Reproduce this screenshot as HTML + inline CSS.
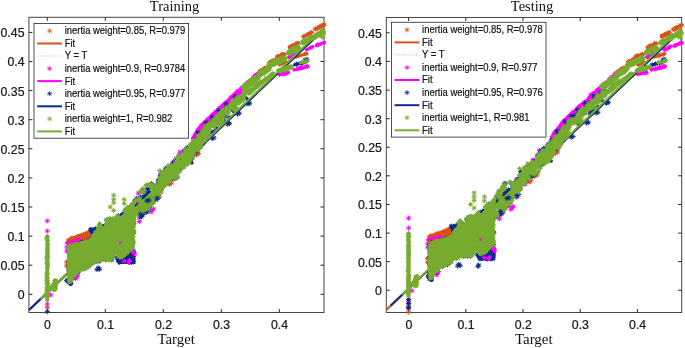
<!DOCTYPE html>
<html><head><meta charset="utf-8"><title>Regression plots</title>
<style>
html,body{margin:0;padding:0;background:#fff}
svg{display:block}
.t{font-family:"Liberation Sans",sans-serif;font-size:12.9px;fill:#1a1a1a;stroke:#1a1a1a;stroke-width:0.25px}
.l{font-family:"Liberation Sans",sans-serif;font-size:10.5px;fill:#111;stroke:#111;stroke-width:0.2px}
.s{font-family:"Liberation Serif",serif;font-size:14.5px;fill:#111}
.s2{font-family:"Liberation Serif",serif;font-size:14.9px;fill:#111}
</style></head><body>
<svg width="685" height="348" viewBox="0 0 685 348">
<rect width="685" height="348" fill="#fff"/>
<clipPath id="cL"><rect x="26.3" y="14.7" width="300.3" height="300.4"/></clipPath>
<rect x="28.9" y="17.3" width="295.1" height="295.2" fill="none" stroke="#444" stroke-width="1"/>
<path d="M47.3 312.5v-3.5M47.3 17.3v3.5M105.3 312.5v-3.5M105.3 17.3v3.5M163.3 312.5v-3.5M163.3 17.3v3.5M221.3 312.5v-3.5M221.3 17.3v3.5M279.3 312.5v-3.5M279.3 17.3v3.5M28.9 294.3h3.5M324 294.3h-3.5M28.9 265.2h3.5M324 265.2h-3.5M28.9 236.1h3.5M324 236.1h-3.5M28.9 207h3.5M324 207h-3.5M28.9 177.9h3.5M324 177.9h-3.5M28.9 148.8h3.5M324 148.8h-3.5M28.9 119.7h3.5M324 119.7h-3.5M28.9 90.6h3.5M324 90.6h-3.5M28.9 61.5h3.5M324 61.5h-3.5M28.9 32.4h3.5M324 32.4h-3.5" stroke="#262626" stroke-width="1" fill="none"/>
<path d="M66.8 238.9L66.8 246.2L66.9 246.2L88.6 239.3L91.7 236.6L91.7 229.9L90.2 230.1L75.3 235.6L75.2 235.6L70.3 237L66.8 238.9Z" fill="#D95319" fill-rule="evenodd" clip-path="url(#cL)"/><path d="M325.3 26.1L325.5 26L325.6 25.9L325.7 25.8L325.9 25.7L326 25.5L326.1 25.4L326.1 25.2L326.2 25.1L326.3 24.9L326.3 24.7L326.3 24.5L326.3 24.4L326.3 24.2L326.2 24L326.2 23.9L326.1 23.7L326 23.5L325.9 23.4L325.8 23.3L325.7 23.1L325.5 23L325.4 22.9L325.2 22.9L325.1 22.8L324.9 22.7L324.7 22.7L324.5 22.7L324.4 22.7L324.2 22.7L324 22.8L323.9 22.8L323.7 22.9L314.7 27.4L314.5 27.5L314.4 27.6L314.3 27.7L314.1 27.8L314 28L313.9 28.1L313.9 28.3L313.8 28.4L313.7 28.6L313.7 28.8L313.7 29L313.7 29.1L313.7 29.3L313.8 29.5L313.8 29.6L313.9 29.8L314 30L314.1 30.1L314.2 30.2L314.3 30.4L314.5 30.5L314.6 30.6L314.8 30.6L314.9 30.7L315.1 30.8L315.3 30.8L315.5 30.8L315.6 30.8L315.8 30.8L316 30.7L316.1 30.7L316.3 30.6L325.3 26.1Z" fill="#D95319" fill-rule="evenodd" clip-path="url(#cL)"/><path d="M312.4 34.1L312.6 34L312.7 33.9L312.8 33.7L313 33.6L313.1 33.5L313.2 33.3L313.3 33.1L313.3 33L313.4 32.8L313.4 32.6L313.4 32.4L313.4 32.2L313.4 32L313.3 31.9L313.3 31.7L313.2 31.5L313.1 31.3L313 31.2L312.8 31.1L312.7 30.9L312.6 30.8L312.4 30.7L312.2 30.6L312.1 30.6L311.9 30.5L311.7 30.5L311.5 30.5L311.3 30.5L311.1 30.5L311 30.6L310.8 30.6L310.6 30.7L303.1 34.7L302.9 34.8L302.8 34.9L302.7 35.1L302.5 35.2L302.4 35.3L302.3 35.5L302.2 35.7L302.2 35.8L302.1 36L302.1 36.2L302.1 36.4L302.1 36.6L302.1 36.8L302.2 36.9L302.2 37.1L302.3 37.3L302.4 37.5L302.5 37.6L302.7 37.7L302.8 37.9L302.9 38L303.1 38.1L303.3 38.2L303.4 38.2L303.6 38.3L303.8 38.3L304 38.3L304.2 38.3L304.4 38.3L304.5 38.2L304.7 38.2L304.9 38.1L312.4 34.1Z" fill="#D95319" fill-rule="evenodd" clip-path="url(#cL)"/><path d="M299.1 44.7L299.3 44.6L299.4 44.5L299.6 44.4L299.7 44.3L299.8 44.1L299.9 44L300 43.8L300.1 43.6L300.1 43.5L300.2 43.3L300.2 43.1L300.2 42.9L300.2 42.7L300.1 42.5L300.1 42.4L300 42.2L299.9 42L299.8 41.9L299.7 41.7L299.6 41.6L299.4 41.5L299.3 41.4L299.1 41.3L298.9 41.2L298.8 41.2L298.6 41.1L298.4 41.1L298.2 41.1L298 41.1L297.8 41.2L297.7 41.2L297.5 41.3L288.7 45.5L288.5 45.6L288.4 45.7L288.2 45.8L288.1 45.9L288 46.1L287.9 46.2L287.8 46.4L287.7 46.6L287.7 46.7L287.6 46.9L287.6 47.1L287.6 47.3L287.6 47.5L287.7 47.7L287.7 47.8L287.8 48L287.9 48.2L288 48.3L288.1 48.5L288.2 48.6L288.4 48.7L288.5 48.8L288.7 48.9L288.9 49L289 49L289.2 49.1L289.4 49.1L289.6 49.1L289.8 49.1L290 49L290.1 49L290.3 48.9L299.1 44.7Z" fill="#D95319" fill-rule="evenodd" clip-path="url(#cL)"/><path d="M285.1 55.9L285.3 55.8L285.4 55.7L285.6 55.6L285.7 55.5L285.8 55.4L286 55.3L286.1 55.1L286.1 54.9L286.2 54.8L286.3 54.6L286.3 54.4L286.3 54.3L286.3 54.1L286.3 53.9L286.2 53.7L286.2 53.6L286.1 53.4L286 53.3L285.9 53.1L285.8 53L285.7 52.9L285.6 52.7L285.4 52.6L285.2 52.6L285.1 52.5L284.9 52.4L284.7 52.4L284.6 52.4L284.4 52.4L284.2 52.4L284 52.5L283.9 52.5L276.4 55.3L276.2 55.4L276.1 55.5L275.9 55.6L275.8 55.7L275.7 55.8L275.5 55.9L275.4 56.1L275.4 56.3L275.3 56.4L275.2 56.6L275.2 56.8L275.2 56.9L275.2 57.1L275.2 57.3L275.3 57.5L275.3 57.6L275.4 57.8L275.5 57.9L275.6 58.1L275.7 58.2L275.8 58.3L275.9 58.5L276.1 58.6L276.3 58.6L276.4 58.7L276.6 58.8L276.8 58.8L276.9 58.8L277.1 58.8L277.3 58.8L277.5 58.7L277.6 58.7L285.1 55.9Z" fill="#D95319" fill-rule="evenodd" clip-path="url(#cL)"/><path d="M307.5 55.1L307.6 55.1L307.8 55L307.9 54.9L308 54.8L308.1 54.7L308.2 54.6L308.3 54.5L308.4 54.3L308.5 54.2L308.5 54L308.6 53.9L308.6 53.7L308.6 53.6L308.6 53.4L308.6 53.3L308.5 53.1L308.5 53L308.4 52.8L308.3 52.7L308.2 52.6L308.1 52.5L308 52.4L307.9 52.3L307.7 52.2L307.6 52.1L307.4 52.1L307.3 52L307.1 52L307 52L306.8 52L306.7 52L306.5 52.1L295.5 55.6L295.4 55.6L295.2 55.7L295.1 55.8L295 55.9L294.9 56L294.8 56.1L294.7 56.2L294.6 56.4L294.5 56.5L294.5 56.7L294.4 56.8L294.4 57L294.4 57.1L294.4 57.3L294.4 57.4L294.5 57.6L294.5 57.7L294.6 57.9L294.7 58L294.8 58.1L294.9 58.2L295 58.3L295.1 58.4L295.3 58.5L295.4 58.6L295.6 58.6L295.7 58.7L295.9 58.7L296 58.7L296.2 58.7L296.3 58.7L296.5 58.6L307.5 55.1Z" fill="#D95319" fill-rule="evenodd" clip-path="url(#cL)"/><path d="M286.5 63.2L286.7 63.2L286.8 63.1L286.9 63L287 62.8L287.1 62.7L287.2 62.6L287.3 62.5L287.3 62.3L287.4 62.2L287.4 62L287.4 61.8L287.4 61.7L287.4 61.5L287.3 61.4L287.3 61.2L287.2 61.1L287.2 60.9L287.1 60.8L287 60.7L286.8 60.6L286.7 60.5L286.6 60.4L286.5 60.3L286.3 60.3L286.2 60.2L286 60.2L285.8 60.2L285.7 60.2L285.5 60.2L285.4 60.3L285.2 60.3L285.1 60.4L278.9 63.5L278.7 63.5L278.6 63.6L278.5 63.7L278.4 63.9L278.3 64L278.2 64.1L278.1 64.2L278.1 64.4L278 64.5L278 64.7L278 64.9L278 65L278 65.2L278.1 65.3L278.1 65.5L278.2 65.6L278.2 65.8L278.3 65.9L278.4 66L278.6 66.1L278.7 66.2L278.8 66.3L278.9 66.4L279.1 66.4L279.2 66.5L279.4 66.5L279.6 66.5L279.7 66.5L279.9 66.5L280 66.4L280.2 66.4L280.3 66.3L286.5 63.2Z" fill="#D95319" fill-rule="evenodd" clip-path="url(#cL)"/><path d="M283.5 59L283.8 58.8L284 58.7L284.1 58.6L284.3 58.4L284.4 58.2L284.6 58L284.7 57.8L284.8 57.6L284.8 57.3L284.9 57.1L284.9 56.9L284.9 56.6L284.9 56.4L284.8 56.2L284.7 56L284.7 55.7L284.5 55.5L284.4 55.3L284.3 55.2L284.1 55L283.9 54.9L283.7 54.7L283.5 54.6L283.3 54.5L283 54.5L282.8 54.4L282.6 54.4L282.3 54.4L282.1 54.4L281.9 54.5L281.7 54.6L281.4 54.7L269.5 60.5L269.2 60.7L269 60.8L268.9 60.9L268.7 61.1L268.6 61.3L268.4 61.5L268.3 61.7L268.2 61.9L268.2 62.2L268.1 62.4L268.1 62.6L268.1 62.9L268.1 63.1L268.2 63.3L268.3 63.5L268.3 63.8L268.5 64L268.6 64.2L268.7 64.3L268.9 64.5L269.1 64.6L269.3 64.8L269.5 64.9L269.7 65L270 65L270.2 65.1L270.4 65.1L270.7 65.1L270.9 65.1L271.1 65L271.3 64.9L271.6 64.8L283.5 59Z" fill="#D95319" fill-rule="evenodd" clip-path="url(#cL)"/><path d="M267.5 69.5L267.7 69.4L267.9 69.3L268 69.1L268.1 69L268.2 68.8L268.3 68.6L268.4 68.4L268.4 68.2L268.5 68.1L268.5 67.9L268.5 67.7L268.5 67.5L268.4 67.3L268.4 67.1L268.3 66.9L268.2 66.7L268.1 66.6L268 66.4L267.8 66.3L267.7 66.2L267.5 66.1L267.3 66L267.1 65.9L266.9 65.9L266.8 65.8L266.6 65.8L266.4 65.8L266.2 65.8L266 65.9L265.8 65.9L265.6 66L265.4 66.1L258.5 70.5L258.3 70.6L258.1 70.7L258 70.9L257.9 71L257.8 71.2L257.7 71.4L257.6 71.6L257.6 71.8L257.5 71.9L257.5 72.1L257.5 72.3L257.5 72.5L257.6 72.7L257.6 72.9L257.7 73.1L257.8 73.3L257.9 73.4L258 73.6L258.2 73.7L258.3 73.8L258.5 73.9L258.7 74L258.9 74.1L259.1 74.1L259.2 74.2L259.4 74.2L259.6 74.2L259.8 74.2L260 74.1L260.2 74.1L260.4 74L260.6 73.9L267.5 69.5Z" fill="#D95319" fill-rule="evenodd" clip-path="url(#cL)"/>
<path d="M87.3 231.8h5M89.8 229.3v5M88 230l3.5 3.5M88 233.5l3.5 -3.5M85.9 232.1h5M88.4 229.6v5M86.6 230.3l3.5 3.5M86.6 233.8l3.5 -3.5M86.6 233.2h5M89.1 230.7v5M87.4 231.4l3.5 3.5M87.4 234.9l3.5 -3.5M81.1 235.1h5M83.6 232.6v5M81.8 233.3l3.5 3.5M81.8 236.8l3.5 -3.5M83 233.8h5M85.5 231.3v5M83.8 232.1l3.5 3.5M83.8 235.6l3.5 -3.5M84 234.5h5M86.5 232v5M84.8 232.7l3.5 3.5M84.8 236.2l3.5 -3.5M85.1 234.1h5M87.6 231.6v5M85.8 232.4l3.5 3.5M85.8 235.9l3.5 -3.5M87 233.6h5M89.5 231.1v5M87.8 231.8l3.5 3.5M87.8 235.3l3.5 -3.5M75.4 236.3h5M77.9 233.8v5M76.1 234.6l3.5 3.5M76.1 238.1l3.5 -3.5M78 236.3h5M80.5 233.8v5M78.8 234.6l3.5 3.5M78.8 238.1l3.5 -3.5M80.7 235.1h5M83.2 232.6v5M81.5 233.3l3.5 3.5M81.5 236.8l3.5 -3.5M81.1 235.2h5M83.6 232.7v5M81.8 233.5l3.5 3.5M81.8 237l3.5 -3.5M82.9 235.7h5M85.4 233.2v5M83.6 233.9l3.5 3.5M83.6 237.4l3.5 -3.5M85.2 235.3h5M87.7 232.8v5M86 233.5l3.5 3.5M86 237l3.5 -3.5M85.9 235.6h5M88.4 233.1v5M86.7 233.8l3.5 3.5M86.7 237.3l3.5 -3.5M73 237.6h5M75.5 235.1v5M73.7 235.9l3.5 3.5M73.7 239.4l3.5 -3.5M74.6 237.7h5M77.1 235.2v5M75.4 235.9l3.5 3.5M75.4 239.4l3.5 -3.5M75.5 237h5M78 234.5v5M76.3 235.2l3.5 3.5M76.3 238.7l3.5 -3.5M76.7 237.4h5M79.2 234.9v5M77.5 235.6l3.5 3.5M77.5 239.1l3.5 -3.5M78.4 236.4h5M80.9 233.9v5M79.1 234.7l3.5 3.5M79.1 238.2l3.5 -3.5M80.3 236.6h5M82.8 234.1v5M81.1 234.8l3.5 3.5M81.1 238.3l3.5 -3.5M82.2 236.4h5M84.7 233.9v5M83 234.7l3.5 3.5M83 238.2l3.5 -3.5M83.4 236.6h5M85.9 234.1v5M84.1 234.8l3.5 3.5M84.1 238.3l3.5 -3.5M85.2 236.9h5M87.7 234.4v5M86 235.2l3.5 3.5M86 238.7l3.5 -3.5M69.5 238h5M72 235.5v5M70.3 236.3l3.5 3.5M70.3 239.8l3.5 -3.5M72 239.5h5M74.5 237v5M72.8 237.7l3.5 3.5M72.8 241.2l3.5 -3.5M73.1 238.6h5M75.6 236.1v5M73.8 236.9l3.5 3.5M73.8 240.4l3.5 -3.5M74.1 238h5M76.6 235.5v5M74.9 236.2l3.5 3.5M74.9 239.7l3.5 -3.5M76.3 238.2h5M78.8 235.7v5M77 236.5l3.5 3.5M77 240l3.5 -3.5M78.8 238.1h5M81.3 235.6v5M79.6 236.3l3.5 3.5M79.6 239.8l3.5 -3.5M79.1 239.4h5M81.6 236.9v5M79.9 237.7l3.5 3.5M79.9 241.2l3.5 -3.5M81.7 238h5M84.2 235.5v5M82.4 236.3l3.5 3.5M82.4 239.8l3.5 -3.5M83.4 237.8h5M85.9 235.3v5M84.2 236.1l3.5 3.5M84.2 239.6l3.5 -3.5M66.6 240.6h5M69.1 238.1v5M67.4 238.8l3.5 3.5M67.4 242.3l3.5 -3.5M69 240.6h5M71.5 238.1v5M69.7 238.9l3.5 3.5M69.7 242.4l3.5 -3.5M70.3 239.7h5M72.8 237.2v5M71.1 237.9l3.5 3.5M71.1 241.4l3.5 -3.5M72.8 241h5M75.3 238.5v5M73.6 239.2l3.5 3.5M73.6 242.7l3.5 -3.5M74.6 240.6h5M77.1 238.1v5M75.3 238.9l3.5 3.5M75.3 242.4l3.5 -3.5M76.2 240.5h5M78.7 238v5M77 238.8l3.5 3.5M77 242.3l3.5 -3.5M76.9 240.2h5M79.4 237.7v5M77.7 238.4l3.5 3.5M77.7 241.9l3.5 -3.5M78.9 239.3h5M81.4 236.8v5M79.6 237.6l3.5 3.5M79.6 241.1l3.5 -3.5M80 239.8h5M82.5 237.3v5M80.7 238l3.5 3.5M80.7 241.5l3.5 -3.5M65.9 241.1h5M68.4 238.6v5M66.6 239.4l3.5 3.5M66.6 242.9l3.5 -3.5M67.5 241.1h5M70 238.6v5M68.3 239.4l3.5 3.5M68.3 242.9l3.5 -3.5M70 242.3h5M72.5 239.8v5M70.7 240.5l3.5 3.5M70.7 244l3.5 -3.5M72 241.6h5M74.5 239.1v5M72.8 239.8l3.5 3.5M72.8 243.3l3.5 -3.5M67.9 243.6h5M70.4 241.1v5M68.6 241.9l3.5 3.5M68.6 245.4l3.5 -3.5M68.3 243.6h5M70.8 241.1v5M69 241.9l3.5 3.5M69 245.4l3.5 -3.5M318.5 26.1h5M321 23.6v5M319.2 24.4l3.5 3.5M319.2 27.9l3.5 -3.5M320.6 24.8h5M323.1 22.3v5M321.4 23l3.5 3.5M321.4 26.5l3.5 -3.5M321.1 25.3h5M323.6 22.8v5M321.9 23.5l3.5 3.5M321.9 27l3.5 -3.5M316.3 27.5h5M318.8 25v5M317 25.8l3.5 3.5M317 29.3l3.5 -3.5M316.9 27.2h5M319.4 24.7v5M317.7 25.5l3.5 3.5M317.7 29l3.5 -3.5M319.5 26.3h5M322 23.8v5M320.2 24.5l3.5 3.5M320.2 28l3.5 -3.5M312.8 29.1h5M315.3 26.6v5M313.5 27.4l3.5 3.5M313.5 30.9l3.5 -3.5M314.8 28.3h5M317.3 25.8v5M315.5 26.6l3.5 3.5M315.5 30.1l3.5 -3.5M306.6 33.9h5M309.1 31.4v5M307.4 32.1l3.5 3.5M307.4 35.6l3.5 -3.5M309 32.8h5M311.5 30.3v5M309.7 31l3.5 3.5M309.7 34.5l3.5 -3.5M306.2 34.5h5M308.7 32v5M307 32.8l3.5 3.5M307 36.3l3.5 -3.5M300.9 36.7h5M303.4 34.2v5M301.7 35l3.5 3.5M301.7 38.5l3.5 -3.5M294.7 43.1h5M297.2 40.6v5M295.4 41.4l3.5 3.5M295.4 44.9l3.5 -3.5M290 46.1h5M292.5 43.6v5M290.8 44.3l3.5 3.5M290.8 47.8l3.5 -3.5M291.1 45.8h5M293.6 43.3v5M291.9 44.1l3.5 3.5M291.9 47.6l3.5 -3.5M288.1 47.1h5M290.6 44.6v5M288.9 45.4l3.5 3.5M288.9 48.9l3.5 -3.5M290.1 46.2h5M292.6 43.7v5M290.9 44.4l3.5 3.5M290.9 47.9l3.5 -3.5M280.3 54.4h5M282.8 51.9v5M281 52.6l3.5 3.5M281 56.1l3.5 -3.5M279 54.7h5M281.5 52.2v5M279.8 52.9l3.5 3.5M279.8 56.4l3.5 -3.5M280.9 54.9h5M283.4 52.4v5M281.6 53.2l3.5 3.5M281.6 56.7l3.5 -3.5M275.3 56.1h5M277.8 53.6v5M276 54.4l3.5 3.5M276 57.9l3.5 -3.5M303.3 53.8h5M305.8 51.3v5M304.1 52l3.5 3.5M304.1 55.5l3.5 -3.5M281.4 62.5h5M283.9 60v5M282.1 60.8l3.5 3.5M282.1 64.3l3.5 -3.5M282.8 62.1h5M285.3 59.6v5M283.5 60.3l3.5 3.5M283.5 63.8l3.5 -3.5M279.2 57.7h5M281.7 55.2v5M280 55.9l3.5 3.5M280 59.4l3.5 -3.5M276.2 58.7h5M278.7 56.2v5M276.9 57l3.5 3.5M276.9 60.5l3.5 -3.5M276.8 58.4h5M279.3 55.9v5M277.5 56.7l3.5 3.5M277.5 60.2l3.5 -3.5M278.3 57.8h5M280.8 55.3v5M279.1 56l3.5 3.5M279.1 59.5l3.5 -3.5M272.5 60.8h5M275 58.3v5M273.3 59.1l3.5 3.5M273.3 62.6l3.5 -3.5M268.9 61.8h5M271.4 59.3v5M269.7 60l3.5 3.5M269.7 63.5l3.5 -3.5M269.8 60.8h5M272.3 58.3v5M270.6 59l3.5 3.5M270.6 62.5l3.5 -3.5M272.6 60.9h5M275.1 58.4v5M273.4 59.1l3.5 3.5M273.4 62.6l3.5 -3.5M273.6 61.3h5M276.1 58.8v5M274.3 59.5l3.5 3.5M274.3 63l3.5 -3.5M267.1 62.4h5M269.6 59.9v5M267.8 60.7l3.5 3.5M267.8 64.2l3.5 -3.5M271 62.5h5M273.5 60v5M271.8 60.8l3.5 3.5M271.8 64.3l3.5 -3.5M262 68.4h5M264.5 65.9v5M262.7 66.6l3.5 3.5M262.7 70.1l3.5 -3.5M260.3 69.9h5M262.8 67.4v5M261 68.2l3.5 3.5M261 71.7l3.5 -3.5M261.5 69.1h5M264 66.6v5M262.2 67.4l3.5 3.5M262.2 70.9l3.5 -3.5M257.9 71h5M260.4 68.5v5M258.6 69.3l3.5 3.5M258.6 72.8l3.5 -3.5M258.1 70.9h5M260.6 68.4v5M258.8 69.1l3.5 3.5M258.8 72.6l3.5 -3.5M44.8 307.3h5M47.3 304.8v5M45.5 305.6l3.5 3.5M45.5 309.1l3.5 -3.5M116 259.5h5M118.5 257v5M116.8 257.8l3.5 3.5M116.8 261.2l3.5 -3.5M172.5 178.5h5M175 176v5M173.2 176.8l3.5 3.5M173.2 180.2l3.5 -3.5M175 177h5M177.5 174.5v5M175.8 175.2l3.5 3.5M175.8 178.8l3.5 -3.5M167 184.3h5M169.5 181.8v5M167.8 182.6l3.5 3.5M167.8 186.1l3.5 -3.5M169 183h5M171.5 180.5v5M169.8 181.2l3.5 3.5M169.8 184.8l3.5 -3.5M194 155h5M196.5 152.5v5M194.8 153.2l3.5 3.5M194.8 156.8l3.5 -3.5M196 153.5h5M198.5 151v5M196.8 151.8l3.5 3.5M196.8 155.2l3.5 -3.5M64.1 262h5M66.6 259.5v5M64.8 260.2l3.5 3.5M64.8 263.8l3.5 -3.5M64 266h5M66.5 263.5v5M64.8 264.2l3.5 3.5M64.8 267.8l3.5 -3.5" stroke="#D95319" stroke-width="1.0" fill="none" clip-path="url(#cL)"/>

<line x1="29" y1="310" x2="324" y2="29.3" stroke="#D95319" stroke-width="2" clip-path="url(#cL)"/>
<line x1="28.9" y1="312.5" x2="324" y2="17.3" stroke="#777" stroke-width="0.6" stroke-dasharray="0.8 1.6"/>
<path d="M191 138.9L194.4 143.1L197.8 136.6L197.8 136.6L197.9 136.5L205.9 126.5L206 126.4L216.5 116.5L223.5 109.5L223.6 109.5L230.5 104.3L233.9 100L233.9 99.9L234 99.9L245.5 90.4L250.4 85.4L250.5 85.4L258.5 77.9L258.5 77.9L258.6 77.8L262.3 75.3L258.8 71.1L255 73.6L247.1 81.1L242.1 86.1L242 86.1L230.6 95.6L227.2 99.9L227.2 99.9L227.1 100L227.1 100L220.1 105.2L213.2 112.2L213.1 112.2L202.6 122L194.7 131.9L191 138.9Z" fill="#FF00FF" fill-rule="evenodd" clip-path="url(#cL)"/><path d="M74.3 242.1L74.4 242.1L80.3 240.5L80.5 240.4L80.6 240.4L80.7 240.3L80.8 240.2L80.9 240.1L81 240.1L81.1 240L81.1 239.9L81.2 239.7L81.2 239.6L81.3 239.5L81.3 239.4L81.3 239.2L81.3 239.1L81.3 239L81.3 238.9L81.2 238.7L81.2 238.6L81.1 238.5L81 238.4L80.9 238.3L80.9 238.2L80.8 238.1L80.7 238.1L80.5 238L80.4 238L80.3 237.9L80.2 237.9L80 237.9L79.9 237.9L79.8 237.9L79.6 237.9L73.7 239.5L73.6 239.6L66 241.7L65.8 241.8L65.7 241.8L65.6 241.9L65.5 242L65.4 242.1L65.3 242.2L65.2 242.3L65.2 242.4L65.1 242.5L65.1 242.6L65 242.7L65 242.9L65 243L65 243.1L65 243.2L65.1 243.4L65.1 243.5L65.1 243.6L65.2 243.7L65.3 243.8L65.4 243.9L65.5 244L65.6 244.1L65.7 244.1L65.8 244.2L65.9 244.2L66 244.3L66.2 244.3L66.3 244.3L66.4 244.3L66.5 244.3L66.7 244.2L74.3 242.1Z" fill="#FF00FF" fill-rule="evenodd" clip-path="url(#cL)"/><path d="M325.2 44L325.4 43.9L325.5 43.8L325.7 43.7L325.8 43.6L325.9 43.5L326 43.4L326.1 43.2L326.2 43.1L326.2 42.9L326.3 42.8L326.3 42.6L326.3 42.4L326.3 42.3L326.3 42.1L326.2 41.9L326.2 41.8L326.1 41.6L326 41.5L325.9 41.3L325.8 41.2L325.7 41.1L325.6 41L325.4 40.9L325.3 40.8L325.1 40.8L325 40.7L324.8 40.7L324.6 40.7L324.5 40.7L324.3 40.7L324.1 40.8L324 40.8L315.9 44L315.7 44.1L315.6 44.2L315.4 44.3L315.3 44.4L315.2 44.5L315.1 44.6L315 44.8L314.9 44.9L314.9 45.1L314.8 45.2L314.8 45.4L314.8 45.6L314.8 45.7L314.8 45.9L314.9 46.1L314.9 46.2L315 46.4L315.1 46.5L315.2 46.7L315.3 46.8L315.4 46.9L315.5 47L315.7 47.1L315.8 47.2L316 47.2L316.1 47.3L316.3 47.3L316.5 47.3L316.6 47.3L316.8 47.3L317 47.2L317.1 47.2L325.2 44Z" fill="#FF00FF" fill-rule="evenodd" clip-path="url(#cL)"/><path d="M313.5 48L313.7 47.9L313.8 47.9L313.9 47.8L314 47.6L314.1 47.5L314.2 47.4L314.3 47.2L314.3 47.1L314.4 46.9L314.4 46.8L314.4 46.6L314.4 46.5L314.4 46.3L314.3 46.2L314.3 46L314.2 45.9L314.1 45.7L314.1 45.6L314 45.5L313.8 45.4L313.7 45.3L313.6 45.2L313.4 45.1L313.3 45.1L313.1 45L313 45L312.8 45L312.7 45L312.5 45L312.4 45.1L312.2 45.1L312.1 45.2L305.8 48.4L305.6 48.5L305.5 48.5L305.4 48.6L305.3 48.8L305.2 48.9L305.1 49L305 49.2L305 49.3L304.9 49.5L304.9 49.6L304.9 49.8L304.9 49.9L304.9 50.1L305 50.2L305 50.4L305.1 50.5L305.2 50.7L305.2 50.8L305.3 50.9L305.5 51L305.6 51.1L305.7 51.2L305.9 51.3L306 51.3L306.2 51.4L306.3 51.4L306.5 51.4L306.6 51.4L306.8 51.4L306.9 51.3L307.1 51.3L307.2 51.2L313.5 48Z" fill="#FF00FF" fill-rule="evenodd" clip-path="url(#cL)"/><path d="M296.8 54.6L297 54.5L297.1 54.4L297.2 54.3L297.3 54.1L297.4 54L297.5 53.9L297.6 53.7L297.6 53.5L297.7 53.4L297.7 53.2L297.7 53.1L297.7 52.9L297.7 52.7L297.6 52.6L297.6 52.4L297.5 52.3L297.4 52.1L297.3 52L297.2 51.9L297 51.8L296.9 51.7L296.8 51.6L296.6 51.5L296.4 51.5L296.3 51.4L296.1 51.4L296 51.4L295.8 51.4L295.6 51.4L295.5 51.5L295.3 51.5L295.1 51.6L288.2 55.6L288 55.7L287.9 55.8L287.8 55.9L287.7 56.1L287.6 56.2L287.5 56.3L287.4 56.5L287.4 56.7L287.3 56.8L287.3 57L287.3 57.1L287.3 57.3L287.3 57.5L287.4 57.6L287.4 57.8L287.5 57.9L287.6 58.1L287.7 58.2L287.8 58.3L288 58.4L288.1 58.5L288.2 58.6L288.4 58.7L288.6 58.7L288.7 58.8L288.9 58.8L289 58.8L289.2 58.8L289.4 58.8L289.5 58.7L289.7 58.7L289.9 58.6L296.8 54.6Z" fill="#FF00FF" fill-rule="evenodd" clip-path="url(#cL)"/><path d="M288.8 74.1L289 74L289.1 74L289.3 73.9L289.4 73.8L289.5 73.7L289.7 73.6L289.8 73.5L289.8 73.4L289.9 73.2L290 73.1L290 72.9L290.1 72.8L290.1 72.6L290.1 72.5L290.1 72.3L290.1 72.2L290 72L290 71.9L289.9 71.7L289.8 71.6L289.7 71.5L289.6 71.3L289.5 71.2L289.4 71.2L289.2 71.1L289.1 71L288.9 71L288.8 70.9L288.6 70.9L288.5 70.9L288.3 70.9L288.1 70.9L278.7 73L278.5 73.1L278.4 73.1L278.2 73.2L278.1 73.3L278 73.4L277.8 73.5L277.7 73.6L277.7 73.7L277.6 73.9L277.5 74L277.5 74.2L277.4 74.3L277.4 74.5L277.4 74.6L277.4 74.8L277.4 74.9L277.5 75.1L277.5 75.2L277.6 75.4L277.7 75.5L277.8 75.6L277.9 75.8L278 75.9L278.1 75.9L278.3 76L278.4 76.1L278.6 76.1L278.7 76.2L278.9 76.2L279 76.2L279.2 76.2L279.4 76.2L288.8 74.1Z" fill="#FF00FF" fill-rule="evenodd" clip-path="url(#cL)"/><path d="M307.9 68L308.1 67.9L308.2 67.8L308.3 67.8L308.5 67.7L308.6 67.6L308.7 67.5L308.8 67.3L308.9 67.2L309 67.1L309 66.9L309.1 66.8L309.1 66.6L309.1 66.5L309.1 66.3L309.1 66.2L309 66L309 65.8L308.9 65.7L308.9 65.6L308.8 65.4L308.7 65.3L308.6 65.2L308.4 65.1L308.3 65L308.2 64.9L308 64.9L307.9 64.8L307.7 64.8L307.6 64.8L307.4 64.8L307.3 64.8L307.1 64.9L293.6 68.3L293.4 68.4L293.3 68.5L293.2 68.5L293 68.6L292.9 68.7L292.8 68.8L292.7 69L292.6 69.1L292.5 69.2L292.5 69.4L292.4 69.5L292.4 69.7L292.4 69.8L292.4 70L292.4 70.1L292.5 70.3L292.5 70.5L292.6 70.6L292.6 70.7L292.7 70.9L292.8 71L292.9 71.1L293.1 71.2L293.2 71.3L293.3 71.4L293.5 71.4L293.6 71.5L293.8 71.5L293.9 71.5L294.1 71.5L294.2 71.5L294.4 71.4L307.9 68Z" fill="#FF00FF" fill-rule="evenodd" clip-path="url(#cL)"/>
<path d="M254.1 74.7h5M256.6 72.2v5M254.8 73l3.5 3.5M254.8 76.5l3.5 -3.5M255.6 73.5h5M258.1 71v5M256.4 71.8l3.5 3.5M256.4 75.3l3.5 -3.5M253.2 75.1h5M255.7 72.6v5M253.9 73.4l3.5 3.5M253.9 76.9l3.5 -3.5M253.7 76.3h5M256.2 73.8v5M254.4 74.6l3.5 3.5M254.4 78.1l3.5 -3.5M256.1 76.2h5M258.6 73.7v5M256.8 74.4l3.5 3.5M256.8 77.9l3.5 -3.5M251.2 77h5M253.7 74.5v5M252 75.3l3.5 3.5M252 78.8l3.5 -3.5M253.7 76.3h5M256.2 73.8v5M254.4 74.6l3.5 3.5M254.4 78.1l3.5 -3.5M255.6 76.4h5M258.1 73.9v5M256.3 74.6l3.5 3.5M256.3 78.1l3.5 -3.5M251.3 78.5h5M253.8 76v5M252 76.7l3.5 3.5M252 80.2l3.5 -3.5M253.9 78.1h5M256.4 75.6v5M254.6 76.4l3.5 3.5M254.6 79.9l3.5 -3.5M249 80.1h5M251.5 77.6v5M249.8 78.4l3.5 3.5M249.8 81.9l3.5 -3.5M249.8 80.3h5M252.3 77.8v5M250.6 78.6l3.5 3.5M250.6 82.1l3.5 -3.5M246.8 81.6h5M249.3 79.1v5M247.5 79.8l3.5 3.5M247.5 83.3l3.5 -3.5M248.3 81.7h5M250.8 79.2v5M249 80l3.5 3.5M249 83.5l3.5 -3.5M248.6 81.4h5M251.1 78.9v5M249.3 79.6l3.5 3.5M249.3 83.1l3.5 -3.5M244.7 82.7h5M247.2 80.2v5M245.5 81l3.5 3.5M245.5 84.5l3.5 -3.5M246.9 82.4h5M249.4 79.9v5M247.6 80.7l3.5 3.5M247.6 84.2l3.5 -3.5M248.2 82.5h5M250.7 80v5M249 80.7l3.5 3.5M249 84.2l3.5 -3.5M243.2 84.5h5M245.7 82v5M243.9 82.8l3.5 3.5M243.9 86.3l3.5 -3.5M244.1 85.3h5M246.6 82.8v5M244.9 83.5l3.5 3.5M244.9 87l3.5 -3.5M245.5 84.8h5M248 82.3v5M246.2 83.1l3.5 3.5M246.2 86.6l3.5 -3.5M244.1 86.5h5M246.6 84v5M244.9 84.7l3.5 3.5M244.9 88.2l3.5 -3.5M244.6 86.6h5M247.1 84.1v5M245.3 84.9l3.5 3.5M245.3 88.4l3.5 -3.5M239.4 87.9h5M241.9 85.4v5M240.2 86.2l3.5 3.5M240.2 89.7l3.5 -3.5M240.1 87.8h5M242.6 85.3v5M240.9 86.1l3.5 3.5M240.9 89.6l3.5 -3.5M243.2 87.5h5M245.7 85v5M244 85.8l3.5 3.5M244 89.3l3.5 -3.5M243.5 87.1h5M246 84.6v5M244.3 85.4l3.5 3.5M244.3 88.9l3.5 -3.5M238.6 89.3h5M241.1 86.8v5M239.3 87.5l3.5 3.5M239.3 91l3.5 -3.5M240 89.7h5M242.5 87.2v5M240.7 87.9l3.5 3.5M240.7 91.4l3.5 -3.5M241.3 89.7h5M243.8 87.2v5M242.1 88l3.5 3.5M242.1 91.5l3.5 -3.5M237.1 90.8h5M239.6 88.3v5M237.8 89.1l3.5 3.5M237.8 92.6l3.5 -3.5M239.7 90.3h5M242.2 87.8v5M240.4 88.6l3.5 3.5M240.4 92.1l3.5 -3.5M240.2 90.9h5M242.7 88.4v5M240.9 89.2l3.5 3.5M240.9 92.7l3.5 -3.5M233.9 92.6h5M236.4 90.1v5M234.7 90.8l3.5 3.5M234.7 94.3l3.5 -3.5M235.5 91.1h5M238 88.6v5M236.3 89.4l3.5 3.5M236.3 92.9l3.5 -3.5M237.1 92.3h5M239.6 89.8v5M237.9 90.5l3.5 3.5M237.9 94l3.5 -3.5M239.3 91.3h5M241.8 88.8v5M240 89.5l3.5 3.5M240 93l3.5 -3.5M234.9 92.6h5M237.4 90.1v5M235.7 90.8l3.5 3.5M235.7 94.3l3.5 -3.5M236.3 93.1h5M238.8 90.6v5M237.1 91.4l3.5 3.5M237.1 94.9l3.5 -3.5M236.9 92.5h5M239.4 90v5M237.6 90.8l3.5 3.5M237.6 94.3l3.5 -3.5M231.9 94.3h5M234.4 91.8v5M232.6 92.6l3.5 3.5M232.6 96.1l3.5 -3.5M232.4 95h5M234.9 92.5v5M233.2 93.3l3.5 3.5M233.2 96.8l3.5 -3.5M235.1 94.9h5M237.6 92.4v5M235.8 93.1l3.5 3.5M235.8 96.6l3.5 -3.5M231.5 96.4h5M234 93.9v5M232.2 94.6l3.5 3.5M232.2 98.1l3.5 -3.5M232 96.3h5M234.5 93.8v5M232.7 94.5l3.5 3.5M232.7 98l3.5 -3.5M234.1 95.7h5M236.6 93.2v5M234.9 94l3.5 3.5M234.9 97.5l3.5 -3.5M228.3 97.6h5M230.8 95.1v5M229.1 95.9l3.5 3.5M229.1 99.4l3.5 -3.5M229.8 97.7h5M232.3 95.2v5M230.5 96l3.5 3.5M230.5 99.5l3.5 -3.5M231.9 97.5h5M234.4 95v5M232.7 95.7l3.5 3.5M232.7 99.2l3.5 -3.5M227 100.1h5M229.5 97.6v5M227.8 98.4l3.5 3.5M227.8 101.9l3.5 -3.5M229.2 98.5h5M231.7 96v5M230 96.8l3.5 3.5M230 100.3l3.5 -3.5M226.5 100.6h5M229 98.1v5M227.2 98.8l3.5 3.5M227.2 102.3l3.5 -3.5M228 100h5M230.5 97.5v5M228.7 98.3l3.5 3.5M228.7 101.8l3.5 -3.5M224.2 102h5M226.7 99.5v5M224.9 100.2l3.5 3.5M224.9 103.7l3.5 -3.5M225.4 102.5h5M227.9 100v5M226.2 100.8l3.5 3.5M226.2 104.3l3.5 -3.5M227.6 101.8h5M230.1 99.3v5M228.4 100.1l3.5 3.5M228.4 103.6l3.5 -3.5M222.7 103.1h5M225.2 100.6v5M223.5 101.4l3.5 3.5M223.5 104.9l3.5 -3.5M225.1 104h5M227.6 101.5v5M225.8 102.3l3.5 3.5M225.8 105.8l3.5 -3.5M226 103.3h5M228.5 100.8v5M226.7 101.5l3.5 3.5M226.7 105l3.5 -3.5M220.3 105.8h5M222.8 103.3v5M221 104l3.5 3.5M221 107.5l3.5 -3.5M221.7 104.4h5M224.2 101.9v5M222.5 102.7l3.5 3.5M222.5 106.2l3.5 -3.5M224 105.4h5M226.5 102.9v5M224.8 103.7l3.5 3.5M224.8 107.2l3.5 -3.5M220.3 106.8h5M222.8 104.3v5M221.1 105l3.5 3.5M221.1 108.5l3.5 -3.5M220.7 107.3h5M223.2 104.8v5M221.4 105.6l3.5 3.5M221.4 109.1l3.5 -3.5M222.6 106h5M225.1 103.5v5M223.4 104.2l3.5 3.5M223.4 107.7l3.5 -3.5M216.6 108.3h5M219.1 105.8v5M217.3 106.5l3.5 3.5M217.3 110l3.5 -3.5M218.4 108.5h5M220.9 106v5M219.2 106.7l3.5 3.5M219.2 110.2l3.5 -3.5M220.3 107.6h5M222.8 105.1v5M221 105.8l3.5 3.5M221 109.3l3.5 -3.5M215.9 110.5h5M218.4 108v5M216.7 108.7l3.5 3.5M216.7 112.2l3.5 -3.5M217.9 109.4h5M220.4 106.9v5M218.7 107.7l3.5 3.5M218.7 111.2l3.5 -3.5M219.2 109.2h5M221.7 106.7v5M220 107.4l3.5 3.5M220 110.9l3.5 -3.5M214.4 111.2h5M216.9 108.7v5M215.2 109.5l3.5 3.5M215.2 113l3.5 -3.5M216.2 110.4h5M218.7 107.9v5M217 108.6l3.5 3.5M217 112.1l3.5 -3.5M217.3 111.5h5M219.8 109v5M218 109.8l3.5 3.5M218 113.3l3.5 -3.5M212.4 112.5h5M214.9 110v5M213.2 110.7l3.5 3.5M213.2 114.2l3.5 -3.5M214.1 112.1h5M216.6 109.6v5M214.8 110.3l3.5 3.5M214.8 113.8l3.5 -3.5M209.8 114.9h5M212.3 112.4v5M210.6 113.1l3.5 3.5M210.6 116.6l3.5 -3.5M212.6 114.5h5M215.1 112v5M213.4 112.7l3.5 3.5M213.4 116.2l3.5 -3.5M213.3 113.5h5M215.8 111v5M214.1 111.8l3.5 3.5M214.1 115.3l3.5 -3.5M215 113.3h5M217.5 110.8v5M215.7 111.6l3.5 3.5M215.7 115.1l3.5 -3.5M209.5 115.6h5M212 113.1v5M210.2 113.9l3.5 3.5M210.2 117.4l3.5 -3.5M211.7 115.1h5M214.2 112.6v5M212.4 113.4l3.5 3.5M212.4 116.9l3.5 -3.5M212.3 116.1h5M214.8 113.6v5M213 114.4l3.5 3.5M213 117.9l3.5 -3.5M209.3 117.5h5M211.8 115v5M210 115.7l3.5 3.5M210 119.2l3.5 -3.5M209.5 117.2h5M212 114.7v5M210.2 115.4l3.5 3.5M210.2 118.9l3.5 -3.5M205.7 119h5M208.2 116.5v5M206.4 117.3l3.5 3.5M206.4 120.8l3.5 -3.5M207.4 118.9h5M209.9 116.4v5M208.1 117.1l3.5 3.5M208.1 120.6l3.5 -3.5M210 118.7h5M212.5 116.2v5M210.7 116.9l3.5 3.5M210.7 120.4l3.5 -3.5M205.2 120.6h5M207.7 118.1v5M205.9 118.9l3.5 3.5M205.9 122.4l3.5 -3.5M207.1 120.1h5M209.6 117.6v5M207.8 118.3l3.5 3.5M207.8 121.8l3.5 -3.5M207.9 119.4h5M210.4 116.9v5M208.6 117.6l3.5 3.5M208.6 121.1l3.5 -3.5M204.4 121.1h5M206.9 118.6v5M205.1 119.4l3.5 3.5M205.1 122.9l3.5 -3.5M206.7 120.8h5M209.2 118.3v5M207.5 119l3.5 3.5M207.5 122.5l3.5 -3.5M201.7 122.5h5M204.2 120v5M202.5 120.8l3.5 3.5M202.5 124.3l3.5 -3.5M203.5 123.6h5M206 121.1v5M204.2 121.9l3.5 3.5M204.2 125.4l3.5 -3.5M199.1 125.2h5M201.6 122.7v5M199.9 123.5l3.5 3.5M199.9 127l3.5 -3.5M200.7 124.7h5M203.2 122.2v5M201.5 123l3.5 3.5M201.5 126.5l3.5 -3.5M202.9 124.2h5M205.4 121.7v5M203.6 122.5l3.5 3.5M203.6 126l3.5 -3.5M198.6 126.4h5M201.1 123.9v5M199.4 124.6l3.5 3.5M199.4 128.1l3.5 -3.5M199.8 125.3h5M202.3 122.8v5M200.5 123.6l3.5 3.5M200.5 127.1l3.5 -3.5M202.2 125.9h5M204.7 123.4v5M203 124.1l3.5 3.5M203 127.6l3.5 -3.5M197.7 127.9h5M200.2 125.4v5M198.5 126.2l3.5 3.5M198.5 129.7l3.5 -3.5M198.9 126.9h5M201.4 124.4v5M199.6 125.2l3.5 3.5M199.6 128.7l3.5 -3.5M200.5 126.7h5M203 124.2v5M201.2 125l3.5 3.5M201.2 128.5l3.5 -3.5M195.8 129.6h5M198.3 127.1v5M196.5 127.8l3.5 3.5M196.5 131.3l3.5 -3.5M197.1 129.2h5M199.6 126.7v5M197.8 127.5l3.5 3.5M197.8 131l3.5 -3.5M197.6 128.4h5M200.1 125.9v5M198.4 126.6l3.5 3.5M198.4 130.1l3.5 -3.5M199.3 129.5h5M201.8 127v5M200 127.7l3.5 3.5M200 131.2l3.5 -3.5M195.8 130.2h5M198.3 127.7v5M196.5 128.4l3.5 3.5M196.5 131.9l3.5 -3.5M197.8 130.7h5M200.3 128.2v5M198.6 129l3.5 3.5M198.6 132.5l3.5 -3.5M194.8 131.5h5M197.3 129v5M195.5 129.7l3.5 3.5M195.5 133.2l3.5 -3.5M197.1 131.2h5M199.6 128.7v5M197.9 129.5l3.5 3.5M197.9 133l3.5 -3.5M194.5 134.1h5M197 131.6v5M195.3 132.4l3.5 3.5M195.3 135.9l3.5 -3.5M195.3 133.2h5M197.8 130.7v5M196 131.5l3.5 3.5M196 135l3.5 -3.5M192.9 134.6h5M195.4 132.1v5M193.7 132.8l3.5 3.5M193.7 136.3l3.5 -3.5M195.4 134.3h5M197.9 131.8v5M196.2 132.6l3.5 3.5M196.2 136.1l3.5 -3.5M192 136.4h5M194.5 133.9v5M192.7 134.7l3.5 3.5M192.7 138.2l3.5 -3.5M190.9 137.3h5M193.4 134.8v5M191.7 135.6l3.5 3.5M191.7 139.1l3.5 -3.5M190.9 138.7h5M193.4 136.2v5M191.6 137l3.5 3.5M191.6 140.5l3.5 -3.5M191.6 139.3h5M194.1 136.8v5M192.4 137.5l3.5 3.5M192.4 141l3.5 -3.5M315.3 44.8h5M317.8 42.3v5M316 43l3.5 3.5M316 46.5l3.5 -3.5M308.5 47.6h5M311 45.1v5M309.3 45.9l3.5 3.5M309.3 49.4l3.5 -3.5M290.3 54.6h5M292.8 52.1v5M291 52.9l3.5 3.5M291 56.4l3.5 -3.5M292.4 53.8h5M294.9 51.3v5M293.2 52.1l3.5 3.5M293.2 55.6l3.5 -3.5M288.4 56.4h5M290.9 53.9v5M289.1 54.6l3.5 3.5M289.1 58.1l3.5 -3.5M289.3 55.4h5M291.8 52.9v5M290 53.6l3.5 3.5M290 57.1l3.5 -3.5M286.6 57.4h5M289.1 54.9v5M287.3 55.7l3.5 3.5M287.3 59.2l3.5 -3.5M284.6 72.8h5M287.1 70.3v5M285.4 71l3.5 3.5M285.4 74.5l3.5 -3.5M277 74.3h5M279.5 71.8v5M277.7 72.6l3.5 3.5M277.7 76.1l3.5 -3.5M280.6 74.1h5M283.1 71.6v5M281.3 72.3l3.5 3.5M281.3 75.8l3.5 -3.5M281.9 73.8h5M284.4 71.3v5M282.7 72l3.5 3.5M282.7 75.5l3.5 -3.5M283.3 73.2h5M285.8 70.7v5M284.1 71.5l3.5 3.5M284.1 75l3.5 -3.5M303.4 66.4h5M305.9 63.9v5M304.1 64.7l3.5 3.5M304.1 68.2l3.5 -3.5M305.1 66.4h5M307.6 63.9v5M305.8 64.6l3.5 3.5M305.8 68.1l3.5 -3.5M299.3 67.8h5M301.8 65.3v5M300 66l3.5 3.5M300 69.5l3.5 -3.5M299.8 67.4h5M302.3 64.9v5M300.6 65.7l3.5 3.5M300.6 69.2l3.5 -3.5M295.6 68.5h5M298.1 66v5M296.4 66.7l3.5 3.5M296.4 70.2l3.5 -3.5M297.2 68.4h5M299.7 65.9v5M297.9 66.7l3.5 3.5M297.9 70.2l3.5 -3.5M44.8 220.9h5M47.3 218.4v5M45.5 219.2l3.5 3.5M45.5 222.7l3.5 -3.5M44.8 231h5M47.3 228.5v5M45.5 229.2l3.5 3.5M45.5 232.8l3.5 -3.5M44.8 304h5M47.3 301.5v5M45.5 302.2l3.5 3.5M45.5 305.8l3.5 -3.5M74.1 277.2h5M76.6 274.7v5M74.8 275.4l3.5 3.5M74.8 278.9l3.5 -3.5M75.1 275.3h5M77.6 272.8v5M75.8 273.6l3.5 3.5M75.8 277.1l3.5 -3.5M73.1 278.6h5M75.6 276.1v5M73.8 276.9l3.5 3.5M73.8 280.4l3.5 -3.5M130.7 251.8h5M133.2 249.3v5M131.4 250.1l3.5 3.5M131.4 253.6l3.5 -3.5M131.8 253.5h5M134.3 251v5M132.6 251.8l3.5 3.5M132.6 255.2l3.5 -3.5M120.5 260h5M123 257.5v5M121.2 258.2l3.5 3.5M121.2 261.8l3.5 -3.5M122.5 261h5M125 258.5v5M123.2 259.2l3.5 3.5M123.2 262.8l3.5 -3.5M126.5 261.7h5M129 259.2v5M127.2 259.9l3.5 3.5M127.2 263.4l3.5 -3.5M136.9 221.6h5M139.4 219.1v5M137.7 219.8l3.5 3.5M137.7 223.3l3.5 -3.5M137 218h5M139.5 215.5v5M137.8 216.2l3.5 3.5M137.8 219.8l3.5 -3.5M64.3 247h5M66.8 244.5v5M65 245.2l3.5 3.5M65 248.8l3.5 -3.5M64.3 251h5M66.8 248.5v5M65 249.2l3.5 3.5M65 252.8l3.5 -3.5M149.5 210.5h5M152 208v5M150.2 208.8l3.5 3.5M150.2 212.2l3.5 -3.5M151 209h5M153.5 206.5v5M151.8 207.2l3.5 3.5M151.8 210.8l3.5 -3.5M148.5 212h5M151 209.5v5M149.2 210.2l3.5 3.5M149.2 213.8l3.5 -3.5M177.5 168.7h5M180 166.2v5M178.2 166.9l3.5 3.5M178.2 170.4l3.5 -3.5M185 153.3h5M187.5 150.8v5M185.8 151.6l3.5 3.5M185.8 155.1l3.5 -3.5M177.5 152h5M180 149.5v5M178.2 150.2l3.5 3.5M178.2 153.8l3.5 -3.5M171 161.5h5M173.5 159v5M171.8 159.8l3.5 3.5M171.8 163.2l3.5 -3.5M48.1 294.8h5M50.6 292.3v5M48.9 293.1l3.5 3.5M48.9 296.6l3.5 -3.5" stroke="#FF00FF" stroke-width="1.0" fill="none" clip-path="url(#cL)"/>
<path d="M306.4 63.4L306.6 63.3L306.7 63.2L306.8 63.2L307 63.1L307.1 63L307.2 62.9L307.3 62.7L307.4 62.6L307.5 62.5L307.5 62.3L307.6 62.2L307.6 62L307.6 61.9L307.6 61.7L307.6 61.5L307.5 61.4L307.5 61.2L307.4 61.1L307.4 61L307.3 60.8L307.2 60.7L307.1 60.6L306.9 60.5L306.8 60.4L306.7 60.3L306.5 60.3L306.4 60.2L306.2 60.2L306.1 60.2L305.9 60.2L305.7 60.2L305.6 60.3L294.1 63.2L293.9 63.3L293.8 63.4L293.7 63.4L293.5 63.5L293.4 63.6L293.3 63.7L293.2 63.9L293.1 64L293 64.1L293 64.3L292.9 64.4L292.9 64.6L292.9 64.7L292.9 64.9L292.9 65.1L293 65.2L293 65.4L293.1 65.5L293.1 65.6L293.2 65.8L293.3 65.9L293.4 66L293.6 66.1L293.7 66.2L293.8 66.3L294 66.3L294.1 66.4L294.3 66.4L294.4 66.4L294.6 66.4L294.8 66.4L294.9 66.3L306.4 63.4Z" fill="#0B2A8C" fill-rule="evenodd" clip-path="url(#cL)"/><path d="M91.8 236.7L91.9 236.9L92 237L92.1 237.2L92.2 237.3L92.4 237.4L92.5 237.5L92.7 237.6L92.8 237.7L93 237.7L93.2 237.8L93.3 237.8L93.5 237.8L93.7 237.8L93.9 237.8L94 237.7L94.2 237.7L94.4 237.6L94.5 237.5L94.7 237.4L94.8 237.3L94.9 237.1L95 237L95.1 236.8L95.2 236.7L95.2 236.5L95.3 236.3L95.3 236.2L95.3 236L95.3 235.8L95.3 235.6L95.2 235.5L95.1 235.3L92.2 228.3L92.1 228.1L92 228L91.9 227.8L91.8 227.7L91.6 227.6L91.5 227.5L91.3 227.4L91.2 227.3L91 227.3L90.8 227.2L90.7 227.2L90.5 227.2L90.3 227.2L90.1 227.2L90 227.3L89.8 227.3L89.6 227.4L89.5 227.5L89.3 227.6L89.2 227.7L89.1 227.9L89 228L88.9 228.2L88.8 228.3L88.8 228.5L88.7 228.7L88.7 228.8L88.7 229L88.7 229.2L88.7 229.4L88.8 229.5L88.9 229.7L91.8 236.7Z" fill="#0B2A8C" fill-rule="evenodd" clip-path="url(#cL)"/><path d="M103.3 228.8L103.4 228.7L103.6 228.7L103.7 228.6L103.8 228.6L103.9 228.5L104.1 228.4L104.2 228.3L104.2 228.1L104.3 228L104.4 227.9L104.4 227.7L104.5 227.6L104.5 227.5L104.5 227.3L104.5 227.2L104.5 227L104.4 226.9L104.4 226.7L104.3 226.6L104.3 226.5L104.2 226.4L104.1 226.2L104 226.1L103.8 226.1L103.7 226L103.6 225.9L103.4 225.9L103.3 225.8L103.2 225.8L103 225.8L102.9 225.8L102.7 225.8L90.7 228.1L90.6 228.2L90.4 228.2L90.3 228.3L90.2 228.3L90.1 228.4L89.9 228.5L89.8 228.6L89.8 228.8L89.7 228.9L89.6 229L89.6 229.2L89.5 229.3L89.5 229.4L89.5 229.6L89.5 229.7L89.5 229.9L89.6 230L89.6 230.2L89.7 230.3L89.7 230.4L89.8 230.5L89.9 230.7L90 230.8L90.2 230.8L90.3 230.9L90.4 231L90.6 231L90.7 231.1L90.8 231.1L91 231.1L91.1 231.1L91.3 231.1L103.3 228.8Z" fill="#0B2A8C" fill-rule="evenodd" clip-path="url(#cL)"/><path d="M115 256.5L116.2 259.7L118.5 263.9L135.2 263.9L134.9 249.1L115 256.5Z" fill="#0B2A8C" fill-rule="evenodd" clip-path="url(#cL)"/><path d="M68.7 285L68.8 285.2L69 285.4L69.2 285.5L69.4 285.6L69.6 285.7L69.9 285.8L70.1 285.9L70.3 285.9L70.6 285.9L70.8 285.9L71 285.8L71.2 285.8L71.5 285.7L71.7 285.6L71.9 285.5L72.1 285.3L72.2 285.2L72.4 285L72.5 284.8L72.6 284.6L72.7 284.4L72.8 284.1L72.9 283.9L72.9 283.7L72.9 283.4L72.9 283.2L72.8 283L72.8 282.8L72.7 282.5L72.6 282.3L72.5 282.1L72.3 281.9L69.3 278.5L69.2 278.3L69 278.1L68.8 278L68.6 277.9L68.4 277.8L68.1 277.7L67.9 277.6L67.7 277.6L67.4 277.6L67.2 277.6L67 277.7L66.8 277.7L66.5 277.8L66.3 277.9L66.1 278L65.9 278.2L65.8 278.3L65.6 278.5L65.5 278.7L65.4 278.9L65.3 279.1L65.2 279.4L65.1 279.6L65.1 279.8L65.1 280.1L65.1 280.3L65.2 280.5L65.2 280.7L65.3 281L65.4 281.2L65.5 281.4L65.7 281.6L68.7 285Z" fill="#0B2A8C" fill-rule="evenodd" clip-path="url(#cL)"/><path d="M150.9 193.8L150.9 193.7L151 193.6L151 193.6L151.1 193.5L151.1 193.4L151.2 193.3L151.2 193.2L151.3 193.1L151.3 193L151.3 192.9L151.4 192.8L151.4 192.7L151.4 192.6L151.4 192.5L151.4 192.4L151.4 192.3L151.4 192.2L151.4 192.1L151.4 192L151.3 191.9L151.3 191.8L151.3 191.7L151.2 191.6L151.2 191.5L151.2 191.4L151.1 191.3L151.1 191.3L151 191.1L150.9 191.1L150.9 191L150.8 190.9L150.7 190.8L150.6 190.8L150.5 190.7L150.5 190.7L150.4 190.6L150.3 190.6L150.2 190.5L150.1 190.5L150 190.4L149.9 190.4L149.8 190.4L149.7 190.3L149.6 190.3L149.5 190.3L149.4 190.3L149.3 190.3L149.2 190.3L149.1 190.3L149 190.3L148.9 190.3L148.8 190.4L148.7 190.4L148.6 190.4L148.5 190.5L148.4 190.5L148.3 190.5L148.2 190.6L148.2 190.6L148 190.7L148 190.8L147.9 190.9L147.9 190.9L142.4 196.1L142.3 196.1L142.2 196.2L142.2 196.3L142.1 196.4L142.1 196.4L142 196.5L142 196.6L141.9 196.7L141.9 196.8L141.8 196.9L141.8 197L141.8 197.1L141.7 197.2L141.7 197.3L141.7 197.4L141.7 197.5L141.7 197.6L141.7 197.7L141.7 197.8L141.7 197.9L141.7 198L141.8 198.1L141.8 198.2L141.8 198.3L141.9 198.4L141.9 198.5L141.9 198.6L142 198.7L142 198.7L142.1 198.9L142.2 198.9L142.2 199L142.3 199.1L142.4 199.2L142.5 199.2L142.6 199.3L142.6 199.3L142.7 199.4L142.8 199.4L142.9 199.5L143 199.5L143.1 199.6L143.2 199.6L143.3 199.6L143.4 199.7L143.5 199.7L143.6 199.7L143.7 199.7L143.8 199.7L143.9 199.7L144 199.7L144.1 199.7L144.2 199.7L144.3 199.6L144.4 199.6L144.5 199.6L144.6 199.5L144.7 199.5L144.8 199.5L144.9 199.4L144.9 199.4L145.1 199.3L145.1 199.2L145.2 199.1L145.2 199.1L150.7 193.9L150.8 193.9L150.9 193.8ZM139.2 203.3L139.2 203.3L139.2 203.2L139.2 203.2L139.3 203.1L139.3 203L139.3 203L139.3 202.9L139.3 202.9L139.3 202.8L139.3 202.7L139.3 202.7L139.3 202.6L139.3 202.5L139.3 202.5L139.2 202.4L139.2 202.4L139.2 202.3L139.2 202.2L139.1 202.2L139.1 202.1L139.1 202.1L139 202L139 202L139 201.9L138.9 201.9L138.9 201.8L138.8 201.8L138.8 201.8L138.7 201.7L138.7 201.7L138.6 201.6L138.5 201.6L138.5 201.6L138.4 201.6L138.4 201.6L138.3 201.5L138.2 201.5L138.2 201.5L138.1 201.5L138.1 201.5L138 201.5L137.9 201.5L137.9 201.5L137.8 201.5L137.7 201.5L137.7 201.5L137.6 201.6L137.6 201.6L137.5 201.6L137.4 201.6L137.4 201.7L137.3 201.7L137.3 201.7L137.2 201.8L137.2 201.8L137.1 201.8L137.1 201.9L137 201.9L137 202L136.9 202L136.9 202.1L134.7 205.3L134.7 205.3L134.7 205.3L134.6 205.4L134.6 205.5L134.6 205.5L134.6 205.6L134.6 205.6L134.5 205.7L134.5 205.8L134.5 205.8L134.5 205.9L134.5 205.9L134.5 206L134.5 206.1L134.5 206.1L134.5 206.2L134.5 206.3L134.5 206.3L134.6 206.4L134.6 206.4L134.6 206.5L134.6 206.6L134.7 206.6L134.7 206.7L134.7 206.7L134.8 206.8L134.8 206.8L134.8 206.9L134.9 206.9L134.9 207L135 207L135 207L135.1 207.1L135.1 207.1L135.2 207.2L135.3 207.2L135.3 207.2L135.4 207.2L135.4 207.2L135.5 207.3L135.6 207.3L135.6 207.3L135.7 207.3L135.7 207.3L135.8 207.3L135.9 207.3L135.9 207.3L136 207.3L136.1 207.3L136.1 207.3L136.2 207.2L136.2 207.2L136.3 207.2L136.4 207.2L136.4 207.1L136.5 207.1L136.5 207.1L136.6 207L136.6 207L136.7 207L136.7 206.9L136.8 206.9L136.8 206.8L136.9 206.8L136.9 206.7L139.1 203.5L139.1 203.5L139.1 203.5L139.2 203.4L139.2 203.3ZM124 213.3L124 213.2L124 213.2L124.1 213.1L124.1 213.1L124.1 213L124.1 213L124.2 212.9L124.2 212.9L124.2 212.8L124.2 212.8L124.2 212.7L124.2 212.6L124.2 212.6L124.2 212.5L124.2 212.4L124.2 212.4L124.2 212.3L124.2 212.3L124.1 212.2L124.1 212.2L124.1 212.1L124.1 212.1L124 212L124 212L124 211.9L124 211.9L123.9 211.8L123.9 211.8L123.8 211.7L123.8 211.7L123.7 211.6L123.7 211.6L123.6 211.6L123.6 211.6L123.5 211.5L123.5 211.5L123.4 211.5L123.4 211.5L123.3 211.4L123.3 211.4L123.2 211.4L123.2 211.4L123.1 211.4L123 211.4L123 211.4L122.9 211.4L122.8 211.4L122.8 211.4L122.7 211.4L122.7 211.4L122.6 211.5L122.6 211.5L122.5 211.5L122.5 211.5L122.4 211.6L122.4 211.6L122.3 211.6L122.3 211.6L122.2 211.7L122.2 211.7L122.1 211.8L120.2 213.7L120.1 213.8L120.1 213.8L120 213.9L120 213.9L120 214L120 214L119.9 214.1L119.9 214.1L119.9 214.2L119.9 214.2L119.8 214.3L119.8 214.3L119.8 214.4L119.8 214.4L119.8 214.5L119.8 214.6L119.8 214.6L119.8 214.7L119.8 214.8L119.8 214.8L119.8 214.9L119.8 214.9L119.9 215L119.9 215L119.9 215.1L119.9 215.1L120 215.2L120 215.2L120 215.3L120 215.3L120.1 215.4L120.1 215.4L120.2 215.5L120.2 215.5L120.3 215.6L120.3 215.6L120.4 215.6L120.4 215.6L120.5 215.7L120.5 215.7L120.6 215.7L120.6 215.7L120.7 215.8L120.7 215.8L120.8 215.8L120.8 215.8L120.9 215.8L121 215.8L121 215.8L121.1 215.8L121.2 215.8L121.2 215.8L121.3 215.8L121.3 215.8L121.4 215.7L121.4 215.7L121.5 215.7L121.5 215.7L121.6 215.6L121.6 215.6L121.7 215.6L121.7 215.6L121.8 215.5L121.8 215.5L121.9 215.4L123.8 213.5L123.9 213.4L123.9 213.4L124 213.3L124 213.3Z" fill="#0B2A8C" fill-rule="evenodd" clip-path="url(#cL)"/><path d="M164.4 177.1L164.5 177L164.6 176.8L164.7 176.7L164.7 176.5L164.8 176.3L164.8 176.1L164.8 176L164.8 175.8L164.8 175.6L164.7 175.4L164.6 175.3L164.6 175.1L164.5 175L164.4 174.8L164.2 174.7L164.1 174.6L164 174.5L163.8 174.4L163.7 174.3L163.5 174.3L163.3 174.2L163.1 174.2L163 174.2L162.8 174.2L162.6 174.2L162.4 174.3L162.3 174.4L162.1 174.4L162 174.5L161.8 174.6L161.7 174.8L161.6 174.9L156.1 181.9L156 182L155.9 182.2L155.8 182.3L155.8 182.5L155.7 182.7L155.7 182.9L155.7 183L155.7 183.2L155.7 183.4L155.8 183.6L155.9 183.7L155.9 183.9L156 184L156.1 184.2L156.3 184.3L156.4 184.4L156.5 184.5L156.7 184.6L156.8 184.7L157 184.7L157.2 184.8L157.4 184.8L157.5 184.8L157.7 184.8L157.9 184.8L158.1 184.7L158.2 184.6L158.4 184.6L158.5 184.5L158.7 184.4L158.8 184.2L158.9 184.1L164.4 177.1Z" fill="#0B2A8C" fill-rule="evenodd" clip-path="url(#cL)"/><path d="M174.4 167.2L174.5 167L174.6 166.9L174.7 166.7L174.7 166.5L174.8 166.4L174.8 166.2L174.8 166L174.8 165.8L174.8 165.7L174.7 165.5L174.7 165.3L174.6 165.2L174.5 165L174.4 164.9L174.3 164.7L174.1 164.6L174 164.5L173.9 164.4L173.7 164.3L173.5 164.3L173.4 164.2L173.2 164.2L173 164.2L172.8 164.2L172.7 164.2L172.5 164.3L172.3 164.3L172.2 164.4L172 164.5L171.9 164.6L171.7 164.7L171.6 164.9L164.6 173.3L164.5 173.5L164.4 173.6L164.3 173.8L164.3 174L164.2 174.1L164.2 174.3L164.2 174.5L164.2 174.7L164.2 174.8L164.3 175L164.3 175.2L164.4 175.3L164.5 175.5L164.6 175.6L164.7 175.8L164.9 175.9L165 176L165.1 176.1L165.3 176.2L165.5 176.2L165.6 176.3L165.8 176.3L166 176.3L166.2 176.3L166.3 176.3L166.5 176.2L166.7 176.2L166.8 176.1L167 176L167.1 175.9L167.3 175.8L167.4 175.6L174.4 167.2Z" fill="#0B2A8C" fill-rule="evenodd" clip-path="url(#cL)"/><path d="M191.3 164.4L191.4 164.5L191.6 164.5L191.7 164.6L191.9 164.6L192 164.6L192.2 164.6L192.4 164.6L192.5 164.5L192.7 164.5L192.8 164.4L192.9 164.3L193 164.2L193.2 164.1L193.3 164L193.4 163.9L193.4 163.7L193.5 163.6L193.5 163.4L193.6 163.3L193.6 163.1L193.6 163L193.6 162.8L193.6 162.6L193.5 162.5L193.5 162.3L193.4 162.2L193.3 162.1L193.2 162L193.1 161.8L193 161.7L192.9 161.6L192.7 161.6L186.7 158.6L186.6 158.5L186.4 158.5L186.3 158.4L186.1 158.4L186 158.4L185.8 158.4L185.6 158.4L185.5 158.5L185.3 158.5L185.2 158.6L185.1 158.7L185 158.8L184.8 158.9L184.7 159L184.6 159.1L184.6 159.3L184.5 159.4L184.5 159.6L184.4 159.7L184.4 159.9L184.4 160L184.4 160.2L184.4 160.4L184.5 160.5L184.5 160.7L184.6 160.8L184.7 160.9L184.8 161L184.9 161.2L185 161.3L185.1 161.4L185.3 161.4L191.3 164.4Z" fill="#0B2A8C" fill-rule="evenodd" clip-path="url(#cL)"/>
<path d="M244.3 89.6h5M246.8 87.1v5M245.1 87.8l3.5 3.5M245.1 91.3l3.5 -3.5M243 91.7h5M245.5 89.2v5M243.8 90l3.5 3.5M243.8 93.5l3.5 -3.5M241.2 93.2h5M243.7 90.7v5M242 91.4l3.5 3.5M242 94.9l3.5 -3.5M244 98.5h5M246.5 96v5M244.7 96.8l3.5 3.5M244.7 100.3l3.5 -3.5M231.2 103.1h5M233.7 100.6v5M232 101.4l3.5 3.5M232 104.9l3.5 -3.5M224 106.8h5M226.5 104.3v5M224.7 105.1l3.5 3.5M224.7 108.6l3.5 -3.5M222.1 109.4h5M224.6 106.9v5M222.8 107.7l3.5 3.5M222.8 111.2l3.5 -3.5M230 109.6h5M232.5 107.1v5M230.7 107.8l3.5 3.5M230.7 111.3l3.5 -3.5M231.2 111.6h5M233.7 109.1v5M232 109.8l3.5 3.5M232 113.3l3.5 -3.5M222.6 116.8h5M225.1 114.3v5M223.3 115l3.5 3.5M223.3 118.5l3.5 -3.5M226.7 117.3h5M229.2 114.8v5M227.5 115.5l3.5 3.5M227.5 119l3.5 -3.5M211 120.3h5M213.5 117.8v5M211.7 118.5l3.5 3.5M211.7 122l3.5 -3.5M219.9 121.8h5M222.4 119.3v5M220.7 120.1l3.5 3.5M220.7 123.6l3.5 -3.5M222 121h5M224.5 118.5v5M222.7 119.3l3.5 3.5M222.7 122.8l3.5 -3.5M206 124.3h5M208.5 121.8v5M206.8 122.5l3.5 3.5M206.8 126l3.5 -3.5M208.1 123.2h5M210.6 120.7v5M208.8 121.4l3.5 3.5M208.8 124.9l3.5 -3.5M221 122.6h5M223.5 120.1v5M221.8 120.9l3.5 3.5M221.8 124.4l3.5 -3.5M204.2 126.1h5M206.7 123.6v5M205 124.3l3.5 3.5M205 127.8l3.5 -3.5M201.8 128.5h5M204.3 126v5M202.6 126.7l3.5 3.5M202.6 130.2l3.5 -3.5M203.9 129.6h5M206.4 127.1v5M204.7 127.9l3.5 3.5M204.7 131.4l3.5 -3.5M214.3 128.1h5M216.8 125.6v5M215 126.4l3.5 3.5M215 129.9l3.5 -3.5M211.6 131.3h5M214.1 128.8v5M212.3 129.6l3.5 3.5M212.3 133.1l3.5 -3.5M198.7 132.2h5M201.2 129.7v5M199.5 130.5l3.5 3.5M199.5 134l3.5 -3.5M209.3 132.1h5M211.8 129.6v5M210.1 130.4l3.5 3.5M210.1 133.9l3.5 -3.5M199.1 134.9h5M201.6 132.4v5M199.9 133.1l3.5 3.5M199.9 136.6l3.5 -3.5M206.4 135.6h5M208.9 133.1v5M207.1 133.8l3.5 3.5M207.1 137.3l3.5 -3.5M193.7 138.9h5M196.2 136.4v5M194.4 137.2l3.5 3.5M194.4 140.7l3.5 -3.5M203.9 138h5M206.4 135.5v5M204.6 136.3l3.5 3.5M204.6 139.8l3.5 -3.5M195.4 140.7h5M197.9 138.2v5M196.2 138.9l3.5 3.5M196.2 142.4l3.5 -3.5M200.5 143.1h5M203 140.6v5M201.3 141.3l3.5 3.5M201.3 144.8l3.5 -3.5M189.3 144.1h5M191.8 141.6v5M190.1 142.3l3.5 3.5M190.1 145.8l3.5 -3.5M199.9 144.1h5M202.4 141.6v5M200.6 142.3l3.5 3.5M200.6 145.8l3.5 -3.5M191.3 145.5h5M193.8 143v5M192.1 143.7l3.5 3.5M192.1 147.2l3.5 -3.5M197.8 147h5M200.3 144.5v5M198.6 145.3l3.5 3.5M198.6 148.8l3.5 -3.5M183.6 148.8h5M186.1 146.3v5M184.4 147l3.5 3.5M184.4 150.5l3.5 -3.5M185.8 147.6h5M188.3 145.1v5M186.5 145.8l3.5 3.5M186.5 149.3l3.5 -3.5M181.6 150.6h5M184.1 148.1v5M182.4 148.8l3.5 3.5M182.4 152.3l3.5 -3.5M184.4 149.7h5M186.9 147.2v5M185.2 147.9l3.5 3.5M185.2 151.4l3.5 -3.5M182.3 151.4h5M184.8 148.9v5M183 149.7l3.5 3.5M183 153.2l3.5 -3.5M194.5 151.1h5M197 148.6v5M195.2 149.3l3.5 3.5M195.2 152.8l3.5 -3.5M191.9 153.9h5M194.4 151.4v5M192.6 152.1l3.5 3.5M192.6 155.6l3.5 -3.5M177 155.2h5M179.5 152.7v5M177.8 153.4l3.5 3.5M177.8 156.9l3.5 -3.5M189.8 158.1h5M192.3 155.6v5M190.6 156.3l3.5 3.5M190.6 159.8l3.5 -3.5M178 160.5h5M180.5 158v5M178.8 158.8l3.5 3.5M178.8 162.3l3.5 -3.5M188.4 160.2h5M190.9 157.7v5M189.1 158.4l3.5 3.5M189.1 161.9l3.5 -3.5M181.4 161h5M183.9 158.5v5M182.1 159.3l3.5 3.5M182.1 162.8l3.5 -3.5M186.6 162.3h5M189.1 159.8v5M187.4 160.6l3.5 3.5M187.4 164.1l3.5 -3.5M168.4 166.5h5M170.9 164v5M169.1 164.8l3.5 3.5M169.1 168.3l3.5 -3.5M166.6 167.7h5M169.1 165.2v5M167.4 165.9l3.5 3.5M167.4 169.4l3.5 -3.5M171.7 171.6h5M174.2 169.1v5M172.5 169.8l3.5 3.5M172.5 173.3l3.5 -3.5M175.4 171.6h5M177.9 169.1v5M176.2 169.9l3.5 3.5M176.2 173.4l3.5 -3.5M163.3 176h5M165.8 173.5v5M164.1 174.2l3.5 3.5M164.1 177.7l3.5 -3.5M172.3 177.9h5M174.8 175.4v5M173 176.1l3.5 3.5M173 179.6l3.5 -3.5M156.6 179.5h5M159.1 177v5M157.4 177.8l3.5 3.5M157.4 181.3l3.5 -3.5M170 178.8h5M172.5 176.3v5M170.7 177l3.5 3.5M170.7 180.5l3.5 -3.5M156.4 181.1h5M158.9 178.6v5M157.1 179.4l3.5 3.5M157.1 182.9l3.5 -3.5M159.1 182.3h5M161.6 179.8v5M159.8 180.5l3.5 3.5M159.8 184l3.5 -3.5M155.9 184.4h5M158.4 181.9v5M156.6 182.6l3.5 3.5M156.6 186.1l3.5 -3.5M157.4 184.9h5M159.9 182.4v5M158.1 183.2l3.5 3.5M158.1 186.7l3.5 -3.5M163.3 183.8h5M165.8 181.3v5M164 182l3.5 3.5M164 185.5l3.5 -3.5M149.7 186.3h5M152.2 183.8v5M150.5 184.6l3.5 3.5M150.5 188.1l3.5 -3.5M152.2 186.2h5M154.7 183.7v5M152.9 184.4l3.5 3.5M152.9 187.9l3.5 -3.5M145.4 188.4h5M147.9 185.9v5M146.1 186.7l3.5 3.5M146.1 190.2l3.5 -3.5M146.7 187.5h5M149.2 185v5M147.4 185.7l3.5 3.5M147.4 189.2l3.5 -3.5M158.8 188.2h5M161.3 185.7v5M159.6 186.4l3.5 3.5M159.6 189.9l3.5 -3.5M140 189.9h5M142.5 187.4v5M140.7 188.1l3.5 3.5M140.7 191.6l3.5 -3.5M144.3 197h5M146.8 194.5v5M145.1 195.3l3.5 3.5M145.1 198.8l3.5 -3.5M146.3 196.9h5M148.8 194.4v5M147 195.1l3.5 3.5M147 198.6l3.5 -3.5M153.6 196.9h5M156.1 194.4v5M154.4 195.1l3.5 3.5M154.4 198.6l3.5 -3.5M154.7 196.5h5M157.2 194v5M155.4 194.8l3.5 3.5M155.4 198.3l3.5 -3.5M152.4 198.2h5M154.9 195.7v5M153.2 196.4l3.5 3.5M153.2 199.9l3.5 -3.5M132.3 200.7h5M134.8 198.2v5M133.1 198.9l3.5 3.5M133.1 202.4l3.5 -3.5M150.5 200.5h5M153 198v5M151.3 198.8l3.5 3.5M151.3 202.3l3.5 -3.5M150.2 202.1h5M152.7 199.6v5M150.9 200.3l3.5 3.5M150.9 203.8l3.5 -3.5M141.3 203h5M143.8 200.5v5M142.1 201.2l3.5 3.5M142.1 204.7l3.5 -3.5M149.4 203.2h5M151.9 200.7v5M150.2 201.5l3.5 3.5M150.2 205l3.5 -3.5M129.7 204.7h5M132.2 202.2v5M130.4 202.9l3.5 3.5M130.4 206.4l3.5 -3.5M145.6 204.6h5M148.1 202.1v5M146.4 202.9l3.5 3.5M146.4 206.4l3.5 -3.5M128.4 207.2h5M130.9 204.7v5M129.2 205.5l3.5 3.5M129.2 209l3.5 -3.5M146.2 208.2h5M148.7 205.7v5M146.9 206.5l3.5 3.5M146.9 210l3.5 -3.5M146.1 209.6h5M148.6 207.1v5M146.8 207.8l3.5 3.5M146.8 211.3l3.5 -3.5M131.5 210.5h5M134 208v5M132.3 208.7l3.5 3.5M132.3 212.2l3.5 -3.5M144.3 211.6h5M146.8 209.1v5M145 209.8l3.5 3.5M145 213.3l3.5 -3.5M140.4 212.8h5M142.9 210.3v5M141.1 211.1l3.5 3.5M141.1 214.6l3.5 -3.5M116 215.6h5M118.5 213.1v5M116.8 213.8l3.5 3.5M116.8 217.3l3.5 -3.5M139.6 214.7h5M142.1 212.2v5M140.3 213l3.5 3.5M140.3 216.5l3.5 -3.5M116.4 219.2h5M118.9 216.7v5M117.1 217.4l3.5 3.5M117.1 220.9l3.5 -3.5M104.1 220h5M106.6 217.5v5M104.8 218.3l3.5 3.5M104.8 221.8l3.5 -3.5M119.5 220h5M122 217.5v5M120.2 218.3l3.5 3.5M120.2 221.8l3.5 -3.5M107.7 223.2h5M110.2 220.7v5M108.4 221.4l3.5 3.5M108.4 224.9l3.5 -3.5M111.3 222.9h5M113.8 220.4v5M112 221.1l3.5 3.5M112 224.6l3.5 -3.5M131.3 223.6h5M133.8 221.1v5M132 221.8l3.5 3.5M132 225.3l3.5 -3.5M112.1 223.8h5M114.6 221.3v5M112.8 222.1l3.5 3.5M112.8 225.6l3.5 -3.5M130.6 225.2h5M133.1 222.7v5M131.4 223.5l3.5 3.5M131.4 227l3.5 -3.5M100.2 226.4h5M102.7 223.9v5M101 224.6l3.5 3.5M101 228.1l3.5 -3.5M102.4 225.6h5M104.9 223.1v5M103.1 223.9l3.5 3.5M103.1 227.4l3.5 -3.5M123 227h5M125.5 224.5v5M123.7 225.3l3.5 3.5M123.7 228.8l3.5 -3.5M130.3 227.1h5M132.8 224.6v5M131.1 225.4l3.5 3.5M131.1 228.9l3.5 -3.5M96.3 227.6h5M98.8 225.1v5M97.1 225.8l3.5 3.5M97.1 229.3l3.5 -3.5M129.1 230.4h5M131.6 227.9v5M129.8 228.6l3.5 3.5M129.8 232.1l3.5 -3.5M92.8 232.1h5M95.3 229.6v5M93.6 230.3l3.5 3.5M93.6 233.8l3.5 -3.5M131.4 232h5M133.9 229.5v5M132.2 230.3l3.5 3.5M132.2 233.8l3.5 -3.5M90.2 237.3h5M92.7 234.8v5M90.9 235.6l3.5 3.5M90.9 239.1l3.5 -3.5M98.4 239.1h5M100.9 236.6v5M99.2 237.3l3.5 3.5M99.2 240.8l3.5 -3.5M86.6 240.4h5M89.1 237.9v5M87.4 238.7l3.5 3.5M87.4 242.2l3.5 -3.5M95.2 239.7h5M97.7 237.2v5M95.9 237.9l3.5 3.5M95.9 241.4l3.5 -3.5M80.6 241.9h5M83.1 239.4v5M81.3 240.2l3.5 3.5M81.3 243.7l3.5 -3.5M85.8 241.1h5M88.3 238.6v5M86.6 239.3l3.5 3.5M86.6 242.8l3.5 -3.5M97.3 242.3h5M99.8 239.8v5M98 240.6l3.5 3.5M98 244.1l3.5 -3.5M99.3 241.3h5M101.8 238.8v5M100 239.6l3.5 3.5M100 243.1l3.5 -3.5M100.2 242.1h5M102.7 239.6v5M101 240.3l3.5 3.5M101 243.8l3.5 -3.5M130.6 242.6h5M133.1 240.1v5M131.3 240.8l3.5 3.5M131.3 244.3l3.5 -3.5M71.7 245h5M74.2 242.5v5M72.5 243.2l3.5 3.5M72.5 246.7l3.5 -3.5M77.8 243h5M80.3 240.5v5M78.5 241.3l3.5 3.5M78.5 244.8l3.5 -3.5M78.8 243h5M81.3 240.5v5M79.5 241.3l3.5 3.5M79.5 244.8l3.5 -3.5M92.9 243.5h5M95.4 241v5M93.6 241.8l3.5 3.5M93.6 245.3l3.5 -3.5M69.6 246.2h5M72.1 243.7v5M70.3 244.4l3.5 3.5M70.3 247.9l3.5 -3.5M87.9 245.7h5M90.4 243.2v5M88.6 243.9l3.5 3.5M88.6 247.4l3.5 -3.5M74.1 247.8h5M76.6 245.3v5M74.9 246.1l3.5 3.5M74.9 249.6l3.5 -3.5M104.3 247.5h5M106.8 245v5M105.1 245.7l3.5 3.5M105.1 249.2l3.5 -3.5M100.4 250.3h5M102.9 247.8v5M101.2 248.5l3.5 3.5M101.2 252l3.5 -3.5M78.6 252.4h5M81.1 249.9v5M79.4 250.7l3.5 3.5M79.4 254.2l3.5 -3.5M126 252.3h5M128.5 249.8v5M126.7 250.6l3.5 3.5M126.7 254.1l3.5 -3.5M129.5 250.6h5M132 248.1v5M130.3 248.8l3.5 3.5M130.3 252.3l3.5 -3.5M66.4 252.4h5M68.9 249.9v5M67.2 250.6l3.5 3.5M67.2 254.1l3.5 -3.5M94.5 254.1h5M97 251.6v5M95.2 252.3l3.5 3.5M95.2 255.8l3.5 -3.5M99.6 252.6h5M102.1 250.1v5M100.3 250.9l3.5 3.5M100.3 254.4l3.5 -3.5M119.9 253.1h5M122.4 250.6v5M120.6 251.4l3.5 3.5M120.6 254.9l3.5 -3.5M82.5 255.4h5M85 252.9v5M83.3 253.7l3.5 3.5M83.3 257.2l3.5 -3.5M110.1 255.2h5M112.6 252.7v5M110.8 253.4l3.5 3.5M110.8 256.9l3.5 -3.5M72.9 257.8h5M75.4 255.3v5M73.7 256.1l3.5 3.5M73.7 259.6l3.5 -3.5M109.9 256.9h5M112.4 254.4v5M110.7 255.2l3.5 3.5M110.7 258.7l3.5 -3.5M72.6 259.7h5M75.1 257.2v5M73.3 257.9l3.5 3.5M73.3 261.4l3.5 -3.5M76.1 259.4h5M78.6 256.9v5M76.9 257.7l3.5 3.5M76.9 261.2l3.5 -3.5M95.5 260.1h5M98 257.6v5M96.2 258.4l3.5 3.5M96.2 261.9l3.5 -3.5M102.9 259.9h5M105.4 257.4v5M103.6 258.1l3.5 3.5M103.6 261.6l3.5 -3.5M109.3 259.9h5M111.8 257.4v5M110 258.1l3.5 3.5M110 261.6l3.5 -3.5M80.2 260.2h5M82.7 257.7v5M80.9 258.4l3.5 3.5M80.9 261.9l3.5 -3.5M91.6 262.1h5M94.1 259.6v5M92.3 260.3l3.5 3.5M92.3 263.8l3.5 -3.5M94.3 261.6h5M96.8 259.1v5M95.1 259.8l3.5 3.5M95.1 263.3l3.5 -3.5M97.1 261.1h5M99.6 258.6v5M97.8 259.4l3.5 3.5M97.8 262.9l3.5 -3.5M66.8 262.8h5M69.3 260.3v5M67.6 261.1l3.5 3.5M67.6 264.6l3.5 -3.5M65.9 265.7h5M68.4 263.2v5M66.6 264l3.5 3.5M66.6 267.5l3.5 -3.5M66.7 265.7h5M69.2 263.2v5M67.5 263.9l3.5 3.5M67.5 267.4l3.5 -3.5M88.7 264.1h5M91.2 261.6v5M89.5 262.3l3.5 3.5M89.5 265.8l3.5 -3.5M85.9 266.8h5M88.4 264.3v5M86.7 265l3.5 3.5M86.7 268.5l3.5 -3.5M67.3 268.7h5M69.8 266.2v5M68.1 267l3.5 3.5M68.1 270.5l3.5 -3.5M82.3 268.7h5M84.8 266.2v5M83.1 266.9l3.5 3.5M83.1 270.4l3.5 -3.5M66.2 269.9h5M68.7 267.4v5M66.9 268.1l3.5 3.5M66.9 271.6l3.5 -3.5M75.6 272.5h5M78.1 270v5M76.4 270.7l3.5 3.5M76.4 274.2l3.5 -3.5M69.3 278.4h5M71.8 275.9v5M70 276.6l3.5 3.5M70 280.1l3.5 -3.5M70.8 277.4h5M73.3 274.9v5M71.6 275.7l3.5 3.5M71.6 279.2l3.5 -3.5M66.8 281h5M69.3 278.5v5M67.6 279.2l3.5 3.5M67.6 282.7l3.5 -3.5M66.4 281.6h5M68.9 279.1v5M67.2 279.9l3.5 3.5M67.2 283.4l3.5 -3.5" stroke="#0B2A8C" stroke-width="1.0" fill="none" clip-path="url(#cL)"/>
<path d="M299.1 63.2h5M301.6 60.7v5M299.9 61.5l3.5 3.5M299.9 65l3.5 -3.5M294.1 64.2h5M296.6 61.7v5M294.9 62.5l3.5 3.5M294.9 66l3.5 -3.5M88.3 230h5M90.8 227.5v5M89.1 228.3l3.5 3.5M89.1 231.8l3.5 -3.5M90.6 236.2h5M93.1 233.7v5M91.4 234.5l3.5 3.5M91.4 238l3.5 -3.5M92.8 228.8h5M95.3 226.3v5M93.5 227.1l3.5 3.5M93.5 230.6l3.5 -3.5M96.4 227.9h5M98.9 225.4v5M97.2 226.1l3.5 3.5M97.2 229.6l3.5 -3.5M99.1 227.6h5M101.6 225.1v5M99.9 225.9l3.5 3.5M99.9 229.4l3.5 -3.5M131 251.1h5M133.5 248.6v5M131.8 249.4l3.5 3.5M131.8 252.9l3.5 -3.5M128.3 252.6h5M130.8 250.1v5M129 250.8l3.5 3.5M129 254.3l3.5 -3.5M130.9 252.6h5M133.4 250.1v5M131.6 250.8l3.5 3.5M131.6 254.3l3.5 -3.5M122.3 254.2h5M124.8 251.7v5M123.1 252.5l3.5 3.5M123.1 256l3.5 -3.5M125 253.9h5M127.5 251.4v5M125.8 252.2l3.5 3.5M125.8 255.7l3.5 -3.5M125.9 254.3h5M128.4 251.8v5M126.7 252.6l3.5 3.5M126.7 256.1l3.5 -3.5M127.9 254h5M130.4 251.5v5M128.6 252.3l3.5 3.5M128.6 255.8l3.5 -3.5M129 253.9h5M131.5 251.4v5M129.7 252.2l3.5 3.5M129.7 255.7l3.5 -3.5M119.1 256h5M121.6 253.5v5M119.8 254.3l3.5 3.5M119.8 257.8l3.5 -3.5M120.8 255.9h5M123.3 253.4v5M121.5 254.1l3.5 3.5M121.5 257.6l3.5 -3.5M121.2 255.7h5M123.7 253.2v5M121.9 253.9l3.5 3.5M121.9 257.4l3.5 -3.5M123.8 255.3h5M126.3 252.8v5M124.5 253.6l3.5 3.5M124.5 257.1l3.5 -3.5M125 255.1h5M127.5 252.6v5M125.8 253.3l3.5 3.5M125.8 256.8l3.5 -3.5M126.6 255.1h5M129.1 252.6v5M127.4 253.4l3.5 3.5M127.4 256.9l3.5 -3.5M128 255.8h5M130.5 253.3v5M128.8 254.1l3.5 3.5M128.8 257.6l3.5 -3.5M130.4 256.1h5M132.9 253.6v5M131.1 254.3l3.5 3.5M131.1 257.8l3.5 -3.5M117.5 257h5M120 254.5v5M118.3 255.2l3.5 3.5M118.3 258.7l3.5 -3.5M119.9 256.6h5M122.4 254.1v5M120.6 254.9l3.5 3.5M120.6 258.4l3.5 -3.5M121.3 256.3h5M123.8 253.8v5M122.1 254.6l3.5 3.5M122.1 258.1l3.5 -3.5M122.3 256.6h5M124.8 254.1v5M123.1 254.9l3.5 3.5M123.1 258.4l3.5 -3.5M124.4 256.4h5M126.9 253.9v5M125.2 254.6l3.5 3.5M125.2 258.1l3.5 -3.5M125.4 256h5M127.9 253.5v5M126.2 254.2l3.5 3.5M126.2 257.7l3.5 -3.5M127.1 257.4h5M129.6 254.9v5M127.9 255.6l3.5 3.5M127.9 259.1l3.5 -3.5M130 256.4h5M132.5 253.9v5M130.7 254.7l3.5 3.5M130.7 258.2l3.5 -3.5M131 256.6h5M133.5 254.1v5M131.7 254.9l3.5 3.5M131.7 258.4l3.5 -3.5M115 257.8h5M117.5 255.3v5M115.8 256.1l3.5 3.5M115.8 259.6l3.5 -3.5M115.8 258.3h5M118.3 255.8v5M116.6 256.6l3.5 3.5M116.6 260.1l3.5 -3.5M119.1 258.8h5M121.6 256.3v5M119.9 257.1l3.5 3.5M119.9 260.6l3.5 -3.5M120.2 257.6h5M122.7 255.1v5M121 255.8l3.5 3.5M121 259.3l3.5 -3.5M121.6 258.2h5M124.1 255.7v5M122.3 256.5l3.5 3.5M122.3 260l3.5 -3.5M124.3 258.4h5M126.8 255.9v5M125 256.7l3.5 3.5M125 260.2l3.5 -3.5M125.5 258.2h5M128 255.7v5M126.2 256.4l3.5 3.5M126.2 259.9l3.5 -3.5M127.2 257.7h5M129.7 255.2v5M128 255.9l3.5 3.5M128 259.4l3.5 -3.5M129.3 259h5M131.8 256.5v5M130.1 257.3l3.5 3.5M130.1 260.8l3.5 -3.5M130.5 258.1h5M133 255.6v5M131.3 256.3l3.5 3.5M131.3 259.8l3.5 -3.5M115.3 259.9h5M117.8 257.4v5M116.1 258.2l3.5 3.5M116.1 261.7l3.5 -3.5M118 259.3h5M120.5 256.8v5M118.8 257.6l3.5 3.5M118.8 261.1l3.5 -3.5M119.5 260.4h5M122 257.9v5M120.3 258.7l3.5 3.5M120.3 262.2l3.5 -3.5M121.4 259.7h5M123.9 257.2v5M122.1 258l3.5 3.5M122.1 261.5l3.5 -3.5M123.1 260.4h5M125.6 257.9v5M123.8 258.6l3.5 3.5M123.8 262.1l3.5 -3.5M124.2 259.3h5M126.7 256.8v5M125 257.5l3.5 3.5M125 261l3.5 -3.5M125.7 259.5h5M128.2 257v5M126.5 257.8l3.5 3.5M126.5 261.3l3.5 -3.5M128.5 258.9h5M131 256.4v5M129.2 257.1l3.5 3.5M129.2 260.6l3.5 -3.5M129.6 259.2h5M132.1 256.7v5M130.3 257.4l3.5 3.5M130.3 260.9l3.5 -3.5M130.5 259.5h5M133 257v5M131.3 257.8l3.5 3.5M131.3 261.3l3.5 -3.5M116.2 261.5h5M118.7 259v5M117 259.8l3.5 3.5M117 263.3l3.5 -3.5M117.6 260.9h5M120.1 258.4v5M118.3 259.2l3.5 3.5M118.3 262.7l3.5 -3.5M119.7 260.6h5M122.2 258.1v5M120.5 258.8l3.5 3.5M120.5 262.3l3.5 -3.5M121.8 260.9h5M124.3 258.4v5M122.5 259.2l3.5 3.5M122.5 262.7l3.5 -3.5M123.1 260.8h5M125.6 258.3v5M123.8 259.1l3.5 3.5M123.8 262.6l3.5 -3.5M125.6 261h5M128.1 258.5v5M126.3 259.2l3.5 3.5M126.3 262.7l3.5 -3.5M127.1 261.5h5M129.6 259v5M127.9 259.8l3.5 3.5M127.9 263.3l3.5 -3.5M129.1 261.8h5M131.6 259.3v5M129.8 260l3.5 3.5M129.8 263.5l3.5 -3.5M130.5 261.2h5M133 258.7v5M131.3 259.5l3.5 3.5M131.3 263l3.5 -3.5M116.8 262.5h5M119.3 260v5M117.6 260.8l3.5 3.5M117.6 264.3l3.5 -3.5M126.6 262.1h5M129.1 259.6v5M127.4 260.4l3.5 3.5M127.4 263.9l3.5 -3.5M127.7 262h5M130.2 259.5v5M128.5 260.2l3.5 3.5M128.5 263.7l3.5 -3.5M128.7 262.4h5M131.2 259.9v5M129.5 260.7l3.5 3.5M129.5 264.2l3.5 -3.5M131.1 261.9h5M133.6 259.4v5M131.8 260.1l3.5 3.5M131.8 263.6l3.5 -3.5M64.1 280.7h5M66.6 278.2v5M64.8 278.9l3.5 3.5M64.8 282.4l3.5 -3.5M66.8 281.7h5M69.3 279.2v5M67.6 279.9l3.5 3.5M67.6 283.4l3.5 -3.5M68.5 283.2h5M71 280.7v5M69.2 281.5l3.5 3.5M69.2 285l3.5 -3.5M146.5 193.3h5M149 190.8v5M147.3 191.5l3.5 3.5M147.3 195l3.5 -3.5M143.9 194.4h5M146.4 191.9v5M144.7 192.7l3.5 3.5M144.7 196.2l3.5 -3.5M141.6 196.2h5M144.1 193.7v5M142.4 194.5l3.5 3.5M142.4 198l3.5 -3.5M142.9 196.6h5M145.4 194.1v5M143.6 194.9l3.5 3.5M143.6 198.4l3.5 -3.5M144.2 195.1h5M146.7 192.6v5M144.9 193.4l3.5 3.5M144.9 196.9l3.5 -3.5M141.9 197.3h5M144.4 194.8v5M142.7 195.5l3.5 3.5M142.7 199l3.5 -3.5M158.1 178.3h5M160.6 175.8v5M158.9 176.6l3.5 3.5M158.9 180.1l3.5 -3.5M157.2 179.9h5M159.7 177.4v5M157.9 178.2l3.5 3.5M157.9 181.7l3.5 -3.5M158 179.1h5M160.5 176.6v5M158.7 177.4l3.5 3.5M158.7 180.9l3.5 -3.5M155.7 181.2h5M158.2 178.7v5M156.4 179.4l3.5 3.5M156.4 182.9l3.5 -3.5M157.2 181h5M159.7 178.5v5M157.9 179.2l3.5 3.5M157.9 182.7l3.5 -3.5M169.9 166.1h5M172.4 163.6v5M170.6 164.4l3.5 3.5M170.6 167.9l3.5 -3.5M169.7 167.6h5M172.2 165.1v5M170.5 165.8l3.5 3.5M170.5 169.3l3.5 -3.5M167.4 169.1h5M169.9 166.6v5M168.1 167.3l3.5 3.5M168.1 170.8l3.5 -3.5M167.4 170.5h5M169.9 168v5M168.2 168.7l3.5 3.5M168.2 172.2l3.5 -3.5M195 132.5h5M197.5 130v5M195.8 130.8l3.5 3.5M195.8 134.2l3.5 -3.5M203.5 122.5h5M206 120v5M204.2 120.8l3.5 3.5M204.2 124.2l3.5 -3.5M209.5 117h5M212 114.5v5M210.2 115.2l3.5 3.5M210.2 118.8l3.5 -3.5M216 110.5h5M218.5 108v5M216.8 108.8l3.5 3.5M216.8 112.2l3.5 -3.5M223.5 104h5M226 101.5v5M224.2 102.2l3.5 3.5M224.2 105.8l3.5 -3.5M232.5 96.5h5M235 94v5M233.2 94.8l3.5 3.5M233.2 98.2l3.5 -3.5M44.8 311.7h5M47.3 309.2v5M45.5 309.9l3.5 3.5M45.5 313.4l3.5 -3.5M94.5 269.6h5M97 267.1v5M95.2 267.9l3.5 3.5M95.2 271.4l3.5 -3.5M97.1 269.2h5M99.6 266.7v5M97.8 267.4l3.5 3.5M97.8 270.9l3.5 -3.5M95.7 267.8h5M98.2 265.3v5M96.5 266.1l3.5 3.5M96.5 269.6l3.5 -3.5M209.7 138.6h5M212.2 136.1v5M210.4 136.8l3.5 3.5M210.4 140.3l3.5 -3.5M211.5 137.8h5M214 135.3v5M212.2 136.1l3.5 3.5M212.2 139.6l3.5 -3.5M225.3 124.2h5M227.8 121.7v5M226.1 122.5l3.5 3.5M226.1 126l3.5 -3.5M227.1 123.4h5M229.6 120.9v5M227.8 121.7l3.5 3.5M227.8 125.2l3.5 -3.5M235 114h5M237.5 111.5v5M235.8 112.2l3.5 3.5M235.8 115.8l3.5 -3.5M236.8 113.2h5M239.3 110.7v5M237.6 111.5l3.5 3.5M237.6 115l3.5 -3.5M245.5 104h5M248 101.5v5M246.2 102.2l3.5 3.5M246.2 105.8l3.5 -3.5M247.3 103.2h5M249.8 100.7v5M248.1 101.5l3.5 3.5M248.1 105l3.5 -3.5M304.5 59.3h5M307 56.8v5M305.2 57.5l3.5 3.5M305.2 61l3.5 -3.5M302.5 60h5M305 57.5v5M303.2 58.2l3.5 3.5M303.2 61.8l3.5 -3.5M138.4 215.7h5M140.9 213.2v5M139.2 213.9l3.5 3.5M139.2 217.4l3.5 -3.5M139 213h5M141.5 210.5v5M139.8 211.2l3.5 3.5M139.8 214.8l3.5 -3.5M137.5 216.5h5M140 214v5M138.2 214.8l3.5 3.5M138.2 218.2l3.5 -3.5M140.5 214.5h5M143 212v5M141.2 212.8l3.5 3.5M141.2 216.2l3.5 -3.5M144 202h5M146.5 199.5v5M144.8 200.2l3.5 3.5M144.8 203.8l3.5 -3.5M146.5 201h5M149 198.5v5M147.2 199.2l3.5 3.5M147.2 202.8l3.5 -3.5M154.5 199.5h5M157 197v5M155.2 197.8l3.5 3.5M155.2 201.2l3.5 -3.5M156.5 197h5M159 194.5v5M157.2 195.2l3.5 3.5M157.2 198.8l3.5 -3.5" stroke="#0B2A8C" stroke-width="1.0" fill="none" clip-path="url(#cL)"/>

<line x1="29" y1="310" x2="324" y2="29.3" stroke="#0B2A8C" stroke-width="2" clip-path="url(#cL)"/>
<path d="M142.6 195.4h5M145.1 192.9v5M143.3 193.7l3.5 3.5M143.3 197.2l3.5 -3.5M139.7 201.4h5M142.2 198.9v5M140.5 199.6l3.5 3.5M140.5 203.1l3.5 -3.5M201.2 136.5h5M203.7 134v5M201.9 134.7l3.5 3.5M201.9 138.2l3.5 -3.5M181.8 162.8h5M184.3 160.3v5M182.5 161.1l3.5 3.5M182.5 164.6l3.5 -3.5M143.7 212.4h5M146.2 209.9v5M144.4 210.6l3.5 3.5M144.4 214.1l3.5 -3.5M187.2 152.3h5M189.7 149.8v5M188 150.5l3.5 3.5M188 154l3.5 -3.5M197.3 133.9h5M199.8 131.4v5M198.1 132.1l3.5 3.5M198.1 135.6l3.5 -3.5M137.6 197.9h5M140.1 195.4v5M138.3 196.1l3.5 3.5M138.3 199.6l3.5 -3.5M188.7 148.3h5M191.2 145.8v5M189.4 146.5l3.5 3.5M189.4 150l3.5 -3.5M197.3 145.4h5M199.8 142.9v5M198 143.6l3.5 3.5M198 147.1l3.5 -3.5M185.3 147.5h5M187.8 145v5M186.1 145.7l3.5 3.5M186.1 149.2l3.5 -3.5M144.3 201.3h5M146.8 198.8v5M145.1 199.6l3.5 3.5M145.1 203.1l3.5 -3.5M153.3 188.8h5M155.8 186.3v5M154 187.1l3.5 3.5M154 190.6l3.5 -3.5M157.7 175.7h5M160.2 173.2v5M158.4 173.9l3.5 3.5M158.4 177.4l3.5 -3.5M167.8 174.9h5M170.3 172.4v5M168.5 173.2l3.5 3.5M168.5 176.7l3.5 -3.5M143.2 193h5M145.7 190.5v5M143.9 191.2l3.5 3.5M143.9 194.7l3.5 -3.5M145.6 188.6h5M148.1 186.1v5M146.3 186.8l3.5 3.5M146.3 190.3l3.5 -3.5M161.3 172.3h5M163.8 169.8v5M162.1 170.5l3.5 3.5M162.1 174l3.5 -3.5M164.4 174.9h5M166.9 172.4v5M165.2 173.1l3.5 3.5M165.2 176.6l3.5 -3.5M160.2 181.2h5M162.7 178.7v5M160.9 179.4l3.5 3.5M160.9 182.9l3.5 -3.5M145.4 189.7h5M147.9 187.2v5M146.2 188l3.5 3.5M146.2 191.5l3.5 -3.5M174.3 177.5h5M176.8 175v5M175.1 175.7l3.5 3.5M175.1 179.2l3.5 -3.5M179.7 156.3h5M182.2 153.8v5M180.4 154.6l3.5 3.5M180.4 158.1l3.5 -3.5M137.9 196.9h5M140.4 194.4v5M138.7 195.2l3.5 3.5M138.7 198.7l3.5 -3.5M154.8 186.1h5M157.3 183.6v5M155.6 184.3l3.5 3.5M155.6 187.8l3.5 -3.5M167.3 172.8h5M169.8 170.3v5M168.1 171.1l3.5 3.5M168.1 174.6l3.5 -3.5M158.3 173.6h5M160.8 171.1v5M159.1 171.8l3.5 3.5M159.1 175.3l3.5 -3.5M191.8 150.8h5M194.3 148.3v5M192.5 149l3.5 3.5M192.5 152.5l3.5 -3.5M150.6 194.4h5M153.1 191.9v5M151.4 192.6l3.5 3.5M151.4 196.1l3.5 -3.5M142.1 197.9h5M144.6 195.4v5M142.8 196.2l3.5 3.5M142.8 199.7l3.5 -3.5M145.3 199.1h5M147.8 196.6v5M146 197.4l3.5 3.5M146 200.9l3.5 -3.5M139.8 206.6h5M142.3 204.1v5M140.6 204.9l3.5 3.5M140.6 208.4l3.5 -3.5M191.1 146.3h5M193.6 143.8v5M191.9 144.6l3.5 3.5M191.9 148.1l3.5 -3.5M163.1 168.3h5M165.6 165.8v5M163.9 166.6l3.5 3.5M163.9 170.1l3.5 -3.5M150.9 201.7h5M153.4 199.2v5M151.7 200l3.5 3.5M151.7 203.5l3.5 -3.5M176.7 170.8h5M179.2 168.3v5M177.5 169l3.5 3.5M177.5 172.5l3.5 -3.5M145 202.1h5M147.5 199.6v5M145.8 200.4l3.5 3.5M145.8 203.9l3.5 -3.5M134.1 198.3h5M136.6 195.8v5M134.8 196.5l3.5 3.5M134.8 200l3.5 -3.5M159.1 188.8h5M161.6 186.3v5M159.9 187l3.5 3.5M159.9 190.5l3.5 -3.5M169.7 178.5h5M172.2 176v5M170.5 176.8l3.5 3.5M170.5 180.3l3.5 -3.5M134.3 205.9h5M136.8 203.4v5M135 204.1l3.5 3.5M135 207.6l3.5 -3.5M173.6 159h5M176.1 156.5v5M174.3 157.3l3.5 3.5M174.3 160.8l3.5 -3.5M149.1 183.7h5M151.6 181.2v5M149.9 181.9l3.5 3.5M149.9 185.4l3.5 -3.5M199.6 140.4h5M202.1 137.9v5M200.4 138.7l3.5 3.5M200.4 142.2l3.5 -3.5M178.1 167.7h5M180.6 165.2v5M178.8 166l3.5 3.5M178.8 169.5l3.5 -3.5M167.2 175.2h5M169.7 172.7v5M168 173.5l3.5 3.5M168 177l3.5 -3.5M191.6 147h5M194.1 144.5v5M192.3 145.2l3.5 3.5M192.3 148.7l3.5 -3.5M137.4 215h5M139.9 212.5v5M138.1 213.3l3.5 3.5M138.1 216.8l3.5 -3.5M144.1 211.5h5M146.6 209v5M144.8 209.7l3.5 3.5M144.8 213.2l3.5 -3.5M147.1 207.6h5M149.6 205.1v5M147.8 205.8l3.5 3.5M147.8 209.3l3.5 -3.5M172.3 173.3h5M174.8 170.8v5M173 171.5l3.5 3.5M173 175l3.5 -3.5M147.4 203.8h5M149.9 201.3v5M148.1 202l3.5 3.5M148.1 205.5l3.5 -3.5M150.4 201.2h5M152.9 198.7v5M151.1 199.4l3.5 3.5M151.1 202.9l3.5 -3.5M164.7 177.6h5M167.2 175.1v5M165.4 175.8l3.5 3.5M165.4 179.3l3.5 -3.5M173.4 167.7h5M175.9 165.2v5M174.2 165.9l3.5 3.5M174.2 169.4l3.5 -3.5M136.1 213.1h5M138.6 210.6v5M136.9 211.3l3.5 3.5M136.9 214.8l3.5 -3.5M189.3 153.4h5M191.8 150.9v5M190.1 151.7l3.5 3.5M190.1 155.2l3.5 -3.5M169.4 165.6h5M171.9 163.1v5M170.2 163.8l3.5 3.5M170.2 167.3l3.5 -3.5M180.8 163.7h5M183.3 161.2v5M181.6 162l3.5 3.5M181.6 165.5l3.5 -3.5M153.9 195.6h5M156.4 193.1v5M154.6 193.9l3.5 3.5M154.6 197.4l3.5 -3.5M170 163.2h5M172.5 160.7v5M170.7 161.4l3.5 3.5M170.7 164.9l3.5 -3.5" stroke="#0B2A8C" stroke-width="1.0" fill="none" clip-path="url(#cL)"/>
<path d="M140.3 204.6h5M142.8 202.1v5M141.1 202.8l3.5 3.5M141.1 206.3l3.5 -3.5M141.4 208.3h5M143.9 205.8v5M142.1 206.5l3.5 3.5M142.1 210l3.5 -3.5M158 188.1h5M160.5 185.6v5M158.8 186.4l3.5 3.5M158.8 189.9l3.5 -3.5M151.7 192.7h5M154.2 190.2v5M152.5 190.9l3.5 3.5M152.5 194.4l3.5 -3.5M178 153.5h5M180.5 151v5M178.8 151.7l3.5 3.5M178.8 155.2l3.5 -3.5M133.5 201.5h5M136 199v5M134.3 199.8l3.5 3.5M134.3 203.3l3.5 -3.5M135.6 209.2h5M138.1 206.7v5M136.3 207.5l3.5 3.5M136.3 211l3.5 -3.5M156.1 184.5h5M158.6 182v5M156.9 182.8l3.5 3.5M156.9 186.3l3.5 -3.5M146.2 207.4h5M148.7 204.9v5M146.9 205.7l3.5 3.5M146.9 209.2l3.5 -3.5M177.3 154.3h5M179.8 151.8v5M178.1 152.6l3.5 3.5M178.1 156.1l3.5 -3.5M180.8 166.9h5M183.3 164.4v5M181.6 165.1l3.5 3.5M181.6 168.6l3.5 -3.5M171 168.3h5M173.5 165.8v5M171.8 166.5l3.5 3.5M171.8 170l3.5 -3.5M135.8 193.2h5M138.3 190.7v5M136.5 191.4l3.5 3.5M136.5 194.9l3.5 -3.5" stroke="#FF00FF" stroke-width="1.0" fill="none" clip-path="url(#cL)"/>
<path d="M160.9 184.4h5M163.4 181.9v5M161.6 182.7l3.5 3.5M161.6 186.2l3.5 -3.5M187.7 147.9h5M190.2 145.4v5M188.4 146.2l3.5 3.5M188.4 149.7l3.5 -3.5M155.1 194.9h5M157.6 192.4v5M155.8 193.1l3.5 3.5M155.8 196.6l3.5 -3.5M142.4 203.5h5M144.9 201v5M143.2 201.8l3.5 3.5M143.2 205.3l3.5 -3.5M182.3 155.6h5M184.8 153.1v5M183 153.8l3.5 3.5M183 157.3l3.5 -3.5M147.9 197.9h5M150.4 195.4v5M148.7 196.2l3.5 3.5M148.7 199.7l3.5 -3.5M158.5 192.2h5M161 189.7v5M159.2 190.5l3.5 3.5M159.2 194l3.5 -3.5M176.1 155.6h5M178.6 153.1v5M176.9 153.8l3.5 3.5M176.9 157.3l3.5 -3.5M188.2 145.1h5M190.7 142.6v5M188.9 143.4l3.5 3.5M188.9 146.9l3.5 -3.5" stroke="#D95319" stroke-width="1.0" fill="none" clip-path="url(#cL)"/>
<path d="M119.6 213.9L116.9 214.3L114 216.9L114 216.9L113.9 217L113.9 217L113.8 217L113.7 217.1L113.6 217.1L113.6 217.1L113.5 217.1L113.4 217.1L109.2 216.6L105.7 219L104.1 225.7L104.1 225.8L104 225.8L104 225.9L103.9 226L103.9 226L103.8 226.1L103.8 226.1L103.7 226.2L103.6 226.2L103.6 226.3L103.5 226.3L103.4 226.3L103.3 226.3L103.2 226.3L103.2 226.3L103.1 226.3L103 226.2L102.9 226.2L102.9 226.2L102.8 226.1L102.7 226.1L102.7 226L102.6 226L102.6 225.9L102.6 225.8L101.3 222.9L99.5 220.9L97.7 222.9L96.3 229.7L96.3 229.7L96.2 229.8L96.2 229.9L96.2 230L96.1 230L96 230.1L92.7 233.3L90.7 238.3L90.7 238.4L90.7 238.4L90.6 238.5L90.6 238.6L90.5 238.6L90.4 238.7L90.4 238.7L90.3 238.7L90.2 238.8L75.2 243.1L75.2 243.1L67.3 245.3L67.3 281.8L68.5 284.1L71.4 283.8L73.2 278.7L73.3 278.6L73.3 278.6L73.4 278.5L73.4 278.4L73.5 278.4L76.4 275.9L79.4 272L79.4 272L79.5 271.9L79.5 271.9L79.6 271.8L79.6 271.8L79.7 271.8L87.6 268.8L93.5 264.4L93.6 264.3L93.6 264.3L93.7 264.3L102.7 260.8L102.8 260.7L102.9 260.7L103 260.7L103 260.7L112.1 261.2L114.5 255.2L114.5 255.1L114.5 255.1L114.6 255L114.6 254.9L114.7 254.9L114.7 254.8L114.8 254.8L114.9 254.8L114.9 254.7L115 254.7L115.1 254.7L115.2 254.7L115.2 254.7L115.3 254.7L115.4 254.7L115.5 254.7L115.5 254.8L115.6 254.8L115.7 254.9L115.7 254.9L115.8 255L115.8 255L119.3 259.5L125.2 257.3L129 253L129 252.9L129.1 252.9L129.2 252.8L129.2 252.8L129.3 252.8L134.5 250.5L134.7 224L134.7 223.9L134.7 223.8L134.7 223.8L134.8 223.7L134.8 223.6L134.8 223.6L136.2 221.5L136.2 207.7L136.1 207.7L136.1 207.7L136 207.7L135.9 207.7L135.8 207.7L135.7 207.7L135.7 207.7L135.6 207.7L135.5 207.7L135.4 207.7L135.3 207.6L135.2 207.6L135.2 207.6L135.1 207.5L135 207.5L134.9 207.5L134.9 207.4L134.8 207.4L134.7 207.3L134.7 207.3L134.6 207.2L134.6 207.2L134.5 207.1L134.4 207L134.4 207L134.4 206.9L134.3 206.8L134.3 206.7L134.2 206.7L134.2 206.6L134.2 206.5L134.2 206.4L134.1 206.3L134.1 206.3L134.1 206.2L134.1 206.1L134.1 206L134.1 205.9L134.1 205.9L134.1 205.8L134.1 205.7L134.1 205.6L134.2 205.5L134.2 205.4L134.2 205.4L134.3 205.3L134.3 205.2L134.3 205.1L134.4 205.1L134.4 205L136.2 202.4L136.2 196.4L135.4 197.9L135.4 197.9L135.3 198L130.6 204L130.6 204L130.5 204.1L130.5 204.1L130.4 204.2L130.4 204.2L126.4 206.2L123.2 209L122.1 211.3L122.1 211.2L122.2 211.2L122.3 211.2L122.4 211.1L122.4 211.1L122.5 211.1L122.6 211.1L122.6 211L122.7 211L122.8 211L122.9 211L123 211L123 211L123.1 211L123.2 211L123.3 211L123.4 211L123.4 211.1L123.5 211.1L123.6 211.1L123.6 211.1L123.7 211.2L123.8 211.2L123.9 211.2L123.9 211.3L124 211.3L124 211.4L124.1 211.4L124.2 211.5L124.2 211.6L124.3 211.6L124.3 211.7L124.4 211.7L124.4 211.8L124.4 211.9L124.5 212L124.5 212L124.5 212.1L124.5 212.2L124.6 212.2L124.6 212.3L124.6 212.4L124.6 212.5L124.6 212.6L124.6 212.6L124.6 212.7L124.6 212.8L124.6 212.9L124.6 213L124.5 213L124.5 213.1L124.5 213.2L124.5 213.2L124.4 213.3L124.4 213.4L124.4 213.5L124.3 213.5L124.3 213.6L124.2 213.6L124.2 213.7L124.1 213.7L122.1 215.7L122.1 215.8L122 215.8L122 215.9L121.9 215.9L121.9 216L121.8 216L121.7 216L121.6 216.1L121.6 216.1L121.5 216.1L121.4 216.1L121.4 216.2L121.3 216.2L121.2 216.2L121.1 216.2L121 216.2L121 216.2L120.9 216.2L120.8 216.2L120.7 216.2L120.6 216.2L120.6 216.1L120.5 216.1L120.4 216.1L120.4 216.1L120.3 216L120.2 216L120.1 216L120.1 215.9L120 215.9L120 215.8L119.9 215.8L119.8 215.7L119.8 215.6L119.7 215.6L119.7 215.5L119.6 215.5L119.6 215.4L119.6 215.3L119.5 215.2L119.5 215.2L119.5 215.1L119.5 215L119.4 215L119.4 214.9L119.4 214.8L119.4 214.7L119.4 214.6L119.4 214.6L119.4 214.5L119.4 214.4L119.4 214.3L119.4 214.2L119.5 214.2L119.5 214.1L119.5 214L119.5 214L119.6 213.9Z" fill="#77AC30" fill-rule="evenodd" clip-path="url(#cL)"/><path d="M45.4 300L45.4 300.2L45.4 300.4L45.5 300.6L45.5 300.7L45.6 300.9L45.7 301.1L45.8 301.2L46 301.3L46.1 301.5L46.2 301.6L46.4 301.7L46.6 301.8L46.7 301.8L46.9 301.9L47.1 301.9L47.3 301.9L47.5 301.9L47.7 301.9L47.9 301.8L48 301.8L48.2 301.7L48.4 301.6L48.5 301.5L48.6 301.3L48.8 301.2L48.9 301.1L49 300.9L49.1 300.7L49.1 300.6L49.2 300.4L49.2 300.2L49.2 300L49.2 236.4L49.2 236.2L49.2 236L49.1 235.8L49.1 235.7L49 235.5L48.9 235.3L48.8 235.2L48.6 235.1L48.5 234.9L48.4 234.8L48.2 234.7L48 234.6L47.9 234.6L47.7 234.5L47.5 234.5L47.3 234.5L47.1 234.5L46.9 234.5L46.7 234.6L46.6 234.6L46.4 234.7L46.2 234.8L46.1 234.9L46 235.1L45.8 235.2L45.7 235.3L45.6 235.5L45.5 235.7L45.5 235.8L45.4 236L45.4 236.2L45.4 236.4L45.4 300Z" fill="#77AC30" fill-rule="evenodd" clip-path="url(#cL)"/><path d="M51.8 290L51.9 290L52 290L52 290L52.1 290L52.2 290L52.3 290L52.4 290L52.4 290.1L52.5 290.1L52.6 290.1L52.6 290.2L52.7 290.2L52.7 290.3L52.8 290.4L52.8 290.4L52.9 290.6L53 290.8L53.1 290.9L53.3 291.1L53.5 291.2L53.6 291.4L53.8 291.5L54 291.6L54.2 291.6L54.4 291.7L54.6 291.7L54.9 291.7L55.1 291.7L55.3 291.6L55.5 291.6L55.7 291.5L55.9 291.4L56.1 291.3L56.2 291.2L56.4 291L56.5 290.8L56.7 290.7L56.8 290.5L56.9 290.3L56.9 290.1L57 289.9L57 289.6L57.6 281L57.6 280.7L57.6 280.5L57.5 280.3L57.5 280.1L57.4 279.9L57.3 279.7L57.2 279.5L57.1 279.4L56.9 279.2L56.8 279.1L56.6 278.9L56.4 278.8L56.2 278.8L56 278.7L55.8 278.6L55.6 278.6L55.4 278.6L55.1 278.6L54.9 278.7L54.7 278.7L54.5 278.8L54.3 278.9L54.2 279L54 279.1L53.8 279.3L53.7 279.4L53.6 279.6L53.5 279.8L53.4 280L53.3 280.2L53.2 280.4L52.6 283.5L52.6 283.6L52.6 283.7L52.6 283.8L52.5 283.8L52.5 283.9L52.4 283.9L52.4 284L49.6 286.3L49.4 286.5L49.3 286.6L49.2 286.8L49.1 287L49 287.2L48.9 287.4L48.8 287.6L48.8 287.8L48.8 288L48.8 288.2L48.8 288.4L48.9 288.7L49 288.9L49.1 289.1L49.2 289.2L49.3 289.4L49.5 289.6L49.6 289.7L49.8 289.8L50 289.9L50.2 290L50.4 290.1L50.6 290.2L50.8 290.2L51 290.2L51.2 290.2L51.4 290.2L51.7 290.1L51.8 290Z" fill="#77AC30" fill-rule="evenodd" clip-path="url(#cL)"/><path d="M255.2 84.5L255.5 84.4L255.7 84.2L255.9 84L256.1 83.8L256.3 83.6L256.4 83.4L256.6 83.1L256.7 82.9L256.7 82.6L256.8 82.4L256.8 82.1L256.8 81.8L256.8 81.5L256.7 81.3L256.6 81L256.5 80.7L256.4 80.5L256.2 80.3L256 80.1L255.8 79.9L255.6 79.7L255.4 79.6L255.1 79.4L254.9 79.3L254.6 79.3L254.4 79.2L254.1 79.2L253.8 79.2L253.5 79.2L253.3 79.3L253 79.4L252.7 79.5L242.8 84.5L242.5 84.6L242.3 84.8L242.1 85L241.9 85.2L241.7 85.4L241.6 85.6L241.4 85.9L241.3 86.1L241.3 86.4L241.2 86.6L241.2 86.9L241.2 87.2L241.2 87.5L241.3 87.7L241.4 88L241.5 88.3L241.6 88.5L241.8 88.7L242 88.9L242.2 89.1L242.4 89.3L242.6 89.4L242.9 89.6L243.1 89.7L243.4 89.7L243.6 89.8L243.9 89.8L244.2 89.8L244.5 89.8L244.7 89.7L245 89.6L245.3 89.5L255.2 84.5Z" fill="#77AC30" fill-rule="evenodd" clip-path="url(#cL)"/><path d="M259.4 79.4L259.6 79.3L259.8 79.1L260 78.9L260.2 78.7L260.4 78.5L260.5 78.2L260.6 78L260.7 77.7L260.8 77.5L260.8 77.2L260.8 76.9L260.8 76.6L260.7 76.4L260.7 76.1L260.6 75.9L260.4 75.6L260.3 75.4L260.1 75.2L259.9 75L259.7 74.8L259.5 74.6L259.2 74.5L259 74.4L258.7 74.3L258.5 74.2L258.2 74.2L257.9 74.2L257.6 74.2L257.4 74.3L257.1 74.3L256.9 74.4L256.6 74.6L249.6 78.6L249.4 78.7L249.2 78.9L249 79.1L248.8 79.3L248.6 79.5L248.5 79.8L248.4 80L248.3 80.3L248.2 80.5L248.2 80.8L248.2 81.1L248.2 81.4L248.3 81.6L248.3 81.9L248.4 82.1L248.6 82.4L248.7 82.6L248.9 82.8L249.1 83L249.3 83.2L249.5 83.4L249.8 83.5L250 83.6L250.3 83.7L250.5 83.8L250.8 83.8L251.1 83.8L251.4 83.8L251.6 83.7L251.9 83.7L252.1 83.6L252.4 83.4L259.4 79.4Z" fill="#77AC30" fill-rule="evenodd" clip-path="url(#cL)"/><path d="M269.6 71.6L269.8 71.4L270.1 71.2L270.3 71L270.4 70.7L270.6 70.5L270.7 70.2L270.8 70L270.9 69.7L271 69.4L271 69.1L271 68.8L271 68.5L270.9 68.2L270.8 67.9L270.7 67.7L270.5 67.4L270.4 67.2L270.2 66.9L270 66.7L269.7 66.6L269.5 66.4L269.2 66.3L269 66.2L268.7 66.1L268.4 66L268.1 66L267.8 66L267.5 66L267.2 66.1L266.9 66.2L266.7 66.3L266.4 66.5L258.4 71.4L258.2 71.6L257.9 71.8L257.7 72L257.6 72.3L257.4 72.5L257.3 72.8L257.2 73L257.1 73.3L257 73.6L257 73.9L257 74.2L257 74.5L257.1 74.8L257.2 75.1L257.3 75.3L257.5 75.6L257.6 75.8L257.8 76.1L258 76.3L258.3 76.4L258.5 76.6L258.8 76.7L259 76.8L259.3 76.9L259.6 77L259.9 77L260.2 77L260.5 77L260.8 76.9L261.1 76.8L261.3 76.7L261.6 76.5L269.6 71.6Z" fill="#77AC30" fill-rule="evenodd" clip-path="url(#cL)"/><path d="M285.2 61.2L285.5 61.1L285.8 60.9L286 60.7L286.2 60.5L286.4 60.3L286.6 60.1L286.7 59.8L286.8 59.5L286.9 59.2L287 59L287 58.7L287 58.4L287 58.1L286.9 57.8L286.8 57.5L286.7 57.2L286.6 57L286.4 56.7L286.2 56.5L286 56.3L285.8 56.1L285.6 55.9L285.3 55.8L285 55.7L284.7 55.6L284.5 55.5L284.2 55.5L283.9 55.5L283.6 55.5L283.3 55.6L283 55.7L282.7 55.8L268.8 62.3L268.5 62.4L268.2 62.6L268 62.8L267.8 63L267.6 63.2L267.4 63.4L267.3 63.7L267.2 64L267.1 64.3L267 64.5L267 64.8L267 65.1L267 65.4L267.1 65.7L267.2 66L267.3 66.3L267.4 66.5L267.6 66.8L267.8 67L268 67.2L268.2 67.4L268.4 67.6L268.7 67.7L269 67.8L269.3 67.9L269.5 68L269.8 68L270.1 68L270.4 68L270.7 67.9L271 67.8L271.3 67.7L285.2 61.2Z" fill="#77AC30" fill-rule="evenodd" clip-path="url(#cL)"/><path d="M299.2 50.5L299.5 50.4L299.7 50.2L299.9 50L300.1 49.8L300.3 49.6L300.4 49.4L300.6 49.1L300.7 48.9L300.7 48.6L300.8 48.4L300.8 48.1L300.8 47.8L300.8 47.5L300.7 47.3L300.6 47L300.5 46.7L300.4 46.5L300.2 46.3L300 46.1L299.8 45.9L299.6 45.7L299.4 45.6L299.1 45.4L298.9 45.3L298.6 45.3L298.4 45.2L298.1 45.2L297.8 45.2L297.5 45.2L297.3 45.3L297 45.4L296.7 45.5L287.8 50L287.5 50.1L287.3 50.3L287.1 50.5L286.9 50.7L286.7 50.9L286.6 51.1L286.4 51.4L286.3 51.6L286.3 51.9L286.2 52.1L286.2 52.4L286.2 52.7L286.2 53L286.3 53.2L286.4 53.5L286.5 53.8L286.6 54L286.8 54.2L287 54.4L287.2 54.6L287.4 54.8L287.6 54.9L287.9 55.1L288.1 55.2L288.4 55.2L288.6 55.3L288.9 55.3L289.2 55.3L289.5 55.3L289.7 55.2L290 55.1L290.3 55L299.2 50.5Z" fill="#77AC30" fill-rule="evenodd" clip-path="url(#cL)"/><path d="M324.1 34.1L324.3 34L324.5 33.9L324.7 33.7L324.8 33.5L325 33.3L325.1 33.1L325.2 32.9L325.3 32.7L325.3 32.5L325.4 32.3L325.4 32L325.4 31.8L325.4 31.5L325.3 31.3L325.2 31.1L325.1 30.9L325 30.7L324.9 30.5L324.7 30.3L324.5 30.2L324.3 30L324.1 29.9L323.9 29.8L323.7 29.7L323.5 29.7L323.3 29.6L323 29.6L322.8 29.6L322.5 29.6L322.3 29.7L322.1 29.8L321.9 29.9L301.9 40.4L301.7 40.5L301.5 40.6L301.3 40.8L301.2 41L301 41.2L300.9 41.4L300.8 41.6L300.7 41.8L300.7 42L300.6 42.2L300.6 42.5L300.6 42.7L300.6 43L300.7 43.2L300.8 43.4L300.9 43.6L301 43.8L301.1 44L301.3 44.2L301.5 44.3L301.7 44.5L301.9 44.6L302.1 44.7L302.3 44.8L302.5 44.8L302.7 44.9L303 44.9L303.2 44.9L303.5 44.9L303.7 44.8L303.9 44.7L304.1 44.6L324.1 34.1Z" fill="#77AC30" fill-rule="evenodd" clip-path="url(#cL)"/><path d="M291.8 69.1L292 69L292.2 68.9L292.4 68.8L292.6 68.7L292.8 68.6L292.9 68.4L293 68.2L293.1 68L293.2 67.8L293.3 67.6L293.4 67.4L293.4 67.2L293.4 67L293.4 66.8L293.4 66.6L293.3 66.4L293.2 66.2L293.1 66L293 65.8L292.9 65.6L292.8 65.4L292.6 65.3L292.4 65.2L292.2 65.1L292 65L291.8 64.9L291.6 64.8L291.4 64.8L291.2 64.8L291 64.8L290.8 64.8L290.5 64.9L278.8 68.5L278.6 68.6L278.4 68.7L278.2 68.8L278 68.9L277.8 69L277.7 69.2L277.6 69.4L277.5 69.6L277.4 69.8L277.3 70L277.2 70.2L277.2 70.4L277.2 70.6L277.2 70.8L277.2 71L277.3 71.2L277.4 71.4L277.5 71.6L277.6 71.8L277.7 72L277.8 72.2L278 72.3L278.2 72.4L278.4 72.5L278.6 72.6L278.8 72.7L279 72.8L279.2 72.8L279.4 72.8L279.6 72.8L279.8 72.8L280.1 72.7L291.8 69.1Z" fill="#77AC30" fill-rule="evenodd" clip-path="url(#cL)"/><path d="M274.6 75.3L274.8 75.2L274.9 75.1L275 74.9L275.1 74.8L275.2 74.6L275.3 74.4L275.3 74.3L275.4 74.1L275.4 73.9L275.4 73.7L275.4 73.5L275.3 73.3L275.3 73.2L275.2 73L275.1 72.8L275 72.7L274.9 72.5L274.8 72.4L274.6 72.3L274.5 72.2L274.3 72.1L274.1 72L274 72L273.8 71.9L273.6 71.9L273.4 71.9L273.2 71.9L273 72L272.9 72L272.7 72.1L272.5 72.2L272.4 72.3L260.4 81.1L260.2 81.2L260.1 81.3L260 81.5L259.9 81.6L259.8 81.8L259.7 82L259.7 82.1L259.6 82.3L259.6 82.5L259.6 82.7L259.6 82.9L259.7 83.1L259.7 83.2L259.8 83.4L259.9 83.6L260 83.7L260.1 83.9L260.2 84L260.4 84.1L260.5 84.2L260.7 84.3L260.9 84.4L261 84.4L261.2 84.5L261.4 84.5L261.6 84.5L261.8 84.5L262 84.4L262.1 84.4L262.3 84.3L262.5 84.2L262.6 84.1L274.6 75.3Z" fill="#77AC30" fill-rule="evenodd" clip-path="url(#cL)"/><path d="M262.6 83.8L262.8 83.6L262.9 83.4L263.1 83.2L263.2 83L263.3 82.8L263.3 82.6L263.4 82.3L263.4 82.1L263.4 81.9L263.4 81.6L263.3 81.4L263.3 81.2L263.2 81L263.1 80.8L262.9 80.6L262.8 80.4L262.6 80.2L262.4 80.1L262.2 79.9L262 79.8L261.8 79.7L261.6 79.7L261.3 79.6L261.1 79.6L260.9 79.6L260.6 79.6L260.4 79.7L260.2 79.7L260 79.8L259.8 79.9L259.6 80.1L259.4 80.2L247.4 91.2L247.2 91.4L247.1 91.6L246.9 91.8L246.8 92L246.7 92.2L246.7 92.4L246.6 92.7L246.6 92.9L246.6 93.1L246.6 93.4L246.7 93.6L246.7 93.8L246.8 94L246.9 94.2L247.1 94.4L247.2 94.6L247.4 94.8L247.6 94.9L247.8 95.1L248 95.2L248.2 95.3L248.4 95.3L248.7 95.4L248.9 95.4L249.1 95.4L249.4 95.4L249.6 95.3L249.8 95.3L250 95.2L250.2 95.1L250.4 94.9L250.6 94.8L262.6 83.8Z" fill="#77AC30" fill-rule="evenodd" clip-path="url(#cL)"/><path d="M308.3 62.4L308.5 62.3L308.6 62.3L308.8 62.2L308.9 62.1L309 62L309.1 61.9L309.2 61.8L309.3 61.7L309.4 61.5L309.4 61.4L309.5 61.3L309.5 61.1L309.5 61L309.5 60.8L309.5 60.7L309.5 60.5L309.4 60.4L309.4 60.3L309.3 60.1L309.2 60L309.1 59.9L309 59.8L308.9 59.7L308.8 59.6L308.6 59.5L308.5 59.5L308.4 59.4L308.2 59.4L308.1 59.4L307.9 59.4L307.8 59.4L307.6 59.5L300.2 61.3L300 61.4L299.9 61.4L299.7 61.5L299.6 61.6L299.5 61.7L299.4 61.8L299.3 61.9L299.2 62L299.1 62.2L299.1 62.3L299 62.4L299 62.6L299 62.7L299 62.9L299 63L299 63.2L299.1 63.3L299.1 63.4L299.2 63.6L299.3 63.7L299.4 63.8L299.5 63.9L299.6 64L299.7 64.1L299.9 64.2L300 64.2L300.1 64.3L300.3 64.3L300.4 64.3L300.6 64.3L300.7 64.3L300.9 64.2L308.3 62.4Z" fill="#77AC30" fill-rule="evenodd" clip-path="url(#cL)"/>
<path d="M209.3 135.5L209.2 135.4L209.1 135.3L209 135.1L208.9 135L208.8 134.8L208.7 134.7L208.6 134.5L208.6 134.3L208.5 134.1L208.4 134L208.4 133.8L208.4 133.6L208.3 133.4L208.3 133.3L208.3 133.1L208.3 132.9L208.3 132.7L208.3 132.6L208.4 132.3L208.4 132.2L208.4 132L208.5 131.9L208.6 131.6L208.6 131.5L208.7 131.3L208.8 131.2L208.9 131L209 130.9L209.1 130.7L209.2 130.6L209.3 130.4L209.4 130.3L209.5 130.2L214.5 125.7L214.6 125.7L214.7 125.6L214.9 125.5L215 125.4L215.2 125.3L215.3 125.2L215.5 125.1L215.7 125.1L215.9 125L216 124.9L216.2 124.9L216.4 124.9L216.6 124.8L216.7 124.8L216.9 124.8L217.1 124.8L217.3 124.8L217.4 124.8L217.7 124.9L217.8 124.9L218 124.9L218.1 125L218.4 125.1L218.5 125.1L218.7 125.2L218.8 125.3L219 125.4L219.1 125.5L219.3 125.6L219.3 125.6L223 122.1L222.9 122L222.7 121.8L222.7 121.7L222.5 121.5L222.5 121.4L222.4 121.1L222.3 121L222.2 120.8L222.2 120.6L222.1 120.4L222.1 120.3L222 120L222 119.9L222 119.6L222 119.5L222 119.2L222 119.1L222.1 118.8L222.1 118.7L222.1 118.5L222.2 118.3L222.3 118.1L222.3 117.9L222.4 117.7L222.5 117.6L222.6 117.4L222.7 117.3L222.8 117.1L222.9 116.9L223.1 116.8L223.2 116.7L223.3 116.6L230.3 110.1L230.4 110L230.5 109.9L230.7 109.7L230.8 109.7L231 109.5L231.1 109.5L231.4 109.4L231.5 109.3L231.7 109.2L231.9 109.2L232.1 109.1L232.2 109.1L232.5 109L232.6 109L232.9 109L233 109L233.3 109L233.4 109L233.7 109.1L233.8 109.1L234 109.1L234.2 109.2L234.4 109.3L234.6 109.3L234.8 109.4L234.9 109.5L235.1 109.6L235.2 109.7L235.4 109.8L235.6 109.9L235.6 110L236.5 109.2L236.4 109.1L236.4 109L236.3 108.7L236.3 108.6L236.2 108.4L236.2 108.2L236.1 108L236.1 107.9L236.1 107.6L236.1 107.5L236.1 107.2L236.1 107.1L236.2 106.9L236.2 106.7L236.2 106.5L236.3 106.3L236.4 106.1L236.4 106L236.5 105.8L236.6 105.6L236.7 105.4L236.8 105.3L236.9 105.1L237 105L237.2 104.8L237.3 104.7L237.3 104.6L244.3 98.1L244.4 98.1L244.5 98L244.7 97.8L244.9 97.7L245.1 97.6L245.2 97.5L245.4 97.4L245.5 97.4L245.8 97.3L245.9 97.3L246.1 97.2L246.3 97.2L246.5 97.1L246.6 97.1L246.6 90.6L245.4 91.4L233.7 100.7L230.3 104.6L230.2 104.7L230 104.9L223.1 110.3L216.2 117.2L216.2 117.2L205.8 127.1L197.4 137.4L197.4 150.8L198.1 150L203 142.2L203.1 142L203.3 141.8L209.3 135.5Z" fill="#77AC30" fill-rule="evenodd" clip-path="url(#cL)"/>
<path d="M129.8 204.2h5M132.3 201.7v5M130.5 202.5l3.5 3.5M130.5 206l3.5 -3.5M130.1 204.4h5M132.6 201.9v5M130.8 202.7l3.5 3.5M130.8 206.2l3.5 -3.5M124.9 207.2h5M127.4 204.7v5M125.6 205.4l3.5 3.5M125.6 208.9l3.5 -3.5M127.3 206.9h5M129.8 204.4v5M128.1 205.2l3.5 3.5M128.1 208.7l3.5 -3.5M128.6 206.8h5M131.1 204.3v5M129.3 205l3.5 3.5M129.3 208.5l3.5 -3.5M130.2 207.4h5M132.7 204.9v5M131 205.6l3.5 3.5M131 209.1l3.5 -3.5M122.9 209.5h5M125.4 207v5M123.7 207.8l3.5 3.5M123.7 211.3l3.5 -3.5M124.6 209.1h5M127.1 206.6v5M125.3 207.4l3.5 3.5M125.3 210.9l3.5 -3.5M126.5 208h5M129 205.5v5M127.2 206.2l3.5 3.5M127.2 209.7l3.5 -3.5M129 207.7h5M131.5 205.2v5M129.7 206l3.5 3.5M129.7 209.5l3.5 -3.5M123.1 210.3h5M125.6 207.8v5M123.9 208.6l3.5 3.5M123.9 212.1l3.5 -3.5M124.2 212.5h5M126.7 210v5M124.9 210.7l3.5 3.5M124.9 214.2l3.5 -3.5M131.5 212.6h5M134 210.1v5M132.3 210.8l3.5 3.5M132.3 214.3l3.5 -3.5M123.5 212.7h5M126 210.2v5M124.3 210.9l3.5 3.5M124.3 214.4l3.5 -3.5M124.8 212.7h5M127.3 210.2v5M125.5 211l3.5 3.5M125.5 214.5l3.5 -3.5M123 215h5M125.5 212.5v5M123.7 213.3l3.5 3.5M123.7 216.8l3.5 -3.5M123.9 215.1h5M126.4 212.6v5M124.6 213.3l3.5 3.5M124.6 216.8l3.5 -3.5M130.3 215h5M132.8 212.5v5M131.1 213.3l3.5 3.5M131.1 216.8l3.5 -3.5M131.7 214.3h5M134.2 211.8v5M132.5 212.5l3.5 3.5M132.5 216l3.5 -3.5M114.3 216.3h5M116.8 213.8v5M115.1 214.6l3.5 3.5M115.1 218.1l3.5 -3.5M114.7 217.2h5M117.2 214.7v5M115.5 215.5l3.5 3.5M115.5 219l3.5 -3.5M121.1 216.9h5M123.6 214.4v5M121.9 215.1l3.5 3.5M121.9 218.6l3.5 -3.5M122.6 217h5M125.1 214.5v5M123.4 215.3l3.5 3.5M123.4 218.8l3.5 -3.5M129.1 217.8h5M131.6 215.3v5M129.8 216l3.5 3.5M129.8 219.5l3.5 -3.5M107.1 218.7h5M109.6 216.2v5M107.8 217l3.5 3.5M107.8 220.5l3.5 -3.5M110.2 218.6h5M112.7 216.1v5M111 216.9l3.5 3.5M111 220.4l3.5 -3.5M111.9 219h5M114.4 216.5v5M112.7 217.2l3.5 3.5M112.7 220.7l3.5 -3.5M114.8 218.3h5M117.3 215.8v5M115.6 216.6l3.5 3.5M115.6 220.1l3.5 -3.5M115.9 218.2h5M118.4 215.7v5M116.7 216.5l3.5 3.5M116.7 220l3.5 -3.5M118.3 218.4h5M120.8 215.9v5M119 216.7l3.5 3.5M119 220.2l3.5 -3.5M119.3 217.9h5M121.8 215.4v5M120.1 216.2l3.5 3.5M120.1 219.7l3.5 -3.5M130.9 217.7h5M133.4 215.2v5M131.7 215.9l3.5 3.5M131.7 219.4l3.5 -3.5M104.7 219.7h5M107.2 217.2v5M105.4 217.9l3.5 3.5M105.4 221.4l3.5 -3.5M106.2 220.7h5M108.7 218.2v5M106.9 219l3.5 3.5M106.9 222.5l3.5 -3.5M111.9 219.7h5M114.4 217.2v5M112.6 218l3.5 3.5M112.6 221.5l3.5 -3.5M112.7 220.1h5M115.2 217.6v5M113.4 218.4l3.5 3.5M113.4 221.9l3.5 -3.5M129.1 220h5M131.6 217.5v5M129.8 218.3l3.5 3.5M129.8 221.8l3.5 -3.5M105 222.2h5M107.5 219.7v5M105.8 220.4l3.5 3.5M105.8 223.9l3.5 -3.5M115.1 221.2h5M117.6 218.7v5M115.8 219.4l3.5 3.5M115.8 222.9l3.5 -3.5M119.7 221.9h5M122.2 219.4v5M120.4 220.2l3.5 3.5M120.4 223.7l3.5 -3.5M131.3 221.9h5M133.8 219.4v5M132 220.2l3.5 3.5M132 223.7l3.5 -3.5M104.5 223.7h5M107 221.2v5M105.2 221.9l3.5 3.5M105.2 225.4l3.5 -3.5M106.6 223.9h5M109.1 221.4v5M107.4 222.1l3.5 3.5M107.4 225.6l3.5 -3.5M110.2 224.3h5M112.7 221.8v5M110.9 222.6l3.5 3.5M110.9 226.1l3.5 -3.5M129.2 223.8h5M131.7 221.3v5M129.9 222.1l3.5 3.5M129.9 225.6l3.5 -3.5M130.8 224.2h5M133.3 221.7v5M131.6 222.5l3.5 3.5M131.6 226l3.5 -3.5M97.2 224.7h5M99.7 222.2v5M97.9 223l3.5 3.5M97.9 226.5l3.5 -3.5M104.2 225.4h5M106.7 222.9v5M104.9 223.6l3.5 3.5M104.9 227.1l3.5 -3.5M120.5 225.3h5M123 222.8v5M121.3 223.6l3.5 3.5M121.3 227.1l3.5 -3.5M128.2 225.7h5M130.7 223.2v5M129 223.9l3.5 3.5M129 227.4l3.5 -3.5M130 225.8h5M132.5 223.3v5M130.7 224.1l3.5 3.5M130.7 227.6l3.5 -3.5M96.6 226.1h5M99.1 223.6v5M97.4 224.4l3.5 3.5M97.4 227.9l3.5 -3.5M97.4 227.3h5M99.9 224.8v5M98.1 225.6l3.5 3.5M98.1 229.1l3.5 -3.5M104 226h5M106.5 223.5v5M104.7 224.3l3.5 3.5M104.7 227.8l3.5 -3.5M122.7 225.9h5M125.2 223.4v5M123.4 224.1l3.5 3.5M123.4 227.6l3.5 -3.5M130.7 227.4h5M133.2 224.9v5M131.5 225.7l3.5 3.5M131.5 229.2l3.5 -3.5M95.8 229.1h5M98.3 226.6v5M96.5 227.4l3.5 3.5M96.5 230.9l3.5 -3.5M99.1 227.9h5M101.6 225.4v5M99.8 226.2l3.5 3.5M99.8 229.7l3.5 -3.5M100.3 228.8h5M102.8 226.3v5M101.1 227l3.5 3.5M101.1 230.5l3.5 -3.5M102.4 229.1h5M104.9 226.6v5M103.1 227.3l3.5 3.5M103.1 230.8l3.5 -3.5M118.1 228.5h5M120.6 226v5M118.9 226.7l3.5 3.5M118.9 230.2l3.5 -3.5M125.9 228.1h5M128.4 225.6v5M126.6 226.3l3.5 3.5M126.6 229.8l3.5 -3.5M130.3 227.8h5M132.8 225.3v5M131.1 226l3.5 3.5M131.1 229.5l3.5 -3.5M95.4 230.5h5M97.9 228v5M96.2 228.8l3.5 3.5M96.2 232.3l3.5 -3.5M96.2 230.4h5M98.7 227.9v5M96.9 228.6l3.5 3.5M96.9 232.1l3.5 -3.5M113.1 230.9h5M115.6 228.4v5M113.8 229.2l3.5 3.5M113.8 232.7l3.5 -3.5M129 229.2h5M131.5 226.7v5M129.7 227.5l3.5 3.5M129.7 231l3.5 -3.5M130.6 230.5h5M133.1 228v5M131.4 228.8l3.5 3.5M131.4 232.3l3.5 -3.5M94 231.7h5M96.5 229.2v5M94.7 229.9l3.5 3.5M94.7 233.4l3.5 -3.5M96 231.7h5M98.5 229.2v5M96.8 230l3.5 3.5M96.8 233.5l3.5 -3.5M98.1 230.9h5M100.6 228.4v5M98.9 229.1l3.5 3.5M98.9 232.6l3.5 -3.5M115.7 232.4h5M118.2 229.9v5M116.5 230.7l3.5 3.5M116.5 234.2l3.5 -3.5M128 232h5M130.5 229.5v5M128.8 230.2l3.5 3.5M128.8 233.7l3.5 -3.5M129.9 232.1h5M132.4 229.6v5M130.6 230.4l3.5 3.5M130.6 233.9l3.5 -3.5M94.4 233.2h5M96.9 230.7v5M95.2 231.5l3.5 3.5M95.2 235l3.5 -3.5M98.3 234.1h5M100.8 231.6v5M99.1 232.4l3.5 3.5M99.1 235.9l3.5 -3.5M109.8 233.2h5M112.3 230.7v5M110.5 231.5l3.5 3.5M110.5 235l3.5 -3.5M119.1 233.3h5M121.6 230.8v5M119.9 231.6l3.5 3.5M119.9 235.1l3.5 -3.5M120.2 233.5h5M122.7 231v5M121 231.7l3.5 3.5M121 235.2l3.5 -3.5M91 235.7h5M93.5 233.2v5M91.8 234l3.5 3.5M91.8 237.5l3.5 -3.5M92.7 234.8h5M95.2 232.3v5M93.5 233.1l3.5 3.5M93.5 236.6l3.5 -3.5M129.8 235.4h5M132.3 232.9v5M130.5 233.6l3.5 3.5M130.5 237.1l3.5 -3.5M90.6 236h5M93.1 233.5v5M91.4 234.3l3.5 3.5M91.4 237.8l3.5 -3.5M91.9 237.2h5M94.4 234.7v5M92.7 235.5l3.5 3.5M92.7 239l3.5 -3.5M114.3 236.5h5M116.8 234v5M115.1 234.7l3.5 3.5M115.1 238.2l3.5 -3.5M127.3 235.8h5M129.8 233.3v5M128 234l3.5 3.5M128 237.5l3.5 -3.5M129.6 236.7h5M132.1 234.2v5M130.3 234.9l3.5 3.5M130.3 238.4l3.5 -3.5M130.6 235.9h5M133.1 233.4v5M131.3 234.1l3.5 3.5M131.3 237.6l3.5 -3.5M92.1 238.1h5M94.6 235.6v5M92.8 236.3l3.5 3.5M92.8 239.8l3.5 -3.5M93.2 238.7h5M95.7 236.2v5M93.9 237l3.5 3.5M93.9 240.5l3.5 -3.5M111.1 238.5h5M113.6 236v5M111.8 236.7l3.5 3.5M111.8 240.2l3.5 -3.5M112 237.6h5M114.5 235.1v5M112.8 235.8l3.5 3.5M112.8 239.3l3.5 -3.5M128.9 237.5h5M131.4 235v5M129.6 235.7l3.5 3.5M129.6 239.2l3.5 -3.5M88.3 240h5M90.8 237.5v5M89 238.3l3.5 3.5M89 241.8l3.5 -3.5M121.4 240.2h5M123.9 237.7v5M122.1 238.5l3.5 3.5M122.1 242l3.5 -3.5M124.8 239.8h5M127.3 237.3v5M125.6 238l3.5 3.5M125.6 241.5l3.5 -3.5M129.3 240.3h5M131.8 237.8v5M130.1 238.5l3.5 3.5M130.1 242l3.5 -3.5M130.4 240.3h5M132.9 237.8v5M131.1 238.5l3.5 3.5M131.1 242l3.5 -3.5M83 241.6h5M85.5 239.1v5M83.8 239.9l3.5 3.5M83.8 243.4l3.5 -3.5M85.6 242.6h5M88.1 240.1v5M86.3 240.9l3.5 3.5M86.3 244.4l3.5 -3.5M87.8 240.9h5M90.3 238.4v5M88.6 239.2l3.5 3.5M88.6 242.7l3.5 -3.5M108.5 241.2h5M111 238.7v5M109.3 239.5l3.5 3.5M109.3 243l3.5 -3.5M126.4 241.9h5M128.9 239.4v5M127.2 240.1l3.5 3.5M127.2 243.6l3.5 -3.5M127 240.9h5M129.5 238.4v5M127.7 239.1l3.5 3.5M127.7 242.6l3.5 -3.5M129 241.5h5M131.5 239v5M129.8 239.7l3.5 3.5M129.8 243.2l3.5 -3.5M77.2 244.2h5M79.7 241.7v5M77.9 242.5l3.5 3.5M77.9 246l3.5 -3.5M78.7 243.7h5M81.2 241.2v5M79.4 242l3.5 3.5M79.4 245.5l3.5 -3.5M81.5 244h5M84 241.5v5M82.3 242.2l3.5 3.5M82.3 245.7l3.5 -3.5M83.3 242.6h5M85.8 240.1v5M84.1 240.9l3.5 3.5M84.1 244.4l3.5 -3.5M85.5 243.4h5M88 240.9v5M86.3 241.6l3.5 3.5M86.3 245.1l3.5 -3.5M87.8 242.5h5M90.3 240v5M88.5 240.8l3.5 3.5M88.5 244.3l3.5 -3.5M128.4 242.4h5M130.9 239.9v5M129.1 240.6l3.5 3.5M129.1 244.1l3.5 -3.5M71.4 245.1h5M73.9 242.6v5M72.2 243.3l3.5 3.5M72.2 246.8l3.5 -3.5M73 244.9h5M75.5 242.4v5M73.7 243.1l3.5 3.5M73.7 246.6l3.5 -3.5M74.1 244.6h5M76.6 242.1v5M74.8 242.8l3.5 3.5M74.8 246.3l3.5 -3.5M84.5 245.6h5M87 243.1v5M85.2 243.8l3.5 3.5M85.2 247.3l3.5 -3.5M114.5 245.2h5M117 242.7v5M115.3 243.5l3.5 3.5M115.3 247l3.5 -3.5M116.8 245.9h5M119.3 243.4v5M117.5 244.2l3.5 3.5M117.5 247.7l3.5 -3.5M130.4 245.2h5M132.9 242.7v5M131.1 243.5l3.5 3.5M131.1 247l3.5 -3.5M66.4 246.7h5M68.9 244.2v5M67.1 245l3.5 3.5M67.1 248.5l3.5 -3.5M68.2 245.9h5M70.7 243.4v5M69 244.2l3.5 3.5M69 247.7l3.5 -3.5M69.8 246.3h5M72.3 243.8v5M70.6 244.5l3.5 3.5M70.6 248l3.5 -3.5M71.7 246h5M74.2 243.5v5M72.5 244.3l3.5 3.5M72.5 247.8l3.5 -3.5M75.7 246h5M78.2 243.5v5M76.4 244.3l3.5 3.5M76.4 247.8l3.5 -3.5M87.4 246.6h5M89.9 244.1v5M88.2 244.8l3.5 3.5M88.2 248.3l3.5 -3.5M103.7 247h5M106.2 244.5v5M104.5 245.3l3.5 3.5M104.5 248.8l3.5 -3.5M109.5 246.6h5M112 244.1v5M110.2 244.8l3.5 3.5M110.2 248.3l3.5 -3.5M120.2 245.9h5M122.7 243.4v5M121 244.2l3.5 3.5M121 247.7l3.5 -3.5M129.8 246.7h5M132.3 244.2v5M130.5 245l3.5 3.5M130.5 248.5l3.5 -3.5M66.6 248.3h5M69.1 245.8v5M67.4 246.6l3.5 3.5M67.4 250.1l3.5 -3.5M84.2 249.1h5M86.7 246.6v5M85 247.4l3.5 3.5M85 250.9l3.5 -3.5M98.3 248.3h5M100.8 245.8v5M99 246.6l3.5 3.5M99 250.1l3.5 -3.5M103.2 248.8h5M105.7 246.3v5M103.9 247.1l3.5 3.5M103.9 250.6l3.5 -3.5M107.6 249.2h5M110.1 246.7v5M108.4 247.4l3.5 3.5M108.4 250.9l3.5 -3.5M124.5 248.9h5M127 246.4v5M125.3 247.1l3.5 3.5M125.3 250.6l3.5 -3.5M129.9 248h5M132.4 245.5v5M130.6 246.2l3.5 3.5M130.6 249.7l3.5 -3.5M66.3 249.2h5M68.8 246.7v5M67.1 247.5l3.5 3.5M67.1 251l3.5 -3.5M67.8 250.4h5M70.3 247.9v5M68.5 248.7l3.5 3.5M68.5 252.2l3.5 -3.5M70.2 250.3h5M72.7 247.8v5M71 248.6l3.5 3.5M71 252.1l3.5 -3.5M86.9 249.4h5M89.4 246.9v5M87.7 247.7l3.5 3.5M87.7 251.2l3.5 -3.5M100.4 249.9h5M102.9 247.4v5M101.2 248.2l3.5 3.5M101.2 251.7l3.5 -3.5M109.1 249.9h5M111.6 247.4v5M109.8 248.1l3.5 3.5M109.8 251.6l3.5 -3.5M111 250.5h5M113.5 248v5M111.8 248.8l3.5 3.5M111.8 252.3l3.5 -3.5M126.4 249.2h5M128.9 246.7v5M127.2 247.5l3.5 3.5M127.2 251l3.5 -3.5M127.8 249.9h5M130.3 247.4v5M128.6 248.2l3.5 3.5M128.6 251.7l3.5 -3.5M67.2 252.1h5M69.7 249.6v5M68 250.4l3.5 3.5M68 253.9l3.5 -3.5M67.9 252.1h5M70.4 249.6v5M68.7 250.4l3.5 3.5M68.7 253.9l3.5 -3.5M70.9 251.1h5M73.4 248.6v5M71.7 249.3l3.5 3.5M71.7 252.8l3.5 -3.5M73.7 251.9h5M76.2 249.4v5M74.4 250.1l3.5 3.5M74.4 253.6l3.5 -3.5M77.3 252.1h5M79.8 249.6v5M78.1 250.4l3.5 3.5M78.1 253.9l3.5 -3.5M93.4 251.4h5M95.9 248.9v5M94.1 249.6l3.5 3.5M94.1 253.1l3.5 -3.5M111.7 251.5h5M114.2 249v5M112.5 249.7l3.5 3.5M112.5 253.2l3.5 -3.5M114.6 250.8h5M117.1 248.3v5M115.4 249.1l3.5 3.5M115.4 252.6l3.5 -3.5M124.1 251.7h5M126.6 249.2v5M124.9 249.9l3.5 3.5M124.9 253.4l3.5 -3.5M124.9 250.8h5M127.4 248.3v5M125.7 249.1l3.5 3.5M125.7 252.6l3.5 -3.5M68 253.4h5M70.5 250.9v5M68.8 251.7l3.5 3.5M68.8 255.2l3.5 -3.5M88.2 252.6h5M90.7 250.1v5M89 250.9l3.5 3.5M89 254.4l3.5 -3.5M96.5 253.9h5M99 251.4v5M97.2 252.1l3.5 3.5M97.2 255.6l3.5 -3.5M99.5 253h5M102 250.5v5M100.2 251.3l3.5 3.5M100.2 254.8l3.5 -3.5M104.2 253.9h5M106.7 251.4v5M105 252.2l3.5 3.5M105 255.7l3.5 -3.5M109.4 253.8h5M111.9 251.3v5M110.2 252.1l3.5 3.5M110.2 255.6l3.5 -3.5M114.6 253.4h5M117.1 250.9v5M115.3 251.7l3.5 3.5M115.3 255.2l3.5 -3.5M120.4 252.5h5M122.9 250v5M121.1 250.7l3.5 3.5M121.1 254.2l3.5 -3.5M122.4 253.3h5M124.9 250.8v5M123.2 251.6l3.5 3.5M123.2 255.1l3.5 -3.5M124.4 253h5M126.9 250.5v5M125.2 251.2l3.5 3.5M125.2 254.7l3.5 -3.5M67.1 255.5h5M69.6 253v5M67.8 253.7l3.5 3.5M67.8 257.2l3.5 -3.5M68.2 254.7h5M70.7 252.2v5M69 252.9l3.5 3.5M69 256.4l3.5 -3.5M74.2 255.6h5M76.7 253.1v5M75 253.9l3.5 3.5M75 257.4l3.5 -3.5M82 254.4h5M84.5 251.9v5M82.7 252.6l3.5 3.5M82.7 256.1l3.5 -3.5M115.9 254.9h5M118.4 252.4v5M116.6 253.2l3.5 3.5M116.6 256.7l3.5 -3.5M119.9 255.3h5M122.4 252.8v5M120.7 253.6l3.5 3.5M120.7 257.1l3.5 -3.5M121.7 254.9h5M124.2 252.4v5M122.4 253.2l3.5 3.5M122.4 256.7l3.5 -3.5M66.6 256.1h5M69.1 253.6v5M67.3 254.3l3.5 3.5M67.3 257.8l3.5 -3.5M67.5 256.1h5M70 253.6v5M68.3 254.4l3.5 3.5M68.3 257.9l3.5 -3.5M74.9 256.4h5M77.4 253.9v5M75.6 254.7l3.5 3.5M75.6 258.2l3.5 -3.5M79 256.6h5M81.5 254.1v5M79.7 254.9l3.5 3.5M79.7 258.4l3.5 -3.5M89.6 256.2h5M92.1 253.7v5M90.3 254.4l3.5 3.5M90.3 257.9l3.5 -3.5M115.8 255.7h5M118.3 253.2v5M116.6 254l3.5 3.5M116.6 257.5l3.5 -3.5M116.7 256.6h5M119.2 254.1v5M117.4 254.9l3.5 3.5M117.4 258.4l3.5 -3.5M120.1 256h5M122.6 253.5v5M120.9 254.2l3.5 3.5M120.9 257.7l3.5 -3.5M67.4 258.8h5M69.9 256.3v5M68.2 257.1l3.5 3.5M68.2 260.6l3.5 -3.5M75.9 258.4h5M78.4 255.9v5M76.6 256.7l3.5 3.5M76.6 260.2l3.5 -3.5M83.6 259h5M86.1 256.5v5M84.3 257.3l3.5 3.5M84.3 260.8l3.5 -3.5M99.4 259.2h5M101.9 256.7v5M100.2 257.4l3.5 3.5M100.2 260.9l3.5 -3.5M101.6 258.7h5M104.1 256.2v5M102.4 257l3.5 3.5M102.4 260.5l3.5 -3.5M103.6 259.1h5M106.1 256.6v5M104.3 257.4l3.5 3.5M104.3 260.9l3.5 -3.5M105.6 259.1h5M108.1 256.6v5M106.3 257.4l3.5 3.5M106.3 260.9l3.5 -3.5M106.1 258.4h5M108.6 255.9v5M106.9 256.6l3.5 3.5M106.9 260.1l3.5 -3.5M118.6 257.3h5M121.1 254.8v5M119.4 255.5l3.5 3.5M119.4 259l3.5 -3.5M66.4 259h5M68.9 256.5v5M67.1 257.2l3.5 3.5M67.1 260.7l3.5 -3.5M67.3 259.4h5M69.8 256.9v5M68 257.7l3.5 3.5M68 261.2l3.5 -3.5M81 259.1h5M83.5 256.6v5M81.8 257.4l3.5 3.5M81.8 260.9l3.5 -3.5M86.9 260h5M89.4 257.5v5M87.6 258.2l3.5 3.5M87.6 261.7l3.5 -3.5M93 260h5M95.5 257.5v5M93.8 258.3l3.5 3.5M93.8 261.8l3.5 -3.5M96.5 260.1h5M99 257.6v5M97.3 258.3l3.5 3.5M97.3 261.8l3.5 -3.5M100.2 259.3h5M102.7 256.8v5M100.9 257.6l3.5 3.5M100.9 261.1l3.5 -3.5M105.9 259.8h5M108.4 257.3v5M106.7 258l3.5 3.5M106.7 261.5l3.5 -3.5M107.8 259.7h5M110.3 257.2v5M108.6 257.9l3.5 3.5M108.6 261.4l3.5 -3.5M67.5 261.1h5M70 258.6v5M68.3 259.3l3.5 3.5M68.3 262.8l3.5 -3.5M68.1 261.5h5M70.6 259v5M68.8 259.8l3.5 3.5M68.8 263.3l3.5 -3.5M77.4 261h5M79.9 258.5v5M78.2 259.2l3.5 3.5M78.2 262.7l3.5 -3.5M91.2 262.5h5M93.7 260v5M91.9 260.7l3.5 3.5M91.9 264.2l3.5 -3.5M92.9 261.1h5M95.4 258.6v5M93.6 259.4l3.5 3.5M93.6 262.9l3.5 -3.5M66.8 263.9h5M69.3 261.4v5M67.6 262.2l3.5 3.5M67.6 265.7l3.5 -3.5M87.6 263.1h5M90.1 260.6v5M88.4 261.3l3.5 3.5M88.4 264.8l3.5 -3.5M88.2 263.8h5M90.7 261.3v5M89 262.1l3.5 3.5M89 265.6l3.5 -3.5M66.5 264.1h5M69 261.6v5M67.2 262.3l3.5 3.5M67.2 265.8l3.5 -3.5M85.8 265.4h5M88.3 262.9v5M86.5 263.6l3.5 3.5M86.5 267.1l3.5 -3.5M66.6 266.9h5M69.1 264.4v5M67.4 265.2l3.5 3.5M67.4 268.7l3.5 -3.5M68.1 267h5M70.6 264.5v5M68.8 265.3l3.5 3.5M68.8 268.8l3.5 -3.5M80.5 266.3h5M83 263.8v5M81.3 264.5l3.5 3.5M81.3 268l3.5 -3.5M84.6 266.4h5M87.1 263.9v5M85.3 264.7l3.5 3.5M85.3 268.2l3.5 -3.5M86.2 265.6h5M88.7 263.1v5M86.9 263.8l3.5 3.5M86.9 267.3l3.5 -3.5M66.2 267.2h5M68.7 264.7v5M66.9 265.5l3.5 3.5M66.9 269l3.5 -3.5M78.2 268h5M80.7 265.5v5M78.9 266.3l3.5 3.5M78.9 269.8l3.5 -3.5M81.2 268.5h5M83.7 266v5M81.9 266.7l3.5 3.5M81.9 270.2l3.5 -3.5M84.8 267.3h5M87.3 264.8v5M85.5 265.6l3.5 3.5M85.5 269.1l3.5 -3.5M67.7 269h5M70.2 266.5v5M68.5 267.3l3.5 3.5M68.5 270.8l3.5 -3.5M75.2 269.1h5M77.7 266.6v5M76 267.4l3.5 3.5M76 270.9l3.5 -3.5M76.8 270h5M79.3 267.5v5M77.6 268.3l3.5 3.5M77.6 271.8l3.5 -3.5M78.9 269.5h5M81.4 267v5M79.7 267.8l3.5 3.5M79.7 271.3l3.5 -3.5M80.4 269.2h5M82.9 266.7v5M81.1 267.5l3.5 3.5M81.1 271l3.5 -3.5M66.5 271.3h5M69 268.8v5M67.2 269.5l3.5 3.5M67.2 273l3.5 -3.5M71.9 271.8h5M74.4 269.3v5M72.6 270.1l3.5 3.5M72.6 273.6l3.5 -3.5M74.4 270.7h5M76.9 268.2v5M75.1 268.9l3.5 3.5M75.1 272.4l3.5 -3.5M66.9 272.9h5M69.4 270.4v5M67.7 271.1l3.5 3.5M67.7 274.6l3.5 -3.5M68 273h5M70.5 270.5v5M68.8 271.2l3.5 3.5M68.8 274.7l3.5 -3.5M74.4 272.7h5M76.9 270.2v5M75.1 271l3.5 3.5M75.1 274.5l3.5 -3.5M66.9 274.9h5M69.4 272.4v5M67.7 273.1l3.5 3.5M67.7 276.6l3.5 -3.5M71.1 275.7h5M73.6 273.2v5M71.8 273.9l3.5 3.5M71.8 277.4l3.5 -3.5M66.7 276.6h5M69.2 274.1v5M67.4 274.9l3.5 3.5M67.4 278.4l3.5 -3.5M68.1 277.1h5M70.6 274.6v5M68.8 275.3l3.5 3.5M68.8 278.8l3.5 -3.5M70.2 275.8h5M72.7 273.3v5M70.9 274.1l3.5 3.5M70.9 277.6l3.5 -3.5M66.3 278.7h5M68.8 276.2v5M67.1 277l3.5 3.5M67.1 280.5l3.5 -3.5M69 277.2h5M71.5 274.7v5M69.8 275.4l3.5 3.5M69.8 278.9l3.5 -3.5M70 277.2h5M72.5 274.7v5M70.8 275.4l3.5 3.5M70.8 278.9l3.5 -3.5M67.6 278.8h5M70.1 276.3v5M68.3 277l3.5 3.5M68.3 280.5l3.5 -3.5M68.9 278.9h5M71.4 276.4v5M69.7 277.1l3.5 3.5M69.7 280.6l3.5 -3.5M67 281.6h5M69.5 279.1v5M67.8 279.8l3.5 3.5M67.8 283.3l3.5 -3.5M111.2 195.2h5M113.7 192.7v5M112 193.4l3.5 3.5M112 196.9l3.5 -3.5M111.2 199.3h5M113.7 196.8v5M112 197.6l3.5 3.5M112 201.1l3.5 -3.5M111.2 202.8h5M113.7 200.3v5M112 201.1l3.5 3.5M112 204.6l3.5 -3.5M107.7 206.9h5M110.2 204.4v5M108.5 205.2l3.5 3.5M108.5 208.7l3.5 -3.5M111.2 210.6h5M113.7 208.1v5M112 208.8l3.5 3.5M112 212.3l3.5 -3.5M121.7 199.3h5M124.2 196.8v5M122.5 197.6l3.5 3.5M122.5 201.1l3.5 -3.5M121.7 203.4h5M124.2 200.9v5M122.5 201.7l3.5 3.5M122.5 205.2l3.5 -3.5M157.5 170.5h5M160 168v5M158.2 168.8l3.5 3.5M158.2 172.2l3.5 -3.5M165.7 165.4h5M168.2 162.9v5M166.4 163.7l3.5 3.5M166.4 167.2l3.5 -3.5M318.5 36h5M321 33.5v5M319.2 34.2l3.5 3.5M319.2 37.8l3.5 -3.5M321.5 33.5h5M324 31v5M322.2 31.8l3.5 3.5M322.2 35.2l3.5 -3.5M320.5 37.5h5M323 35v5M321.2 35.8l3.5 3.5M321.2 39.2l3.5 -3.5M44.7 236.6h5M47.2 234.1v5M45.4 234.9l3.5 3.5M45.4 238.4l3.5 -3.5M44.2 238.7h5M46.7 236.2v5M45 237l3.5 3.5M45 240.5l3.5 -3.5M45.2 240.5h5M47.7 238v5M45.9 238.7l3.5 3.5M45.9 242.2l3.5 -3.5M45.4 245h5M47.9 242.5v5M46.1 243.3l3.5 3.5M46.1 246.8l3.5 -3.5M45.1 248.9h5M47.6 246.4v5M45.8 247.2l3.5 3.5M45.8 250.7l3.5 -3.5M45.1 251.1h5M47.6 248.6v5M45.9 249.4l3.5 3.5M45.9 252.9l3.5 -3.5M44.8 253.9h5M47.3 251.4v5M45.6 252.1l3.5 3.5M45.6 255.6l3.5 -3.5M45.5 256.7h5M48 254.2v5M46.2 255l3.5 3.5M46.2 258.5l3.5 -3.5M44.1 257.5h5M46.6 255v5M44.9 255.8l3.5 3.5M44.9 259.3l3.5 -3.5M44.7 258.9h5M47.2 256.4v5M45.4 257.2l3.5 3.5M45.4 260.7l3.5 -3.5M45.1 262.6h5M47.6 260.1v5M45.9 260.9l3.5 3.5M45.9 264.4l3.5 -3.5M44.3 263.2h5M46.8 260.7v5M45.1 261.4l3.5 3.5M45.1 264.9l3.5 -3.5M45.1 264.6h5M47.6 262.1v5M45.9 262.9l3.5 3.5M45.9 266.4l3.5 -3.5M45.3 267h5M47.8 264.5v5M46 265.3l3.5 3.5M46 268.8l3.5 -3.5M44.5 273h5M47 270.5v5M45.3 271.2l3.5 3.5M45.3 274.7l3.5 -3.5M44.4 274.4h5M46.9 271.9v5M45.1 272.7l3.5 3.5M45.1 276.2l3.5 -3.5M44.2 278.1h5M46.7 275.6v5M44.9 276.3l3.5 3.5M44.9 279.8l3.5 -3.5M44.7 280.5h5M47.2 278v5M45.4 278.7l3.5 3.5M45.4 282.2l3.5 -3.5M44.6 280.9h5M47.1 278.4v5M45.3 279.2l3.5 3.5M45.3 282.7l3.5 -3.5M44.5 283.4h5M47 280.9v5M45.3 281.7l3.5 3.5M45.3 285.2l3.5 -3.5M45.4 283.8h5M47.9 281.3v5M46.2 282.1l3.5 3.5M46.2 285.6l3.5 -3.5M44.8 287.5h5M47.3 285v5M45.6 285.7l3.5 3.5M45.6 289.2l3.5 -3.5M44.5 289.3h5M47 286.8v5M45.2 287.6l3.5 3.5M45.2 291.1l3.5 -3.5M44.4 290.7h5M46.9 288.2v5M45.2 289l3.5 3.5M45.2 292.5l3.5 -3.5M44.2 293.1h5M46.7 290.6v5M44.9 291.4l3.5 3.5M44.9 294.9l3.5 -3.5M44.9 296h5M47.4 293.5v5M45.7 294.3l3.5 3.5M45.7 297.8l3.5 -3.5M44.4 297.6h5M46.9 295.1v5M45.2 295.9l3.5 3.5M45.2 299.4l3.5 -3.5M52.2 280.6h5M54.7 278.1v5M52.9 278.8l3.5 3.5M52.9 282.3l3.5 -3.5M53.6 281.1h5M56.1 278.6v5M54.3 279.3l3.5 3.5M54.3 282.8l3.5 -3.5M53 281.8h5M55.5 279.3v5M53.8 280.1l3.5 3.5M53.8 283.6l3.5 -3.5M51.6 283.4h5M54.1 280.9v5M52.3 281.7l3.5 3.5M52.3 285.2l3.5 -3.5M53.4 283.7h5M55.9 281.2v5M54.1 282l3.5 3.5M54.1 285.5l3.5 -3.5M50.7 285.2h5M53.2 282.7v5M51.5 283.5l3.5 3.5M51.5 287l3.5 -3.5M52.6 285.1h5M55.1 282.6v5M53.4 283.4l3.5 3.5M53.4 286.9l3.5 -3.5M49.1 286.5h5M51.6 284v5M49.9 284.7l3.5 3.5M49.9 288.2l3.5 -3.5M52 287.1h5M54.5 284.6v5M52.8 285.4l3.5 3.5M52.8 288.9l3.5 -3.5M52.8 286.6h5M55.3 284.1v5M53.5 284.9l3.5 3.5M53.5 288.4l3.5 -3.5M50.5 288.9h5M53 286.4v5M51.2 287.1l3.5 3.5M51.2 290.6l3.5 -3.5M52.9 288h5M55.4 285.5v5M53.6 286.3l3.5 3.5M53.6 289.8l3.5 -3.5M50.5 289h5M53 286.5v5M51.2 287.2l3.5 3.5M51.2 290.7l3.5 -3.5M51.1 289.4h5M53.6 286.9v5M51.9 287.7l3.5 3.5M51.9 291.2l3.5 -3.5M52.4 289.2h5M54.9 286.7v5M53.1 287.5l3.5 3.5M53.1 291l3.5 -3.5M250.2 81h5M252.7 78.5v5M250.9 79.2l3.5 3.5M250.9 82.7l3.5 -3.5M251.6 82.2h5M254.1 79.7v5M252.3 80.5l3.5 3.5M252.3 84l3.5 -3.5M244.5 83.8h5M247 81.3v5M245.2 82.1l3.5 3.5M245.2 85.6l3.5 -3.5M246 83.3h5M248.5 80.8v5M246.8 81.5l3.5 3.5M246.8 85l3.5 -3.5M247.2 82.4h5M249.7 79.9v5M247.9 80.6l3.5 3.5M247.9 84.1l3.5 -3.5M249.9 82.7h5M252.4 80.2v5M250.6 81l3.5 3.5M250.6 84.5l3.5 -3.5M250.5 82.9h5M253 80.4v5M251.3 81.2l3.5 3.5M251.3 84.7l3.5 -3.5M242.6 84.7h5M245.1 82.2v5M243.4 83l3.5 3.5M243.4 86.5l3.5 -3.5M243.7 84.6h5M246.2 82.1v5M244.5 82.9l3.5 3.5M244.5 86.4l3.5 -3.5M245.6 84h5M248.1 81.5v5M246.4 82.3l3.5 3.5M246.4 85.8l3.5 -3.5M246.4 84.4h5M248.9 81.9v5M247.1 82.6l3.5 3.5M247.1 86.1l3.5 -3.5M249.4 83.9h5M251.9 81.4v5M250.2 82.1l3.5 3.5M250.2 85.6l3.5 -3.5M250.8 83.9h5M253.3 81.4v5M251.5 82.2l3.5 3.5M251.5 85.7l3.5 -3.5M242 85.5h5M244.5 83v5M242.8 83.7l3.5 3.5M242.8 87.2l3.5 -3.5M242.4 86.4h5M244.9 83.9v5M243.1 84.6l3.5 3.5M243.1 88.1l3.5 -3.5M244 85.5h5M246.5 83v5M244.7 83.8l3.5 3.5M244.7 87.3l3.5 -3.5M246.4 85.9h5M248.9 83.4v5M247.2 84.1l3.5 3.5M247.2 87.6l3.5 -3.5M247.2 85.5h5M249.7 83v5M247.9 83.7l3.5 3.5M247.9 87.2l3.5 -3.5M240.8 88.1h5M243.3 85.6v5M241.5 86.4l3.5 3.5M241.5 89.9l3.5 -3.5M243.1 87.6h5M245.6 85.1v5M243.8 85.9l3.5 3.5M243.8 89.4l3.5 -3.5M245.3 86.8h5M247.8 84.3v5M246.1 85l3.5 3.5M246.1 88.5l3.5 -3.5M255.4 75.9h5M257.9 73.4v5M256.2 74.2l3.5 3.5M256.2 77.7l3.5 -3.5M256 76.1h5M258.5 73.6v5M256.7 74.3l3.5 3.5M256.7 77.8l3.5 -3.5M254.4 76.2h5M256.9 73.7v5M255.2 74.4l3.5 3.5M255.2 77.9l3.5 -3.5M255.4 76.4h5M257.9 73.9v5M256.2 74.7l3.5 3.5M256.2 78.2l3.5 -3.5M250.8 77.9h5M253.3 75.4v5M251.6 76.1l3.5 3.5M251.6 79.6l3.5 -3.5M251 78.4h5M253.5 75.9v5M251.8 76.7l3.5 3.5M251.8 80.2l3.5 -3.5M253.1 77.5h5M255.6 75v5M253.8 75.7l3.5 3.5M253.8 79.2l3.5 -3.5M255.2 78h5M257.7 75.5v5M256 76.2l3.5 3.5M256 79.7l3.5 -3.5M249.3 79.7h5M251.8 77.2v5M250.1 78l3.5 3.5M250.1 81.5l3.5 -3.5M251.4 79.4h5M253.9 76.9v5M252.1 77.7l3.5 3.5M252.1 81.2l3.5 -3.5M253.1 79.3h5M255.6 76.8v5M253.9 77.6l3.5 3.5M253.9 81.1l3.5 -3.5M247.4 80.8h5M249.9 78.3v5M248.1 79l3.5 3.5M248.1 82.5l3.5 -3.5M248.1 81.5h5M250.6 79v5M248.9 79.8l3.5 3.5M248.9 83.3l3.5 -3.5M249.8 80.4h5M252.3 77.9v5M250.5 78.6l3.5 3.5M250.5 82.1l3.5 -3.5M252.2 80.3h5M254.7 77.8v5M252.9 78.5l3.5 3.5M252.9 82l3.5 -3.5M248.4 82.4h5M250.9 79.9v5M249.1 80.7l3.5 3.5M249.1 84.2l3.5 -3.5M249.5 82h5M252 79.5v5M250.2 80.3l3.5 3.5M250.2 83.8l3.5 -3.5M266.4 67.9h5M268.9 65.4v5M267.1 66.1l3.5 3.5M267.1 69.6l3.5 -3.5M264.6 68.8h5M267.1 66.3v5M265.4 67l3.5 3.5M265.4 70.5l3.5 -3.5M266.5 68.8h5M269 66.3v5M267.3 67.1l3.5 3.5M267.3 70.6l3.5 -3.5M262.1 70.3h5M264.6 67.8v5M262.9 68.5l3.5 3.5M262.9 72l3.5 -3.5M263.9 70.3h5M266.4 67.8v5M264.7 68.6l3.5 3.5M264.7 72.1l3.5 -3.5M265.4 69.2h5M267.9 66.7v5M266.1 67.5l3.5 3.5M266.1 71l3.5 -3.5M258.7 71.2h5M261.2 68.7v5M259.4 69.4l3.5 3.5M259.4 72.9l3.5 -3.5M259.7 71h5M262.2 68.5v5M260.5 69.3l3.5 3.5M260.5 72.8l3.5 -3.5M260.9 70.8h5M263.4 68.3v5M261.7 69l3.5 3.5M261.7 72.5l3.5 -3.5M263 71.9h5M265.5 69.4v5M263.7 70.1l3.5 3.5M263.7 73.6l3.5 -3.5M264.1 70.6h5M266.6 68.1v5M264.9 68.9l3.5 3.5M264.9 72.4l3.5 -3.5M257.6 72.6h5M260.1 70.1v5M258.3 70.9l3.5 3.5M258.3 74.4l3.5 -3.5M258.6 72.3h5M261.1 69.8v5M259.3 70.5l3.5 3.5M259.3 74l3.5 -3.5M259.9 72h5M262.4 69.5v5M260.6 70.3l3.5 3.5M260.6 73.8l3.5 -3.5M261.8 73.4h5M264.3 70.9v5M262.5 71.6l3.5 3.5M262.5 75.1l3.5 -3.5M256.6 74h5M259.1 71.5v5M257.3 72.2l3.5 3.5M257.3 75.7l3.5 -3.5M258.9 74.2h5M261.4 71.7v5M259.7 72.4l3.5 3.5M259.7 75.9l3.5 -3.5M259 74.6h5M261.5 72.1v5M259.8 72.8l3.5 3.5M259.8 76.3l3.5 -3.5M277.2 58.8h5M279.7 56.3v5M277.9 57.1l3.5 3.5M277.9 60.6l3.5 -3.5M279.7 57.4h5M282.2 54.9v5M280.4 55.7l3.5 3.5M280.4 59.2l3.5 -3.5M281.3 58.2h5M283.8 55.7v5M282.1 56.5l3.5 3.5M282.1 60l3.5 -3.5M275.9 59.3h5M278.4 56.8v5M276.6 57.5l3.5 3.5M276.6 61l3.5 -3.5M276.3 59.6h5M278.8 57.1v5M277 57.8l3.5 3.5M277 61.3l3.5 -3.5M278.1 59.8h5M280.6 57.3v5M278.9 58l3.5 3.5M278.9 61.5l3.5 -3.5M279.7 58.7h5M282.2 56.2v5M280.4 57l3.5 3.5M280.4 60.5l3.5 -3.5M282.4 58.8h5M284.9 56.3v5M283.1 57l3.5 3.5M283.1 60.5l3.5 -3.5M270.5 61.7h5M273 59.2v5M271.2 59.9l3.5 3.5M271.2 63.4l3.5 -3.5M273.7 61.5h5M276.2 59v5M274.5 59.7l3.5 3.5M274.5 63.2l3.5 -3.5M273.8 60.3h5M276.3 57.8v5M274.6 58.6l3.5 3.5M274.6 62.1l3.5 -3.5M276 60.5h5M278.5 58v5M276.8 58.8l3.5 3.5M276.8 62.3l3.5 -3.5M277.5 61.1h5M280 58.6v5M278.2 59.3l3.5 3.5M278.2 62.8l3.5 -3.5M281.4 60.4h5M283.9 57.9v5M282.2 58.7l3.5 3.5M282.2 62.2l3.5 -3.5M269.3 62.3h5M271.8 59.8v5M270 60.6l3.5 3.5M270 64.1l3.5 -3.5M270.1 62.8h5M272.6 60.3v5M270.9 61.1l3.5 3.5M270.9 64.6l3.5 -3.5M272.7 62.7h5M275.2 60.2v5M273.4 60.9l3.5 3.5M273.4 64.4l3.5 -3.5M274.2 62.5h5M276.7 60v5M275 60.8l3.5 3.5M275 64.3l3.5 -3.5M276.1 62.8h5M278.6 60.3v5M276.9 61.1l3.5 3.5M276.9 64.6l3.5 -3.5M276.6 62.3h5M279.1 59.8v5M277.3 60.5l3.5 3.5M277.3 64l3.5 -3.5M278.6 61.6h5M281.1 59.1v5M279.4 59.8l3.5 3.5M279.4 63.3l3.5 -3.5M266.7 64.4h5M269.2 61.9v5M267.4 62.6l3.5 3.5M267.4 66.1l3.5 -3.5M268.2 63.9h5M270.7 61.4v5M268.9 62.2l3.5 3.5M268.9 65.7l3.5 -3.5M270.1 63.6h5M272.6 61.1v5M270.9 61.9l3.5 3.5M270.9 65.4l3.5 -3.5M271.8 64.3h5M274.3 61.8v5M272.5 62.5l3.5 3.5M272.5 66l3.5 -3.5M273.2 63.3h5M275.7 60.8v5M274 61.5l3.5 3.5M274 65l3.5 -3.5M274.3 63.1h5M276.8 60.6v5M275.1 61.4l3.5 3.5M275.1 64.9l3.5 -3.5M265.9 65.4h5M268.4 62.9v5M266.6 63.7l3.5 3.5M266.6 67.2l3.5 -3.5M268 65.2h5M270.5 62.7v5M268.8 63.4l3.5 3.5M268.8 66.9l3.5 -3.5M268.8 65.2h5M271.3 62.7v5M269.5 63.5l3.5 3.5M269.5 67l3.5 -3.5M267.3 66.5h5M269.8 64v5M268.1 64.8l3.5 3.5M268.1 68.3l3.5 -3.5M295.5 46.5h5M298 44v5M296.3 44.8l3.5 3.5M296.3 48.3l3.5 -3.5M293.2 48h5M295.7 45.5v5M293.9 46.2l3.5 3.5M293.9 49.7l3.5 -3.5M294.6 47.9h5M297.1 45.4v5M295.3 46.1l3.5 3.5M295.3 49.6l3.5 -3.5M296.1 48.5h5M298.6 46v5M296.9 46.8l3.5 3.5M296.9 50.3l3.5 -3.5M290.3 48.8h5M292.8 46.3v5M291.1 47.1l3.5 3.5M291.1 50.6l3.5 -3.5M291.1 49h5M293.6 46.5v5M291.9 47.2l3.5 3.5M291.9 50.7l3.5 -3.5M293.3 49.2h5M295.8 46.7v5M294 47.4l3.5 3.5M294 50.9l3.5 -3.5M293.8 49.5h5M296.3 47v5M294.5 47.7l3.5 3.5M294.5 51.2l3.5 -3.5M296 48.7h5M298.5 46.2v5M296.7 47l3.5 3.5M296.7 50.5l3.5 -3.5M287.6 51.4h5M290.1 48.9v5M288.4 49.6l3.5 3.5M288.4 53.1l3.5 -3.5M289.6 49.8h5M292.1 47.3v5M290.4 48.1l3.5 3.5M290.4 51.6l3.5 -3.5M289.8 49.8h5M292.3 47.3v5M290.6 48.1l3.5 3.5M290.6 51.6l3.5 -3.5M292.3 50.2h5M294.8 47.7v5M293 48.4l3.5 3.5M293 51.9l3.5 -3.5M286.7 52.4h5M289.2 49.9v5M287.5 50.7l3.5 3.5M287.5 54.2l3.5 -3.5M288.8 52.5h5M291.3 50v5M289.5 50.7l3.5 3.5M289.5 54.2l3.5 -3.5M291.6 51.2h5M294.1 48.7v5M292.3 49.5l3.5 3.5M292.3 53l3.5 -3.5M285.8 53.5h5M288.3 51v5M286.5 51.8l3.5 3.5M286.5 55.3l3.5 -3.5M287.3 53.3h5M289.8 50.8v5M288.1 51.6l3.5 3.5M288.1 55.1l3.5 -3.5M288.2 52.6h5M290.7 50.1v5M288.9 50.9l3.5 3.5M288.9 54.4l3.5 -3.5M319.9 31.1h5M322.4 28.6v5M320.7 29.3l3.5 3.5M320.7 32.8l3.5 -3.5M319 33h5M321.5 30.5v5M319.8 31.2l3.5 3.5M319.8 34.7l3.5 -3.5M321.1 31.5h5M323.6 29v5M321.9 29.7l3.5 3.5M321.9 33.2l3.5 -3.5M314.8 33.8h5M317.3 31.3v5M315.5 32.1l3.5 3.5M315.5 35.6l3.5 -3.5M317.3 33.5h5M319.8 31v5M318.1 31.8l3.5 3.5M318.1 35.3l3.5 -3.5M318.4 33.2h5M320.9 30.7v5M319.2 31.5l3.5 3.5M319.2 35l3.5 -3.5M312.7 35.6h5M315.2 33.1v5M313.5 33.9l3.5 3.5M313.5 37.4l3.5 -3.5M313.8 35h5M316.3 32.5v5M314.6 33.2l3.5 3.5M314.6 36.7l3.5 -3.5M316.8 35.1h5M319.3 32.6v5M317.5 33.3l3.5 3.5M317.5 36.8l3.5 -3.5M312 36.7h5M314.5 34.2v5M312.7 35l3.5 3.5M312.7 38.5l3.5 -3.5M313.1 37h5M315.6 34.5v5M313.9 35.2l3.5 3.5M313.9 38.7l3.5 -3.5M307.1 37.7h5M309.6 35.2v5M307.9 36l3.5 3.5M307.9 39.5l3.5 -3.5M308.4 37.2h5M310.9 34.7v5M309.1 35.4l3.5 3.5M309.1 38.9l3.5 -3.5M309.8 38.3h5M312.3 35.8v5M310.5 36.6l3.5 3.5M310.5 40.1l3.5 -3.5M310.9 38.2h5M313.4 35.7v5M311.7 36.5l3.5 3.5M311.7 40l3.5 -3.5M313.2 37.1h5M315.7 34.6v5M314 35.4l3.5 3.5M314 38.9l3.5 -3.5M304.6 39.8h5M307.1 37.3v5M305.4 38l3.5 3.5M305.4 41.5l3.5 -3.5M306.4 39.4h5M308.9 36.9v5M307.2 37.7l3.5 3.5M307.2 41.2l3.5 -3.5M307.8 39.2h5M310.3 36.7v5M308.5 37.5l3.5 3.5M308.5 41l3.5 -3.5M300.5 41.2h5M303 38.7v5M301.3 39.5l3.5 3.5M301.3 43l3.5 -3.5M301.6 40.8h5M304.1 38.3v5M302.4 39.1l3.5 3.5M302.4 42.6l3.5 -3.5M302.7 40.3h5M305.2 37.8v5M303.5 38.5l3.5 3.5M303.5 42l3.5 -3.5M305.3 40.7h5M307.8 38.2v5M306 38.9l3.5 3.5M306 42.4l3.5 -3.5M301.3 42.3h5M303.8 39.8v5M302 40.6l3.5 3.5M302 44.1l3.5 -3.5M302.4 42.3h5M304.9 39.8v5M303.1 40.5l3.5 3.5M303.1 44l3.5 -3.5M299.6 43.3h5M302.1 40.8v5M300.4 41.5l3.5 3.5M300.4 45l3.5 -3.5M287.6 66.7h5M290.1 64.2v5M288.3 64.9l3.5 3.5M288.3 68.4l3.5 -3.5M283.8 68h5M286.3 65.5v5M284.6 66.3l3.5 3.5M284.6 69.8l3.5 -3.5M286.6 67.3h5M289.1 64.8v5M287.3 65.6l3.5 3.5M287.3 69.1l3.5 -3.5M288.4 67.3h5M290.9 64.8v5M289.2 65.6l3.5 3.5M289.2 69.1l3.5 -3.5M288.8 67.1h5M291.3 64.6v5M289.6 65.4l3.5 3.5M289.6 68.9l3.5 -3.5M279.3 69.5h5M281.8 67v5M280.1 67.8l3.5 3.5M280.1 71.3l3.5 -3.5M280.4 68.6h5M282.9 66.1v5M281.2 66.8l3.5 3.5M281.2 70.3l3.5 -3.5M282.8 69.3h5M285.3 66.8v5M283.6 67.6l3.5 3.5M283.6 71.1l3.5 -3.5M284.5 68.2h5M287 65.7v5M285.2 66.4l3.5 3.5M285.2 69.9l3.5 -3.5M286 68.3h5M288.5 65.8v5M286.8 66.6l3.5 3.5M286.8 70.1l3.5 -3.5M276 70.3h5M278.5 67.8v5M276.8 68.6l3.5 3.5M276.8 72.1l3.5 -3.5M277.9 70.8h5M280.4 68.3v5M278.6 69.1l3.5 3.5M278.6 72.6l3.5 -3.5M280.6 69.9h5M283.1 67.4v5M281.3 68.1l3.5 3.5M281.3 71.6l3.5 -3.5M282.2 70h5M284.7 67.5v5M283 68.2l3.5 3.5M283 71.7l3.5 -3.5M276.1 70.8h5M278.6 68.3v5M276.9 69.1l3.5 3.5M276.9 72.6l3.5 -3.5M270.4 73.4h5M272.9 70.9v5M271.1 71.7l3.5 3.5M271.1 75.2l3.5 -3.5M268.7 74.7h5M271.2 72.2v5M269.5 73l3.5 3.5M269.5 76.5l3.5 -3.5M270.3 74.7h5M272.8 72.2v5M271 73l3.5 3.5M271 76.5l3.5 -3.5M268.4 76.1h5M270.9 73.6v5M269.2 74.4l3.5 3.5M269.2 77.9l3.5 -3.5M263.6 78.5h5M266.1 76v5M264.3 76.7l3.5 3.5M264.3 80.2l3.5 -3.5M265 77.9h5M267.5 75.4v5M265.8 76.2l3.5 3.5M265.8 79.7l3.5 -3.5M266.3 78h5M268.8 75.5v5M267 76.2l3.5 3.5M267 79.7l3.5 -3.5M262.5 79.7h5M265 77.2v5M263.3 78l3.5 3.5M263.3 81.5l3.5 -3.5M260.1 82.1h5M262.6 79.6v5M260.8 80.4l3.5 3.5M260.8 83.9l3.5 -3.5M257.4 82.2h5M259.9 79.7v5M258.2 80.4l3.5 3.5M258.2 83.9l3.5 -3.5M258.4 82.3h5M260.9 79.8v5M259.2 80.5l3.5 3.5M259.2 84l3.5 -3.5M255.4 83.7h5M257.9 81.2v5M256.1 82l3.5 3.5M256.1 85.5l3.5 -3.5M257.2 83.5h5M259.7 81v5M258 81.7l3.5 3.5M258 85.2l3.5 -3.5M258.3 83.5h5M260.8 81v5M259 81.7l3.5 3.5M259 85.2l3.5 -3.5M256.2 85.3h5M258.7 82.8v5M257 83.6l3.5 3.5M257 87.1l3.5 -3.5M256.5 84.3h5M259 81.8v5M257.3 82.6l3.5 3.5M257.3 86.1l3.5 -3.5M253.8 87h5M256.3 84.5v5M254.5 85.2l3.5 3.5M254.5 88.7l3.5 -3.5M254.6 86.5h5M257.1 84v5M255.4 84.7l3.5 3.5M255.4 88.2l3.5 -3.5M252 87.3h5M254.5 84.8v5M252.8 85.6l3.5 3.5M252.8 89.1l3.5 -3.5M249.4 89.6h5M251.9 87.1v5M250.1 87.8l3.5 3.5M250.1 91.3l3.5 -3.5M251.1 89.7h5M253.6 87.2v5M251.9 88l3.5 3.5M251.9 91.5l3.5 -3.5M247.4 90.8h5M249.9 88.3v5M248.1 89.1l3.5 3.5M248.1 92.6l3.5 -3.5M248.6 90.5h5M251.1 88v5M249.3 88.7l3.5 3.5M249.3 92.2l3.5 -3.5M247.1 92.7h5M249.6 90.2v5M247.9 91l3.5 3.5M247.9 94.5l3.5 -3.5M248 92.7h5M250.5 90.2v5M248.7 90.9l3.5 3.5M248.7 94.4l3.5 -3.5M245.9 92.8h5M248.4 90.3v5M246.7 91l3.5 3.5M246.7 94.5l3.5 -3.5M304.1 61.1h5M306.6 58.6v5M304.9 59.4l3.5 3.5M304.9 62.9l3.5 -3.5M301.4 61.8h5M303.9 59.3v5M302.2 60l3.5 3.5M302.2 63.5l3.5 -3.5M188.4 149.2h5M190.9 146.7v5M189.1 147.5l3.5 3.5M189.1 151l3.5 -3.5M180.3 166.9h5M182.8 164.4v5M181 165.2l3.5 3.5M181 168.7l3.5 -3.5M192.1 149.9h5M194.6 147.4v5M192.8 148.2l3.5 3.5M192.8 151.7l3.5 -3.5M186 159.3h5M188.5 156.8v5M186.8 157.6l3.5 3.5M186.8 161.1l3.5 -3.5M155.2 194.3h5M157.7 191.8v5M155.9 192.5l3.5 3.5M155.9 196l3.5 -3.5M183.3 163.6h5M185.8 161.1v5M184 161.9l3.5 3.5M184 165.4l3.5 -3.5M175.8 157.1h5M178.3 154.6v5M176.5 155.4l3.5 3.5M176.5 158.9l3.5 -3.5M184.5 150.7h5M187 148.2v5M185.2 149l3.5 3.5M185.2 152.5l3.5 -3.5M149.8 201.5h5M152.3 199v5M150.6 199.8l3.5 3.5M150.6 203.3l3.5 -3.5M170 174.1h5M172.5 171.6v5M170.8 172.4l3.5 3.5M170.8 175.9l3.5 -3.5M167 168.7h5M169.5 166.2v5M167.7 167l3.5 3.5M167.7 170.5l3.5 -3.5M182.6 161.2h5M185.1 158.7v5M183.3 159.4l3.5 3.5M183.3 162.9l3.5 -3.5M140.3 205h5M142.8 202.5v5M141 203.3l3.5 3.5M141 206.8l3.5 -3.5M190.9 143.3h5M193.4 140.8v5M191.7 141.6l3.5 3.5M191.7 145.1l3.5 -3.5M181.4 159.5h5M183.9 157v5M182.2 157.8l3.5 3.5M182.2 161.3l3.5 -3.5M160.7 179.6h5M163.2 177.1v5M161.4 177.8l3.5 3.5M161.4 181.3l3.5 -3.5M187.3 150.5h5M189.8 148v5M188 148.8l3.5 3.5M188 152.3l3.5 -3.5M187.6 152.5h5M190.1 150v5M188.4 150.7l3.5 3.5M188.4 154.2l3.5 -3.5M191 153.2h5M193.5 150.7v5M191.8 151.5l3.5 3.5M191.8 155l3.5 -3.5M184.4 160.5h5M186.9 158v5M185.2 158.7l3.5 3.5M185.2 162.2l3.5 -3.5M155.5 196.3h5M158 193.8v5M156.2 194.5l3.5 3.5M156.2 198l3.5 -3.5M155.3 188.8h5M157.8 186.3v5M156 187.1l3.5 3.5M156 190.6l3.5 -3.5M179.3 157.1h5M181.8 154.6v5M180 155.3l3.5 3.5M180 158.8l3.5 -3.5M178.8 157h5M181.3 154.5v5M179.6 155.2l3.5 3.5M179.6 158.7l3.5 -3.5M173.1 174.2h5M175.6 171.7v5M173.8 172.5l3.5 3.5M173.8 176l3.5 -3.5M147.3 185.1h5M149.8 182.6v5M148.1 183.4l3.5 3.5M148.1 186.9l3.5 -3.5M170 169.7h5M172.5 167.2v5M170.7 168l3.5 3.5M170.7 171.5l3.5 -3.5M140.4 188.7h5M142.9 186.2v5M141.2 186.9l3.5 3.5M141.2 190.4l3.5 -3.5M185.9 152.9h5M188.4 150.4v5M186.6 151.1l3.5 3.5M186.6 154.6l3.5 -3.5M161.3 178.8h5M163.8 176.3v5M162.1 177.1l3.5 3.5M162.1 180.6l3.5 -3.5M150.7 188.4h5M153.2 185.9v5M151.5 186.7l3.5 3.5M151.5 190.2l3.5 -3.5M187.4 145.8h5M189.9 143.3v5M188.2 144l3.5 3.5M188.2 147.5l3.5 -3.5M149.7 202.3h5M152.2 199.8v5M150.5 200.6l3.5 3.5M150.5 204.1l3.5 -3.5M152.9 187.3h5M155.4 184.8v5M153.7 185.5l3.5 3.5M153.7 189l3.5 -3.5M144.4 207.3h5M146.9 204.8v5M145.1 205.5l3.5 3.5M145.1 209l3.5 -3.5M179.5 156.2h5M182 153.7v5M180.3 154.5l3.5 3.5M180.3 158l3.5 -3.5M147.2 204.2h5M149.7 201.7v5M147.9 202.4l3.5 3.5M147.9 205.9l3.5 -3.5M191.6 147.8h5M194.1 145.3v5M192.4 146l3.5 3.5M192.4 149.5l3.5 -3.5M166.1 168.7h5M168.6 166.2v5M166.9 166.9l3.5 3.5M166.9 170.4l3.5 -3.5M166.4 179.5h5M168.9 177v5M167.1 177.7l3.5 3.5M167.1 181.2l3.5 -3.5M192.6 141.6h5M195.1 139.1v5M193.4 139.9l3.5 3.5M193.4 143.4l3.5 -3.5M141.6 208.5h5M144.1 206v5M142.3 206.8l3.5 3.5M142.3 210.3l3.5 -3.5M180 165.2h5M182.5 162.7v5M180.7 163.5l3.5 3.5M180.7 167l3.5 -3.5M184 155.5h5M186.5 153v5M184.7 153.7l3.5 3.5M184.7 157.2l3.5 -3.5M161.2 171.8h5M163.7 169.3v5M162 170l3.5 3.5M162 173.5l3.5 -3.5M186.7 147.3h5M189.2 144.8v5M187.5 145.6l3.5 3.5M187.5 149.1l3.5 -3.5M173.9 174.3h5M176.4 171.8v5M174.7 172.6l3.5 3.5M174.7 176.1l3.5 -3.5M150.8 201.4h5M153.3 198.9v5M151.6 199.6l3.5 3.5M151.6 203.1l3.5 -3.5M152.3 189.6h5M154.8 187.1v5M153 187.9l3.5 3.5M153 191.4l3.5 -3.5M190.5 147.9h5M193 145.4v5M191.2 146.2l3.5 3.5M191.2 149.7l3.5 -3.5M155.7 195.9h5M158.2 193.4v5M156.5 194.2l3.5 3.5M156.5 197.7l3.5 -3.5M191.6 141.1h5M194.1 138.6v5M192.4 139.3l3.5 3.5M192.4 142.8l3.5 -3.5M164.4 172.2h5M166.9 169.7v5M165.2 170.5l3.5 3.5M165.2 174l3.5 -3.5M172.2 176.2h5M174.7 173.7v5M173 174.5l3.5 3.5M173 178l3.5 -3.5M172.6 165.3h5M175.1 162.8v5M173.3 163.6l3.5 3.5M173.3 167.1l3.5 -3.5M164.5 183.8h5M167 181.3v5M165.3 182l3.5 3.5M165.3 185.5l3.5 -3.5M164.1 170.6h5M166.6 168.1v5M164.9 168.9l3.5 3.5M164.9 172.4l3.5 -3.5M183.5 152.4h5M186 149.9v5M184.2 150.6l3.5 3.5M184.2 154.1l3.5 -3.5M144.9 185.1h5M147.4 182.6v5M145.6 183.3l3.5 3.5M145.6 186.8l3.5 -3.5M144.8 184.8h5M147.3 182.3v5M145.6 183.1l3.5 3.5M145.6 186.6l3.5 -3.5M137.8 204.5h5M140.3 202v5M138.5 202.8l3.5 3.5M138.5 206.3l3.5 -3.5M164.2 177h5M166.7 174.5v5M165 175.3l3.5 3.5M165 178.8l3.5 -3.5M182.9 162.5h5M185.4 160v5M183.6 160.8l3.5 3.5M183.6 164.3l3.5 -3.5M164.5 179.9h5M167 177.4v5M165.3 178.2l3.5 3.5M165.3 181.7l3.5 -3.5M167.8 175.2h5M170.3 172.7v5M168.5 173.4l3.5 3.5M168.5 176.9l3.5 -3.5M160.7 174.1h5M163.2 171.6v5M161.4 172.3l3.5 3.5M161.4 175.8l3.5 -3.5M174.6 171.1h5M177.1 168.6v5M175.3 169.4l3.5 3.5M175.3 172.9l3.5 -3.5M160.7 175.7h5M163.2 173.2v5M161.4 174l3.5 3.5M161.4 177.5l3.5 -3.5M151.6 187.5h5M154.1 185v5M152.4 185.8l3.5 3.5M152.4 189.3l3.5 -3.5M172.7 176.4h5M175.2 173.9v5M173.4 174.7l3.5 3.5M173.4 178.2l3.5 -3.5M190.6 147.1h5M193.1 144.6v5M191.3 145.4l3.5 3.5M191.3 148.9l3.5 -3.5M166.6 175.1h5M169.1 172.6v5M167.4 173.3l3.5 3.5M167.4 176.8l3.5 -3.5M161.8 186.1h5M164.3 183.6v5M162.6 184.4l3.5 3.5M162.6 187.9l3.5 -3.5M142.9 202h5M145.4 199.5v5M143.6 200.3l3.5 3.5M143.6 203.8l3.5 -3.5M144.9 202h5M147.4 199.5v5M145.6 200.2l3.5 3.5M145.6 203.7l3.5 -3.5M166.2 170.3h5M168.7 167.8v5M166.9 168.5l3.5 3.5M166.9 172l3.5 -3.5M180.9 157.1h5M183.4 154.6v5M181.7 155.3l3.5 3.5M181.7 158.8l3.5 -3.5M164.7 180.9h5M167.2 178.4v5M165.5 179.2l3.5 3.5M165.5 182.7l3.5 -3.5M191.5 144.3h5M194 141.8v5M192.3 142.6l3.5 3.5M192.3 146.1l3.5 -3.5M140.4 207.3h5M142.9 204.8v5M141.2 205.6l3.5 3.5M141.2 209.1l3.5 -3.5M152.2 193h5M154.7 190.5v5M152.9 191.2l3.5 3.5M152.9 194.7l3.5 -3.5M171.4 167.5h5M173.9 165v5M172.1 165.7l3.5 3.5M172.1 169.2l3.5 -3.5M192.7 143.7h5M195.2 141.2v5M193.4 142l3.5 3.5M193.4 145.5l3.5 -3.5M186.5 162.2h5M189 159.7v5M187.2 160.4l3.5 3.5M187.2 163.9l3.5 -3.5M176.1 162.3h5M178.6 159.8v5M176.9 160.5l3.5 3.5M176.9 164l3.5 -3.5M177.1 171.3h5M179.6 168.8v5M177.8 169.5l3.5 3.5M177.8 173l3.5 -3.5M147.2 204.5h5M149.7 202v5M147.9 202.8l3.5 3.5M147.9 206.3l3.5 -3.5M140.9 206.4h5M143.4 203.9v5M141.6 204.6l3.5 3.5M141.6 208.1l3.5 -3.5M189.4 155.3h5M191.9 152.8v5M190.2 153.5l3.5 3.5M190.2 157l3.5 -3.5M168.8 178.4h5M171.3 175.9v5M169.5 176.7l3.5 3.5M169.5 180.2l3.5 -3.5M191.1 150.8h5M193.6 148.3v5M191.8 149l3.5 3.5M191.8 152.5l3.5 -3.5M152.2 191.2h5M154.7 188.7v5M153 189.4l3.5 3.5M153 192.9l3.5 -3.5M164.2 173.1h5M166.7 170.6v5M164.9 171.3l3.5 3.5M164.9 174.8l3.5 -3.5M183.2 151.2h5M185.7 148.7v5M184 149.4l3.5 3.5M184 152.9l3.5 -3.5M152.1 187.9h5M154.6 185.4v5M152.9 186.1l3.5 3.5M152.9 189.6l3.5 -3.5M148.1 185.3h5M150.6 182.8v5M148.8 183.5l3.5 3.5M148.8 187l3.5 -3.5M152.9 188.4h5M155.4 185.9v5M153.7 186.7l3.5 3.5M153.7 190.2l3.5 -3.5M143.9 201.4h5M146.4 198.9v5M144.7 199.6l3.5 3.5M144.7 203.1l3.5 -3.5M175.5 168.8h5M178 166.3v5M176.2 167.1l3.5 3.5M176.2 170.6l3.5 -3.5M178.3 164.8h5M180.8 162.3v5M179 163l3.5 3.5M179 166.5l3.5 -3.5M159.8 187.1h5M162.3 184.6v5M160.6 185.3l3.5 3.5M160.6 188.8l3.5 -3.5M156.7 178.5h5M159.2 176v5M157.5 176.7l3.5 3.5M157.5 180.2l3.5 -3.5M142.1 206.5h5M144.6 204v5M142.8 204.8l3.5 3.5M142.8 208.3l3.5 -3.5M183.7 150.2h5M186.2 147.7v5M184.4 148.4l3.5 3.5M184.4 151.9l3.5 -3.5M177.9 165.8h5M180.4 163.3v5M178.7 164.1l3.5 3.5M178.7 167.6l3.5 -3.5M180 161.9h5M182.5 159.4v5M180.7 160.1l3.5 3.5M180.7 163.6l3.5 -3.5M190.8 153.9h5M193.3 151.4v5M191.6 152.2l3.5 3.5M191.6 155.7l3.5 -3.5M190.3 147.4h5M192.8 144.9v5M191.1 145.6l3.5 3.5M191.1 149.1l3.5 -3.5M136.2 209.3h5M138.7 206.8v5M136.9 207.6l3.5 3.5M136.9 211.1l3.5 -3.5M146.7 203.8h5M149.2 201.3v5M147.5 202.1l3.5 3.5M147.5 205.6l3.5 -3.5M150.9 197.7h5M153.4 195.2v5M151.7 196l3.5 3.5M151.7 199.5l3.5 -3.5M139.4 209h5M141.9 206.5v5M140.2 207.3l3.5 3.5M140.2 210.8l3.5 -3.5M148.1 202h5M150.6 199.5v5M148.9 200.3l3.5 3.5M148.9 203.8l3.5 -3.5M174.2 172.1h5M176.7 169.6v5M174.9 170.3l3.5 3.5M174.9 173.8l3.5 -3.5M175.1 166.6h5M177.6 164.1v5M175.9 164.8l3.5 3.5M175.9 168.3l3.5 -3.5M169 171.6h5M171.5 169.1v5M169.8 169.9l3.5 3.5M169.8 173.4l3.5 -3.5M139.9 212h5M142.4 209.5v5M140.7 210.2l3.5 3.5M140.7 213.7l3.5 -3.5M166.8 174h5M169.3 171.5v5M167.5 172.2l3.5 3.5M167.5 175.7l3.5 -3.5M137 211.8h5M139.5 209.3v5M137.8 210l3.5 3.5M137.8 213.5l3.5 -3.5M134.4 199.8h5M136.9 197.3v5M135.2 198l3.5 3.5M135.2 201.5l3.5 -3.5M181.4 166.9h5M183.9 164.4v5M182.2 165.1l3.5 3.5M182.2 168.6l3.5 -3.5M150 194.3h5M152.5 191.8v5M150.7 192.5l3.5 3.5M150.7 196l3.5 -3.5M136.4 214h5M138.9 211.5v5M137.1 212.2l3.5 3.5M137.1 215.7l3.5 -3.5M188.5 150.4h5M191 147.9v5M189.3 148.6l3.5 3.5M189.3 152.1l3.5 -3.5M179.9 154.7h5M182.4 152.2v5M180.7 153l3.5 3.5M180.7 156.5l3.5 -3.5M143 202.8h5M145.5 200.3v5M143.7 201l3.5 3.5M143.7 204.5l3.5 -3.5M158.8 173.7h5M161.3 171.2v5M159.5 172l3.5 3.5M159.5 175.5l3.5 -3.5M148 185.5h5M150.5 183v5M148.7 183.8l3.5 3.5M148.7 187.3l3.5 -3.5M177.2 161.2h5M179.7 158.7v5M178 159.4l3.5 3.5M178 162.9l3.5 -3.5M182.2 157.2h5M184.7 154.7v5M183 155.5l3.5 3.5M183 159l3.5 -3.5M149.5 189.1h5M152 186.6v5M150.2 187.4l3.5 3.5M150.2 190.9l3.5 -3.5M150.2 187.6h5M152.7 185.1v5M151 185.9l3.5 3.5M151 189.4l3.5 -3.5M168 171.4h5M170.5 168.9v5M168.7 169.7l3.5 3.5M168.7 173.2l3.5 -3.5M181.9 154.1h5M184.4 151.6v5M182.7 152.4l3.5 3.5M182.7 155.9l3.5 -3.5M157.9 180.9h5M160.4 178.4v5M158.6 179.2l3.5 3.5M158.6 182.7l3.5 -3.5M175 160.3h5M177.5 157.8v5M175.7 158.5l3.5 3.5M175.7 162l3.5 -3.5M144.9 206.3h5M147.4 203.8v5M145.7 204.5l3.5 3.5M145.7 208l3.5 -3.5M138.5 191.4h5M141 188.9v5M139.3 189.7l3.5 3.5M139.3 193.2l3.5 -3.5M178.9 155.3h5M181.4 152.8v5M179.6 153.5l3.5 3.5M179.6 157l3.5 -3.5M175.3 158.5h5M177.8 156v5M176.1 156.8l3.5 3.5M176.1 160.3l3.5 -3.5M178.6 167.4h5M181.1 164.9v5M179.3 165.6l3.5 3.5M179.3 169.1l3.5 -3.5M185.8 151.7h5M188.3 149.2v5M186.5 149.9l3.5 3.5M186.5 153.4l3.5 -3.5M154 185.1h5M156.5 182.6v5M154.7 183.3l3.5 3.5M154.7 186.8l3.5 -3.5M163.7 172.5h5M166.2 170v5M164.4 170.7l3.5 3.5M164.4 174.2l3.5 -3.5M183.6 159h5M186.1 156.5v5M184.4 157.3l3.5 3.5M184.4 160.8l3.5 -3.5M166.9 172.3h5M169.4 169.8v5M167.7 170.5l3.5 3.5M167.7 174l3.5 -3.5M184.9 152.7h5M187.4 150.2v5M185.6 151l3.5 3.5M185.6 154.5l3.5 -3.5M162.5 174.6h5M165 172.1v5M163.2 172.9l3.5 3.5M163.2 176.4l3.5 -3.5M155.8 189.8h5M158.3 187.3v5M156.6 188.1l3.5 3.5M156.6 191.6l3.5 -3.5M184.6 151.7h5M187.1 149.2v5M185.3 150l3.5 3.5M185.3 153.5l3.5 -3.5M166.5 172.9h5M169 170.4v5M167.3 171.1l3.5 3.5M167.3 174.6l3.5 -3.5M138.5 207.5h5M141 205v5M139.2 205.8l3.5 3.5M139.2 209.3l3.5 -3.5M146.5 209h5M149 206.5v5M147.3 207.3l3.5 3.5M147.3 210.8l3.5 -3.5M139.5 206.8h5M142 204.3v5M140.2 205.1l3.5 3.5M140.2 208.6l3.5 -3.5M184.5 151.1h5M187 148.6v5M185.2 149.3l3.5 3.5M185.2 152.8l3.5 -3.5M187.6 152.5h5M190.1 150v5M188.3 150.8l3.5 3.5M188.3 154.3l3.5 -3.5M165.6 181.1h5M168.1 178.6v5M166.4 179.3l3.5 3.5M166.4 182.8l3.5 -3.5M143.5 207.6h5M146 205.1v5M144.2 205.8l3.5 3.5M144.2 209.3l3.5 -3.5M138.3 192.2h5M140.8 189.7v5M139.1 190.5l3.5 3.5M139.1 194l3.5 -3.5M176.3 156.8h5M178.8 154.3v5M177.1 155l3.5 3.5M177.1 158.5l3.5 -3.5M134.3 208.4h5M136.8 205.9v5M135.1 206.6l3.5 3.5M135.1 210.1l3.5 -3.5M180.8 161h5M183.3 158.5v5M181.5 159.3l3.5 3.5M181.5 162.8l3.5 -3.5M153.5 190.6h5M156 188.1v5M154.3 188.9l3.5 3.5M154.3 192.4l3.5 -3.5M163 174.1h5M165.5 171.6v5M163.7 172.4l3.5 3.5M163.7 175.9l3.5 -3.5M144.6 204.5h5M147.1 202v5M145.3 202.8l3.5 3.5M145.3 206.3l3.5 -3.5M186.2 150.1h5M188.7 147.6v5M187 148.3l3.5 3.5M187 151.8l3.5 -3.5M167.3 177.2h5M169.8 174.7v5M168 175.5l3.5 3.5M168 179l3.5 -3.5M150.1 197.4h5M152.6 194.9v5M150.8 195.6l3.5 3.5M150.8 199.1l3.5 -3.5M186.2 161.4h5M188.7 158.9v5M187 159.7l3.5 3.5M187 163.2l3.5 -3.5M163 172.8h5M165.5 170.3v5M163.7 171l3.5 3.5M163.7 174.5l3.5 -3.5M177.7 162.3h5M180.2 159.8v5M178.4 160.6l3.5 3.5M178.4 164.1l3.5 -3.5M148.1 197.4h5M150.6 194.9v5M148.8 195.6l3.5 3.5M148.8 199.1l3.5 -3.5M186.8 159.3h5M189.3 156.8v5M187.6 157.5l3.5 3.5M187.6 161l3.5 -3.5M138.4 201.4h5M140.9 198.9v5M139.2 199.6l3.5 3.5M139.2 203.1l3.5 -3.5M153.9 195.5h5M156.4 193v5M154.7 193.7l3.5 3.5M154.7 197.2l3.5 -3.5M156 181.8h5M158.5 179.3v5M156.7 180.1l3.5 3.5M156.7 183.6l3.5 -3.5M166.6 178.2h5M169.1 175.7v5M167.4 176.4l3.5 3.5M167.4 179.9l3.5 -3.5M182.3 160.5h5M184.8 158v5M183 158.8l3.5 3.5M183 162.3l3.5 -3.5M184.2 152.8h5M186.7 150.3v5M185 151.1l3.5 3.5M185 154.6l3.5 -3.5M186 158.6h5M188.5 156.1v5M186.8 156.9l3.5 3.5M186.8 160.4l3.5 -3.5M191.3 141.3h5M193.8 138.8v5M192 139.5l3.5 3.5M192 143l3.5 -3.5M174.6 165.4h5M177.1 162.9v5M175.3 163.6l3.5 3.5M175.3 167.1l3.5 -3.5M146.8 184.6h5M149.3 182.1v5M147.5 182.9l3.5 3.5M147.5 186.4l3.5 -3.5M183.6 154.4h5M186.1 151.9v5M184.4 152.6l3.5 3.5M184.4 156.1l3.5 -3.5M183.2 150.6h5M185.7 148.1v5M183.9 148.8l3.5 3.5M183.9 152.3l3.5 -3.5M148.6 187.4h5M151.1 184.9v5M149.3 185.7l3.5 3.5M149.3 189.2l3.5 -3.5M169.6 177.3h5M172.1 174.8v5M170.4 175.6l3.5 3.5M170.4 179.1l3.5 -3.5M148.5 184.2h5M151 181.7v5M149.3 182.5l3.5 3.5M149.3 186l3.5 -3.5M188.8 148.8h5M191.3 146.3v5M189.6 147l3.5 3.5M189.6 150.5l3.5 -3.5M159.2 180.7h5M161.7 178.2v5M159.9 178.9l3.5 3.5M159.9 182.4l3.5 -3.5M183.7 154.5h5M186.2 152v5M184.5 152.8l3.5 3.5M184.5 156.3l3.5 -3.5M166.5 169.1h5M169 166.6v5M167.2 167.4l3.5 3.5M167.2 170.9l3.5 -3.5M173.8 177.3h5M176.3 174.8v5M174.5 175.5l3.5 3.5M174.5 179l3.5 -3.5M178.9 163.4h5M181.4 160.9v5M179.7 161.7l3.5 3.5M179.7 165.2l3.5 -3.5M185.1 157.5h5M187.6 155v5M185.9 155.8l3.5 3.5M185.9 159.3l3.5 -3.5M173.2 172h5M175.7 169.5v5M174 170.3l3.5 3.5M174 173.8l3.5 -3.5M137.7 208.5h5M140.2 206v5M138.4 206.8l3.5 3.5M138.4 210.3l3.5 -3.5M160.3 182.9h5M162.8 180.4v5M161.1 181.2l3.5 3.5M161.1 184.7l3.5 -3.5M175.9 166.4h5M178.4 163.9v5M176.7 164.7l3.5 3.5M176.7 168.2l3.5 -3.5M151.5 192.6h5M154 190.1v5M152.2 190.8l3.5 3.5M152.2 194.3l3.5 -3.5M164.3 178.8h5M166.8 176.3v5M165 177.1l3.5 3.5M165 180.6l3.5 -3.5M149.7 186h5M152.2 183.5v5M150.4 184.3l3.5 3.5M150.4 187.8l3.5 -3.5M157 190.4h5M159.5 187.9v5M157.7 188.7l3.5 3.5M157.7 192.2l3.5 -3.5M172.2 172.8h5M174.7 170.3v5M173 171l3.5 3.5M173 174.5l3.5 -3.5M190.5 151.7h5M193 149.2v5M191.2 150l3.5 3.5M191.2 153.5l3.5 -3.5M174.2 162.3h5M176.7 159.8v5M174.9 160.5l3.5 3.5M174.9 164l3.5 -3.5M149 185.4h5M151.5 182.9v5M149.7 183.6l3.5 3.5M149.7 187.1l3.5 -3.5M164.8 178.2h5M167.3 175.7v5M165.6 176.5l3.5 3.5M165.6 180l3.5 -3.5M167.4 173.3h5M169.9 170.8v5M168.2 171.6l3.5 3.5M168.2 175.1l3.5 -3.5M136.2 211.4h5M138.7 208.9v5M136.9 209.6l3.5 3.5M136.9 213.1l3.5 -3.5M181.8 165.4h5M184.3 162.9v5M182.5 163.6l3.5 3.5M182.5 167.1l3.5 -3.5M182.9 154.8h5M185.4 152.3v5M183.6 153l3.5 3.5M183.6 156.5l3.5 -3.5M142.1 202.3h5M144.6 199.8v5M142.9 200.6l3.5 3.5M142.9 204.1l3.5 -3.5M172.6 163.1h5M175.1 160.6v5M173.4 161.4l3.5 3.5M173.4 164.9l3.5 -3.5M187.6 145.7h5M190.1 143.2v5M188.4 143.9l3.5 3.5M188.4 147.4l3.5 -3.5M141.3 192.4h5M143.8 189.9v5M142 190.6l3.5 3.5M142 194.1l3.5 -3.5M192.4 142.6h5M194.9 140.1v5M193.2 140.9l3.5 3.5M193.2 144.4l3.5 -3.5M181.2 166.8h5M183.7 164.3v5M182 165.1l3.5 3.5M182 168.6l3.5 -3.5M165.8 171h5M168.3 168.5v5M166.6 169.3l3.5 3.5M166.6 172.8l3.5 -3.5M165.7 174.6h5M168.2 172.1v5M166.5 172.9l3.5 3.5M166.5 176.4l3.5 -3.5M184.6 158.7h5M187.1 156.2v5M185.4 157l3.5 3.5M185.4 160.5l3.5 -3.5M155.8 189.4h5M158.3 186.9v5M156.6 187.7l3.5 3.5M156.6 191.2l3.5 -3.5M160.1 177.4h5M162.6 174.9v5M160.9 175.7l3.5 3.5M160.9 179.2l3.5 -3.5M184.6 164.5h5M187.1 162v5M185.4 162.7l3.5 3.5M185.4 166.2l3.5 -3.5M164 177.9h5M166.5 175.4v5M164.7 176.2l3.5 3.5M164.7 179.7l3.5 -3.5M171.6 175.1h5M174.1 172.6v5M172.3 173.3l3.5 3.5M172.3 176.8l3.5 -3.5M182.9 149.6h5M185.4 147.1v5M183.7 147.9l3.5 3.5M183.7 151.4l3.5 -3.5M140.1 208.1h5M142.6 205.6v5M140.8 206.4l3.5 3.5M140.8 209.9l3.5 -3.5M139 204.6h5M141.5 202.1v5M139.8 202.8l3.5 3.5M139.8 206.3l3.5 -3.5M166.9 177.9h5M169.4 175.4v5M167.6 176.2l3.5 3.5M167.6 179.7l3.5 -3.5M169.1 165.6h5M171.6 163.1v5M169.8 163.9l3.5 3.5M169.8 167.4l3.5 -3.5M135.7 213.3h5M138.2 210.8v5M136.5 211.6l3.5 3.5M136.5 215.1l3.5 -3.5M191.7 146.1h5M194.2 143.6v5M192.4 144.4l3.5 3.5M192.4 147.9l3.5 -3.5M178.7 164.9h5M181.2 162.4v5M179.5 163.2l3.5 3.5M179.5 166.7l3.5 -3.5M186.5 155.6h5M189 153.1v5M187.3 153.9l3.5 3.5M187.3 157.4l3.5 -3.5M147.5 196.6h5M150 194.1v5M148.2 194.8l3.5 3.5M148.2 198.3l3.5 -3.5M184.5 162.4h5M187 159.9v5M185.2 160.6l3.5 3.5M185.2 164.1l3.5 -3.5M189.6 142.4h5M192.1 139.9v5M190.4 140.6l3.5 3.5M190.4 144.1l3.5 -3.5M158 191.3h5M160.5 188.8v5M158.7 189.6l3.5 3.5M158.7 193.1l3.5 -3.5M167.9 167.2h5M170.4 164.7v5M168.6 165.4l3.5 3.5M168.6 168.9l3.5 -3.5M160.9 181.1h5M163.4 178.6v5M161.6 179.3l3.5 3.5M161.6 182.8l3.5 -3.5M185.3 157.2h5M187.8 154.7v5M186 155.5l3.5 3.5M186 159l3.5 -3.5M183.8 161.6h5M186.3 159.1v5M184.5 159.8l3.5 3.5M184.5 163.3l3.5 -3.5M142.6 209.5h5M145.1 207v5M143.4 207.7l3.5 3.5M143.4 211.2l3.5 -3.5M174.3 165.5h5M176.8 163v5M175 163.7l3.5 3.5M175 167.2l3.5 -3.5M138 201.1h5M140.5 198.6v5M138.8 199.3l3.5 3.5M138.8 202.8l3.5 -3.5M147.3 206.6h5M149.8 204.1v5M148.1 204.8l3.5 3.5M148.1 208.3l3.5 -3.5M175.2 167.2h5M177.7 164.7v5M175.9 165.5l3.5 3.5M175.9 169l3.5 -3.5M138.9 203.1h5M141.4 200.6v5M139.7 201.4l3.5 3.5M139.7 204.9l3.5 -3.5M177 157.7h5M179.5 155.2v5M177.7 155.9l3.5 3.5M177.7 159.4l3.5 -3.5M164.3 179.8h5M166.8 177.3v5M165.1 178l3.5 3.5M165.1 181.5l3.5 -3.5M160.2 176.7h5M162.7 174.2v5M160.9 175l3.5 3.5M160.9 178.5l3.5 -3.5M162.7 182.6h5M165.2 180.1v5M163.5 180.9l3.5 3.5M163.5 184.4l3.5 -3.5M173.1 176.6h5M175.6 174.1v5M173.9 174.8l3.5 3.5M173.9 178.3l3.5 -3.5M136.7 207.9h5M139.2 205.4v5M137.4 206.2l3.5 3.5M137.4 209.7l3.5 -3.5M188.4 159.4h5M190.9 156.9v5M189.2 157.7l3.5 3.5M189.2 161.2l3.5 -3.5M167.8 166.5h5M170.3 164v5M168.5 164.8l3.5 3.5M168.5 168.3l3.5 -3.5M188.6 157.5h5M191.1 155v5M189.4 155.8l3.5 3.5M189.4 159.3l3.5 -3.5M165 171h5M167.5 168.5v5M165.8 169.2l3.5 3.5M165.8 172.7l3.5 -3.5M171.4 174.6h5M173.9 172.1v5M172.2 172.8l3.5 3.5M172.2 176.3l3.5 -3.5M185.5 152.7h5M188 150.2v5M186.3 151l3.5 3.5M186.3 154.5l3.5 -3.5M189.9 146.2h5M192.4 143.7v5M190.7 144.5l3.5 3.5M190.7 148l3.5 -3.5M171.7 165.5h5M174.2 163v5M172.4 163.8l3.5 3.5M172.4 167.3l3.5 -3.5M172.7 178.7h5M175.2 176.2v5M173.5 177l3.5 3.5M173.5 180.5l3.5 -3.5M173.9 171.9h5M176.4 169.4v5M174.6 170.2l3.5 3.5M174.6 173.7l3.5 -3.5M173.1 178h5M175.6 175.5v5M173.9 176.3l3.5 3.5M173.9 179.8l3.5 -3.5M158 179.7h5M160.5 177.2v5M158.7 177.9l3.5 3.5M158.7 181.4l3.5 -3.5M143.2 185.8h5M145.7 183.3v5M144 184l3.5 3.5M144 187.5l3.5 -3.5M159.4 188.4h5M161.9 185.9v5M160.1 186.7l3.5 3.5M160.1 190.2l3.5 -3.5M135.7 215.6h5M138.2 213.1v5M136.4 213.8l3.5 3.5M136.4 217.3l3.5 -3.5M148.8 197.7h5M151.3 195.2v5M149.6 195.9l3.5 3.5M149.6 199.4l3.5 -3.5M138.5 191.7h5M141 189.2v5M139.3 189.9l3.5 3.5M139.3 193.4l3.5 -3.5M184 153.5h5M186.5 151v5M184.8 151.8l3.5 3.5M184.8 155.3l3.5 -3.5M139.6 204.6h5M142.1 202.1v5M140.4 202.8l3.5 3.5M140.4 206.3l3.5 -3.5M157.6 177.8h5M160.1 175.3v5M158.4 176l3.5 3.5M158.4 179.5l3.5 -3.5M175.8 157.2h5M178.3 154.7v5M176.5 155.4l3.5 3.5M176.5 158.9l3.5 -3.5M179.9 166.8h5M182.4 164.3v5M180.6 165l3.5 3.5M180.6 168.5l3.5 -3.5M185.4 163.1h5M187.9 160.6v5M186.2 161.3l3.5 3.5M186.2 164.8l3.5 -3.5M185.8 162.8h5M188.3 160.3v5M186.6 161l3.5 3.5M186.6 164.5l3.5 -3.5M157.6 186.4h5M160.1 183.9v5M158.3 184.7l3.5 3.5M158.3 188.2l3.5 -3.5M167.6 175.4h5M170.1 172.9v5M168.3 173.7l3.5 3.5M168.3 177.2l3.5 -3.5M189.9 147h5M192.4 144.5v5M190.6 145.2l3.5 3.5M190.6 148.7l3.5 -3.5M171.4 165.6h5M173.9 163.1v5M172.1 163.8l3.5 3.5M172.1 167.3l3.5 -3.5M173.3 171.6h5M175.8 169.1v5M174.1 169.9l3.5 3.5M174.1 173.4l3.5 -3.5M161 184.3h5M163.5 181.8v5M161.8 182.5l3.5 3.5M161.8 186l3.5 -3.5M187.3 156.9h5M189.8 154.4v5M188 155.1l3.5 3.5M188 158.6l3.5 -3.5M138.1 211.9h5M140.6 209.4v5M138.8 210.2l3.5 3.5M138.8 213.7l3.5 -3.5M142.8 202.8h5M145.3 200.3v5M143.5 201l3.5 3.5M143.5 204.5l3.5 -3.5M152.4 193h5M154.9 190.5v5M153.2 191.3l3.5 3.5M153.2 194.8l3.5 -3.5M170.4 169.3h5M172.9 166.8v5M171.1 167.5l3.5 3.5M171.1 171l3.5 -3.5M152.4 197.5h5M154.9 195v5M153.2 195.8l3.5 3.5M153.2 199.3l3.5 -3.5M157.9 181.3h5M160.4 178.8v5M158.7 179.6l3.5 3.5M158.7 183.1l3.5 -3.5M143 209.8h5M145.5 207.3v5M143.7 208l3.5 3.5M143.7 211.5l3.5 -3.5M163.7 169.4h5M166.2 166.9v5M164.5 167.6l3.5 3.5M164.5 171.1l3.5 -3.5M146.3 198.7h5M148.8 196.2v5M147 196.9l3.5 3.5M147 200.4l3.5 -3.5M171.5 174.1h5M174 171.6v5M172.3 172.4l3.5 3.5M172.3 175.9l3.5 -3.5M187.2 160.9h5M189.7 158.4v5M187.9 159.2l3.5 3.5M187.9 162.7l3.5 -3.5M167.8 178.6h5M170.3 176.1v5M168.5 176.8l3.5 3.5M168.5 180.3l3.5 -3.5M174.1 176.4h5M176.6 173.9v5M174.8 174.7l3.5 3.5M174.8 178.2l3.5 -3.5M186 153.4h5M188.5 150.9v5M186.8 151.7l3.5 3.5M186.8 155.2l3.5 -3.5M186.3 149h5M188.8 146.5v5M187.1 147.3l3.5 3.5M187.1 150.8l3.5 -3.5M167.3 172h5M169.8 169.5v5M168.1 170.3l3.5 3.5M168.1 173.8l3.5 -3.5M181.4 162.7h5M183.9 160.2v5M182.1 161l3.5 3.5M182.1 164.5l3.5 -3.5M149.6 195.3h5M152.1 192.8v5M150.3 193.5l3.5 3.5M150.3 197l3.5 -3.5M155.2 191.3h5M157.7 188.8v5M155.9 189.5l3.5 3.5M155.9 193l3.5 -3.5M175 171.5h5M177.5 169v5M175.8 169.7l3.5 3.5M175.8 173.2l3.5 -3.5M147.2 202.2h5M149.7 199.7v5M148 200.5l3.5 3.5M148 204l3.5 -3.5M136 200.2h5M138.5 197.7v5M136.7 198.4l3.5 3.5M136.7 201.9l3.5 -3.5M163 172h5M165.5 169.5v5M163.7 170.3l3.5 3.5M163.7 173.8l3.5 -3.5M170.5 171.8h5M173 169.3v5M171.2 170.1l3.5 3.5M171.2 173.6l3.5 -3.5M153.3 187.3h5M155.8 184.8v5M154 185.6l3.5 3.5M154 189.1l3.5 -3.5M137.1 197.8h5M139.6 195.3v5M137.8 196.1l3.5 3.5M137.8 199.6l3.5 -3.5M163 171.9h5M165.5 169.4v5M163.8 170.2l3.5 3.5M163.8 173.7l3.5 -3.5M191.2 148h5M193.7 145.5v5M192 146.3l3.5 3.5M192 149.8l3.5 -3.5M170 167.3h5M172.5 164.8v5M170.7 165.5l3.5 3.5M170.7 169l3.5 -3.5M168.2 176.8h5M170.7 174.3v5M169 175.1l3.5 3.5M169 178.6l3.5 -3.5M191.2 145.4h5M193.7 142.9v5M191.9 143.7l3.5 3.5M191.9 147.2l3.5 -3.5M187.9 149.9h5M190.4 147.4v5M188.6 148.1l3.5 3.5M188.6 151.6l3.5 -3.5M160.5 177.6h5M163 175.1v5M161.3 175.8l3.5 3.5M161.3 179.3l3.5 -3.5M192.5 140.3h5M195 137.8v5M193.3 138.6l3.5 3.5M193.3 142.1l3.5 -3.5M156.7 195h5M159.2 192.5v5M157.4 193.2l3.5 3.5M157.4 196.7l3.5 -3.5M166 171.9h5M168.5 169.4v5M166.8 170.1l3.5 3.5M166.8 173.6l3.5 -3.5M148.9 204.7h5M151.4 202.2v5M149.6 203l3.5 3.5M149.6 206.5l3.5 -3.5M235.1 99.5h5M237.6 97v5M235.8 97.7l3.5 3.5M235.8 101.2l3.5 -3.5M234.2 102.8h5M236.7 100.3v5M234.9 101.1l3.5 3.5M234.9 104.6l3.5 -3.5M240.8 98h5M243.3 95.5v5M241.5 96.2l3.5 3.5M241.5 99.7l3.5 -3.5M199 142.8h5M201.5 140.3v5M199.7 141l3.5 3.5M199.7 144.5l3.5 -3.5M199.6 131.6h5M202.1 129.1v5M200.3 129.8l3.5 3.5M200.3 133.3l3.5 -3.5M221.5 110.2h5M224 107.7v5M222.2 108.5l3.5 3.5M222.2 112l3.5 -3.5M227.3 106.2h5M229.8 103.7v5M228 104.5l3.5 3.5M228 108l3.5 -3.5M220.5 110.2h5M223 107.7v5M221.2 108.4l3.5 3.5M221.2 111.9l3.5 -3.5M217.3 113.2h5M219.8 110.7v5M218.1 111.5l3.5 3.5M218.1 115l3.5 -3.5M224.1 107.2h5M226.6 104.7v5M224.9 105.4l3.5 3.5M224.9 108.9l3.5 -3.5M226.8 108.8h5M229.3 106.3v5M227.5 107l3.5 3.5M227.5 110.5l3.5 -3.5M223 109.6h5M225.5 107.1v5M223.7 107.8l3.5 3.5M223.7 111.3l3.5 -3.5M196.6 139.3h5M199.1 136.8v5M197.4 137.5l3.5 3.5M197.4 141l3.5 -3.5M236.5 96.7h5M239 94.2v5M237.3 94.9l3.5 3.5M237.3 98.4l3.5 -3.5M196 135.2h5M198.5 132.7v5M196.7 133.4l3.5 3.5M196.7 136.9l3.5 -3.5M234.1 97.8h5M236.6 95.3v5M234.8 96.1l3.5 3.5M234.8 99.6l3.5 -3.5M201.8 128.8h5M204.3 126.3v5M202.6 127.1l3.5 3.5M202.6 130.6l3.5 -3.5M203.6 129.5h5M206.1 127v5M204.4 127.8l3.5 3.5M204.4 131.3l3.5 -3.5M239.3 100.6h5M241.8 98.1v5M240 98.8l3.5 3.5M240 102.3l3.5 -3.5M225.5 110.3h5M228 107.8v5M226.3 108.5l3.5 3.5M226.3 112l3.5 -3.5M205.6 125.8h5M208.1 123.3v5M206.3 124.1l3.5 3.5M206.3 127.6l3.5 -3.5M211.8 123.5h5M214.3 121v5M212.6 121.7l3.5 3.5M212.6 125.2l3.5 -3.5M202.3 128.1h5M204.8 125.6v5M203 126.3l3.5 3.5M203 129.8l3.5 -3.5M241.9 91.8h5M244.4 89.3v5M242.6 90l3.5 3.5M242.6 93.5l3.5 -3.5M216.7 121.5h5M219.2 119v5M217.5 119.7l3.5 3.5M217.5 123.2l3.5 -3.5M204.1 127.1h5M206.6 124.6v5M204.9 125.3l3.5 3.5M204.9 128.8l3.5 -3.5M195.8 146.8h5M198.3 144.3v5M196.6 145.1l3.5 3.5M196.6 148.6l3.5 -3.5M197.9 137.6h5M200.4 135.1v5M198.7 135.9l3.5 3.5M198.7 139.4l3.5 -3.5M238.8 100.9h5M241.3 98.4v5M239.6 99.1l3.5 3.5M239.6 102.6l3.5 -3.5M240.9 92.6h5M243.4 90.1v5M241.6 90.8l3.5 3.5M241.6 94.3l3.5 -3.5M231.7 107.8h5M234.2 105.3v5M232.4 106l3.5 3.5M232.4 109.5l3.5 -3.5M218.1 114.1h5M220.6 111.6v5M218.8 112.3l3.5 3.5M218.8 115.8l3.5 -3.5M204.7 133.1h5M207.2 130.6v5M205.4 131.3l3.5 3.5M205.4 134.8l3.5 -3.5M235.3 101.6h5M237.8 99.1v5M236 99.9l3.5 3.5M236 103.4l3.5 -3.5M208 123.2h5M210.5 120.7v5M208.8 121.5l3.5 3.5M208.8 125l3.5 -3.5M219.5 111.3h5M222 108.8v5M220.3 109.6l3.5 3.5M220.3 113.1l3.5 -3.5M220.7 116.8h5M223.2 114.3v5M221.4 115.1l3.5 3.5M221.4 118.6l3.5 -3.5M231.6 109.5h5M234.1 107v5M232.4 107.8l3.5 3.5M232.4 111.3l3.5 -3.5M198.8 139.1h5M201.3 136.6v5M199.6 137.3l3.5 3.5M199.6 140.8l3.5 -3.5M203.9 130.4h5M206.4 127.9v5M204.6 128.7l3.5 3.5M204.6 132.2l3.5 -3.5M230.9 108.5h5M233.4 106v5M231.7 106.7l3.5 3.5M231.7 110.2l3.5 -3.5M232.4 106.9h5M234.9 104.4v5M233.1 105.1l3.5 3.5M233.1 108.6l3.5 -3.5M219 116.6h5M221.5 114.1v5M219.8 114.9l3.5 3.5M219.8 118.4l3.5 -3.5M215.1 117.2h5M217.6 114.7v5M215.9 115.5l3.5 3.5M215.9 119l3.5 -3.5M197.1 138.7h5M199.6 136.2v5M197.9 137l3.5 3.5M197.9 140.5l3.5 -3.5M197.1 141.1h5M199.6 138.6v5M197.9 139.3l3.5 3.5M197.9 142.8l3.5 -3.5M194.7 144.2h5M197.2 141.7v5M195.5 142.4l3.5 3.5M195.5 145.9l3.5 -3.5M206 124.1h5M208.5 121.6v5M206.8 122.4l3.5 3.5M206.8 125.9l3.5 -3.5M240.4 100.2h5M242.9 97.7v5M241.1 98.4l3.5 3.5M241.1 101.9l3.5 -3.5M194.8 148.1h5M197.3 145.6v5M195.5 146.3l3.5 3.5M195.5 149.8l3.5 -3.5M233.9 100.5h5M236.4 98v5M234.7 98.8l3.5 3.5M234.7 102.3l3.5 -3.5M214.1 122.6h5M216.6 120.1v5M214.9 120.9l3.5 3.5M214.9 124.4l3.5 -3.5M203.2 127.3h5M205.7 124.8v5M204 125.5l3.5 3.5M204 129l3.5 -3.5M225 110.6h5M227.5 108.1v5M225.8 108.8l3.5 3.5M225.8 112.3l3.5 -3.5M195.4 149.6h5M197.9 147.1v5M196.2 147.9l3.5 3.5M196.2 151.4l3.5 -3.5M212.9 119.1h5M215.4 116.6v5M213.6 117.3l3.5 3.5M213.6 120.8l3.5 -3.5M219.3 122.1h5M221.8 119.6v5M220.1 120.4l3.5 3.5M220.1 123.9l3.5 -3.5M211.1 126.5h5M213.6 124v5M211.9 124.8l3.5 3.5M211.9 128.3l3.5 -3.5M235.9 99.6h5M238.4 97.1v5M236.7 97.9l3.5 3.5M236.7 101.4l3.5 -3.5M218.8 112.9h5M221.3 110.4v5M219.6 111.1l3.5 3.5M219.6 114.6l3.5 -3.5M195.5 138.5h5M198 136v5M196.2 136.8l3.5 3.5M196.2 140.3l3.5 -3.5M232.7 104.2h5M235.2 101.7v5M233.5 102.4l3.5 3.5M233.5 105.9l3.5 -3.5M217.7 118.2h5M220.2 115.7v5M218.5 116.4l3.5 3.5M218.5 119.9l3.5 -3.5M194.8 147.3h5M197.3 144.8v5M195.6 145.5l3.5 3.5M195.6 149l3.5 -3.5M215.7 117.7h5M218.2 115.2v5M216.4 116l3.5 3.5M216.4 119.5l3.5 -3.5M217.4 119h5M219.9 116.5v5M218.2 117.3l3.5 3.5M218.2 120.8l3.5 -3.5M205.4 129.8h5M207.9 127.3v5M206.2 128l3.5 3.5M206.2 131.5l3.5 -3.5M219.8 117.5h5M222.3 115v5M220.6 115.7l3.5 3.5M220.6 119.2l3.5 -3.5M241.5 98.2h5M244 95.7v5M242.2 96.5l3.5 3.5M242.2 100l3.5 -3.5M206.5 129.9h5M209 127.4v5M207.2 128.1l3.5 3.5M207.2 131.6l3.5 -3.5M205.4 128.4h5M207.9 125.9v5M206.1 126.6l3.5 3.5M206.1 130.1l3.5 -3.5M211.9 122.9h5M214.4 120.4v5M212.6 121.2l3.5 3.5M212.6 124.7l3.5 -3.5M220.6 122.5h5M223.1 120v5M221.3 120.7l3.5 3.5M221.3 124.2l3.5 -3.5M223.9 111h5M226.4 108.5v5M224.7 109.2l3.5 3.5M224.7 112.7l3.5 -3.5M235.8 98.9h5M238.3 96.4v5M236.5 97.1l3.5 3.5M236.5 100.6l3.5 -3.5M210.8 123.8h5M213.3 121.3v5M211.5 122l3.5 3.5M211.5 125.5l3.5 -3.5M226.2 108.1h5M228.7 105.6v5M226.9 106.3l3.5 3.5M226.9 109.8l3.5 -3.5M203.7 126h5M206.2 123.5v5M204.4 124.3l3.5 3.5M204.4 127.8l3.5 -3.5M225.8 112.7h5M228.3 110.2v5M226.6 111l3.5 3.5M226.6 114.5l3.5 -3.5M205.5 136.4h5M208 133.9v5M206.3 134.6l3.5 3.5M206.3 138.1l3.5 -3.5M217.5 121.5h5M220 119v5M218.2 119.7l3.5 3.5M218.2 123.2l3.5 -3.5M218.9 116.6h5M221.4 114.1v5M219.6 114.8l3.5 3.5M219.6 118.3l3.5 -3.5M228.5 106.3h5M231 103.8v5M229.2 104.5l3.5 3.5M229.2 108l3.5 -3.5M212.9 118.6h5M215.4 116.1v5M213.6 116.8l3.5 3.5M213.6 120.3l3.5 -3.5M215.1 115.6h5M217.6 113.1v5M215.8 113.8l3.5 3.5M215.8 117.3l3.5 -3.5M216.3 124.6h5M218.8 122.1v5M217 122.9l3.5 3.5M217 126.4l3.5 -3.5M236.9 99.2h5M239.4 96.7v5M237.6 97.5l3.5 3.5M237.6 101l3.5 -3.5M232.9 101.1h5M235.4 98.6v5M233.7 99.3l3.5 3.5M233.7 102.8l3.5 -3.5M215.4 121.9h5M217.9 119.4v5M216.1 120.2l3.5 3.5M216.1 123.7l3.5 -3.5M205.9 129.9h5M208.4 127.4v5M206.7 128.1l3.5 3.5M206.7 131.6l3.5 -3.5M219.7 114.7h5M222.2 112.2v5M220.4 113l3.5 3.5M220.4 116.5l3.5 -3.5M223.8 108.7h5M226.3 106.2v5M224.6 106.9l3.5 3.5M224.6 110.4l3.5 -3.5M196.5 143.8h5M199 141.3v5M197.2 142l3.5 3.5M197.2 145.5l3.5 -3.5M195.9 149.1h5M198.4 146.6v5M196.6 147.4l3.5 3.5M196.6 150.9l3.5 -3.5M216.5 123.3h5M219 120.8v5M217.3 121.6l3.5 3.5M217.3 125.1l3.5 -3.5M194.9 148.6h5M197.4 146.1v5M195.6 146.9l3.5 3.5M195.6 150.4l3.5 -3.5M234.2 107.9h5M236.7 105.4v5M235 106.1l3.5 3.5M235 109.6l3.5 -3.5M200 140.1h5M202.5 137.6v5M200.7 138.4l3.5 3.5M200.7 141.9l3.5 -3.5M217.3 121.8h5M219.8 119.3v5M218.1 120.1l3.5 3.5M218.1 123.6l3.5 -3.5M202.8 131.7h5M205.3 129.2v5M203.6 130l3.5 3.5M203.6 133.5l3.5 -3.5M195.8 138.1h5M198.3 135.6v5M196.5 136.4l3.5 3.5M196.5 139.9l3.5 -3.5M231.6 109.6h5M234.1 107.1v5M232.3 107.8l3.5 3.5M232.3 111.3l3.5 -3.5M200.7 130.9h5M203.2 128.4v5M201.5 129.2l3.5 3.5M201.5 132.7l3.5 -3.5M198 147.2h5M200.5 144.7v5M198.7 145.4l3.5 3.5M198.7 148.9l3.5 -3.5M230.5 103.4h5M233 100.9v5M231.2 101.7l3.5 3.5M231.2 105.2l3.5 -3.5M205.8 124.8h5M208.3 122.3v5M206.6 123l3.5 3.5M206.6 126.5l3.5 -3.5M216.4 116.8h5M218.9 114.3v5M217.2 115l3.5 3.5M217.2 118.5l3.5 -3.5M205.7 136.7h5M208.2 134.2v5M206.4 134.9l3.5 3.5M206.4 138.4l3.5 -3.5M217.4 118.7h5M219.9 116.2v5M218.2 116.9l3.5 3.5M218.2 120.4l3.5 -3.5M202.2 131.6h5M204.7 129.1v5M202.9 129.9l3.5 3.5M202.9 133.4l3.5 -3.5M208.9 124.1h5M211.4 121.6v5M209.6 122.4l3.5 3.5M209.6 125.9l3.5 -3.5M196 143.3h5M198.5 140.8v5M196.7 141.5l3.5 3.5M196.7 145l3.5 -3.5M212.9 119.2h5M215.4 116.7v5M213.6 117.5l3.5 3.5M213.6 121l3.5 -3.5M229.7 102.1h5M232.2 99.6v5M230.4 100.3l3.5 3.5M230.4 103.8l3.5 -3.5M194.7 150h5M197.2 147.5v5M195.5 148.2l3.5 3.5M195.5 151.7l3.5 -3.5M228.6 104.6h5M231.1 102.1v5M229.3 102.8l3.5 3.5M229.3 106.3l3.5 -3.5M230.8 101.4h5M233.3 98.9v5M231.6 99.7l3.5 3.5M231.6 103.2l3.5 -3.5M201.5 135.4h5M204 132.9v5M202.2 133.7l3.5 3.5M202.2 137.2l3.5 -3.5M202.1 129h5M204.6 126.5v5M202.9 127.3l3.5 3.5M202.9 130.8l3.5 -3.5M232.7 102.8h5M235.2 100.3v5M233.5 101l3.5 3.5M233.5 104.5l3.5 -3.5M214 124h5M216.5 121.5v5M214.7 122.2l3.5 3.5M214.7 125.7l3.5 -3.5M205 130.7h5M207.5 128.2v5M205.8 129l3.5 3.5M205.8 132.5l3.5 -3.5M205 129.2h5M207.5 126.7v5M205.7 127.4l3.5 3.5M205.7 130.9l3.5 -3.5M211.1 125.8h5M213.6 123.3v5M211.8 124.1l3.5 3.5M211.8 127.6l3.5 -3.5M218.2 115.9h5M220.7 113.4v5M219 114.2l3.5 3.5M219 117.7l3.5 -3.5M236.5 99.6h5M239 97.1v5M237.3 97.9l3.5 3.5M237.3 101.4l3.5 -3.5M214.9 119.2h5M217.4 116.7v5M215.6 117.4l3.5 3.5M215.6 120.9l3.5 -3.5M219.5 117.4h5M222 114.9v5M220.3 115.6l3.5 3.5M220.3 119.1l3.5 -3.5M224.8 113h5M227.3 110.5v5M225.6 111.2l3.5 3.5M225.6 114.7l3.5 -3.5M213.7 117.5h5M216.2 115v5M214.5 115.8l3.5 3.5M214.5 119.3l3.5 -3.5M196.5 135.8h5M199 133.3v5M197.2 134l3.5 3.5M197.2 137.5l3.5 -3.5M199.3 133h5M201.8 130.5v5M200 131.2l3.5 3.5M200 134.7l3.5 -3.5M229.9 101.6h5M232.4 99.1v5M230.7 99.8l3.5 3.5M230.7 103.3l3.5 -3.5M222.1 110.2h5M224.6 107.7v5M222.9 108.5l3.5 3.5M222.9 112l3.5 -3.5M219.4 122.2h5M221.9 119.7v5M220.2 120.5l3.5 3.5M220.2 124l3.5 -3.5M230.5 100.7h5M233 98.2v5M231.3 99l3.5 3.5M231.3 102.5l3.5 -3.5M208.9 123.1h5M211.4 120.6v5M209.6 121.4l3.5 3.5M209.6 124.9l3.5 -3.5M196.9 145.9h5M199.4 143.4v5M197.7 144.1l3.5 3.5M197.7 147.6l3.5 -3.5M237 102.3h5M239.5 99.8v5M237.8 100.6l3.5 3.5M237.8 104.1l3.5 -3.5M229.7 106.4h5M232.2 103.9v5M230.5 104.6l3.5 3.5M230.5 108.1l3.5 -3.5M210.4 121.4h5M212.9 118.9v5M211.1 119.6l3.5 3.5M211.1 123.1l3.5 -3.5M222.4 113h5M224.9 110.5v5M223.2 111.2l3.5 3.5M223.2 114.7l3.5 -3.5M236.1 103.4h5M238.6 100.9v5M236.9 101.7l3.5 3.5M236.9 105.2l3.5 -3.5M219.6 120.2h5M222.1 117.7v5M220.3 118.5l3.5 3.5M220.3 122l3.5 -3.5M197.9 145h5M200.4 142.5v5M198.6 143.3l3.5 3.5M198.6 146.8l3.5 -3.5M210.5 120.2h5M213 117.7v5M211.3 118.5l3.5 3.5M211.3 122l3.5 -3.5M235.9 102.3h5M238.4 99.8v5M236.7 100.6l3.5 3.5M236.7 104.1l3.5 -3.5M224.8 113.2h5M227.3 110.7v5M225.5 111.5l3.5 3.5M225.5 115l3.5 -3.5M244.5 89.9h5M247 87.4v5M245.2 88.2l3.5 3.5M245.2 91.7l3.5 -3.5M200.1 135h5M202.6 132.5v5M200.9 133.2l3.5 3.5M200.9 136.7l3.5 -3.5M197.5 135.9h5M200 133.4v5M198.3 134.2l3.5 3.5M198.3 137.7l3.5 -3.5M196.1 140.2h5M198.6 137.7v5M196.9 138.4l3.5 3.5M196.9 141.9l3.5 -3.5M232.2 103.5h5M234.7 101v5M233 101.8l3.5 3.5M233 105.3l3.5 -3.5M196.4 142.3h5M198.9 139.8v5M197.2 140.6l3.5 3.5M197.2 144.1l3.5 -3.5M206.4 136.2h5M208.9 133.7v5M207.1 134.5l3.5 3.5M207.1 138l3.5 -3.5" stroke="#77AC30" stroke-width="1.0" fill="none" clip-path="url(#cL)"/>
<line x1="40.5" y1="299" x2="324" y2="27.5" stroke="#77AC30" stroke-width="2" clip-path="url(#cL)"/>
<path d="M144.5 200.8h5M147 198.3v5M145.2 199.1l3.5 3.5M145.2 202.6l3.5 -3.5M146.5 200.2h5M149 197.7v5M147.2 198.4l3.5 3.5M147.2 201.9l3.5 -3.5M138.1 214.2h5M140.6 211.7v5M138.8 212.4l3.5 3.5M138.8 215.9l3.5 -3.5M139.1 216.6h5M141.6 214.1v5M139.8 214.8l3.5 3.5M139.8 218.3l3.5 -3.5M154.7 198h5M157.2 195.5v5M155.4 196.2l3.5 3.5M155.4 199.8l3.5 -3.5" stroke="#0B2A8C" stroke-width="1.0" fill="none" clip-path="url(#cL)"/>
<path d="M130.7 252h5M133.2 249.5v5M131.4 250.2l3.5 3.5M131.4 253.8l3.5 -3.5M131.9 254h5M134.4 251.5v5M132.7 252.2l3.5 3.5M132.7 255.8l3.5 -3.5M121.5 261h5M124 258.5v5M122.2 259.2l3.5 3.5M122.2 262.8l3.5 -3.5M126 262h5M128.5 259.5v5M126.8 260.2l3.5 3.5M126.8 263.8l3.5 -3.5M127 260.5h5M129.5 258v5M127.8 258.8l3.5 3.5M127.8 262.2l3.5 -3.5" stroke="#FF00FF" stroke-width="1.0" fill="none" clip-path="url(#cL)"/>
<path d="M119 242.7h2.8M120.4 241.3v2.8M119.4 241.7l2 2M119.4 243.7l2 -2" stroke="#FF00FF" stroke-width="0.9" fill="none"/>
<text class="t" transform="translate(47.5 329) scale(0.955 1)" text-anchor="middle">0</text>
<text class="t" transform="translate(105.5 329) scale(0.955 1)" text-anchor="middle">0.1</text>
<text class="t" transform="translate(163.5 329) scale(0.955 1)" text-anchor="middle">0.2</text>
<text class="t" transform="translate(221.5 329) scale(0.955 1)" text-anchor="middle">0.3</text>
<text class="t" transform="translate(279.5 329) scale(0.955 1)" text-anchor="middle">0.4</text>
<text class="t" transform="translate(24.5 299.2) scale(0.955 1)" text-anchor="end">0</text>
<text class="t" transform="translate(24.5 270.1) scale(0.955 1)" text-anchor="end">0.05</text>
<text class="t" transform="translate(24.5 241) scale(0.955 1)" text-anchor="end">0.1</text>
<text class="t" transform="translate(24.5 211.8) scale(0.955 1)" text-anchor="end">0.15</text>
<text class="t" transform="translate(24.5 182.8) scale(0.955 1)" text-anchor="end">0.2</text>
<text class="t" transform="translate(24.5 153.7) scale(0.955 1)" text-anchor="end">0.25</text>
<text class="t" transform="translate(24.5 124.6) scale(0.955 1)" text-anchor="end">0.3</text>
<text class="t" transform="translate(24.5 95.5) scale(0.955 1)" text-anchor="end">0.35</text>
<text class="t" transform="translate(24.5 66.3) scale(0.955 1)" text-anchor="end">0.4</text>
<text class="t" transform="translate(24.5 37.2) scale(0.955 1)" text-anchor="end">0.45</text>
<text class="s" x="174.5" y="11" text-anchor="middle">Training</text>
<text class="s2" x="176.2" y="344.1" text-anchor="middle">Target</text>
<rect x="34" y="23.4" width="154.6" height="114.8" fill="#fff" stroke="#262626" stroke-width="0.8"/>
<path d="M47.1 30.9h5M49.6 28.4v5M47.9 29.1l3.5 3.5M47.9 32.6l3.5 -3.5" stroke="#D95319" stroke-width="0.8" fill="none"/>
<text class="l" transform="translate(64.7 34.3) scale(0.900 1)">inertia weight=0.85, R=0.979</text>
<line x1="37.2" y1="43.5" x2="62" y2="43.5" stroke="#D95319" stroke-width="2"/>
<text class="l" transform="translate(64.7 46.9) scale(0.900 1)">Fit</text>
<line x1="37.2" y1="56" x2="62" y2="56" stroke="#777" stroke-width="0.6" stroke-dasharray="0.8 1.6"/>
<text class="l" transform="translate(64.7 59.4) scale(0.900 1)">Y = T</text>
<path d="M47.1 68.6h5M49.6 66.1v5M47.9 66.8l3.5 3.5M47.9 70.3l3.5 -3.5" stroke="#FF00FF" stroke-width="0.8" fill="none"/>
<text class="l" transform="translate(64.7 72) scale(0.900 1)">inertia weight=0.9, R=0.9784</text>
<line x1="37.2" y1="81.1" x2="62" y2="81.1" stroke="#FF00FF" stroke-width="2"/>
<text class="l" transform="translate(64.7 84.5) scale(0.900 1)">Fit</text>
<path d="M47.1 93.7h5M49.6 91.2v5M47.9 92l3.5 3.5M47.9 95.5l3.5 -3.5" stroke="#0B2A8C" stroke-width="0.8" fill="none"/>
<text class="l" transform="translate(64.7 97.1) scale(0.900 1)">inertia weight=0.95, R=0.977</text>
<line x1="37.2" y1="106.3" x2="62" y2="106.3" stroke="#0B2A8C" stroke-width="2"/>
<text class="l" transform="translate(64.7 109.7) scale(0.900 1)">Fit</text>
<path d="M47.1 118.8h5M49.6 116.3v5M47.9 117.1l3.5 3.5M47.9 120.6l3.5 -3.5" stroke="#77AC30" stroke-width="0.8" fill="none"/>
<text class="l" transform="translate(64.7 122.2) scale(0.900 1)">inertia weight=1, R=0.982</text>
<line x1="37.2" y1="131.4" x2="62" y2="131.4" stroke="#77AC30" stroke-width="2"/>
<text class="l" transform="translate(64.7 134.8) scale(0.900 1)">Fit</text>
<clipPath id="cR"><rect x="383.7" y="14.9" width="300.6" height="300.2"/></clipPath>
<rect x="386.3" y="17.5" width="295.4" height="295" fill="none" stroke="#444" stroke-width="1"/>
<path d="M408.6 312.5v-3.5M408.6 17.5v3.5M465.8 312.5v-3.5M465.8 17.5v3.5M523 312.5v-3.5M523 17.5v3.5M580.2 312.5v-3.5M580.2 17.5v3.5M637.4 312.5v-3.5M637.4 17.5v3.5M386.3 290.2h3.5M681.7 290.2h-3.5M386.3 261.6h3.5M681.7 261.6h-3.5M386.3 233.1h3.5M681.7 233.1h-3.5M386.3 204.4h3.5M681.7 204.4h-3.5M386.3 175.8h3.5M681.7 175.8h-3.5M386.3 147.2h3.5M681.7 147.2h-3.5M386.3 118.7h3.5M681.7 118.7h-3.5M386.3 90.1h3.5M681.7 90.1h-3.5M386.3 61.4h3.5M681.7 61.4h-3.5M386.3 32.8h3.5M681.7 32.8h-3.5" stroke="#262626" stroke-width="1" fill="none"/>
<path d="M427.8 235.8L427.8 243L427.9 243L449.3 236.2L452.4 233.6L452.4 227L450.9 227.1L436.2 232.5L436.1 232.5L431.3 234L427.8 235.8Z" fill="#D95319" fill-rule="evenodd" clip-path="url(#cR)"/><path d="M682.8 26.7L682.9 26.6L683.1 26.5L683.2 26.4L683.3 26.2L683.4 26.1L683.5 26L683.6 25.8L683.7 25.6L683.7 25.5L683.7 25.3L683.8 25.1L683.7 25L683.7 24.8L683.7 24.6L683.6 24.5L683.6 24.3L683.5 24.1L683.4 24L683.3 23.9L683.1 23.8L683 23.6L682.9 23.5L682.7 23.5L682.5 23.4L682.4 23.4L682.2 23.3L682 23.3L681.9 23.3L681.7 23.3L681.5 23.4L681.3 23.4L681.2 23.5L672.3 27.9L672.2 28L672 28.1L671.9 28.2L671.8 28.3L671.7 28.5L671.6 28.6L671.5 28.8L671.4 28.9L671.4 29.1L671.3 29.3L671.3 29.5L671.3 29.6L671.4 29.8L671.4 30L671.4 30.1L671.5 30.3L671.6 30.5L671.7 30.6L671.8 30.7L671.9 30.8L672.1 31L672.2 31L672.4 31.1L672.5 31.2L672.7 31.2L672.9 31.3L673.1 31.3L673.2 31.3L673.4 31.3L673.6 31.2L673.7 31.2L673.9 31.1L682.8 26.7Z" fill="#D95319" fill-rule="evenodd" clip-path="url(#cR)"/><path d="M670 34.5L670.2 34.4L670.3 34.3L670.5 34.2L670.6 34L670.7 33.9L670.8 33.7L670.9 33.6L670.9 33.4L671 33.2L671 33L671 32.9L671 32.7L671 32.5L670.9 32.3L670.9 32.1L670.8 32L670.7 31.8L670.6 31.7L670.5 31.5L670.3 31.4L670.2 31.3L670 31.2L669.9 31.1L669.7 31.1L669.5 31L669.3 31L669.2 31L669 31L668.8 31L668.6 31.1L668.4 31.1L668.3 31.2L660.9 35.1L660.7 35.2L660.6 35.3L660.4 35.5L660.3 35.6L660.2 35.7L660.1 35.9L660 36.1L660 36.2L659.9 36.4L659.9 36.6L659.9 36.8L659.9 37L659.9 37.1L660 37.3L660 37.5L660.1 37.7L660.2 37.8L660.3 38L660.4 38.1L660.6 38.2L660.7 38.3L660.9 38.4L661 38.5L661.2 38.6L661.4 38.6L661.6 38.6L661.8 38.6L661.9 38.6L662.1 38.6L662.3 38.6L662.5 38.5L662.7 38.4L670 34.5Z" fill="#D95319" fill-rule="evenodd" clip-path="url(#cR)"/><path d="M656.9 45L657.1 44.9L657.3 44.8L657.4 44.6L657.5 44.5L657.6 44.4L657.7 44.2L657.8 44.1L657.9 43.9L658 43.7L658 43.5L658 43.4L658 43.2L658 43L658 42.8L657.9 42.6L657.8 42.5L657.7 42.3L657.6 42.2L657.5 42L657.4 41.9L657.2 41.8L657.1 41.7L656.9 41.6L656.8 41.5L656.6 41.5L656.4 41.4L656.2 41.4L656 41.4L655.9 41.4L655.7 41.5L655.5 41.5L655.3 41.6L646.7 45.7L646.5 45.8L646.3 45.9L646.2 46L646.1 46.1L646 46.3L645.8 46.4L645.8 46.6L645.7 46.8L645.6 46.9L645.6 47.1L645.6 47.3L645.6 47.5L645.6 47.7L645.6 47.9L645.7 48L645.8 48.2L645.9 48.4L646 48.5L646.1 48.7L646.2 48.8L646.3 48.9L646.5 49L646.7 49.1L646.8 49.2L647 49.2L647.2 49.2L647.4 49.3L647.6 49.3L647.7 49.2L647.9 49.2L648.1 49.2L648.3 49.1L656.9 45Z" fill="#D95319" fill-rule="evenodd" clip-path="url(#cR)"/><path d="M643.1 55.9L643.3 55.9L643.5 55.8L643.6 55.7L643.7 55.6L643.9 55.4L644 55.3L644.1 55.2L644.1 55L644.2 54.8L644.3 54.7L644.3 54.5L644.3 54.3L644.3 54.2L644.3 54L644.2 53.8L644.2 53.7L644.1 53.5L644 53.3L643.9 53.2L643.8 53.1L643.7 52.9L643.6 52.8L643.4 52.7L643.3 52.7L643.1 52.6L642.9 52.6L642.8 52.5L642.6 52.5L642.4 52.5L642.2 52.5L642.1 52.6L641.9 52.6L634.5 55.4L634.4 55.4L634.2 55.5L634.1 55.6L633.9 55.7L633.8 55.9L633.7 56L633.6 56.1L633.5 56.3L633.5 56.5L633.4 56.6L633.4 56.8L633.4 57L633.4 57.1L633.4 57.3L633.4 57.5L633.5 57.6L633.5 57.8L633.6 58L633.7 58.1L633.8 58.2L634 58.4L634.1 58.5L634.2 58.6L634.4 58.6L634.6 58.7L634.7 58.7L634.9 58.8L635.1 58.8L635.2 58.8L635.4 58.8L635.6 58.7L635.8 58.7L643.1 55.9Z" fill="#D95319" fill-rule="evenodd" clip-path="url(#cR)"/><path d="M665.2 55.2L665.3 55.1L665.5 55.1L665.6 55L665.7 54.9L665.8 54.8L666 54.7L666 54.5L666.1 54.4L666.2 54.3L666.2 54.1L666.3 54L666.3 53.8L666.3 53.7L666.3 53.5L666.3 53.4L666.2 53.2L666.2 53.1L666.1 52.9L666 52.8L665.9 52.7L665.8 52.6L665.7 52.5L665.6 52.4L665.4 52.3L665.3 52.2L665.2 52.2L665 52.1L664.9 52.1L664.7 52.1L664.5 52.1L664.4 52.1L664.2 52.2L653.4 55.6L653.2 55.7L653.1 55.7L653 55.8L652.9 55.9L652.7 56L652.6 56.1L652.5 56.3L652.5 56.4L652.4 56.5L652.4 56.7L652.3 56.8L652.3 57L652.3 57.1L652.3 57.3L652.3 57.5L652.4 57.6L652.4 57.7L652.5 57.9L652.6 58L652.7 58.1L652.8 58.3L652.9 58.4L653 58.4L653.1 58.5L653.3 58.6L653.4 58.6L653.6 58.7L653.7 58.7L653.9 58.7L654 58.7L654.2 58.7L654.4 58.6L665.2 55.2Z" fill="#D95319" fill-rule="evenodd" clip-path="url(#cR)"/><path d="M644.5 63.2L644.7 63.1L644.8 63L644.9 62.9L645 62.8L645.1 62.7L645.2 62.5L645.3 62.4L645.3 62.2L645.3 62.1L645.4 61.9L645.4 61.8L645.4 61.6L645.4 61.5L645.3 61.3L645.3 61.2L645.2 61L645.1 60.9L645.1 60.8L645 60.7L644.8 60.6L644.7 60.5L644.6 60.4L644.5 60.3L644.3 60.3L644.2 60.2L644 60.2L643.9 60.2L643.7 60.2L643.5 60.2L643.4 60.2L643.2 60.3L643.1 60.3L637 63.4L636.9 63.5L636.7 63.6L636.6 63.7L636.5 63.8L636.4 63.9L636.3 64L636.3 64.2L636.2 64.3L636.2 64.4L636.1 64.6L636.1 64.7L636.1 64.9L636.1 65.1L636.2 65.2L636.2 65.4L636.3 65.5L636.4 65.6L636.5 65.8L636.6 65.9L636.7 66L636.8 66.1L636.9 66.2L637.1 66.2L637.2 66.3L637.3 66.3L637.5 66.4L637.7 66.4L637.8 66.4L638 66.3L638.1 66.3L638.3 66.3L638.4 66.2L644.5 63.2Z" fill="#D95319" fill-rule="evenodd" clip-path="url(#cR)"/><path d="M641.6 59L641.8 58.8L642 58.7L642.2 58.6L642.3 58.4L642.5 58.2L642.6 58L642.7 57.8L642.8 57.6L642.9 57.4L642.9 57.1L642.9 56.9L642.9 56.7L642.9 56.4L642.8 56.2L642.8 56L642.7 55.8L642.6 55.6L642.4 55.4L642.3 55.2L642.1 55.1L641.9 54.9L641.7 54.8L641.5 54.7L641.3 54.6L641.1 54.5L640.9 54.5L640.6 54.5L640.4 54.5L640.2 54.5L639.9 54.6L639.7 54.6L639.5 54.7L627.7 60.5L627.5 60.6L627.3 60.8L627.1 60.9L626.9 61.1L626.8 61.3L626.7 61.4L626.6 61.7L626.5 61.9L626.4 62.1L626.4 62.3L626.4 62.5L626.4 62.8L626.4 63L626.4 63.2L626.5 63.5L626.6 63.7L626.7 63.9L626.8 64.1L627 64.2L627.2 64.4L627.3 64.5L627.5 64.7L627.7 64.8L628 64.9L628.2 64.9L628.4 65L628.6 65L628.9 65L629.1 65L629.3 64.9L629.6 64.8L629.8 64.7L641.6 59Z" fill="#D95319" fill-rule="evenodd" clip-path="url(#cR)"/><path d="M625.8 69.3L626 69.2L626.1 69.1L626.3 68.9L626.4 68.8L626.5 68.6L626.6 68.4L626.6 68.3L626.7 68.1L626.7 67.9L626.7 67.7L626.7 67.5L626.7 67.3L626.7 67.1L626.6 66.9L626.5 66.8L626.4 66.6L626.3 66.4L626.2 66.3L626.1 66.2L625.9 66L625.8 65.9L625.6 65.8L625.4 65.8L625.2 65.7L625 65.7L624.8 65.7L624.6 65.7L624.4 65.7L624.3 65.7L624.1 65.8L623.9 65.9L623.7 66L616.8 70.3L616.7 70.4L616.5 70.5L616.4 70.7L616.3 70.8L616.2 71L616.1 71.2L616 71.3L616 71.5L615.9 71.7L615.9 71.9L615.9 72.1L615.9 72.3L616 72.5L616 72.7L616.1 72.8L616.2 73L616.3 73.2L616.4 73.3L616.6 73.4L616.7 73.6L616.9 73.7L617.1 73.8L617.2 73.8L617.4 73.9L617.6 73.9L617.8 73.9L618 73.9L618.2 73.9L618.4 73.9L618.6 73.8L618.8 73.7L618.9 73.6L625.8 69.3Z" fill="#D95319" fill-rule="evenodd" clip-path="url(#cR)"/>
<path d="M447.6 228.9h5M450.1 226.4v5M448.4 227.1l3.5 3.5M448.4 230.6l3.5 -3.5M443.9 230.5h5M446.4 228v5M444.6 228.7l3.5 3.5M444.6 232.2l3.5 -3.5M445.9 229.4h5M448.4 226.9v5M446.7 227.6l3.5 3.5M446.7 231.1l3.5 -3.5M447.2 229.4h5M449.7 226.9v5M447.9 227.7l3.5 3.5M447.9 231.2l3.5 -3.5M442.2 231.2h5M444.7 228.7v5M442.9 229.4l3.5 3.5M442.9 232.9l3.5 -3.5M443 231.9h5M445.5 229.4v5M443.8 230.1l3.5 3.5M443.8 233.6l3.5 -3.5M445.4 231.9h5M447.9 229.4v5M446.1 230.1l3.5 3.5M446.1 233.6l3.5 -3.5M447.5 230.8h5M450 228.3v5M448.2 229l3.5 3.5M448.2 232.5l3.5 -3.5M447.6 231.3h5M450.1 228.8v5M448.4 229.6l3.5 3.5M448.4 233.1l3.5 -3.5M439.3 232.5h5M441.8 230v5M440 230.8l3.5 3.5M440 234.3l3.5 -3.5M440.5 232.6h5M443 230.1v5M441.2 230.8l3.5 3.5M441.2 234.3l3.5 -3.5M442.3 232.4h5M444.8 229.9v5M443.1 230.7l3.5 3.5M443.1 234.2l3.5 -3.5M443.7 231.9h5M446.2 229.4v5M444.4 230.2l3.5 3.5M444.4 233.7l3.5 -3.5M445.6 231.9h5M448.1 229.4v5M446.3 230.2l3.5 3.5M446.3 233.7l3.5 -3.5M447.4 232.9h5M449.9 230.4v5M448.1 231.1l3.5 3.5M448.1 234.6l3.5 -3.5M433.7 234h5M436.2 231.5v5M434.5 232.2l3.5 3.5M434.5 235.7l3.5 -3.5M435.6 233.3h5M438.1 230.8v5M436.3 231.6l3.5 3.5M436.3 235.1l3.5 -3.5M437.3 233.8h5M439.8 231.3v5M438 232.1l3.5 3.5M438 235.6l3.5 -3.5M437.5 234.2h5M440 231.7v5M438.3 232.4l3.5 3.5M438.3 235.9l3.5 -3.5M439.7 233.7h5M442.2 231.2v5M440.4 231.9l3.5 3.5M440.4 235.4l3.5 -3.5M441.9 233.3h5M444.4 230.8v5M442.7 231.5l3.5 3.5M442.7 235l3.5 -3.5M443.4 234.3h5M445.9 231.8v5M444.2 232.5l3.5 3.5M444.2 236l3.5 -3.5M445.5 233.3h5M448 230.8v5M446.2 231.6l3.5 3.5M446.2 235.1l3.5 -3.5M446.2 233.4h5M448.7 230.9v5M447 231.6l3.5 3.5M447 235.1l3.5 -3.5M447.7 233.9h5M450.2 231.4v5M448.4 232.1l3.5 3.5M448.4 235.6l3.5 -3.5M428.3 235.6h5M430.8 233.1v5M429.1 233.9l3.5 3.5M429.1 237.4l3.5 -3.5M431.4 236h5M433.9 233.5v5M432.2 234.2l3.5 3.5M432.2 237.7l3.5 -3.5M433.2 236h5M435.7 233.5v5M433.9 234.2l3.5 3.5M433.9 237.7l3.5 -3.5M433.5 235.8h5M436 233.3v5M434.2 234l3.5 3.5M434.2 237.5l3.5 -3.5M436.1 235.3h5M438.6 232.8v5M436.9 233.6l3.5 3.5M436.9 237.1l3.5 -3.5M438.2 235.5h5M440.7 233v5M438.9 233.7l3.5 3.5M438.9 237.2l3.5 -3.5M439.4 235.2h5M441.9 232.7v5M440.2 233.5l3.5 3.5M440.2 237l3.5 -3.5M440.5 236.1h5M443 233.6v5M441.3 234.4l3.5 3.5M441.3 237.9l3.5 -3.5M443.5 235.2h5M446 232.7v5M444.3 233.4l3.5 3.5M444.3 236.9l3.5 -3.5M427 236.8h5M429.5 234.3v5M427.8 235.1l3.5 3.5M427.8 238.6l3.5 -3.5M429 237.3h5M431.5 234.8v5M429.7 235.6l3.5 3.5M429.7 239.1l3.5 -3.5M429.2 237.5h5M431.7 235v5M429.9 235.7l3.5 3.5M429.9 239.2l3.5 -3.5M432.3 236.9h5M434.8 234.4v5M433.1 235.2l3.5 3.5M433.1 238.7l3.5 -3.5M432.4 237.6h5M434.9 235.1v5M433.1 235.8l3.5 3.5M433.1 239.3l3.5 -3.5M435.5 236.9h5M438 234.4v5M436.2 235.2l3.5 3.5M436.2 238.7l3.5 -3.5M436.3 237.7h5M438.8 235.2v5M437.1 235.9l3.5 3.5M437.1 239.4l3.5 -3.5M438.2 237.6h5M440.7 235.1v5M438.9 235.9l3.5 3.5M438.9 239.4l3.5 -3.5M439.5 237.2h5M442 234.7v5M440.3 235.4l3.5 3.5M440.3 238.9l3.5 -3.5M442.2 236.3h5M444.7 233.8v5M443 234.6l3.5 3.5M443 238.1l3.5 -3.5M427.3 238.5h5M429.8 236v5M428 236.7l3.5 3.5M428 240.2l3.5 -3.5M428.9 239.2h5M431.4 236.7v5M429.7 237.5l3.5 3.5M429.7 241l3.5 -3.5M431.4 238.6h5M433.9 236.1v5M432.2 236.9l3.5 3.5M432.2 240.4l3.5 -3.5M432.9 238.8h5M435.4 236.3v5M433.7 237l3.5 3.5M433.7 240.5l3.5 -3.5M435.1 238.6h5M437.6 236.1v5M435.9 236.9l3.5 3.5M435.9 240.4l3.5 -3.5M426.8 240.3h5M429.3 237.8v5M427.6 238.5l3.5 3.5M427.6 242l3.5 -3.5M428.5 240.3h5M431 237.8v5M429.2 238.6l3.5 3.5M429.2 242.1l3.5 -3.5M427.2 240.8h5M429.7 238.3v5M427.9 239l3.5 3.5M427.9 242.5l3.5 -3.5M677.6 25.4h5M680.1 22.9v5M678.4 23.6l3.5 3.5M678.4 27.1l3.5 -3.5M673.9 27.6h5M676.4 25.1v5M674.6 25.9l3.5 3.5M674.6 29.4l3.5 -3.5M675.5 27.6h5M678 25.1v5M676.3 25.9l3.5 3.5M676.3 29.4l3.5 -3.5M671.5 29.7h5M674 27.2v5M672.3 27.9l3.5 3.5M672.3 31.4l3.5 -3.5M671.9 29.1h5M674.4 26.6v5M672.7 27.4l3.5 3.5M672.7 30.9l3.5 -3.5M673.6 28.2h5M676.1 25.7v5M674.3 26.4l3.5 3.5M674.3 29.9l3.5 -3.5M666.8 32.4h5M669.3 29.9v5M667.5 30.6l3.5 3.5M667.5 34.1l3.5 -3.5M663.6 33.8h5M666.1 31.3v5M664.3 32l3.5 3.5M664.3 35.5l3.5 -3.5M664.1 34h5M666.6 31.5v5M664.8 32.3l3.5 3.5M664.8 35.8l3.5 -3.5M666.6 32.8h5M669.1 30.3v5M667.3 31.1l3.5 3.5M667.3 34.6l3.5 -3.5M660.5 35.5h5M663 33v5M661.2 33.7l3.5 3.5M661.2 37.2l3.5 -3.5M662.3 34.6h5M664.8 32.1v5M663 32.9l3.5 3.5M663 36.4l3.5 -3.5M659.5 36h5M662 33.5v5M660.2 34.2l3.5 3.5M660.2 37.7l3.5 -3.5M652.1 43.6h5M654.6 41.1v5M652.9 41.9l3.5 3.5M652.9 45.4l3.5 -3.5M647.6 46.1h5M650.1 43.6v5M648.3 44.4l3.5 3.5M648.3 47.9l3.5 -3.5M650 45.5h5M652.5 43v5M650.7 43.7l3.5 3.5M650.7 47.2l3.5 -3.5M647.3 46.2h5M649.8 43.7v5M648 44.5l3.5 3.5M648 48l3.5 -3.5M640.1 54.3h5M642.6 51.8v5M640.8 52.6l3.5 3.5M640.8 56.1l3.5 -3.5M639.1 55h5M641.6 52.5v5M639.9 53.2l3.5 3.5M639.9 56.7l3.5 -3.5M633.8 56.1h5M636.3 53.6v5M634.5 54.4l3.5 3.5M634.5 57.9l3.5 -3.5M634.9 55.8h5M637.4 53.3v5M635.6 54l3.5 3.5M635.6 57.5l3.5 -3.5M657.1 55.3h5M659.6 52.8v5M657.9 53.6l3.5 3.5M657.9 57.1l3.5 -3.5M660.8 54.4h5M663.3 51.9v5M661.5 52.6l3.5 3.5M661.5 56.1l3.5 -3.5M655.6 55.7h5M658.1 53.2v5M656.3 53.9l3.5 3.5M656.3 57.4l3.5 -3.5M639.2 62.6h5M641.7 60.1v5M640 60.8l3.5 3.5M640 64.3l3.5 -3.5M636.6 64.4h5M639.1 61.9v5M637.3 62.6l3.5 3.5M637.3 66.1l3.5 -3.5M638.5 55.8h5M641 53.3v5M639.3 54.1l3.5 3.5M639.3 57.6l3.5 -3.5M636.7 56.3h5M639.2 53.8v5M637.5 54.6l3.5 3.5M637.5 58.1l3.5 -3.5M637.5 57.5h5M640 55v5M638.3 55.7l3.5 3.5M638.3 59.2l3.5 -3.5M632.2 58.8h5M634.7 56.3v5M632.9 57.1l3.5 3.5M632.9 60.6l3.5 -3.5M632.9 59.2h5M635.4 56.7v5M633.6 57.5l3.5 3.5M633.6 61l3.5 -3.5M635.3 58.4h5M637.8 55.9v5M636.1 56.6l3.5 3.5M636.1 60.1l3.5 -3.5M636.4 58.3h5M638.9 55.8v5M637.1 56.5l3.5 3.5M637.1 60l3.5 -3.5M630.2 59.7h5M632.7 57.2v5M630.9 57.9l3.5 3.5M630.9 61.4l3.5 -3.5M631.9 59.9h5M634.4 57.4v5M632.6 58.1l3.5 3.5M632.6 61.6l3.5 -3.5M625.9 61.6h5M628.4 59.1v5M626.7 59.9l3.5 3.5M626.7 63.4l3.5 -3.5M627.6 61.6h5M630.1 59.1v5M628.3 59.8l3.5 3.5M628.3 63.3l3.5 -3.5M630 61.3h5M632.5 58.8v5M630.8 59.6l3.5 3.5M630.8 63.1l3.5 -3.5M631.6 60.9h5M634.1 58.4v5M632.3 59.2l3.5 3.5M632.3 62.7l3.5 -3.5M626.6 62.1h5M629.1 59.6v5M627.4 60.3l3.5 3.5M627.4 63.8l3.5 -3.5M626.8 62.7h5M629.3 60.2v5M627.5 61l3.5 3.5M627.5 64.5l3.5 -3.5M621.2 68.2h5M623.7 65.7v5M622 66.5l3.5 3.5M622 70l3.5 -3.5M621.9 68.4h5M624.4 65.9v5M622.7 66.7l3.5 3.5M622.7 70.2l3.5 -3.5M618.4 69.3h5M620.9 66.8v5M619.1 67.5l3.5 3.5M619.1 71l3.5 -3.5M619.3 69h5M621.8 66.5v5M620.1 67.3l3.5 3.5M620.1 70.8l3.5 -3.5M615.6 71.7h5M618.1 69.2v5M616.4 70l3.5 3.5M616.4 73.5l3.5 -3.5M616.5 71.1h5M619 68.6v5M617.2 69.4l3.5 3.5M617.2 72.9l3.5 -3.5M618 71.1h5M620.5 68.6v5M618.7 69.3l3.5 3.5M618.7 72.8l3.5 -3.5M406.1 303h5M408.6 300.5v5M406.9 301.3l3.5 3.5M406.9 304.8l3.5 -3.5M476.3 256h5M478.8 253.5v5M477.1 254.3l3.5 3.5M477.1 257.8l3.5 -3.5M532 176.4h5M534.5 173.9v5M532.8 174.7l3.5 3.5M532.8 178.2l3.5 -3.5M534.5 175h5M537 172.5v5M535.3 173.2l3.5 3.5M535.3 176.7l3.5 -3.5M526.6 182.1h5M529.1 179.6v5M527.4 180.4l3.5 3.5M527.4 183.9l3.5 -3.5M528.6 180.9h5M531.1 178.4v5M529.3 179.1l3.5 3.5M529.3 182.6l3.5 -3.5M553.2 153.3h5M555.7 150.8v5M554 151.6l3.5 3.5M554 155.1l3.5 -3.5M555.2 151.9h5M557.7 149.4v5M556 150.1l3.5 3.5M556 153.6l3.5 -3.5M425.1 258.5h5M427.6 256v5M425.9 256.8l3.5 3.5M425.9 260.3l3.5 -3.5M425 262.4h5M427.5 259.9v5M425.8 260.7l3.5 3.5M425.8 264.2l3.5 -3.5" stroke="#D95319" stroke-width="1.0" fill="none" clip-path="url(#cR)"/>
<path d="M406.1 312h5M408.6 309.5v5M406.9 310.2l3.5 3.5M406.9 313.8l3.5 -3.5M406.1 301.5h5M408.6 299v5M406.9 299.8l3.5 3.5M406.9 303.2l3.5 -3.5M406.1 306h5M408.6 303.5v5M406.9 304.2l3.5 3.5M406.9 307.8l3.5 -3.5" stroke="#D95319" stroke-width="1.0" fill="none" clip-path="url(#cR)"/>
<line x1="386.3" y1="309.7" x2="681.5" y2="29.8" stroke="#D95319" stroke-width="2" clip-path="url(#cR)"/>
<line x1="386.3" y1="312.5" x2="681.7" y2="17.5" stroke="#777" stroke-width="0.6" stroke-dasharray="0.8 1.6"/>
<path d="M550.3 137.5L553.6 141.6L557 135.3L557.1 135.2L557.1 135.2L565 125.3L565.1 125.2L575.5 115.5L582.4 108.7L582.5 108.6L589.3 103.5L592.6 99.3L592.7 99.2L592.7 99.2L604 89.9L608.9 85L609 85L616.8 77.6L616.9 77.5L616.9 77.5L620.7 75L617.2 70.9L613.4 73.4L605.6 80.7L600.7 85.6L600.6 85.6L589.4 94.9L586.1 99.2L586 99.2L586 99.3L585.9 99.3L579 104.4L572.2 111.2L572.2 111.3L561.7 121L553.9 130.7L550.3 137.5Z" fill="#FF00FF" fill-rule="evenodd" clip-path="url(#cR)"/><path d="M435.3 238.9L435.3 238.9L441.2 237.3L441.3 237.3L441.4 237.2L441.5 237.2L441.6 237.1L441.7 237L441.8 236.9L441.9 236.8L442 236.7L442 236.6L442.1 236.5L442.1 236.4L442.1 236.3L442.1 236.1L442.1 236L442.1 235.9L442.1 235.8L442 235.6L442 235.5L441.9 235.4L441.9 235.3L441.8 235.2L441.7 235.1L441.6 235.1L441.5 235L441.4 234.9L441.3 234.9L441.1 234.9L441 234.8L440.9 234.8L440.8 234.8L440.6 234.8L440.5 234.9L434.6 236.4L434.6 236.4L427 238.6L426.9 238.6L426.8 238.7L426.6 238.8L426.5 238.8L426.4 238.9L426.4 239L426.3 239.1L426.2 239.2L426.2 239.3L426.1 239.4L426.1 239.6L426.1 239.7L426.1 239.8L426.1 239.9L426.1 240.1L426.1 240.2L426.1 240.3L426.2 240.4L426.3 240.5L426.3 240.6L426.4 240.7L426.5 240.8L426.6 240.9L426.7 240.9L426.8 241L426.9 241L427.1 241.1L427.2 241.1L427.3 241.1L427.4 241.1L427.6 241.1L427.7 241.1L435.3 238.9Z" fill="#FF00FF" fill-rule="evenodd" clip-path="url(#cR)"/><path d="M682.7 44.2L682.8 44.2L683 44.1L683.1 44L683.2 43.9L683.4 43.8L683.5 43.6L683.5 43.5L683.6 43.3L683.7 43.2L683.7 43L683.7 42.9L683.8 42.7L683.7 42.5L683.7 42.4L683.7 42.2L683.6 42.1L683.6 41.9L683.5 41.8L683.4 41.6L683.3 41.5L683.2 41.4L683 41.3L682.9 41.2L682.7 41.1L682.6 41.1L682.4 41L682.3 41L682.1 41L681.9 41L681.8 41L681.6 41.1L681.4 41.1L673.5 44.3L673.3 44.3L673.2 44.4L673 44.5L672.9 44.6L672.8 44.7L672.7 44.9L672.6 45L672.5 45.2L672.5 45.3L672.4 45.5L672.4 45.6L672.4 45.8L672.4 46L672.4 46.1L672.5 46.3L672.5 46.4L672.6 46.6L672.7 46.7L672.8 46.9L672.9 47L673 47.1L673.1 47.2L673.3 47.3L673.4 47.4L673.6 47.4L673.7 47.5L673.9 47.5L674.1 47.5L674.2 47.5L674.4 47.5L674.5 47.4L674.7 47.4L682.7 44.2Z" fill="#FF00FF" fill-rule="evenodd" clip-path="url(#cR)"/><path d="M671.1 48.2L671.3 48.1L671.4 48L671.5 47.9L671.6 47.8L671.7 47.7L671.8 47.6L671.9 47.4L671.9 47.3L672 47.1L672 47L672 46.8L672 46.7L672 46.5L672 46.4L671.9 46.2L671.8 46.1L671.8 46L671.7 45.8L671.6 45.7L671.5 45.6L671.3 45.5L671.2 45.4L671.1 45.4L670.9 45.3L670.8 45.3L670.6 45.2L670.5 45.2L670.3 45.2L670.2 45.3L670 45.3L669.9 45.3L669.7 45.4L663.5 48.5L663.4 48.6L663.3 48.7L663.1 48.8L663 48.9L662.9 49.1L662.8 49.2L662.8 49.3L662.7 49.5L662.7 49.6L662.7 49.8L662.6 49.9L662.7 50.1L662.7 50.2L662.7 50.4L662.8 50.5L662.8 50.7L662.9 50.8L663 50.9L663.1 51L663.2 51.1L663.3 51.2L663.5 51.3L663.6 51.4L663.7 51.4L663.9 51.5L664 51.5L664.2 51.5L664.3 51.5L664.5 51.5L664.7 51.5L664.8 51.4L665 51.3L671.1 48.2Z" fill="#FF00FF" fill-rule="evenodd" clip-path="url(#cR)"/><path d="M654.7 54.7L654.8 54.6L655 54.5L655.1 54.3L655.2 54.2L655.3 54.1L655.4 53.9L655.4 53.8L655.5 53.6L655.5 53.5L655.5 53.3L655.5 53.1L655.5 53L655.5 52.8L655.5 52.7L655.4 52.5L655.3 52.4L655.2 52.2L655.1 52.1L655 52L654.9 51.9L654.8 51.8L654.6 51.7L654.5 51.6L654.3 51.6L654.1 51.5L654 51.5L653.8 51.5L653.7 51.5L653.5 51.6L653.3 51.6L653.2 51.7L653 51.8L646.2 55.7L646 55.8L645.9 55.9L645.7 56L645.6 56.1L645.5 56.2L645.5 56.4L645.4 56.5L645.3 56.7L645.3 56.8L645.3 57L645.3 57.2L645.3 57.3L645.3 57.5L645.4 57.7L645.4 57.8L645.5 58L645.6 58.1L645.7 58.2L645.8 58.3L645.9 58.4L646.1 58.5L646.2 58.6L646.4 58.7L646.5 58.7L646.7 58.8L646.8 58.8L647 58.8L647.2 58.8L647.3 58.8L647.5 58.7L647.7 58.6L647.8 58.6L654.7 54.7Z" fill="#FF00FF" fill-rule="evenodd" clip-path="url(#cR)"/><path d="M646.8 73.8L647 73.8L647.1 73.7L647.2 73.6L647.4 73.5L647.5 73.5L647.6 73.3L647.7 73.2L647.8 73.1L647.9 73L647.9 72.8L648 72.7L648 72.5L648 72.4L648 72.2L648 72.1L648 71.9L648 71.8L647.9 71.6L647.8 71.5L647.8 71.4L647.7 71.2L647.6 71.1L647.4 71L647.3 70.9L647.2 70.9L647 70.8L646.9 70.7L646.7 70.7L646.6 70.7L646.4 70.7L646.3 70.7L646.1 70.7L636.8 72.8L636.6 72.8L636.5 72.9L636.3 73L636.2 73L636.1 73.1L636 73.2L635.9 73.4L635.8 73.5L635.7 73.6L635.6 73.8L635.6 73.9L635.6 74.1L635.5 74.2L635.5 74.4L635.5 74.5L635.6 74.7L635.6 74.8L635.7 75L635.7 75.1L635.8 75.2L635.9 75.3L636 75.5L636.1 75.6L636.3 75.6L636.4 75.7L636.5 75.8L636.7 75.8L636.8 75.9L637 75.9L637.1 75.9L637.3 75.9L637.5 75.9L646.8 73.8Z" fill="#FF00FF" fill-rule="evenodd" clip-path="url(#cR)"/><path d="M665.6 67.8L665.8 67.7L665.9 67.7L666 67.6L666.2 67.5L666.3 67.4L666.4 67.3L666.5 67.2L666.6 67.1L666.6 66.9L666.7 66.8L666.7 66.6L666.8 66.5L666.8 66.3L666.8 66.2L666.8 66L666.7 65.9L666.7 65.7L666.6 65.6L666.6 65.4L666.5 65.3L666.4 65.2L666.3 65.1L666.1 65L666 64.9L665.9 64.8L665.7 64.8L665.6 64.7L665.4 64.7L665.3 64.7L665.1 64.7L665 64.7L664.8 64.7L651.5 68.2L651.4 68.2L651.2 68.3L651.1 68.4L650.9 68.5L650.8 68.5L650.7 68.7L650.6 68.8L650.5 68.9L650.5 69L650.4 69.2L650.4 69.3L650.3 69.5L650.3 69.6L650.3 69.8L650.3 69.9L650.4 70.1L650.4 70.2L650.5 70.4L650.6 70.5L650.6 70.7L650.7 70.8L650.8 70.9L651 71L651.1 71.1L651.2 71.1L651.4 71.2L651.5 71.2L651.7 71.3L651.8 71.3L652 71.3L652.1 71.3L652.3 71.2L665.6 67.8Z" fill="#FF00FF" fill-rule="evenodd" clip-path="url(#cR)"/>
<path d="M612.5 74.1h5M615 71.6v5M613.2 72.4l3.5 3.5M613.2 75.9l3.5 -3.5M613.4 73.2h5M615.9 70.7v5M614.1 71.4l3.5 3.5M614.1 74.9l3.5 -3.5M614.8 74.3h5M617.3 71.8v5M615.5 72.6l3.5 3.5M615.5 76.1l3.5 -3.5M612 75.4h5M614.5 72.9v5M612.8 73.6l3.5 3.5M612.8 77.1l3.5 -3.5M613 75.7h5M615.5 73.2v5M613.7 74l3.5 3.5M613.7 77.5l3.5 -3.5M614.4 75.5h5M616.9 73v5M615.1 73.8l3.5 3.5M615.1 77.3l3.5 -3.5M608.7 77.3h5M611.2 74.8v5M609.5 75.6l3.5 3.5M609.5 79.1l3.5 -3.5M611 77.4h5M613.5 74.9v5M611.8 75.7l3.5 3.5M611.8 79.2l3.5 -3.5M612.1 76.3h5M614.6 73.8v5M612.8 74.6l3.5 3.5M612.8 78.1l3.5 -3.5M607.6 78.7h5M610.1 76.2v5M608.4 77l3.5 3.5M608.4 80.5l3.5 -3.5M610.1 77.5h5M612.6 75v5M610.8 75.7l3.5 3.5M610.8 79.2l3.5 -3.5M606.9 80.5h5M609.4 78v5M607.6 78.7l3.5 3.5M607.6 82.2l3.5 -3.5M608.8 80.1h5M611.3 77.6v5M609.6 78.3l3.5 3.5M609.6 81.8l3.5 -3.5M610.7 79.2h5M613.2 76.7v5M611.4 77.5l3.5 3.5M611.4 81l3.5 -3.5M606.8 81.9h5M609.3 79.4v5M607.6 80.2l3.5 3.5M607.6 83.7l3.5 -3.5M604.4 83.2h5M606.9 80.7v5M605.2 81.4l3.5 3.5M605.2 84.9l3.5 -3.5M604.8 82.6h5M607.3 80.1v5M605.5 80.9l3.5 3.5M605.5 84.4l3.5 -3.5M601 84.9h5M603.5 82.4v5M601.8 83.1l3.5 3.5M601.8 86.6l3.5 -3.5M603 83.5h5M605.5 81v5M603.8 81.7l3.5 3.5M603.8 85.2l3.5 -3.5M604.3 83.3h5M606.8 80.8v5M605.1 81.6l3.5 3.5M605.1 85.1l3.5 -3.5M600.9 85.8h5M603.4 83.3v5M601.6 84.1l3.5 3.5M601.6 87.6l3.5 -3.5M602 86.2h5M604.5 83.7v5M602.7 84.5l3.5 3.5M602.7 88l3.5 -3.5M604.1 84.9h5M606.6 82.4v5M604.8 83.1l3.5 3.5M604.8 86.6l3.5 -3.5M599.3 86.5h5M601.8 84v5M600.1 84.8l3.5 3.5M600.1 88.3l3.5 -3.5M600.7 87.2h5M603.2 84.7v5M601.5 85.5l3.5 3.5M601.5 89l3.5 -3.5M602.5 86.2h5M605 83.7v5M603.3 84.4l3.5 3.5M603.3 87.9l3.5 -3.5M596.8 88.5h5M599.3 86v5M597.6 86.7l3.5 3.5M597.6 90.2l3.5 -3.5M599.2 88.1h5M601.7 85.6v5M600 86.4l3.5 3.5M600 89.9l3.5 -3.5M600.8 88.2h5M603.3 85.7v5M601.6 86.4l3.5 3.5M601.6 89.9l3.5 -3.5M594.9 90.1h5M597.4 87.6v5M595.7 88.3l3.5 3.5M595.7 91.8l3.5 -3.5M595.7 89.7h5M598.2 87.2v5M596.4 88l3.5 3.5M596.4 91.5l3.5 -3.5M597.2 90.1h5M599.7 87.6v5M598 88.3l3.5 3.5M598 91.8l3.5 -3.5M598.7 90.7h5M601.2 88.2v5M599.4 88.9l3.5 3.5M599.4 92.4l3.5 -3.5M594.3 91.4h5M596.8 88.9v5M595.1 89.6l3.5 3.5M595.1 93.1l3.5 -3.5M596 91.5h5M598.5 89v5M596.7 89.8l3.5 3.5M596.7 93.3l3.5 -3.5M596.2 91.7h5M598.7 89.2v5M597 90l3.5 3.5M597 93.5l3.5 -3.5M590.8 93.6h5M593.3 91.1v5M591.6 91.8l3.5 3.5M591.6 95.3l3.5 -3.5M592.4 93.2h5M594.9 90.7v5M593.1 91.5l3.5 3.5M593.1 95l3.5 -3.5M593.7 93.5h5M596.2 91v5M594.5 91.8l3.5 3.5M594.5 95.3l3.5 -3.5M595.5 93.2h5M598 90.7v5M596.3 91.5l3.5 3.5M596.3 95l3.5 -3.5M588.7 95h5M591.2 92.5v5M589.4 93.2l3.5 3.5M589.4 96.7l3.5 -3.5M590 94.3h5M592.5 91.8v5M590.8 92.5l3.5 3.5M590.8 96l3.5 -3.5M592.3 93.8h5M594.8 91.3v5M593 92l3.5 3.5M593 95.5l3.5 -3.5M593.3 94.2h5M595.8 91.7v5M594.1 92.5l3.5 3.5M594.1 96l3.5 -3.5M588.2 96.1h5M590.7 93.6v5M588.9 94.3l3.5 3.5M588.9 97.8l3.5 -3.5M589 95.1h5M591.5 92.6v5M589.7 93.3l3.5 3.5M589.7 96.8l3.5 -3.5M590.4 95.9h5M592.9 93.4v5M591.2 94.2l3.5 3.5M591.2 97.7l3.5 -3.5M586.9 97.7h5M589.4 95.2v5M587.7 95.9l3.5 3.5M587.7 99.4l3.5 -3.5M588.8 96.4h5M591.3 93.9v5M589.6 94.6l3.5 3.5M589.6 98.1l3.5 -3.5M590.1 96.5h5M592.6 94v5M590.8 94.7l3.5 3.5M590.8 98.2l3.5 -3.5M587.6 98h5M590.1 95.5v5M588.3 96.2l3.5 3.5M588.3 99.7l3.5 -3.5M586.6 99.4h5M589.1 96.9v5M587.4 97.6l3.5 3.5M587.4 101.1l3.5 -3.5M583.5 102h5M586 99.5v5M584.3 100.3l3.5 3.5M584.3 103.8l3.5 -3.5M585.2 102.2h5M587.7 99.7v5M586 100.4l3.5 3.5M586 103.9l3.5 -3.5M586 100.8h5M588.5 98.3v5M586.7 99l3.5 3.5M586.7 102.5l3.5 -3.5M581.7 102.3h5M584.2 99.8v5M582.5 100.5l3.5 3.5M582.5 104l3.5 -3.5M583.1 102.8h5M585.6 100.3v5M583.8 101.1l3.5 3.5M583.8 104.6l3.5 -3.5M580.4 104.3h5M582.9 101.8v5M581.2 102.5l3.5 3.5M581.2 106l3.5 -3.5M582.2 104.5h5M584.7 102v5M582.9 102.7l3.5 3.5M582.9 106.2l3.5 -3.5M577.7 105.8h5M580.2 103.3v5M578.5 104.1l3.5 3.5M578.5 107.6l3.5 -3.5M579.6 105.1h5M582.1 102.6v5M580.3 103.3l3.5 3.5M580.3 106.8l3.5 -3.5M581.4 105.7h5M583.9 103.2v5M582.1 104l3.5 3.5M582.1 107.5l3.5 -3.5M577.4 107.2h5M579.9 104.7v5M578.2 105.4l3.5 3.5M578.2 108.9l3.5 -3.5M579.7 106.9h5M582.2 104.4v5M580.5 105.2l3.5 3.5M580.5 108.7l3.5 -3.5M575.1 108h5M577.6 105.5v5M575.9 106.3l3.5 3.5M575.9 109.8l3.5 -3.5M577.6 108.4h5M580.1 105.9v5M578.4 106.7l3.5 3.5M578.4 110.2l3.5 -3.5M574.6 110.7h5M577.1 108.2v5M575.4 109l3.5 3.5M575.4 112.5l3.5 -3.5M576.5 109.6h5M579 107.1v5M577.3 107.9l3.5 3.5M577.3 111.4l3.5 -3.5M570.9 112.3h5M573.4 109.8v5M571.7 110.6l3.5 3.5M571.7 114.1l3.5 -3.5M572.1 112.2h5M574.6 109.7v5M572.9 110.4l3.5 3.5M572.9 113.9l3.5 -3.5M572.9 111.4h5M575.4 108.9v5M573.7 109.7l3.5 3.5M573.7 113.2l3.5 -3.5M574.4 112.3h5M576.9 109.8v5M575.1 110.5l3.5 3.5M575.1 114l3.5 -3.5M569.6 113.5h5M572.1 111v5M570.4 111.8l3.5 3.5M570.4 115.3l3.5 -3.5M570.5 112.9h5M573 110.4v5M571.3 111.1l3.5 3.5M571.3 114.6l3.5 -3.5M573.5 113h5M576 110.5v5M574.2 111.2l3.5 3.5M574.2 114.7l3.5 -3.5M574.1 112.4h5M576.6 109.9v5M574.8 110.6l3.5 3.5M574.8 114.1l3.5 -3.5M568.8 114.3h5M571.3 111.8v5M569.5 112.6l3.5 3.5M569.5 116.1l3.5 -3.5M570.6 114.2h5M573.1 111.7v5M571.4 112.5l3.5 3.5M571.4 116l3.5 -3.5M571.3 114.3h5M573.8 111.8v5M572.1 112.5l3.5 3.5M572.1 116l3.5 -3.5M565.8 116.6h5M568.3 114.1v5M566.6 114.9l3.5 3.5M566.6 118.4l3.5 -3.5M567.2 116.2h5M569.7 113.7v5M567.9 114.4l3.5 3.5M567.9 117.9l3.5 -3.5M569.1 116.6h5M571.6 114.1v5M569.9 114.9l3.5 3.5M569.9 118.4l3.5 -3.5M566 117.9h5M568.5 115.4v5M566.8 116.2l3.5 3.5M566.8 119.7l3.5 -3.5M568 117.5h5M570.5 115v5M568.7 115.8l3.5 3.5M568.7 119.3l3.5 -3.5M564.1 119.1h5M566.6 116.6v5M564.9 117.4l3.5 3.5M564.9 120.9l3.5 -3.5M566.5 119.7h5M569 117.2v5M567.2 117.9l3.5 3.5M567.2 121.4l3.5 -3.5M566.9 118.5h5M569.4 116v5M567.7 116.7l3.5 3.5M567.7 120.2l3.5 -3.5M561.7 120.5h5M564.2 118v5M562.5 118.8l3.5 3.5M562.5 122.3l3.5 -3.5M564.2 120.4h5M566.7 117.9v5M565 118.6l3.5 3.5M565 122.1l3.5 -3.5M565.8 119.6h5M568.3 117.1v5M566.5 117.8l3.5 3.5M566.5 121.3l3.5 -3.5M560.8 121.6h5M563.3 119.1v5M561.6 119.8l3.5 3.5M561.6 123.3l3.5 -3.5M563.3 121.3h5M565.8 118.8v5M564 119.6l3.5 3.5M564 123.1l3.5 -3.5M559.4 123.9h5M561.9 121.4v5M560.2 122.2l3.5 3.5M560.2 125.7l3.5 -3.5M561.3 123.3h5M563.8 120.8v5M562 121.6l3.5 3.5M562 125.1l3.5 -3.5M563.1 122.9h5M565.6 120.4v5M563.8 121.1l3.5 3.5M563.8 124.6l3.5 -3.5M559.7 125.3h5M562.2 122.8v5M560.4 123.5l3.5 3.5M560.4 127l3.5 -3.5M560.5 125.5h5M563 123v5M561.2 123.8l3.5 3.5M561.2 127.3l3.5 -3.5M559.2 126.1h5M561.7 123.6v5M560 124.4l3.5 3.5M560 127.9l3.5 -3.5M558.3 128h5M560.8 125.5v5M559 126.3l3.5 3.5M559 129.8l3.5 -3.5M559.2 127.4h5M561.7 124.9v5M560 125.6l3.5 3.5M560 129.1l3.5 -3.5M555.4 129.8h5M557.9 127.3v5M556.2 128.1l3.5 3.5M556.2 131.6l3.5 -3.5M556.1 129.5h5M558.6 127v5M556.8 127.7l3.5 3.5M556.8 131.2l3.5 -3.5M557.9 128.5h5M560.4 126v5M558.7 126.7l3.5 3.5M558.7 130.2l3.5 -3.5M554.7 130.9h5M557.2 128.4v5M555.5 129.2l3.5 3.5M555.5 132.7l3.5 -3.5M555.9 129.8h5M558.4 127.3v5M556.6 128.1l3.5 3.5M556.6 131.6l3.5 -3.5M557.1 129.9h5M559.6 127.4v5M557.8 128.2l3.5 3.5M557.8 131.7l3.5 -3.5M552.5 132.3h5M555 129.8v5M553.3 130.6l3.5 3.5M553.3 134.1l3.5 -3.5M554.2 132.1h5M556.7 129.6v5M555 130.3l3.5 3.5M555 133.8l3.5 -3.5M555.4 132.3h5M557.9 129.8v5M556.1 130.5l3.5 3.5M556.1 134l3.5 -3.5M551.7 133.8h5M554.2 131.3v5M552.4 132l3.5 3.5M552.4 135.5l3.5 -3.5M552.8 133.3h5M555.3 130.8v5M553.5 131.6l3.5 3.5M553.5 135.1l3.5 -3.5M554.3 133h5M556.8 130.5v5M555 131.2l3.5 3.5M555 134.7l3.5 -3.5M550.8 135.5h5M553.3 133v5M551.5 133.7l3.5 3.5M551.5 137.2l3.5 -3.5M552.1 135.2h5M554.6 132.7v5M552.8 133.5l3.5 3.5M552.8 137l3.5 -3.5M549.8 136.5h5M552.3 134v5M550.6 134.8l3.5 3.5M550.6 138.3l3.5 -3.5M550.6 136.5h5M553.1 134v5M551.3 134.8l3.5 3.5M551.3 138.3l3.5 -3.5M551.9 135.6h5M554.4 133.1v5M552.6 133.8l3.5 3.5M552.6 137.3l3.5 -3.5M549.7 138h5M552.2 135.5v5M550.5 136.3l3.5 3.5M550.5 139.8l3.5 -3.5M678.3 42.8h5M680.8 40.3v5M679 41.1l3.5 3.5M679 44.6l3.5 -3.5M672.8 45.5h5M675.3 43v5M673.5 43.8l3.5 3.5M673.5 47.3l3.5 -3.5M666.7 47.2h5M669.2 44.7v5M667.4 45.4l3.5 3.5M667.4 48.9l3.5 -3.5M667.7 46.6h5M670.2 44.1v5M668.4 44.8l3.5 3.5M668.4 48.3l3.5 -3.5M662.2 49.4h5M664.7 46.9v5M663 47.6l3.5 3.5M663 51.1l3.5 -3.5M664.1 48.9h5M666.6 46.4v5M664.8 47.2l3.5 3.5M664.8 50.7l3.5 -3.5M648.6 54.9h5M651.1 52.4v5M649.3 53.1l3.5 3.5M649.3 56.6l3.5 -3.5M645.9 56h5M648.4 53.5v5M646.7 54.2l3.5 3.5M646.7 57.7l3.5 -3.5M647.3 55.5h5M649.8 53v5M648.1 53.8l3.5 3.5M648.1 57.3l3.5 -3.5M645.1 57.2h5M647.6 54.7v5M645.9 55.4l3.5 3.5M645.9 58.9l3.5 -3.5M641.6 72.5h5M644.1 70v5M642.4 70.8l3.5 3.5M642.4 74.3l3.5 -3.5M643.1 72.4h5M645.6 69.9v5M643.9 70.7l3.5 3.5M643.9 74.2l3.5 -3.5M637.5 73.4h5M640 70.9v5M638.2 71.6l3.5 3.5M638.2 75.1l3.5 -3.5M643.9 72.6h5M646.4 70.1v5M644.6 70.9l3.5 3.5M644.6 74.4l3.5 -3.5M660.6 66.4h5M663.1 63.9v5M661.3 64.7l3.5 3.5M661.3 68.2l3.5 -3.5M661.6 66.6h5M664.1 64.1v5M662.4 64.8l3.5 3.5M662.4 68.3l3.5 -3.5M657.2 67.7h5M659.7 65.2v5M658 66l3.5 3.5M658 69.5l3.5 -3.5M657.7 67.6h5M660.2 65.1v5M658.5 65.8l3.5 3.5M658.5 69.3l3.5 -3.5M661.5 66.5h5M664 64v5M662.3 64.8l3.5 3.5M662.3 68.3l3.5 -3.5M649.2 69.6h5M651.7 67.1v5M650 67.8l3.5 3.5M650 71.3l3.5 -3.5M652.8 68.9h5M655.3 66.4v5M653.6 67.2l3.5 3.5M653.6 70.7l3.5 -3.5M654.6 68.6h5M657.1 66.1v5M655.4 66.8l3.5 3.5M655.4 70.3l3.5 -3.5M406.1 218.1h5M408.6 215.6v5M406.9 216.4l3.5 3.5M406.9 219.9l3.5 -3.5M406.1 228h5M408.6 225.5v5M406.9 226.3l3.5 3.5M406.9 229.8l3.5 -3.5M406.1 299.8h5M408.6 297.3v5M406.9 298l3.5 3.5M406.9 301.5l3.5 -3.5M435 273.4h5M437.5 270.9v5M435.7 271.7l3.5 3.5M435.7 275.2l3.5 -3.5M436 271.6h5M438.5 269.1v5M436.7 269.8l3.5 3.5M436.7 273.3l3.5 -3.5M434 274.8h5M436.5 272.3v5M434.8 273.1l3.5 3.5M434.8 276.6l3.5 -3.5M490.8 248.5h5M493.3 246v5M491.6 246.7l3.5 3.5M491.6 250.2l3.5 -3.5M491.9 250.2h5M494.4 247.7v5M492.7 248.4l3.5 3.5M492.7 251.9l3.5 -3.5M480.8 256.5h5M483.3 254v5M481.5 254.8l3.5 3.5M481.5 258.3l3.5 -3.5M482.7 257.5h5M485.2 255v5M483.5 255.8l3.5 3.5M483.5 259.3l3.5 -3.5M486.7 258.2h5M489.2 255.7v5M487.4 256.5l3.5 3.5M487.4 260l3.5 -3.5M496.9 218.8h5M499.4 216.3v5M497.7 217l3.5 3.5M497.7 220.5l3.5 -3.5M497 215.3h5M499.5 212.8v5M497.8 213.5l3.5 3.5M497.8 217l3.5 -3.5M425.3 243.8h5M427.8 241.3v5M426.1 242l3.5 3.5M426.1 245.5l3.5 -3.5M425.3 247.7h5M427.8 245.2v5M426.1 245.9l3.5 3.5M426.1 249.4l3.5 -3.5M509.4 207.9h5M511.9 205.4v5M510.1 206.1l3.5 3.5M510.1 209.6l3.5 -3.5M510.8 206.4h5M513.3 203.9v5M511.6 204.7l3.5 3.5M511.6 208.2l3.5 -3.5M508.4 209.4h5M510.9 206.9v5M509.1 207.6l3.5 3.5M509.1 211.1l3.5 -3.5M537 166.8h5M539.5 164.3v5M537.7 165.1l3.5 3.5M537.7 168.6l3.5 -3.5M544.4 151.7h5M546.9 149.2v5M545.1 149.9l3.5 3.5M545.1 153.4l3.5 -3.5M537 150.4h5M539.5 147.9v5M537.7 148.6l3.5 3.5M537.7 152.1l3.5 -3.5M530.6 159.7h5M533.1 157.2v5M531.3 158l3.5 3.5M531.3 161.5l3.5 -3.5M409.4 290.7h5M411.9 288.2v5M410.1 289l3.5 3.5M410.1 292.5l3.5 -3.5" stroke="#FF00FF" stroke-width="1.0" fill="none" clip-path="url(#cR)"/>
<path d="M664.1 63.3L664.3 63.2L664.4 63.2L664.6 63.1L664.7 63L664.8 62.9L664.9 62.8L665 62.7L665.1 62.5L665.2 62.4L665.2 62.3L665.3 62.1L665.3 62L665.3 61.8L665.3 61.7L665.3 61.5L665.3 61.3L665.2 61.2L665.2 61.1L665.1 60.9L665 60.8L664.9 60.7L664.8 60.6L664.7 60.5L664.5 60.4L664.4 60.3L664.2 60.3L664.1 60.2L663.9 60.2L663.8 60.2L663.6 60.2L663.5 60.2L663.3 60.2L652 63.2L651.8 63.2L651.7 63.3L651.6 63.4L651.4 63.4L651.3 63.5L651.2 63.6L651.1 63.8L651 63.9L651 64L650.9 64.2L650.9 64.3L650.8 64.5L650.8 64.6L650.8 64.8L650.8 64.9L650.9 65.1L650.9 65.2L651 65.4L651 65.5L651.1 65.6L651.2 65.8L651.3 65.9L651.5 66L651.6 66L651.7 66.1L651.9 66.2L652 66.2L652.2 66.3L652.3 66.3L652.5 66.3L652.6 66.2L652.8 66.2L664.1 63.3Z" fill="#0B2A8C" fill-rule="evenodd" clip-path="url(#cR)"/><path d="M452.5 233.6L452.6 233.8L452.7 234L452.8 234.1L452.9 234.2L453.1 234.3L453.2 234.4L453.3 234.5L453.5 234.6L453.7 234.6L453.8 234.7L454 234.7L454.2 234.7L454.4 234.7L454.5 234.7L454.7 234.6L454.9 234.6L455 234.5L455.2 234.4L455.3 234.3L455.4 234.2L455.5 234.1L455.6 233.9L455.7 233.8L455.8 233.6L455.9 233.4L455.9 233.3L455.9 233.1L455.9 232.9L455.9 232.8L455.9 232.6L455.9 232.4L455.8 232.2L452.8 225.4L452.8 225.2L452.7 225.1L452.6 224.9L452.4 224.8L452.3 224.7L452.2 224.6L452 224.5L451.9 224.4L451.7 224.4L451.5 224.3L451.4 224.3L451.2 224.3L451 224.3L450.8 224.3L450.7 224.4L450.5 224.4L450.3 224.5L450.2 224.6L450.1 224.7L449.9 224.8L449.8 225L449.7 225.1L449.6 225.3L449.6 225.4L449.5 225.6L449.5 225.7L449.4 225.9L449.4 226.1L449.4 226.3L449.5 226.4L449.5 226.6L449.6 226.8L452.5 233.6Z" fill="#0B2A8C" fill-rule="evenodd" clip-path="url(#cR)"/><path d="M463.8 225.9L464 225.8L464.1 225.8L464.2 225.7L464.3 225.6L464.5 225.5L464.6 225.5L464.7 225.3L464.8 225.2L464.8 225.1L464.9 225L464.9 224.8L465 224.7L465 224.6L465 224.4L465 224.3L465 224.1L464.9 224L464.9 223.8L464.8 223.7L464.8 223.6L464.7 223.5L464.6 223.4L464.5 223.3L464.4 223.2L464.2 223.1L464.1 223L464 223L463.8 223L463.7 222.9L463.5 222.9L463.4 222.9L463.2 223L451.4 225.2L451.3 225.2L451.1 225.3L451 225.4L450.9 225.4L450.8 225.5L450.7 225.6L450.6 225.7L450.5 225.8L450.4 226L450.3 226.1L450.3 226.2L450.2 226.4L450.2 226.5L450.2 226.7L450.2 226.8L450.2 226.9L450.3 227.1L450.3 227.2L450.4 227.3L450.5 227.5L450.5 227.6L450.6 227.7L450.8 227.8L450.9 227.9L451 228L451.1 228L451.3 228.1L451.4 228.1L451.5 228.1L451.7 228.1L451.8 228.1L452 228.1L463.8 225.9Z" fill="#0B2A8C" fill-rule="evenodd" clip-path="url(#cR)"/><path d="M475.4 253.1L476.6 256.2L478.8 260.4L495.3 260.4L495 245.9L475.4 253.1Z" fill="#0B2A8C" fill-rule="evenodd" clip-path="url(#cR)"/><path d="M429.7 281.2L429.8 281.3L430 281.5L430.2 281.6L430.4 281.7L430.6 281.8L430.8 281.9L431.1 282L431.3 282L431.5 282L431.8 282L432 281.9L432.2 281.9L432.4 281.8L432.6 281.7L432.8 281.6L433 281.4L433.2 281.3L433.3 281.1L433.5 280.9L433.6 280.7L433.7 280.5L433.8 280.3L433.8 280L433.8 279.8L433.8 279.6L433.8 279.4L433.8 279.1L433.7 278.9L433.6 278.7L433.5 278.5L433.4 278.3L433.3 278.1L430.3 274.7L430.2 274.5L430 274.3L429.8 274.2L429.6 274.1L429.4 274L429.2 273.9L428.9 273.9L428.7 273.8L428.5 273.8L428.2 273.9L428 273.9L427.8 274L427.6 274L427.4 274.1L427.2 274.3L427 274.4L426.8 274.6L426.7 274.7L426.5 274.9L426.4 275.1L426.3 275.3L426.2 275.6L426.2 275.8L426.2 276L426.2 276.2L426.2 276.5L426.2 276.7L426.3 276.9L426.4 277.1L426.5 277.4L426.6 277.5L426.7 277.7L429.7 281.2Z" fill="#0B2A8C" fill-rule="evenodd" clip-path="url(#cR)"/><path d="M510.7 191.5L510.8 191.4L510.9 191.3L510.9 191.3L511 191.2L511 191.1L511.1 191L511.1 190.9L511.1 190.8L511.2 190.7L511.2 190.6L511.2 190.5L511.2 190.4L511.3 190.3L511.3 190.2L511.3 190.1L511.3 190L511.3 189.9L511.2 189.8L511.2 189.7L511.2 189.6L511.2 189.5L511.1 189.4L511.1 189.3L511.1 189.2L511 189.1L511 189L510.9 189L510.9 188.9L510.8 188.8L510.7 188.7L510.7 188.7L510.6 188.6L510.5 188.5L510.4 188.4L510.4 188.4L510.3 188.3L510.2 188.3L510.1 188.2L510 188.2L509.9 188.2L509.8 188.1L509.7 188.1L509.6 188.1L509.5 188.1L509.4 188L509.3 188L509.2 188L509.1 188L509 188L508.9 188.1L508.8 188.1L508.7 188.1L508.6 188.1L508.5 188.2L508.4 188.2L508.3 188.2L508.2 188.3L508.1 188.3L508.1 188.4L508 188.4L507.9 188.5L507.8 188.6L507.8 188.6L502.4 193.7L502.3 193.7L502.2 193.8L502.2 193.9L502.1 194L502.1 194L502 194.2L502 194.2L501.9 194.3L501.9 194.4L501.8 194.5L501.8 194.6L501.8 194.7L501.7 194.8L501.7 194.9L501.7 195L501.7 195.1L501.7 195.2L501.7 195.3L501.7 195.4L501.7 195.5L501.7 195.6L501.8 195.7L501.8 195.8L501.8 195.9L501.8 196L501.9 196.1L501.9 196.2L502 196.3L502 196.3L502.1 196.4L502.2 196.5L502.2 196.6L502.3 196.7L502.4 196.7L502.4 196.8L502.5 196.9L502.6 196.9L502.7 197L502.8 197L502.9 197.1L503 197.1L503.1 197.2L503.1 197.2L503.3 197.2L503.3 197.2L503.5 197.3L503.5 197.3L503.7 197.3L503.7 197.3L503.9 197.3L504 197.3L504.1 197.3L504.2 197.2L504.3 197.2L504.4 197.2L504.5 197.2L504.5 197.1L504.7 197.1L504.7 197L504.8 197L504.9 196.9L505 196.9L505.1 196.8L505.2 196.7L505.2 196.7L510.6 191.6L510.6 191.6L510.7 191.5ZM499.2 200.9L499.2 200.8L499.3 200.7L499.3 200.7L499.3 200.6L499.3 200.5L499.3 200.5L499.3 200.4L499.3 200.4L499.3 200.3L499.3 200.3L499.3 200.2L499.3 200.1L499.3 200.1L499.3 200L499.3 199.9L499.3 199.9L499.2 199.8L499.2 199.8L499.2 199.7L499.1 199.7L499.1 199.6L499.1 199.6L499 199.5L499 199.5L498.9 199.4L498.9 199.4L498.8 199.3L498.8 199.3L498.7 199.2L498.7 199.2L498.6 199.2L498.6 199.2L498.5 199.1L498.5 199.1L498.4 199.1L498.4 199.1L498.3 199.1L498.2 199.1L498.2 199L498.1 199L498 199L498 199L497.9 199.1L497.9 199.1L497.8 199.1L497.7 199.1L497.7 199.1L497.6 199.1L497.5 199.2L497.5 199.2L497.4 199.2L497.4 199.2L497.3 199.3L497.3 199.3L497.2 199.3L497.2 199.4L497.1 199.4L497.1 199.5L497 199.5L497 199.6L497 199.6L494.8 202.7L494.8 202.8L494.8 202.8L494.7 202.9L494.7 202.9L494.7 203L494.7 203L494.6 203.1L494.6 203.2L494.6 203.2L494.6 203.3L494.6 203.4L494.6 203.4L494.6 203.5L494.6 203.5L494.6 203.6L494.6 203.7L494.6 203.7L494.6 203.8L494.7 203.9L494.7 203.9L494.7 204L494.7 204L494.8 204.1L494.8 204.1L494.8 204.2L494.9 204.2L494.9 204.3L494.9 204.3L495 204.4L495 204.4L495.1 204.5L495.1 204.5L495.2 204.5L495.2 204.6L495.3 204.6L495.3 204.6L495.4 204.7L495.5 204.7L495.5 204.7L495.6 204.7L495.7 204.7L495.7 204.7L495.8 204.7L495.8 204.7L495.9 204.7L495.9 204.7L496 204.7L496.1 204.7L496.2 204.7L496.2 204.7L496.3 204.7L496.3 204.7L496.4 204.6L496.4 204.6L496.5 204.6L496.5 204.6L496.6 204.5L496.6 204.5L496.7 204.4L496.7 204.4L496.8 204.4L496.8 204.3L496.9 204.3L496.9 204.2L496.9 204.2L499.1 201.1L499.1 201L499.2 201L499.2 200.9L499.2 200.9ZM484.2 210.6L484.3 210.6L484.3 210.5L484.3 210.5L484.3 210.4L484.4 210.4L484.4 210.3L484.4 210.3L484.4 210.2L484.4 210.1L484.4 210.1L484.4 210L484.4 210L484.4 209.9L484.4 209.9L484.4 209.8L484.4 209.8L484.4 209.7L484.4 209.6L484.4 209.6L484.4 209.5L484.3 209.5L484.3 209.4L484.3 209.4L484.3 209.3L484.2 209.3L484.2 209.2L484.1 209.2L484.1 209.1L484.1 209.1L484 209.1L484 209L483.9 209L483.9 209L483.8 208.9L483.8 208.9L483.7 208.9L483.7 208.9L483.6 208.8L483.6 208.8L483.5 208.8L483.4 208.8L483.4 208.8L483.3 208.8L483.3 208.8L483.2 208.8L483.2 208.8L483.1 208.8L483.1 208.8L483 208.8L482.9 208.8L482.9 208.8L482.8 208.9L482.8 208.9L482.7 208.9L482.7 208.9L482.6 209L482.6 209L482.5 209L482.5 209.1L482.4 209.1L482.4 209.1L480.5 211.1L480.4 211.1L480.4 211.1L480.3 211.2L480.3 211.2L480.3 211.3L480.3 211.3L480.2 211.4L480.2 211.4L480.2 211.5L480.2 211.5L480.1 211.6L480.1 211.7L480.1 211.7L480.1 211.8L480.1 211.8L480.1 211.9L480.1 212L480.1 212L480.1 212.1L480.1 212.1L480.1 212.2L480.1 212.2L480.2 212.3L480.2 212.3L480.2 212.4L480.2 212.4L480.3 212.5L480.3 212.5L480.3 212.6L480.3 212.6L480.4 212.7L480.4 212.7L480.5 212.8L480.5 212.8L480.6 212.9L480.6 212.9L480.7 212.9L480.7 212.9L480.8 213L480.8 213L480.9 213L480.9 213L481 213.1L481 213.1L481.1 213.1L481.1 213.1L481.2 213.1L481.2 213.1L481.3 213.1L481.4 213.1L481.4 213.1L481.5 213.1L481.6 213.1L481.6 213.1L481.7 213L481.7 213L481.8 213L481.8 213L481.9 212.9L481.9 212.9L482 212.9L482 212.9L482.1 212.8L482.1 212.8L482.1 212.7L484.1 210.8L484.1 210.8L484.1 210.7L484.2 210.7L484.2 210.6Z" fill="#0B2A8C" fill-rule="evenodd" clip-path="url(#cR)"/><path d="M524.1 175.1L524.2 174.9L524.3 174.8L524.4 174.6L524.4 174.5L524.5 174.3L524.5 174.1L524.5 173.9L524.5 173.8L524.4 173.6L524.4 173.4L524.3 173.3L524.3 173.1L524.2 173L524.1 172.8L523.9 172.7L523.8 172.6L523.7 172.5L523.5 172.4L523.3 172.3L523.2 172.3L523 172.2L522.8 172.2L522.7 172.2L522.5 172.2L522.3 172.3L522.2 172.3L522 172.4L521.8 172.4L521.7 172.5L521.5 172.6L521.4 172.8L521.3 172.9L515.9 179.8L515.8 179.9L515.7 180.1L515.6 180.2L515.6 180.4L515.5 180.6L515.5 180.7L515.5 180.9L515.5 181.1L515.5 181.2L515.6 181.4L515.7 181.6L515.7 181.7L515.8 181.9L515.9 182L516.1 182.1L516.2 182.3L516.3 182.4L516.5 182.4L516.6 182.5L516.8 182.6L517 182.6L517.1 182.6L517.3 182.6L517.5 182.6L517.7 182.6L517.8 182.5L518 182.5L518.1 182.4L518.3 182.3L518.4 182.2L518.6 182.1L518.7 181.9L524.1 175.1Z" fill="#0B2A8C" fill-rule="evenodd" clip-path="url(#cR)"/><path d="M533.9 165.3L534 165.1L534.1 165L534.2 164.8L534.3 164.7L534.3 164.5L534.3 164.3L534.3 164.2L534.3 164L534.3 163.8L534.3 163.6L534.2 163.5L534.1 163.3L534 163.2L533.9 163L533.8 162.9L533.7 162.8L533.6 162.7L533.4 162.6L533.2 162.5L533.1 162.5L532.9 162.4L532.7 162.4L532.6 162.4L532.4 162.4L532.2 162.4L532.1 162.5L531.9 162.5L531.7 162.6L531.6 162.7L531.4 162.8L531.3 162.9L531.2 163L524.3 171.4L524.2 171.5L524.1 171.7L524 171.8L524 172L523.9 172.2L523.9 172.3L523.9 172.5L523.9 172.7L523.9 172.9L524 173L524 173.2L524.1 173.3L524.2 173.5L524.3 173.6L524.4 173.8L524.5 173.9L524.7 174L524.8 174.1L525 174.1L525.1 174.2L525.3 174.2L525.5 174.3L525.7 174.3L525.8 174.3L526 174.2L526.2 174.2L526.3 174.1L526.5 174.1L526.6 174L526.8 173.9L526.9 173.8L527 173.6L533.9 165.3Z" fill="#0B2A8C" fill-rule="evenodd" clip-path="url(#cR)"/><path d="M550.6 162.6L550.7 162.7L550.9 162.7L551 162.8L551.2 162.8L551.3 162.8L551.5 162.8L551.7 162.7L551.8 162.7L551.9 162.6L552.1 162.6L552.2 162.5L552.3 162.4L552.4 162.3L552.5 162.2L552.6 162L552.7 161.9L552.8 161.8L552.8 161.6L552.9 161.5L552.9 161.3L552.9 161.2L552.9 161L552.8 160.9L552.8 160.7L552.7 160.6L552.7 160.4L552.6 160.3L552.5 160.2L552.4 160.1L552.3 160L552.1 159.9L552 159.8L546.1 156.9L546 156.8L545.8 156.7L545.7 156.7L545.5 156.7L545.3 156.7L545.2 156.7L545 156.7L544.9 156.8L544.7 156.8L544.6 156.9L544.5 157L544.4 157.1L544.2 157.2L544.1 157.3L544.1 157.4L544 157.6L543.9 157.7L543.9 157.8L543.8 158L543.8 158.1L543.8 158.3L543.8 158.5L543.8 158.6L543.9 158.8L543.9 158.9L544 159L544.1 159.2L544.2 159.3L544.3 159.4L544.4 159.5L544.5 159.6L544.7 159.7L550.6 162.6Z" fill="#0B2A8C" fill-rule="evenodd" clip-path="url(#cR)"/>
<path d="M602.4 90.6h5M604.9 88.1v5M603.2 88.8l3.5 3.5M603.2 92.3l3.5 -3.5M598.2 92.4h5M600.7 89.9v5M599 90.6l3.5 3.5M599 94.1l3.5 -3.5M602.5 92.2h5M605 89.7v5M603.2 90.5l3.5 3.5M603.2 94l3.5 -3.5M602.1 93.9h5M604.6 91.4v5M602.9 92.1l3.5 3.5M602.9 95.6l3.5 -3.5M602.3 95h5M604.8 92.5v5M603 93.2l3.5 3.5M603 96.7l3.5 -3.5M594.1 95.7h5M596.6 93.2v5M594.8 94l3.5 3.5M594.8 97.5l3.5 -3.5M591.5 99h5M594 96.5v5M592.3 97.3l3.5 3.5M592.3 100.8l3.5 -3.5M587.9 102.2h5M590.4 99.7v5M588.7 100.4l3.5 3.5M588.7 103.9l3.5 -3.5M599.9 101h5M602.4 98.5v5M600.6 99.2l3.5 3.5M600.6 102.7l3.5 -3.5M584.4 105h5M586.9 102.5v5M585.1 103.3l3.5 3.5M585.1 106.8l3.5 -3.5M583.5 106.4h5M586 103.9v5M584.2 104.7l3.5 3.5M584.2 108.2l3.5 -3.5M595.5 106.7h5M598 104.2v5M596.3 104.9l3.5 3.5M596.3 108.4l3.5 -3.5M580.9 108.5h5M583.4 106v5M581.6 106.8l3.5 3.5M581.6 110.3l3.5 -3.5M592.6 109.1h5M595.1 106.6v5M593.4 107.3l3.5 3.5M593.4 110.8l3.5 -3.5M579.1 110.3h5M581.6 107.8v5M579.8 108.5l3.5 3.5M579.8 112l3.5 -3.5M588.6 111.6h5M591.1 109.1v5M589.3 109.9l3.5 3.5M589.3 113.4l3.5 -3.5M591.3 110.5h5M593.8 108v5M592 108.7l3.5 3.5M592 112.2l3.5 -3.5M576.2 112.6h5M578.7 110.1v5M577 110.9l3.5 3.5M577 114.4l3.5 -3.5M587.7 113.7h5M590.2 111.2v5M588.5 112l3.5 3.5M588.5 115.5l3.5 -3.5M574.3 114.5h5M576.8 112v5M575.1 112.8l3.5 3.5M575.1 116.3l3.5 -3.5M579 115.6h5M581.5 113.1v5M579.8 113.9l3.5 3.5M579.8 117.4l3.5 -3.5M587.8 114h5M590.3 111.5v5M588.6 112.3l3.5 3.5M588.6 115.8l3.5 -3.5M572.3 115.8h5M574.8 113.3v5M573.1 114.1l3.5 3.5M573.1 117.6l3.5 -3.5M570.5 118.4h5M573 115.9v5M571.3 116.6l3.5 3.5M571.3 120.1l3.5 -3.5M569.7 119.3h5M572.2 116.8v5M570.5 117.6l3.5 3.5M570.5 121.1l3.5 -3.5M568.7 121.6h5M571.2 119.1v5M569.5 119.9l3.5 3.5M569.5 123.4l3.5 -3.5M565 124.8h5M567.5 122.3v5M565.8 123l3.5 3.5M565.8 126.5l3.5 -3.5M576 124.2h5M578.5 121.7v5M576.8 122.4l3.5 3.5M576.8 125.9l3.5 -3.5M577.5 123.6h5M580 121.1v5M578.3 121.9l3.5 3.5M578.3 125.4l3.5 -3.5M560.8 128.5h5M563.3 126v5M561.5 126.7l3.5 3.5M561.5 130.2l3.5 -3.5M561 129h5M563.5 126.5v5M561.8 127.3l3.5 3.5M561.8 130.8l3.5 -3.5M557.5 131.4h5M560 128.9v5M558.2 129.7l3.5 3.5M558.2 133.2l3.5 -3.5M559 130.9h5M561.5 128.4v5M559.7 129.2l3.5 3.5M559.7 132.7l3.5 -3.5M562.2 136.1h5M564.7 133.6v5M562.9 134.4l3.5 3.5M562.9 137.9l3.5 -3.5M550.5 140.2h5M553 137.7v5M551.3 138.5l3.5 3.5M551.3 142l3.5 -3.5M552.6 138.4h5M555.1 135.9v5M553.3 136.7l3.5 3.5M553.3 140.2l3.5 -3.5M548.1 142.1h5M550.6 139.6v5M548.9 140.3l3.5 3.5M548.9 143.8l3.5 -3.5M545.4 144.3h5M547.9 141.8v5M546.2 142.6l3.5 3.5M546.2 146.1l3.5 -3.5M551.9 147.5h5M554.4 145v5M552.6 145.8l3.5 3.5M552.6 149.3l3.5 -3.5M556.4 146.7h5M558.9 144.2v5M557.1 145l3.5 3.5M557.1 148.5l3.5 -3.5M554.5 149.1h5M557 146.6v5M555.3 147.3l3.5 3.5M555.3 150.8l3.5 -3.5M540.8 151.2h5M543.3 148.7v5M541.6 149.4l3.5 3.5M541.6 152.9l3.5 -3.5M547 151.4h5M549.5 148.9v5M547.7 149.6l3.5 3.5M547.7 153.1l3.5 -3.5M550.1 150.8h5M552.6 148.3v5M550.8 149.1l3.5 3.5M550.8 152.6l3.5 -3.5M537.7 152.8h5M540.2 150.3v5M538.4 151.1l3.5 3.5M538.4 154.6l3.5 -3.5M535.4 155.1h5M537.9 152.6v5M536.2 153.3l3.5 3.5M536.2 156.8l3.5 -3.5M534.9 156.3h5M537.4 153.8v5M535.7 154.5l3.5 3.5M535.7 158l3.5 -3.5M541 158.3h5M543.5 155.8v5M541.7 156.6l3.5 3.5M541.7 160.1l3.5 -3.5M531.7 161.1h5M534.2 158.6v5M532.4 159.4l3.5 3.5M532.4 162.9l3.5 -3.5M540.4 164.2h5M542.9 161.7v5M541.1 162.5l3.5 3.5M541.1 166l3.5 -3.5M527.5 165.1h5M530 162.6v5M528.2 163.4l3.5 3.5M528.2 166.9l3.5 -3.5M522.6 168.4h5M525.1 165.9v5M523.4 166.7l3.5 3.5M523.4 170.2l3.5 -3.5M523.6 167.8h5M526.1 165.3v5M524.3 166.1l3.5 3.5M524.3 169.6l3.5 -3.5M525.5 166.6h5M528 164.1v5M526.2 164.8l3.5 3.5M526.2 168.3l3.5 -3.5M532.6 173.6h5M535.1 171.1v5M533.4 171.9l3.5 3.5M533.4 175.4l3.5 -3.5M521.2 177.1h5M523.7 174.6v5M522 175.4l3.5 3.5M522 178.9l3.5 -3.5M525.4 176.2h5M527.9 173.7v5M526.2 174.4l3.5 3.5M526.2 177.9l3.5 -3.5M527.5 177.2h5M530 174.7v5M528.3 175.5l3.5 3.5M528.3 179l3.5 -3.5M529.9 176.2h5M532.4 173.7v5M530.7 174.4l3.5 3.5M530.7 177.9l3.5 -3.5M523.9 181.1h5M526.4 178.6v5M524.7 179.4l3.5 3.5M524.7 182.9l3.5 -3.5M508.2 182.9h5M510.7 180.4v5M509 181.2l3.5 3.5M509 184.7l3.5 -3.5M513.9 182.3h5M516.4 179.8v5M514.7 180.6l3.5 3.5M514.7 184.1l3.5 -3.5M502.2 184h5M504.7 181.5v5M503 182.2l3.5 3.5M503 185.7l3.5 -3.5M502.5 183.4h5M505 180.9v5M503.2 181.6l3.5 3.5M503.2 185.1l3.5 -3.5M511.2 184.1h5M513.7 181.6v5M512 182.4l3.5 3.5M512 185.9l3.5 -3.5M521.3 183.8h5M523.8 181.3v5M522 182l3.5 3.5M522 185.5l3.5 -3.5M501.4 185.7h5M503.9 183.2v5M502.2 183.9l3.5 3.5M502.2 187.4l3.5 -3.5M510 187h5M512.5 184.5v5M510.8 185.3l3.5 3.5M510.8 188.8l3.5 -3.5M517.9 188.1h5M520.4 185.6v5M518.6 186.3l3.5 3.5M518.6 189.8l3.5 -3.5M517.1 189.1h5M519.6 186.6v5M517.8 187.4l3.5 3.5M517.8 190.9l3.5 -3.5M496.6 191.3h5M499.1 188.8v5M497.4 189.6l3.5 3.5M497.4 193.1l3.5 -3.5M506.3 191.3h5M508.8 188.8v5M507 189.5l3.5 3.5M507 193l3.5 -3.5M495.2 197h5M497.7 194.5v5M496 195.2l3.5 3.5M496 198.7l3.5 -3.5M502.2 197.8h5M504.7 195.3v5M502.9 196l3.5 3.5M502.9 199.5l3.5 -3.5M493.6 198.9h5M496.1 196.4v5M494.4 197.1l3.5 3.5M494.4 200.6l3.5 -3.5M507.2 198.7h5M509.7 196.2v5M508 196.9l3.5 3.5M508 200.4l3.5 -3.5M509.2 198.7h5M511.7 196.2v5M509.9 197l3.5 3.5M509.9 200.5l3.5 -3.5M485.8 204.1h5M488.3 201.6v5M486.6 202.4l3.5 3.5M486.6 205.9l3.5 -3.5M488.4 203.7h5M490.9 201.2v5M489.2 201.9l3.5 3.5M489.2 205.4l3.5 -3.5M508 202.7h5M510.5 200.2v5M508.7 200.9l3.5 3.5M508.7 204.4l3.5 -3.5M477.7 212h5M480.2 209.5v5M478.5 210.3l3.5 3.5M478.5 213.8l3.5 -3.5M484.8 213h5M487.3 210.5v5M485.5 211.2l3.5 3.5M485.5 214.7l3.5 -3.5M486.5 215.4h5M489 212.9v5M487.3 213.6l3.5 3.5M487.3 217.1l3.5 -3.5M475.4 218.1h5M477.9 215.6v5M476.2 216.3l3.5 3.5M476.2 219.8l3.5 -3.5M482.9 218.8h5M485.4 216.3v5M483.7 217.1l3.5 3.5M483.7 220.6l3.5 -3.5M493.1 217.6h5M495.6 215.1v5M493.8 215.8l3.5 3.5M493.8 219.3l3.5 -3.5M464.2 219.1h5M466.7 216.6v5M464.9 217.3l3.5 3.5M464.9 220.8l3.5 -3.5M458.6 222.2h5M461.1 219.7v5M459.3 220.5l3.5 3.5M459.3 224l3.5 -3.5M455.9 224h5M458.4 221.5v5M456.6 222.2l3.5 3.5M456.6 225.7l3.5 -3.5M456.3 224.8h5M458.8 222.3v5M457.1 223l3.5 3.5M457.1 226.5l3.5 -3.5M475.8 226.2h5M478.3 223.7v5M476.5 224.4l3.5 3.5M476.5 227.9l3.5 -3.5M481.7 224.8h5M484.2 222.3v5M482.4 223.1l3.5 3.5M482.4 226.6l3.5 -3.5M464.6 226.8h5M467.1 224.3v5M465.3 225l3.5 3.5M465.3 228.5l3.5 -3.5M454.1 228.8h5M456.6 226.3v5M454.8 227l3.5 3.5M454.8 230.5l3.5 -3.5M482.9 230.7h5M485.4 228.2v5M483.6 228.9l3.5 3.5M483.6 232.4l3.5 -3.5M490.7 231.5h5M493.2 229v5M491.4 229.7l3.5 3.5M491.4 233.2l3.5 -3.5M465.4 232.2h5M467.9 229.7v5M466.2 230.5l3.5 3.5M466.2 234l3.5 -3.5M491.3 232.7h5M493.8 230.2v5M492.1 231l3.5 3.5M492.1 234.5l3.5 -3.5M483.1 235.9h5M485.6 233.4v5M483.8 234.2l3.5 3.5M483.8 237.7l3.5 -3.5M455.8 235.9h5M458.3 233.4v5M456.6 234.2l3.5 3.5M456.6 237.7l3.5 -3.5M464.2 236.6h5M466.7 234.1v5M465 234.9l3.5 3.5M465 238.4l3.5 -3.5M482.4 237.6h5M484.9 235.1v5M483.1 235.8l3.5 3.5M483.1 239.3l3.5 -3.5M441.3 239.6h5M443.8 237.1v5M442.1 237.8l3.5 3.5M442.1 241.3l3.5 -3.5M443.9 238.2h5M446.4 235.7v5M444.6 236.5l3.5 3.5M444.6 240l3.5 -3.5M473.5 239.9h5M476 237.4v5M474.3 238.2l3.5 3.5M474.3 241.7l3.5 -3.5M479.2 239.5h5M481.7 237v5M479.9 237.8l3.5 3.5M479.9 241.3l3.5 -3.5M480.9 237.8h5M483.4 235.3v5M481.7 236.1l3.5 3.5M481.7 239.6l3.5 -3.5M490.1 238.4h5M492.6 235.9v5M490.8 236.6l3.5 3.5M490.8 240.1l3.5 -3.5M437 240.2h5M439.5 237.7v5M437.7 238.4l3.5 3.5M437.7 241.9l3.5 -3.5M463.8 240.1h5M466.3 237.6v5M464.6 238.3l3.5 3.5M464.6 241.8l3.5 -3.5M469.2 240.1h5M471.7 237.6v5M470 238.4l3.5 3.5M470 241.9l3.5 -3.5M472.9 241.1h5M475.4 238.6v5M473.7 239.3l3.5 3.5M473.7 242.8l3.5 -3.5M428.9 242.6h5M431.4 240.1v5M429.6 240.9l3.5 3.5M429.6 244.4l3.5 -3.5M443.5 243.6h5M446 241.1v5M444.2 241.9l3.5 3.5M444.2 245.4l3.5 -3.5M450.1 241.8h5M452.6 239.3v5M450.9 240.1l3.5 3.5M450.9 243.6l3.5 -3.5M486 241.9h5M488.5 239.4v5M486.8 240.1l3.5 3.5M486.8 243.6l3.5 -3.5M490.8 242.4h5M493.3 239.9v5M491.5 240.7l3.5 3.5M491.5 244.2l3.5 -3.5M426.7 244.9h5M429.2 242.4v5M427.5 243.1l3.5 3.5M427.5 246.6l3.5 -3.5M491.1 244.3h5M493.6 241.8v5M491.9 242.6l3.5 3.5M491.9 246.1l3.5 -3.5M432 248.5h5M434.5 246v5M432.8 246.7l3.5 3.5M432.8 250.2l3.5 -3.5M446.6 249.2h5M449.1 246.7v5M447.4 247.5l3.5 3.5M447.4 251l3.5 -3.5M457.8 248.9h5M460.3 246.4v5M458.5 247.2l3.5 3.5M458.5 250.7l3.5 -3.5M487.5 248.4h5M490 245.9v5M488.3 246.7l3.5 3.5M488.3 250.2l3.5 -3.5M427.6 250.6h5M430.1 248.1v5M428.4 248.9l3.5 3.5M428.4 252.4l3.5 -3.5M451.9 251h5M454.4 248.5v5M452.7 249.2l3.5 3.5M452.7 252.7l3.5 -3.5M453.7 250.3h5M456.2 247.8v5M454.5 248.5l3.5 3.5M454.5 252l3.5 -3.5M456.8 249.1h5M459.3 246.6v5M457.6 247.4l3.5 3.5M457.6 250.9l3.5 -3.5M483.2 250.4h5M485.7 247.9v5M483.9 248.7l3.5 3.5M483.9 252.2l3.5 -3.5M427.2 252.7h5M429.7 250.2v5M428 251l3.5 3.5M428 254.5l3.5 -3.5M435.2 251.9h5M437.7 249.4v5M436 250.1l3.5 3.5M436 253.6l3.5 -3.5M454.5 252.4h5M457 249.9v5M455.3 250.6l3.5 3.5M455.3 254.1l3.5 -3.5M470.3 252.6h5M472.8 250.1v5M471.1 250.9l3.5 3.5M471.1 254.4l3.5 -3.5M476.3 252.9h5M478.8 250.4v5M477.1 251.1l3.5 3.5M477.1 254.6l3.5 -3.5M455.3 253.4h5M457.8 250.9v5M456.1 251.7l3.5 3.5M456.1 255.2l3.5 -3.5M469.6 254.7h5M472.1 252.2v5M470.4 253l3.5 3.5M470.4 256.5l3.5 -3.5M478.3 254.1h5M480.8 251.6v5M479 252.3l3.5 3.5M479 255.8l3.5 -3.5M427.1 256.7h5M429.6 254.2v5M427.9 254.9l3.5 3.5M427.9 258.4l3.5 -3.5M441.2 254.9h5M443.7 252.4v5M442 253.1l3.5 3.5M442 256.6l3.5 -3.5M461.3 256.5h5M463.8 254v5M462.1 254.7l3.5 3.5M462.1 258.2l3.5 -3.5M464.9 256.2h5M467.4 253.7v5M465.7 254.4l3.5 3.5M465.7 257.9l3.5 -3.5M467.8 256.2h5M470.3 253.7v5M468.6 254.5l3.5 3.5M468.6 258l3.5 -3.5M437.7 257.8h5M440.2 255.3v5M438.5 256.1l3.5 3.5M438.5 259.6l3.5 -3.5M445.7 256.9h5M448.2 254.4v5M446.4 255.2l3.5 3.5M446.4 258.7l3.5 -3.5M455 257.7h5M457.5 255.2v5M455.8 256l3.5 3.5M455.8 259.5l3.5 -3.5M441.3 259.3h5M443.8 256.8v5M442.1 257.6l3.5 3.5M442.1 261.1l3.5 -3.5M437.2 261.6h5M439.7 259.1v5M437.9 259.8l3.5 3.5M437.9 263.3l3.5 -3.5M448.1 262.1h5M450.6 259.6v5M448.9 260.3l3.5 3.5M448.9 263.8l3.5 -3.5M446.2 262.7h5M448.7 260.2v5M447 261l3.5 3.5M447 264.5l3.5 -3.5M445 264.7h5M447.5 262.2v5M445.8 263l3.5 3.5M445.8 266.5l3.5 -3.5M427.2 266h5M429.7 263.5v5M427.9 264.3l3.5 3.5M427.9 267.8l3.5 -3.5M440.2 266.4h5M442.7 263.9v5M440.9 264.7l3.5 3.5M440.9 268.2l3.5 -3.5M434.2 269.7h5M436.7 267.2v5M434.9 268l3.5 3.5M434.9 271.5l3.5 -3.5M426.7 272.7h5M429.2 270.2v5M427.5 271l3.5 3.5M427.5 274.5l3.5 -3.5M432.6 272.7h5M435.1 270.2v5M433.4 270.9l3.5 3.5M433.4 274.4l3.5 -3.5M427.7 273.6h5M430.2 271.1v5M428.5 271.9l3.5 3.5M428.5 275.4l3.5 -3.5M429.1 276.5h5M431.6 274v5M429.8 274.8l3.5 3.5M429.8 278.3l3.5 -3.5" stroke="#0B2A8C" stroke-width="1.0" fill="none" clip-path="url(#cR)"/>
<path d="M657.2 63h5M659.7 60.5v5M658 61.3l3.5 3.5M658 64.8l3.5 -3.5M649.6 64.9h5M652.1 62.4v5M650.3 63.1l3.5 3.5M650.3 66.6l3.5 -3.5M653.3 63.8h5M655.8 61.3v5M654.1 62.1l3.5 3.5M654.1 65.6l3.5 -3.5M448.9 226.2h5M451.4 223.7v5M449.6 224.5l3.5 3.5M449.6 228l3.5 -3.5M451.1 230.5h5M453.6 228v5M451.8 228.7l3.5 3.5M451.8 232.2l3.5 -3.5M451.5 231.3h5M454 228.8v5M452.3 229.5l3.5 3.5M452.3 233l3.5 -3.5M451.3 232.8h5M453.8 230.3v5M452 231l3.5 3.5M452 234.5l3.5 -3.5M460.5 224.5h5M463 222v5M461.3 222.7l3.5 3.5M461.3 226.2l3.5 -3.5M451 226.3h5M453.5 223.8v5M451.8 224.6l3.5 3.5M451.8 228.1l3.5 -3.5M453.5 225.7h5M456 223.2v5M454.2 224l3.5 3.5M454.2 227.5l3.5 -3.5M457.7 225.2h5M460.2 222.7v5M458.4 223.4l3.5 3.5M458.4 226.9l3.5 -3.5M459.8 224.8h5M462.3 222.3v5M460.6 223.1l3.5 3.5M460.6 226.6l3.5 -3.5M489.1 248.4h5M491.6 245.9v5M489.8 246.7l3.5 3.5M489.8 250.2l3.5 -3.5M491.2 249.1h5M493.7 246.6v5M491.9 247.3l3.5 3.5M491.9 250.8l3.5 -3.5M483.2 250.8h5M485.7 248.3v5M483.9 249.1l3.5 3.5M483.9 252.6l3.5 -3.5M485.2 251.3h5M487.7 248.8v5M486 249.5l3.5 3.5M486 253l3.5 -3.5M485.5 250.9h5M488 248.4v5M486.3 249.2l3.5 3.5M486.3 252.7l3.5 -3.5M487.1 250.1h5M489.6 247.6v5M487.9 248.4l3.5 3.5M487.9 251.9l3.5 -3.5M489.3 251h5M491.8 248.5v5M490.1 249.3l3.5 3.5M490.1 252.8l3.5 -3.5M491.3 250.8h5M493.8 248.3v5M492 249.1l3.5 3.5M492 252.6l3.5 -3.5M479.3 252.4h5M481.8 249.9v5M480.1 250.7l3.5 3.5M480.1 254.2l3.5 -3.5M480.8 251.5h5M483.3 249v5M481.5 249.7l3.5 3.5M481.5 253.2l3.5 -3.5M481.8 252.3h5M484.3 249.8v5M482.6 250.5l3.5 3.5M482.6 254l3.5 -3.5M483.3 252.2h5M485.8 249.7v5M484 250.4l3.5 3.5M484 253.9l3.5 -3.5M484.8 251.2h5M487.3 248.7v5M485.6 249.4l3.5 3.5M485.6 252.9l3.5 -3.5M487.3 251.5h5M489.8 249v5M488 249.7l3.5 3.5M488 253.2l3.5 -3.5M488.4 251.7h5M490.9 249.2v5M489.2 250l3.5 3.5M489.2 253.5l3.5 -3.5M490.8 251.7h5M493.3 249.2v5M491.5 250l3.5 3.5M491.5 253.5l3.5 -3.5M476 253.8h5M478.5 251.3v5M476.7 252.1l3.5 3.5M476.7 255.6l3.5 -3.5M477.7 252.9h5M480.2 250.4v5M478.4 251.2l3.5 3.5M478.4 254.7l3.5 -3.5M479.6 252.7h5M482.1 250.2v5M480.3 250.9l3.5 3.5M480.3 254.4l3.5 -3.5M480.6 253.2h5M483.1 250.7v5M481.4 251.5l3.5 3.5M481.4 255l3.5 -3.5M482.7 253h5M485.2 250.5v5M483.5 251.3l3.5 3.5M483.5 254.8l3.5 -3.5M484 253.1h5M486.5 250.6v5M484.8 251.4l3.5 3.5M484.8 254.9l3.5 -3.5M485.9 253.2h5M488.4 250.7v5M486.7 251.5l3.5 3.5M486.7 255l3.5 -3.5M488.3 252.8h5M490.8 250.3v5M489.1 251l3.5 3.5M489.1 254.5l3.5 -3.5M489.9 252.6h5M492.4 250.1v5M490.7 250.8l3.5 3.5M490.7 254.3l3.5 -3.5M491 252.8h5M493.5 250.3v5M491.8 251.1l3.5 3.5M491.8 254.6l3.5 -3.5M475 255.1h5M477.5 252.6v5M475.7 253.4l3.5 3.5M475.7 256.9l3.5 -3.5M477 254h5M479.5 251.5v5M477.8 252.3l3.5 3.5M477.8 255.8l3.5 -3.5M478.8 254.4h5M481.3 251.9v5M479.5 252.6l3.5 3.5M479.5 256.1l3.5 -3.5M479.8 254.9h5M482.3 252.4v5M480.5 253.1l3.5 3.5M480.5 256.6l3.5 -3.5M482.2 254.9h5M484.7 252.4v5M482.9 253.1l3.5 3.5M482.9 256.6l3.5 -3.5M483.9 255.6h5M486.4 253.1v5M484.6 253.8l3.5 3.5M484.6 257.3l3.5 -3.5M485.5 255.4h5M488 252.9v5M486.3 253.7l3.5 3.5M486.3 257.2l3.5 -3.5M486.6 254.4h5M489.1 251.9v5M487.4 252.7l3.5 3.5M487.4 256.2l3.5 -3.5M488.5 255.5h5M491 253v5M489.3 253.8l3.5 3.5M489.3 257.3l3.5 -3.5M490.1 255.2h5M492.6 252.7v5M490.9 253.4l3.5 3.5M490.9 256.9l3.5 -3.5M476.2 255.7h5M478.7 253.2v5M477 253.9l3.5 3.5M477 257.4l3.5 -3.5M478 256.3h5M480.5 253.8v5M478.8 254.6l3.5 3.5M478.8 258.1l3.5 -3.5M478.8 256.1h5M481.3 253.6v5M479.5 254.3l3.5 3.5M479.5 257.8l3.5 -3.5M481.8 255.6h5M484.3 253.1v5M482.5 253.9l3.5 3.5M482.5 257.4l3.5 -3.5M482.2 256.9h5M484.7 254.4v5M483 255.2l3.5 3.5M483 258.7l3.5 -3.5M484.8 256.2h5M487.3 253.7v5M485.5 254.4l3.5 3.5M485.5 257.9l3.5 -3.5M485.5 257.1h5M488 254.6v5M486.3 255.3l3.5 3.5M486.3 258.8l3.5 -3.5M487.5 255.5h5M490 253v5M488.3 253.7l3.5 3.5M488.3 257.2l3.5 -3.5M488.8 256.7h5M491.3 254.2v5M489.5 255l3.5 3.5M489.5 258.5l3.5 -3.5M491.2 256h5M493.7 253.5v5M492 254.2l3.5 3.5M492 257.7l3.5 -3.5M476.9 257.4h5M479.4 254.9v5M477.6 255.7l3.5 3.5M477.6 259.2l3.5 -3.5M479 257.2h5M481.5 254.7v5M479.7 255.4l3.5 3.5M479.7 258.9l3.5 -3.5M480.8 257h5M483.3 254.5v5M481.5 255.3l3.5 3.5M481.5 258.8l3.5 -3.5M481.2 257.3h5M483.7 254.8v5M482 255.6l3.5 3.5M482 259.1l3.5 -3.5M483.5 258.2h5M486 255.7v5M484.2 256.5l3.5 3.5M484.2 260l3.5 -3.5M485.2 257.2h5M487.7 254.7v5M486 255.4l3.5 3.5M486 258.9l3.5 -3.5M487.7 257.9h5M490.2 255.4v5M488.4 256.1l3.5 3.5M488.4 259.6l3.5 -3.5M489.2 257.4h5M491.7 254.9v5M489.9 255.7l3.5 3.5M489.9 259.2l3.5 -3.5M489.9 257.5h5M492.4 255v5M490.6 255.8l3.5 3.5M490.6 259.3l3.5 -3.5M477.6 258.8h5M480.1 256.3v5M478.3 257.1l3.5 3.5M478.3 260.6l3.5 -3.5M480.1 258.6h5M482.6 256.1v5M480.9 256.8l3.5 3.5M480.9 260.3l3.5 -3.5M484.7 259.2h5M487.2 256.7v5M485.5 257.4l3.5 3.5M485.5 260.9l3.5 -3.5M488.6 259h5M491.1 256.5v5M489.4 257.3l3.5 3.5M489.4 260.8l3.5 -3.5M426.6 275.3h5M429.1 272.8v5M427.4 273.6l3.5 3.5M427.4 277.1l3.5 -3.5M426.3 277.2h5M428.8 274.7v5M427.1 275.5l3.5 3.5M427.1 279l3.5 -3.5M426.8 277.2h5M429.3 274.7v5M427.5 275.5l3.5 3.5M427.5 279l3.5 -3.5M427 277.2h5M429.5 274.7v5M427.7 275.4l3.5 3.5M427.7 278.9l3.5 -3.5M428.4 277.7h5M430.9 275.2v5M429.2 275.9l3.5 3.5M429.2 279.4l3.5 -3.5M426.9 278.8h5M429.4 276.3v5M427.7 277.1l3.5 3.5M427.7 280.6l3.5 -3.5M428.5 278.6h5M431 276.1v5M429.2 276.9l3.5 3.5M429.2 280.4l3.5 -3.5M505.7 190h5M508.2 187.5v5M506.5 188.3l3.5 3.5M506.5 191.8l3.5 -3.5M503.9 192.8h5M506.4 190.3v5M504.7 191.1l3.5 3.5M504.7 194.6l3.5 -3.5M505.8 191.6h5M508.3 189.1v5M506.5 189.9l3.5 3.5M506.5 193.4l3.5 -3.5M502.1 193.8h5M504.6 191.3v5M502.9 192l3.5 3.5M502.9 195.5l3.5 -3.5M503.2 194.4h5M505.7 191.9v5M503.9 192.6l3.5 3.5M503.9 196.1l3.5 -3.5M501.3 194.6h5M503.8 192.1v5M502.1 192.8l3.5 3.5M502.1 196.3l3.5 -3.5M503 194.4h5M505.5 191.9v5M503.7 192.6l3.5 3.5M503.7 196.1l3.5 -3.5M519.2 174.9h5M521.7 172.4v5M520 173.2l3.5 3.5M520 176.7l3.5 -3.5M518.2 175.6h5M520.7 173.1v5M519 173.8l3.5 3.5M519 177.3l3.5 -3.5M514.3 180.7h5M516.8 178.2v5M515.1 179l3.5 3.5M515.1 182.5l3.5 -3.5M528.6 166h5M531.1 163.5v5M529.3 164.2l3.5 3.5M529.3 167.7l3.5 -3.5M526.1 168.6h5M528.6 166.1v5M526.8 166.9l3.5 3.5M526.8 170.4l3.5 -3.5M524.2 170.7h5M526.7 168.2v5M524.9 169l3.5 3.5M524.9 172.5l3.5 -3.5M524.5 171.1h5M527 168.6v5M525.2 169.3l3.5 3.5M525.2 172.8l3.5 -3.5M543.5 158.7h5M546 156.2v5M544.3 156.9l3.5 3.5M544.3 160.4l3.5 -3.5M546.5 160.2h5M549 157.7v5M547.2 158.5l3.5 3.5M547.2 162l3.5 -3.5M554.2 131.2h5M556.7 128.7v5M555 129.5l3.5 3.5M555 133l3.5 -3.5M562.6 121.4h5M565.1 118.9v5M563.4 119.7l3.5 3.5M563.4 123.2l3.5 -3.5M568.5 116h5M571 113.5v5M569.3 114.2l3.5 3.5M569.3 117.7l3.5 -3.5M574.9 109.6h5M577.4 107.1v5M575.7 107.9l3.5 3.5M575.7 111.4l3.5 -3.5M582.3 103.2h5M584.8 100.7v5M583.1 101.5l3.5 3.5M583.1 105l3.5 -3.5M591.2 95.8h5M593.7 93.3v5M592 94.1l3.5 3.5M592 97.6l3.5 -3.5M406.1 307.4h5M408.6 304.9v5M406.9 305.6l3.5 3.5M406.9 309.1l3.5 -3.5M455.1 266h5M457.6 263.5v5M455.9 264.2l3.5 3.5M455.9 267.7l3.5 -3.5M457.7 265.6h5M460.2 263.1v5M458.4 263.8l3.5 3.5M458.4 267.3l3.5 -3.5M456.3 264.2h5M458.8 261.7v5M457 262.5l3.5 3.5M457 266l3.5 -3.5M568.7 137.2h5M571.2 134.7v5M569.5 135.5l3.5 3.5M569.5 139l3.5 -3.5M570.5 136.4h5M573 133.9v5M571.3 134.7l3.5 3.5M571.3 138.2l3.5 -3.5M584.1 123.1h5M586.6 120.6v5M584.9 121.3l3.5 3.5M584.9 124.8l3.5 -3.5M585.9 122.3h5M588.4 119.8v5M586.6 120.5l3.5 3.5M586.6 124l3.5 -3.5M593.7 113h5M596.2 110.5v5M594.4 111.3l3.5 3.5M594.4 114.8l3.5 -3.5M595.5 112.3h5M598 109.8v5M596.2 110.5l3.5 3.5M596.2 114l3.5 -3.5M604 103.2h5M606.5 100.7v5M604.8 101.5l3.5 3.5M604.8 105l3.5 -3.5M605.8 102.4h5M608.3 99.9v5M606.6 100.7l3.5 3.5M606.6 104.2l3.5 -3.5M662.2 59.3h5M664.7 56.8v5M663 57.5l3.5 3.5M663 61l3.5 -3.5M660.2 60h5M662.7 57.5v5M661 58.2l3.5 3.5M661 61.7l3.5 -3.5M498.4 213h5M500.9 210.5v5M499.2 211.3l3.5 3.5M499.2 214.8l3.5 -3.5M499 210.3h5M501.5 207.8v5M499.8 208.6l3.5 3.5M499.8 212.1l3.5 -3.5M497.5 213.8h5M500 211.3v5M498.3 212l3.5 3.5M498.3 215.5l3.5 -3.5M500.5 211.8h5M503 209.3v5M501.2 210.1l3.5 3.5M501.2 213.6l3.5 -3.5M503.9 199.5h5M506.4 197v5M504.7 197.8l3.5 3.5M504.7 201.3l3.5 -3.5M506.4 198.6h5M508.9 196.1v5M507.1 196.8l3.5 3.5M507.1 200.3l3.5 -3.5M514.3 197.1h5M516.8 194.6v5M515 195.3l3.5 3.5M515 198.8l3.5 -3.5M516.3 194.6h5M518.8 192.1v5M517 192.9l3.5 3.5M517 196.4l3.5 -3.5" stroke="#0B2A8C" stroke-width="1.0" fill="none" clip-path="url(#cR)"/>
<path d="M475.5 266.5h5M478 264v5M476.2 264.8l3.5 3.5M476.2 268.2l3.5 -3.5M476.1 265h5M478.6 262.5v5M476.9 263.2l3.5 3.5M476.9 266.8l3.5 -3.5M406.1 299.5h5M408.6 297v5M406.9 297.8l3.5 3.5M406.9 301.2l3.5 -3.5M406.1 303.5h5M408.6 301v5M406.9 301.8l3.5 3.5M406.9 305.2l3.5 -3.5M406.1 308.2h5M408.6 305.7v5M406.9 306.4l3.5 3.5M406.9 309.9l3.5 -3.5" stroke="#0B2A8C" stroke-width="1.0" fill="none" clip-path="url(#cR)"/>
<line x1="390.6" y1="305.7" x2="681.5" y2="29.8" stroke="#0B2A8C" stroke-width="2" clip-path="url(#cR)"/>
<path d="M504.7 197.6h5M507.2 195.1v5M505.4 195.8l3.5 3.5M505.4 199.3l3.5 -3.5M546.6 153h5M549.1 150.5v5M547.3 151.3l3.5 3.5M547.3 154.8l3.5 -3.5M523.5 180.7h5M526 178.2v5M524.2 178.9l3.5 3.5M524.2 182.4l3.5 -3.5M514.2 183.7h5M516.7 181.2v5M515 181.9l3.5 3.5M515 185.4l3.5 -3.5M518.3 183.2h5M520.8 180.7v5M519 181.4l3.5 3.5M519 184.9l3.5 -3.5M502.2 189.2h5M504.7 186.7v5M503 187.5l3.5 3.5M503 191l3.5 -3.5M528 173.1h5M530.5 170.6v5M528.8 171.3l3.5 3.5M528.8 174.8l3.5 -3.5M537.3 156.6h5M539.8 154.1v5M538 154.9l3.5 3.5M538 158.4l3.5 -3.5M538.5 151.2h5M541 148.7v5M539.2 149.4l3.5 3.5M539.2 152.9l3.5 -3.5M540.2 158.2h5M542.7 155.7v5M541 156.5l3.5 3.5M541 160l3.5 -3.5M521 177h5M523.5 174.5v5M521.7 175.3l3.5 3.5M521.7 178.8l3.5 -3.5M497.9 211.7h5M500.4 209.2v5M498.6 210l3.5 3.5M498.6 213.5l3.5 -3.5M514.9 179.2h5M517.4 176.7v5M515.6 177.4l3.5 3.5M515.6 180.9l3.5 -3.5M523.2 169.9h5M525.7 167.4v5M524 168.1l3.5 3.5M524 171.6l3.5 -3.5M544.7 156.9h5M547.2 154.4v5M545.4 155.2l3.5 3.5M545.4 158.7l3.5 -3.5M525.4 168.8h5M527.9 166.3v5M526.2 167l3.5 3.5M526.2 170.5l3.5 -3.5M521.4 172.8h5M523.9 170.3v5M522.2 171l3.5 3.5M522.2 174.5l3.5 -3.5M545.8 154.4h5M548.3 151.9v5M546.6 152.7l3.5 3.5M546.6 156.2l3.5 -3.5M541.5 160.9h5M544 158.4v5M542.2 159.1l3.5 3.5M542.2 162.6l3.5 -3.5M522.6 167.6h5M525.1 165.1v5M523.4 165.9l3.5 3.5M523.4 169.4l3.5 -3.5M515.7 180.6h5M518.2 178.1v5M516.4 178.8l3.5 3.5M516.4 182.3l3.5 -3.5M548.6 146.2h5M551.1 143.7v5M549.4 144.4l3.5 3.5M549.4 147.9l3.5 -3.5M532.4 174.6h5M534.9 172.1v5M533.2 172.8l3.5 3.5M533.2 176.3l3.5 -3.5M538.1 165.5h5M540.6 163v5M538.8 163.8l3.5 3.5M538.8 167.3l3.5 -3.5M534.6 160.6h5M537.1 158.1v5M535.3 158.9l3.5 3.5M535.3 162.4l3.5 -3.5M502.5 204.4h5M505 201.9v5M503.3 202.6l3.5 3.5M503.3 206.1l3.5 -3.5M529.7 163.9h5M532.2 161.4v5M530.5 162.2l3.5 3.5M530.5 165.7l3.5 -3.5M542.4 156.4h5M544.9 153.9v5M543.1 154.7l3.5 3.5M543.1 158.2l3.5 -3.5M532.7 164.1h5M535.2 161.6v5M533.4 162.4l3.5 3.5M533.4 165.9l3.5 -3.5M540 155.5h5M542.5 153v5M540.7 153.8l3.5 3.5M540.7 157.3l3.5 -3.5M549.4 139.6h5M551.9 137.1v5M550.1 137.9l3.5 3.5M550.1 141.4l3.5 -3.5M545.3 156.9h5M547.8 154.4v5M546.1 155.2l3.5 3.5M546.1 158.7l3.5 -3.5M493.8 196.9h5M496.3 194.4v5M494.5 195.2l3.5 3.5M494.5 198.7l3.5 -3.5M545.5 156.6h5M548 154.1v5M546.3 154.9l3.5 3.5M546.3 158.4l3.5 -3.5M498.1 201.9h5M500.6 199.4v5M498.9 200.2l3.5 3.5M498.9 203.7l3.5 -3.5M524.8 167.3h5M527.3 164.8v5M525.6 165.6l3.5 3.5M525.6 169.1l3.5 -3.5M496.7 205.1h5M499.2 202.6v5M497.4 203.3l3.5 3.5M497.4 206.8l3.5 -3.5M520.2 179.2h5M522.7 176.7v5M520.9 177.4l3.5 3.5M520.9 180.9l3.5 -3.5M546.9 156.2h5M549.4 153.7v5M547.7 154.4l3.5 3.5M547.7 157.9l3.5 -3.5M504.1 192.2h5M506.6 189.7v5M504.8 190.5l3.5 3.5M504.8 194l3.5 -3.5M552 147.2h5M554.5 144.7v5M552.7 145.4l3.5 3.5M552.7 148.9l3.5 -3.5M496 203h5M498.5 200.5v5M496.7 201.2l3.5 3.5M496.7 204.7l3.5 -3.5M538.1 160.6h5M540.6 158.1v5M538.8 158.9l3.5 3.5M538.8 162.4l3.5 -3.5M533.9 165.2h5M536.4 162.7v5M534.6 163.4l3.5 3.5M534.6 166.9l3.5 -3.5M528.8 171.8h5M531.3 169.3v5M529.6 170.1l3.5 3.5M529.6 173.6l3.5 -3.5M540.8 148.7h5M543.3 146.2v5M541.6 146.9l3.5 3.5M541.6 150.4l3.5 -3.5M502.1 207.1h5M504.6 204.6v5M502.9 205.3l3.5 3.5M502.9 208.8l3.5 -3.5M498.7 212.5h5M501.2 210v5M499.4 210.8l3.5 3.5M499.4 214.3l3.5 -3.5M551.2 140.4h5M553.7 137.9v5M551.9 138.6l3.5 3.5M551.9 142.1l3.5 -3.5M521.3 178.7h5M523.8 176.2v5M522 177l3.5 3.5M522 180.5l3.5 -3.5M546 157.6h5M548.5 155.1v5M546.7 155.9l3.5 3.5M546.7 159.4l3.5 -3.5M500.6 188.2h5M503.1 185.7v5M501.4 186.4l3.5 3.5M501.4 189.9l3.5 -3.5M521.4 176.9h5M523.9 174.4v5M522.2 175.2l3.5 3.5M522.2 178.7l3.5 -3.5M550.1 141.3h5M552.6 138.8v5M550.8 139.5l3.5 3.5M550.8 143l3.5 -3.5M494.4 199.8h5M496.9 197.3v5M495.1 198l3.5 3.5M495.1 201.5l3.5 -3.5M512 187.9h5M514.5 185.4v5M512.7 186.1l3.5 3.5M512.7 189.6l3.5 -3.5M518 171.6h5M520.5 169.1v5M518.7 169.9l3.5 3.5M518.7 173.4l3.5 -3.5M506 205.5h5M508.5 203v5M506.7 203.7l3.5 3.5M506.7 207.2l3.5 -3.5M514.1 180h5M516.6 177.5v5M514.8 178.3l3.5 3.5M514.8 181.8l3.5 -3.5M542.7 147.7h5M545.2 145.2v5M543.4 146l3.5 3.5M543.4 149.5l3.5 -3.5M555 134.7h5M557.5 132.2v5M555.8 133l3.5 3.5M555.8 136.5l3.5 -3.5" stroke="#0B2A8C" stroke-width="1.0" fill="none" clip-path="url(#cR)"/>
<path d="M497.9 192.6h5M500.4 190.1v5M498.6 190.8l3.5 3.5M498.6 194.3l3.5 -3.5M522.6 184.1h5M525.1 181.6v5M523.4 182.4l3.5 3.5M523.4 185.9l3.5 -3.5M513.2 195.9h5M515.7 193.4v5M514 194.2l3.5 3.5M514 197.7l3.5 -3.5M546.6 158.4h5M549.1 155.9v5M547.4 156.6l3.5 3.5M547.4 160.1l3.5 -3.5M502.5 198.7h5M505 196.2v5M503.3 196.9l3.5 3.5M503.3 200.4l3.5 -3.5M549.4 153.9h5M551.9 151.4v5M550.1 152.2l3.5 3.5M550.1 155.7l3.5 -3.5M507.6 199.9h5M510.1 197.4v5M508.4 198.2l3.5 3.5M508.4 201.7l3.5 -3.5M531 163h5M533.5 160.5v5M531.8 161.2l3.5 3.5M531.8 164.7l3.5 -3.5M500.5 211.8h5M503 209.3v5M501.2 210l3.5 3.5M501.2 213.5l3.5 -3.5M523.7 173.9h5M526.2 171.4v5M524.5 172.2l3.5 3.5M524.5 175.7l3.5 -3.5M538.9 159.8h5M541.4 157.3v5M539.6 158.1l3.5 3.5M539.6 161.6l3.5 -3.5M533.3 161.2h5M535.8 158.7v5M534 159.5l3.5 3.5M534 163l3.5 -3.5M535.4 172.5h5M537.9 170v5M536.2 170.8l3.5 3.5M536.2 174.3l3.5 -3.5" stroke="#FF00FF" stroke-width="1.0" fill="none" clip-path="url(#cR)"/>
<path d="M549.9 155.1h5M552.4 152.6v5M550.6 153.3l3.5 3.5M550.6 156.8l3.5 -3.5M551.7 137.2h5M554.2 134.7v5M552.4 135.5l3.5 3.5M552.4 139l3.5 -3.5M525.2 169.6h5M527.7 167.1v5M526 167.9l3.5 3.5M526 171.4l3.5 -3.5M527.9 167.7h5M530.4 165.2v5M528.7 165.9l3.5 3.5M528.7 169.4l3.5 -3.5M514.6 187.6h5M517.1 185.1v5M515.3 185.9l3.5 3.5M515.3 189.4l3.5 -3.5M502.4 199.7h5M504.9 197.2v5M503.1 197.9l3.5 3.5M503.1 201.4l3.5 -3.5M494.4 205.1h5M496.9 202.6v5M495.2 203.3l3.5 3.5M495.2 206.8l3.5 -3.5M551.4 146.6h5M553.9 144.1v5M552.2 144.8l3.5 3.5M552.2 148.3l3.5 -3.5M498.1 194.8h5M500.6 192.3v5M498.9 193.1l3.5 3.5M498.9 196.6l3.5 -3.5" stroke="#D95319" stroke-width="1.0" fill="none" clip-path="url(#cR)"/>
<path d="M479.9 211.2L477.2 211.6L474.4 214.2L474.4 214.2L474.3 214.3L474.2 214.3L474.2 214.3L474.1 214.3L474 214.4L474 214.4L473.9 214.4L473.8 214.4L469.7 213.9L466.2 216.2L464.6 222.8L464.6 222.9L464.5 223L464.5 223L464.5 223.1L464.4 223.2L464.4 223.2L464.3 223.3L464.2 223.3L464.2 223.3L464.1 223.4L464 223.4L463.9 223.4L463.9 223.4L463.8 223.4L463.7 223.4L463.6 223.4L463.5 223.4L463.5 223.3L463.4 223.3L463.3 223.3L463.3 223.2L463.2 223.1L463.2 223.1L463.1 223L463.1 222.9L461.9 220.1L460.1 218.1L458.3 220.1L456.9 226.7L456.9 226.8L456.9 226.9L456.8 226.9L456.8 227L456.7 227.1L456.7 227.1L453.4 230.3L451.4 235.2L451.4 235.3L451.4 235.3L451.3 235.4L451.3 235.5L451.2 235.5L451.1 235.6L451.1 235.6L451 235.6L450.9 235.7L436.1 239.9L436.1 239.9L428.3 242.1L428.3 278L429.5 280.3L432.4 279.9L434.2 274.9L434.2 274.9L434.3 274.8L434.3 274.7L434.4 274.7L434.4 274.6L437.3 272.2L440.2 268.4L440.3 268.3L440.3 268.2L440.4 268.2L440.4 268.2L440.5 268.1L440.6 268.1L448.4 265.2L454.2 260.8L454.2 260.8L454.3 260.7L454.4 260.7L463.2 257.3L463.3 257.3L463.4 257.2L463.5 257.2L463.6 257.2L472.5 257.7L474.8 251.8L474.9 251.8L474.9 251.7L474.9 251.6L475 251.6L475 251.5L475.1 251.5L475.2 251.4L475.2 251.4L475.3 251.4L475.4 251.4L475.5 251.3L475.5 251.3L475.6 251.3L475.7 251.3L475.8 251.4L475.8 251.4L475.9 251.4L476 251.4L476 251.5L476.1 251.5L476.1 251.6L476.2 251.6L479.6 256.1L485.5 253.9L489.2 249.6L489.2 249.6L489.3 249.5L489.3 249.5L489.4 249.5L489.4 249.4L494.6 247.2L494.8 221.2L494.8 221.1L494.8 221L494.8 220.9L494.9 220.9L494.9 220.8L494.9 220.7L496.3 218.7L496.3 205.1L496.2 205.1L496.1 205.1L496.1 205.1L496 205.1L495.9 205.1L495.8 205.1L495.7 205.1L495.7 205.1L495.6 205.1L495.5 205.1L495.4 205.1L495.3 205L495.3 205L495.2 205L495.1 204.9L495 204.9L495 204.9L494.9 204.8L494.8 204.8L494.8 204.7L494.7 204.7L494.7 204.6L494.6 204.5L494.5 204.5L494.5 204.4L494.5 204.3L494.4 204.3L494.4 204.2L494.3 204.1L494.3 204L494.3 204L494.3 203.9L494.2 203.8L494.2 203.7L494.2 203.6L494.2 203.6L494.2 203.5L494.2 203.4L494.2 203.3L494.2 203.2L494.2 203.2L494.2 203.1L494.3 203L494.3 202.9L494.3 202.8L494.4 202.8L494.4 202.7L494.4 202.6L494.5 202.6L494.5 202.5L496.3 199.9L496.3 194.1L495.5 195.5L495.5 195.5L495.4 195.6L490.8 201.5L490.7 201.5L490.7 201.6L490.6 201.6L490.6 201.7L490.5 201.7L486.7 203.6L483.4 206.4L482.3 208.7L482.4 208.6L482.5 208.6L482.5 208.5L482.6 208.5L482.7 208.5L482.8 208.5L482.8 208.4L482.9 208.4L483 208.4L483.1 208.4L483.1 208.4L483.2 208.4L483.3 208.4L483.4 208.4L483.4 208.4L483.5 208.4L483.6 208.4L483.7 208.4L483.8 208.5L483.8 208.5L483.9 208.5L484 208.5L484 208.6L484.1 208.6L484.2 208.7L484.2 208.7L484.3 208.8L484.3 208.8L484.4 208.9L484.5 208.9L484.5 209L484.5 209L484.6 209.1L484.6 209.2L484.7 209.2L484.7 209.3L484.7 209.4L484.8 209.5L484.8 209.5L484.8 209.6L484.8 209.7L484.8 209.8L484.8 209.8L484.8 209.9L484.8 210L484.8 210.1L484.8 210.1L484.8 210.2L484.8 210.3L484.8 210.4L484.8 210.4L484.7 210.5L484.7 210.6L484.7 210.7L484.6 210.7L484.6 210.8L484.5 210.9L484.5 210.9L484.5 211L484.4 211L484.4 211.1L482.4 213L482.4 213.1L482.3 213.1L482.3 213.2L482.2 213.2L482.1 213.2L482.1 213.3L482 213.3L481.9 213.4L481.9 213.4L481.8 213.4L481.7 213.4L481.6 213.5L481.6 213.5L481.5 213.5L481.4 213.5L481.3 213.5L481.2 213.5L481.2 213.5L481.1 213.5L481 213.5L480.9 213.5L480.9 213.4L480.8 213.4L480.7 213.4L480.6 213.4L480.6 213.3L480.5 213.3L480.4 213.2L480.4 213.2L480.3 213.2L480.3 213.1L480.2 213.1L480.1 213L480.1 212.9L480 212.9L480 212.8L480 212.8L479.9 212.7L479.9 212.6L479.8 212.6L479.8 212.5L479.8 212.4L479.8 212.3L479.7 212.3L479.7 212.2L479.7 212.1L479.7 212L479.7 212L479.7 211.9L479.7 211.8L479.7 211.7L479.7 211.7L479.7 211.6L479.8 211.5L479.8 211.4L479.8 211.4L479.8 211.3L479.9 211.2Z" fill="#77AC30" fill-rule="evenodd" clip-path="url(#cR)"/><path d="M406.7 295.8L406.7 296L406.8 296.2L406.8 296.4L406.9 296.6L406.9 296.7L407 296.9L407.2 297L407.3 297.2L407.4 297.3L407.6 297.4L407.7 297.5L407.9 297.6L408.1 297.6L408.2 297.7L408.4 297.7L408.6 297.7L408.8 297.7L409 297.7L409.1 297.6L409.3 297.6L409.5 297.5L409.6 297.4L409.8 297.3L409.9 297.2L410 297L410.2 296.9L410.3 296.7L410.3 296.6L410.4 296.4L410.4 296.2L410.5 296L410.5 295.8L410.5 233.4L410.5 233.2L410.4 233L410.4 232.8L410.3 232.6L410.3 232.5L410.2 232.3L410 232.2L409.9 232L409.8 231.9L409.6 231.8L409.5 231.7L409.3 231.6L409.1 231.6L409 231.5L408.8 231.5L408.6 231.5L408.4 231.5L408.2 231.5L408.1 231.6L407.9 231.6L407.7 231.7L407.6 231.8L407.4 231.9L407.3 232L407.2 232.2L407 232.3L406.9 232.5L406.9 232.6L406.8 232.8L406.8 233L406.7 233.2L406.7 233.4L406.7 295.8Z" fill="#77AC30" fill-rule="evenodd" clip-path="url(#cR)"/><path d="M413.1 286.1L413.1 286L413.2 286L413.3 286L413.4 286L413.4 286L413.5 286L413.6 286.1L413.7 286.1L413.7 286.1L413.8 286.2L413.8 286.2L413.9 286.3L413.9 286.3L414 286.4L414 286.4L414.1 286.6L414.2 286.8L414.4 287L414.5 287.1L414.7 287.2L414.8 287.4L415 287.5L415.2 287.6L415.4 287.6L415.6 287.7L415.8 287.7L416.1 287.7L416.3 287.7L416.5 287.6L416.7 287.6L416.9 287.5L417.1 287.4L417.3 287.3L417.4 287.2L417.6 287L417.7 286.9L417.8 286.7L417.9 286.5L418 286.3L418.1 286.1L418.1 285.9L418.2 285.7L418.8 277.1L418.8 276.9L418.7 276.7L418.7 276.5L418.6 276.3L418.6 276.1L418.5 275.9L418.4 275.7L418.2 275.6L418.1 275.4L417.9 275.3L417.8 275.2L417.6 275.1L417.4 275L417.2 274.9L417 274.9L416.8 274.8L416.5 274.8L416.3 274.8L416.1 274.9L415.9 274.9L415.7 275L415.5 275.1L415.4 275.2L415.2 275.3L415 275.5L414.9 275.6L414.8 275.8L414.7 276L414.6 276.2L414.5 276.4L414.5 276.6L413.9 279.7L413.8 279.7L413.8 279.8L413.8 279.9L413.8 280L413.7 280L413.7 280.1L413.6 280.1L410.9 282.4L410.7 282.5L410.6 282.7L410.4 282.9L410.3 283.1L410.2 283.2L410.2 283.4L410.1 283.7L410.1 283.9L410.1 284.1L410.1 284.3L410.1 284.5L410.2 284.7L410.3 284.9L410.3 285.1L410.5 285.3L410.6 285.4L410.7 285.6L410.9 285.7L411.1 285.9L411.2 286L411.4 286.1L411.6 286.1L411.8 286.2L412.1 286.2L412.3 286.2L412.5 286.2L412.7 286.2L412.9 286.1L413.1 286.1Z" fill="#77AC30" fill-rule="evenodd" clip-path="url(#cR)"/><path d="M613.7 84.1L613.9 83.9L614.1 83.8L614.3 83.6L614.5 83.4L614.7 83.2L614.8 83L615 82.7L615.1 82.5L615.1 82.2L615.2 81.9L615.2 81.7L615.2 81.4L615.2 81.1L615.1 80.9L615 80.6L614.9 80.4L614.8 80.1L614.6 79.9L614.5 79.7L614.3 79.5L614 79.4L613.8 79.2L613.6 79.1L613.3 79L613.1 78.9L612.8 78.9L612.5 78.8L612.3 78.9L612 78.9L611.7 78.9L611.5 79L611.2 79.1L601.4 84L601.1 84.2L600.9 84.3L600.7 84.5L600.5 84.7L600.3 84.9L600.2 85.1L600.1 85.4L600 85.6L599.9 85.9L599.8 86.2L599.8 86.4L599.8 86.7L599.9 87L599.9 87.2L600 87.5L600.1 87.7L600.3 88L600.4 88.2L600.6 88.4L600.8 88.6L601 88.8L601.2 88.9L601.5 89L601.7 89.1L602 89.2L602.2 89.2L602.5 89.3L602.8 89.3L603.1 89.2L603.3 89.2L603.6 89.1L603.8 89L613.7 84.1Z" fill="#77AC30" fill-rule="evenodd" clip-path="url(#cR)"/><path d="M617.7 79.1L618 78.9L618.2 78.8L618.4 78.6L618.6 78.4L618.7 78.1L618.9 77.9L619 77.7L619.1 77.4L619.1 77.1L619.1 76.9L619.2 76.6L619.1 76.3L619.1 76.1L619 75.8L618.9 75.6L618.8 75.3L618.6 75.1L618.5 74.9L618.3 74.7L618.1 74.5L617.9 74.4L617.6 74.2L617.4 74.1L617.1 74L616.9 74L616.6 73.9L616.3 73.9L616 74L615.8 74L615.5 74.1L615.3 74.2L615 74.3L608.1 78.2L607.9 78.4L607.7 78.5L607.5 78.7L607.3 78.9L607.2 79.2L607 79.4L606.9 79.6L606.8 79.9L606.8 80.2L606.7 80.4L606.7 80.7L606.8 81L606.8 81.2L606.9 81.5L607 81.7L607.1 82L607.2 82.2L607.4 82.4L607.6 82.6L607.8 82.8L608 82.9L608.3 83.1L608.5 83.2L608.8 83.3L609 83.3L609.3 83.4L609.6 83.4L609.8 83.3L610.1 83.3L610.4 83.2L610.6 83.1L610.9 83L617.7 79.1Z" fill="#77AC30" fill-rule="evenodd" clip-path="url(#cR)"/><path d="M627.8 71.3L628.1 71.2L628.3 71L628.5 70.8L628.7 70.5L628.8 70.3L629 70L629.1 69.8L629.1 69.5L629.2 69.2L629.2 68.9L629.2 68.6L629.2 68.3L629.1 68.1L629 67.8L628.9 67.5L628.8 67.3L628.6 67L628.4 66.8L628.2 66.6L628 66.4L627.7 66.3L627.5 66.1L627.2 66L626.9 65.9L626.6 65.9L626.3 65.9L626.1 65.9L625.8 65.9L625.5 66L625.2 66.1L624.9 66.2L624.7 66.3L616.8 71.2L616.6 71.4L616.3 71.6L616.1 71.8L616 72L615.8 72.3L615.7 72.5L615.6 72.8L615.5 73.1L615.4 73.4L615.4 73.6L615.4 73.9L615.4 74.2L615.5 74.5L615.6 74.8L615.7 75L615.9 75.3L616 75.5L616.2 75.8L616.4 76L616.6 76.1L616.9 76.3L617.2 76.4L617.4 76.5L617.7 76.6L618 76.7L618.3 76.7L618.6 76.7L618.9 76.6L619.1 76.6L619.4 76.5L619.7 76.4L620 76.2L627.8 71.3Z" fill="#77AC30" fill-rule="evenodd" clip-path="url(#cR)"/><path d="M643.3 61.2L643.5 61L643.8 60.9L644 60.7L644.2 60.5L644.4 60.3L644.6 60L644.7 59.8L644.8 59.5L644.9 59.2L645 59L645 58.7L645 58.4L645 58.1L644.9 57.8L644.8 57.5L644.7 57.3L644.6 57L644.4 56.8L644.2 56.5L644 56.3L643.8 56.1L643.6 56L643.3 55.8L643.1 55.7L642.8 55.6L642.5 55.6L642.2 55.6L641.9 55.6L641.6 55.6L641.3 55.6L641.1 55.7L640.8 55.8L627 62.2L626.7 62.4L626.5 62.5L626.3 62.7L626.1 62.9L625.9 63.1L625.7 63.4L625.6 63.6L625.5 63.9L625.4 64.2L625.3 64.4L625.3 64.7L625.3 65L625.3 65.3L625.4 65.6L625.4 65.9L625.5 66.1L625.7 66.4L625.8 66.6L626 66.9L626.2 67.1L626.4 67.2L626.7 67.4L626.9 67.5L627.2 67.7L627.5 67.7L627.8 67.8L628.1 67.8L628.4 67.8L628.6 67.8L628.9 67.8L629.2 67.7L629.5 67.6L643.3 61.2Z" fill="#77AC30" fill-rule="evenodd" clip-path="url(#cR)"/><path d="M657.1 50.7L657.3 50.5L657.5 50.4L657.7 50.2L657.9 50L658.1 49.8L658.2 49.5L658.4 49.3L658.5 49.1L658.5 48.8L658.6 48.5L658.6 48.3L658.6 48L658.6 47.7L658.5 47.5L658.4 47.2L658.3 47L658.2 46.7L658 46.5L657.8 46.3L657.7 46.1L657.4 45.9L657.2 45.8L657 45.7L656.7 45.6L656.5 45.5L656.2 45.5L655.9 45.4L655.6 45.4L655.4 45.5L655.1 45.5L654.9 45.6L654.6 45.7L645.7 50.1L645.5 50.3L645.3 50.4L645.1 50.6L644.9 50.8L644.7 51L644.6 51.2L644.4 51.5L644.3 51.7L644.3 52L644.2 52.3L644.2 52.5L644.2 52.8L644.2 53.1L644.3 53.3L644.4 53.6L644.5 53.8L644.6 54.1L644.8 54.3L645 54.5L645.2 54.7L645.4 54.8L645.6 55L645.8 55.1L646.1 55.2L646.4 55.3L646.6 55.3L646.9 55.4L647.2 55.3L647.4 55.3L647.7 55.3L648 55.2L648.2 55.1L657.1 50.7Z" fill="#77AC30" fill-rule="evenodd" clip-path="url(#cR)"/><path d="M681.6 34.6L681.8 34.4L682 34.3L682.2 34.1L682.3 34L682.5 33.8L682.6 33.6L682.7 33.4L682.8 33.2L682.8 32.9L682.9 32.7L682.9 32.5L682.9 32.2L682.8 32L682.8 31.8L682.7 31.6L682.6 31.4L682.5 31.2L682.3 31L682.2 30.8L682 30.6L681.8 30.5L681.6 30.4L681.4 30.3L681.2 30.2L681 30.1L680.7 30.1L680.5 30.1L680.3 30.1L680.1 30.1L679.8 30.2L679.6 30.3L679.4 30.4L659.7 40.7L659.5 40.8L659.3 40.9L659.1 41.1L659 41.3L658.8 41.5L658.7 41.6L658.6 41.9L658.5 42.1L658.5 42.3L658.4 42.5L658.4 42.8L658.4 43L658.4 43.2L658.5 43.4L658.6 43.7L658.7 43.9L658.8 44.1L658.9 44.3L659.1 44.4L659.3 44.6L659.4 44.7L659.6 44.8L659.9 44.9L660.1 45L660.3 45.1L660.5 45.1L660.8 45.1L661 45.1L661.2 45.1L661.4 45L661.7 45L661.9 44.9L681.6 34.6Z" fill="#77AC30" fill-rule="evenodd" clip-path="url(#cR)"/><path d="M649.8 68.9L650 68.9L650.2 68.8L650.3 68.7L650.5 68.5L650.7 68.4L650.8 68.2L650.9 68.1L651.1 67.9L651.1 67.7L651.2 67.5L651.3 67.3L651.3 67.1L651.3 66.9L651.3 66.6L651.3 66.4L651.2 66.2L651.1 66L651 65.8L650.9 65.7L650.8 65.5L650.7 65.3L650.5 65.2L650.3 65.1L650.2 64.9L650 64.9L649.8 64.8L649.6 64.7L649.3 64.7L649.1 64.7L648.9 64.7L648.7 64.7L648.5 64.8L636.9 68.3L636.7 68.4L636.5 68.5L636.3 68.6L636.1 68.7L636 68.9L635.8 69L635.7 69.2L635.6 69.4L635.5 69.6L635.4 69.8L635.4 70L635.3 70.2L635.3 70.4L635.3 70.6L635.4 70.8L635.4 71L635.5 71.2L635.6 71.4L635.7 71.6L635.8 71.8L636 71.9L636.1 72.1L636.3 72.2L636.5 72.3L636.7 72.4L636.9 72.5L637.1 72.5L637.3 72.5L637.5 72.6L637.7 72.5L637.9 72.5L638.2 72.5L649.8 68.9Z" fill="#77AC30" fill-rule="evenodd" clip-path="url(#cR)"/><path d="M632.8 75.1L632.9 74.9L633.1 74.8L633.2 74.7L633.3 74.5L633.4 74.3L633.4 74.2L633.5 74L633.5 73.8L633.6 73.6L633.6 73.5L633.5 73.3L633.5 73.1L633.4 72.9L633.4 72.7L633.3 72.6L633.2 72.4L633.1 72.3L632.9 72.2L632.8 72L632.7 71.9L632.5 71.9L632.3 71.8L632.1 71.7L632 71.7L631.8 71.7L631.6 71.7L631.4 71.7L631.2 71.7L631.1 71.8L630.9 71.8L630.7 71.9L630.6 72L618.8 80.7L618.6 80.8L618.5 80.9L618.3 81.1L618.2 81.2L618.2 81.4L618.1 81.5L618 81.7L618 81.9L618 82.1L618 82.3L618 82.5L618 82.6L618.1 82.8L618.1 83L618.2 83.1L618.3 83.3L618.5 83.4L618.6 83.6L618.7 83.7L618.9 83.8L619 83.9L619.2 83.9L619.4 84L619.6 84L619.7 84.1L619.9 84.1L620.1 84L620.3 84L620.5 83.9L620.6 83.9L620.8 83.8L621 83.7L632.8 75.1Z" fill="#77AC30" fill-rule="evenodd" clip-path="url(#cR)"/><path d="M620.9 83.3L621.1 83.2L621.3 83L621.4 82.8L621.5 82.6L621.6 82.4L621.7 82.2L621.7 81.9L621.7 81.7L621.7 81.5L621.7 81.2L621.6 81L621.6 80.8L621.5 80.6L621.4 80.4L621.2 80.2L621.1 80L620.9 79.8L620.8 79.7L620.6 79.6L620.4 79.5L620.1 79.4L619.9 79.3L619.7 79.3L619.5 79.2L619.2 79.2L619 79.3L618.8 79.3L618.5 79.4L618.3 79.5L618.1 79.6L617.9 79.7L617.7 79.9L605.9 90.7L605.8 90.8L605.6 91L605.5 91.2L605.4 91.4L605.3 91.6L605.2 91.8L605.2 92.1L605.2 92.3L605.2 92.5L605.2 92.8L605.2 93L605.3 93.2L605.4 93.4L605.5 93.6L605.6 93.8L605.8 94L605.9 94.2L606.1 94.3L606.3 94.4L606.5 94.5L606.7 94.6L607 94.7L607.2 94.7L607.4 94.8L607.6 94.8L607.9 94.7L608.1 94.7L608.3 94.6L608.5 94.5L608.7 94.4L608.9 94.3L609.1 94.1L620.9 83.3Z" fill="#77AC30" fill-rule="evenodd" clip-path="url(#cR)"/><path d="M666 62.3L666.2 62.2L666.3 62.2L666.5 62.1L666.6 62L666.7 61.9L666.8 61.8L666.9 61.7L667 61.6L667 61.5L667.1 61.4L667.1 61.2L667.2 61.1L667.2 60.9L667.2 60.8L667.2 60.6L667.1 60.5L667.1 60.4L667 60.2L667 60.1L666.9 60L666.8 59.9L666.7 59.8L666.6 59.7L666.5 59.6L666.3 59.5L666.2 59.5L666.1 59.4L665.9 59.4L665.8 59.4L665.6 59.4L665.5 59.4L665.3 59.4L658 61.3L657.8 61.3L657.7 61.4L657.5 61.5L657.4 61.5L657.3 61.6L657.2 61.7L657.1 61.9L657 62L657 62.1L656.9 62.2L656.9 62.4L656.8 62.5L656.8 62.7L656.8 62.8L656.8 62.9L656.9 63.1L656.9 63.2L657 63.4L657 63.5L657.1 63.6L657.2 63.7L657.3 63.8L657.4 63.9L657.6 64L657.7 64.1L657.8 64.1L658 64.2L658.1 64.2L658.2 64.2L658.4 64.2L658.5 64.2L658.7 64.2L666 62.3Z" fill="#77AC30" fill-rule="evenodd" clip-path="url(#cR)"/>
<path d="M568.4 134.2L568.2 134.1L568.2 134L568 133.8L568 133.7L567.8 133.5L567.8 133.4L567.7 133.2L567.6 133L567.6 132.8L567.5 132.7L567.5 132.5L567.4 132.4L567.4 132.1L567.4 132L567.4 131.8L567.4 131.6L567.4 131.4L567.4 131.3L567.4 131.1L567.5 130.9L567.5 130.7L567.6 130.6L567.6 130.4L567.7 130.3L567.8 130.1L567.8 129.9L568 129.7L568 129.6L568.2 129.5L568.3 129.4L568.4 129.2L568.5 129.1L568.6 129L573.5 124.6L573.6 124.5L573.7 124.4L573.9 124.3L574 124.2L574.2 124.1L574.3 124.1L574.5 124L574.6 123.9L574.9 123.8L575 123.8L575.2 123.7L575.3 123.7L575.6 123.7L575.7 123.7L575.9 123.7L576 123.7L576.3 123.7L576.4 123.7L576.6 123.7L576.7 123.7L577 123.8L577.1 123.8L577.3 123.9L577.4 124L577.6 124.1L577.7 124.1L577.9 124.2L578 124.3L578.2 124.5L578.3 124.5L581.9 121L581.8 120.9L581.6 120.7L581.5 120.6L581.4 120.4L581.3 120.3L581.2 120.1L581.2 119.9L581.1 119.7L581.1 119.6L581 119.3L581 119.2L580.9 119L580.9 118.8L580.9 118.6L580.9 118.4L580.9 118.2L580.9 118L580.9 117.8L581 117.7L581 117.4L581.1 117.3L581.1 117.1L581.2 116.9L581.3 116.7L581.4 116.6L581.5 116.4L581.6 116.2L581.7 116.1L581.8 115.9L582 115.8L582.1 115.7L582.2 115.6L589.1 109.2L589.1 109.1L589.3 109L589.4 108.9L589.6 108.8L589.8 108.7L589.9 108.6L590.1 108.5L590.3 108.4L590.5 108.3L590.6 108.3L590.8 108.2L591 108.2L591.2 108.2L591.4 108.2L591.6 108.1L591.8 108.1L592 108.1L592.2 108.2L592.4 108.2L592.5 108.2L592.8 108.3L592.9 108.3L593.1 108.4L593.3 108.4L593.5 108.5L593.6 108.6L593.8 108.7L594 108.8L594.1 108.9L594.3 109L594.3 109.1L595.2 108.3L595.1 108.2L595.1 108.1L595 107.9L595 107.7L594.9 107.5L594.9 107.4L594.8 107.2L594.8 107L594.8 106.8L594.8 106.6L594.8 106.4L594.8 106.3L594.8 106L594.9 105.9L594.9 105.7L595 105.5L595 105.3L595.1 105.2L595.2 105L595.3 104.8L595.4 104.6L595.5 104.5L595.6 104.3L595.7 104.2L595.8 104L595.9 103.9L596 103.9L602.9 97.5L603 97.4L603.1 97.3L603.3 97.2L603.4 97.1L603.6 96.9L603.8 96.9L604 96.8L604.1 96.7L604.3 96.6L604.5 96.6L604.7 96.5L604.8 96.5L605.1 96.5L605.2 96.5L605.2 90.1L604 90.9L592.4 100L589.1 103.8L588.9 103.9L588.8 104.1L582 109.4L575.2 116.2L575.1 116.2L564.9 126L556.6 136L556.6 149.2L557.3 148.5L562.1 140.8L562.3 140.6L562.4 140.4L568.4 134.2Z" fill="#77AC30" fill-rule="evenodd" clip-path="url(#cR)"/>
<path d="M491.7 199.6h5M494.2 197.1v5M492.4 197.8l3.5 3.5M492.4 201.3l3.5 -3.5M490.9 200.8h5M493.4 198.3v5M491.6 199.1l3.5 3.5M491.6 202.6l3.5 -3.5M490.7 202.4h5M493.2 199.9v5M491.4 200.6l3.5 3.5M491.4 204.1l3.5 -3.5M487.1 204.4h5M489.6 201.9v5M487.9 202.6l3.5 3.5M487.9 206.1l3.5 -3.5M488.2 205.3h5M490.7 202.8v5M488.9 203.6l3.5 3.5M488.9 207.1l3.5 -3.5M490.9 205h5M493.4 202.5v5M491.6 203.3l3.5 3.5M491.6 206.8l3.5 -3.5M482.9 206.4h5M485.4 203.9v5M483.7 204.7l3.5 3.5M483.7 208.2l3.5 -3.5M484.8 206.1h5M487.3 203.6v5M485.5 204.3l3.5 3.5M485.5 207.8l3.5 -3.5M486.3 206.2h5M488.8 203.7v5M487.1 204.5l3.5 3.5M487.1 208l3.5 -3.5M489.8 206.9h5M492.3 204.4v5M490.5 205.2l3.5 3.5M490.5 208.7l3.5 -3.5M491.3 206.1h5M493.8 203.6v5M492.1 204.3l3.5 3.5M492.1 207.8l3.5 -3.5M483.5 208.4h5M486 205.9v5M484.3 206.7l3.5 3.5M484.3 210.2l3.5 -3.5M490.5 207h5M493 204.5v5M491.2 205.2l3.5 3.5M491.2 208.7l3.5 -3.5M483.9 210.1h5M486.4 207.6v5M484.6 208.4l3.5 3.5M484.6 211.9l3.5 -3.5M490.5 208.9h5M493 206.4v5M491.3 207.1l3.5 3.5M491.3 210.6l3.5 -3.5M491.6 209.1h5M494.1 206.6v5M492.4 207.4l3.5 3.5M492.4 210.9l3.5 -3.5M484.8 210.4h5M487.3 207.9v5M485.6 208.6l3.5 3.5M485.6 212.1l3.5 -3.5M490.5 210.4h5M493 207.9v5M491.3 208.6l3.5 3.5M491.3 212.1l3.5 -3.5M475 213.3h5M477.5 210.8v5M475.8 211.5l3.5 3.5M475.8 215l3.5 -3.5M483.3 213.2h5M485.8 210.7v5M484.1 211.5l3.5 3.5M484.1 215l3.5 -3.5M486.6 212.3h5M489.1 209.8v5M487.3 210.6l3.5 3.5M487.3 214.1l3.5 -3.5M492.1 212.1h5M494.6 209.6v5M492.9 210.4l3.5 3.5M492.9 213.9l3.5 -3.5M476 213.3h5M478.5 210.8v5M476.8 211.6l3.5 3.5M476.8 215.1l3.5 -3.5M481.3 215h5M483.8 212.5v5M482.1 213.3l3.5 3.5M482.1 216.8l3.5 -3.5M482.6 215h5M485.1 212.5v5M483.4 213.2l3.5 3.5M483.4 216.7l3.5 -3.5M491.3 214.3h5M493.8 211.8v5M492.1 212.6l3.5 3.5M492.1 216.1l3.5 -3.5M473.2 215.6h5M475.7 213.1v5M473.9 213.8l3.5 3.5M473.9 217.3l3.5 -3.5M474.6 215.1h5M477.1 212.6v5M475.4 213.4l3.5 3.5M475.4 216.9l3.5 -3.5M477.2 215.2h5M479.7 212.7v5M478 213.5l3.5 3.5M478 217l3.5 -3.5M479.4 216.6h5M481.9 214.1v5M480.1 214.9l3.5 3.5M480.1 218.4l3.5 -3.5M480.2 215h5M482.7 212.5v5M480.9 213.3l3.5 3.5M480.9 216.8l3.5 -3.5M482.8 215.4h5M485.3 212.9v5M483.5 213.6l3.5 3.5M483.5 217.1l3.5 -3.5M492.3 216.6h5M494.8 214.1v5M493.1 214.9l3.5 3.5M493.1 218.4l3.5 -3.5M465 217.5h5M467.5 215v5M465.8 215.7l3.5 3.5M465.8 219.2l3.5 -3.5M468.7 217.2h5M471.2 214.7v5M469.4 215.4l3.5 3.5M469.4 218.9l3.5 -3.5M469.6 217.3h5M472.1 214.8v5M470.3 215.5l3.5 3.5M470.3 219l3.5 -3.5M482 216.9h5M484.5 214.4v5M482.8 215.1l3.5 3.5M482.8 218.6l3.5 -3.5M490.7 218.2h5M493.2 215.7v5M491.5 216.4l3.5 3.5M491.5 219.9l3.5 -3.5M466 218.9h5M468.5 216.4v5M466.7 217.2l3.5 3.5M466.7 220.7l3.5 -3.5M466.4 218.2h5M468.9 215.7v5M467.2 216.4l3.5 3.5M467.2 219.9l3.5 -3.5M477.6 218.2h5M480.1 215.7v5M478.3 216.4l3.5 3.5M478.3 219.9l3.5 -3.5M490.4 218.4h5M492.9 215.9v5M491.1 216.7l3.5 3.5M491.1 220.2l3.5 -3.5M464.1 220.1h5M466.6 217.6v5M464.8 218.4l3.5 3.5M464.8 221.9l3.5 -3.5M489.5 220.8h5M492 218.3v5M490.2 219l3.5 3.5M490.2 222.5l3.5 -3.5M490.6 221.1h5M493.1 218.6v5M491.4 219.3l3.5 3.5M491.4 222.8l3.5 -3.5M456.8 222.1h5M459.3 219.6v5M457.6 220.4l3.5 3.5M457.6 223.9l3.5 -3.5M457.7 223.1h5M460.2 220.6v5M458.4 221.4l3.5 3.5M458.4 224.9l3.5 -3.5M464.3 222.9h5M466.8 220.4v5M465 221.1l3.5 3.5M465 224.6l3.5 -3.5M465.5 222.1h5M468 219.6v5M466.2 220.3l3.5 3.5M466.2 223.8l3.5 -3.5M476.3 222.8h5M478.8 220.3v5M477.1 221l3.5 3.5M477.1 224.5l3.5 -3.5M489.8 222.9h5M492.3 220.4v5M490.6 221.2l3.5 3.5M490.6 224.7l3.5 -3.5M456.9 223.5h5M459.4 221v5M457.6 221.7l3.5 3.5M457.6 225.2l3.5 -3.5M459.4 224.4h5M461.9 221.9v5M460.1 222.7l3.5 3.5M460.1 226.2l3.5 -3.5M467.9 223.5h5M470.4 221v5M468.7 221.8l3.5 3.5M468.7 225.3l3.5 -3.5M481.1 224.3h5M483.6 221.8v5M481.8 222.5l3.5 3.5M481.8 226l3.5 -3.5M487 223.3h5M489.5 220.8v5M487.7 221.5l3.5 3.5M487.7 225l3.5 -3.5M489.7 224.4h5M492.2 221.9v5M490.4 222.7l3.5 3.5M490.4 226.2l3.5 -3.5M456.9 226.3h5M459.4 223.8v5M457.7 224.5l3.5 3.5M457.7 228l3.5 -3.5M458.8 224.9h5M461.3 222.4v5M459.5 223.1l3.5 3.5M459.5 226.6l3.5 -3.5M459.4 225.5h5M461.9 223v5M460.1 223.7l3.5 3.5M460.1 227.2l3.5 -3.5M462.6 225.9h5M465.1 223.4v5M463.3 224.1l3.5 3.5M463.3 227.6l3.5 -3.5M463.6 225.6h5M466.1 223.1v5M464.3 223.9l3.5 3.5M464.3 227.4l3.5 -3.5M479.3 225.2h5M481.8 222.7v5M480.1 223.5l3.5 3.5M480.1 227l3.5 -3.5M489.2 225.1h5M491.7 222.6v5M489.9 223.4l3.5 3.5M489.9 226.9l3.5 -3.5M490.9 225h5M493.4 222.5v5M491.6 223.3l3.5 3.5M491.6 226.8l3.5 -3.5M456.1 227.2h5M458.6 224.7v5M456.8 225.5l3.5 3.5M456.8 229l3.5 -3.5M462.4 226.2h5M464.9 223.7v5M463.1 224.5l3.5 3.5M463.1 228l3.5 -3.5M482.4 227.9h5M484.9 225.4v5M483.2 226.2l3.5 3.5M483.2 229.7l3.5 -3.5M489.7 227.2h5M492.2 224.7v5M490.5 225.4l3.5 3.5M490.5 228.9l3.5 -3.5M454.4 229.5h5M456.9 227v5M455.1 227.7l3.5 3.5M455.1 231.2l3.5 -3.5M455.3 229h5M457.8 226.5v5M456.1 227.2l3.5 3.5M456.1 230.7l3.5 -3.5M461.3 229.1h5M463.8 226.6v5M462 227.3l3.5 3.5M462 230.8l3.5 -3.5M465.1 229h5M467.6 226.5v5M465.8 227.2l3.5 3.5M465.8 230.7l3.5 -3.5M489.4 229.2h5M491.9 226.7v5M490.2 227.5l3.5 3.5M490.2 231l3.5 -3.5M452.6 230.9h5M455.1 228.4v5M453.4 229.2l3.5 3.5M453.4 232.7l3.5 -3.5M454.5 231.1h5M457 228.6v5M455.3 229.4l3.5 3.5M455.3 232.9l3.5 -3.5M456.3 229.5h5M458.8 227v5M457.1 227.8l3.5 3.5M457.1 231.3l3.5 -3.5M462.1 230h5M464.6 227.5v5M462.9 228.2l3.5 3.5M462.9 231.7l3.5 -3.5M466.4 229.8h5M468.9 227.3v5M467.1 228l3.5 3.5M467.1 231.5l3.5 -3.5M489.8 231h5M492.3 228.5v5M490.5 229.3l3.5 3.5M490.5 232.8l3.5 -3.5M490.3 231.1h5M492.8 228.6v5M491.1 229.4l3.5 3.5M491.1 232.9l3.5 -3.5M451.3 232.6h5M453.8 230.1v5M452 230.9l3.5 3.5M452 234.4l3.5 -3.5M452.4 232.9h5M454.9 230.4v5M453.2 231.1l3.5 3.5M453.2 234.6l3.5 -3.5M473.7 231.3h5M476.2 228.8v5M474.5 229.5l3.5 3.5M474.5 233l3.5 -3.5M489.2 231.6h5M491.7 229.1v5M490 229.8l3.5 3.5M490 233.3l3.5 -3.5M452.6 233h5M455.1 230.5v5M453.4 231.3l3.5 3.5M453.4 234.8l3.5 -3.5M474 233.2h5M476.5 230.7v5M474.8 231.5l3.5 3.5M474.8 235l3.5 -3.5M485.3 233.2h5M487.8 230.7v5M486 231.5l3.5 3.5M486 235l3.5 -3.5M489.4 233.8h5M491.9 231.3v5M490.2 232.1l3.5 3.5M490.2 235.6l3.5 -3.5M489.8 234.3h5M492.3 231.8v5M490.5 232.6l3.5 3.5M490.5 236.1l3.5 -3.5M452.2 235.3h5M454.7 232.8v5M452.9 233.5l3.5 3.5M452.9 237l3.5 -3.5M478.6 235.9h5M481.1 233.4v5M479.3 234.1l3.5 3.5M479.3 237.6l3.5 -3.5M489.8 234.9h5M492.3 232.4v5M490.5 233.2l3.5 3.5M490.5 236.7l3.5 -3.5M448.8 237.4h5M451.3 234.9v5M449.5 235.7l3.5 3.5M449.5 239.2l3.5 -3.5M453.6 237.3h5M456.1 234.8v5M454.3 235.5l3.5 3.5M454.3 239l3.5 -3.5M489.7 236.5h5M492.2 234v5M490.4 234.7l3.5 3.5M490.4 238.2l3.5 -3.5M490.5 237h5M493 234.5v5M491.2 235.3l3.5 3.5M491.2 238.8l3.5 -3.5M444.5 238.5h5M447 236v5M445.2 236.7l3.5 3.5M445.2 240.2l3.5 -3.5M446.8 238h5M449.3 235.5v5M447.6 236.3l3.5 3.5M447.6 239.8l3.5 -3.5M448.6 237.9h5M451.1 235.4v5M449.4 236.2l3.5 3.5M449.4 239.7l3.5 -3.5M484.4 239.1h5M486.9 236.6v5M485.1 237.4l3.5 3.5M485.1 240.9l3.5 -3.5M489.3 238.8h5M491.8 236.3v5M490.1 237l3.5 3.5M490.1 240.5l3.5 -3.5M435.4 241.1h5M437.9 238.6v5M436.1 239.3l3.5 3.5M436.1 242.8l3.5 -3.5M436.4 240.6h5M438.9 238.1v5M437.2 238.8l3.5 3.5M437.2 242.3l3.5 -3.5M440.3 240.8h5M442.8 238.3v5M441 239l3.5 3.5M441 242.5l3.5 -3.5M443.4 239.5h5M445.9 237v5M444.2 237.8l3.5 3.5M444.2 241.3l3.5 -3.5M455.5 239.6h5M458 237.1v5M456.3 237.8l3.5 3.5M456.3 241.3l3.5 -3.5M456.8 240.7h5M459.3 238.2v5M457.6 239l3.5 3.5M457.6 242.5l3.5 -3.5M473.9 240.6h5M476.4 238.1v5M474.6 238.9l3.5 3.5M474.6 242.4l3.5 -3.5M476.8 240.8h5M479.3 238.3v5M477.5 239l3.5 3.5M477.5 242.5l3.5 -3.5M484.3 240.3h5M486.8 237.8v5M485.1 238.6l3.5 3.5M485.1 242.1l3.5 -3.5M489.5 239.3h5M492 236.8v5M490.3 237.5l3.5 3.5M490.3 241l3.5 -3.5M490.1 239.8h5M492.6 237.3v5M490.8 238l3.5 3.5M490.8 241.5l3.5 -3.5M433.9 242h5M436.4 239.5v5M434.7 240.3l3.5 3.5M434.7 243.8l3.5 -3.5M435 242.4h5M437.5 239.9v5M435.8 240.7l3.5 3.5M435.8 244.2l3.5 -3.5M437.3 241.9h5M439.8 239.4v5M438 240.2l3.5 3.5M438 243.7l3.5 -3.5M490.6 241.2h5M493.1 238.7v5M491.3 239.5l3.5 3.5M491.3 243l3.5 -3.5M491 242.3h5M493.5 239.8v5M491.7 240.6l3.5 3.5M491.7 244.1l3.5 -3.5M428.1 244.2h5M430.6 241.7v5M428.9 242.4l3.5 3.5M428.9 245.9l3.5 -3.5M430.7 243.8h5M433.2 241.3v5M431.5 242l3.5 3.5M431.5 245.5l3.5 -3.5M431.8 243.3h5M434.3 240.8v5M432.6 241.6l3.5 3.5M432.6 245.1l3.5 -3.5M434.5 242.9h5M437 240.4v5M435.3 241.1l3.5 3.5M435.3 244.6l3.5 -3.5M477.2 242.6h5M479.7 240.1v5M477.9 240.8l3.5 3.5M477.9 244.3l3.5 -3.5M479.6 242.9h5M482.1 240.4v5M480.3 241.2l3.5 3.5M480.3 244.7l3.5 -3.5M485.7 244.3h5M488.2 241.8v5M486.4 242.6l3.5 3.5M486.4 246.1l3.5 -3.5M489.5 242.9h5M492 240.4v5M490.2 241.1l3.5 3.5M490.2 244.6l3.5 -3.5M428.6 245.6h5M431.1 243.1v5M429.3 243.9l3.5 3.5M429.3 247.4l3.5 -3.5M434.2 244.3h5M436.7 241.8v5M435 242.5l3.5 3.5M435 246l3.5 -3.5M446.6 244.8h5M449.1 242.3v5M447.3 243l3.5 3.5M447.3 246.5l3.5 -3.5M483.1 244.8h5M485.6 242.3v5M483.9 243.1l3.5 3.5M483.9 246.6l3.5 -3.5M489.1 245.3h5M491.6 242.8v5M489.8 243.5l3.5 3.5M489.8 247l3.5 -3.5M427.3 245.9h5M429.8 243.4v5M428.1 244.1l3.5 3.5M428.1 247.6l3.5 -3.5M438.8 247.1h5M441.3 244.6v5M439.6 245.3l3.5 3.5M439.6 248.8l3.5 -3.5M440.6 245.9h5M443.1 243.4v5M441.3 244.2l3.5 3.5M441.3 247.7l3.5 -3.5M446.4 247.2h5M448.9 244.7v5M447.1 245.5l3.5 3.5M447.1 249l3.5 -3.5M478.3 247.2h5M480.8 244.7v5M479.1 245.5l3.5 3.5M479.1 249l3.5 -3.5M482.8 246.4h5M485.3 243.9v5M483.6 244.6l3.5 3.5M483.6 248.1l3.5 -3.5M487.3 246.1h5M489.8 243.6v5M488.1 244.4l3.5 3.5M488.1 247.9l3.5 -3.5M488.5 246.4h5M491 243.9v5M489.3 244.7l3.5 3.5M489.3 248.2l3.5 -3.5M428.8 249.1h5M431.3 246.6v5M429.6 247.3l3.5 3.5M429.6 250.8l3.5 -3.5M446.6 247.7h5M449.1 245.2v5M447.4 245.9l3.5 3.5M447.4 249.4l3.5 -3.5M462.9 248.3h5M465.4 245.8v5M463.6 246.5l3.5 3.5M463.6 250l3.5 -3.5M465.7 247.8h5M468.2 245.3v5M466.5 246l3.5 3.5M466.5 249.5l3.5 -3.5M471.9 249.2h5M474.4 246.7v5M472.6 247.4l3.5 3.5M472.6 250.9l3.5 -3.5M472 249.1h5M474.5 246.6v5M472.7 247.3l3.5 3.5M472.7 250.8l3.5 -3.5M477.9 248.1h5M480.4 245.6v5M478.7 246.4l3.5 3.5M478.7 249.9l3.5 -3.5M484.3 247.6h5M486.8 245.1v5M485 245.8l3.5 3.5M485 249.3l3.5 -3.5M487.2 247.8h5M489.7 245.3v5M488 246l3.5 3.5M488 249.5l3.5 -3.5M427.4 250.1h5M429.9 247.6v5M428.2 248.4l3.5 3.5M428.2 251.9l3.5 -3.5M428.5 250.5h5M431 248v5M429.2 248.7l3.5 3.5M429.2 252.2l3.5 -3.5M433.3 249.7h5M435.8 247.2v5M434.1 247.9l3.5 3.5M434.1 251.4l3.5 -3.5M453.8 250.5h5M456.3 248v5M454.6 248.7l3.5 3.5M454.6 252.2l3.5 -3.5M472.8 249.2h5M475.3 246.7v5M473.5 247.5l3.5 3.5M473.5 251l3.5 -3.5M475.4 249.7h5M477.9 247.2v5M476.2 247.9l3.5 3.5M476.2 251.4l3.5 -3.5M483.3 250.6h5M485.8 248.1v5M484.1 248.8l3.5 3.5M484.1 252.3l3.5 -3.5M484.8 249.8h5M487.3 247.3v5M485.6 248l3.5 3.5M485.6 251.5l3.5 -3.5M427.3 251.4h5M429.8 248.9v5M428.1 249.7l3.5 3.5M428.1 253.2l3.5 -3.5M434.3 251h5M436.8 248.5v5M435 249.2l3.5 3.5M435 252.7l3.5 -3.5M437.1 252.2h5M439.6 249.7v5M437.8 250.4l3.5 3.5M437.8 253.9l3.5 -3.5M458.6 252.2h5M461.1 249.7v5M459.3 250.5l3.5 3.5M459.3 254l3.5 -3.5M460.2 252.3h5M462.7 249.8v5M461 250.5l3.5 3.5M461 254l3.5 -3.5M468.9 252.3h5M471.4 249.8v5M469.6 250.5l3.5 3.5M469.6 254l3.5 -3.5M470.4 251.3h5M472.9 248.8v5M471.2 249.5l3.5 3.5M471.2 253l3.5 -3.5M480.7 251.2h5M483.2 248.7v5M481.4 249.4l3.5 3.5M481.4 252.9l3.5 -3.5M482.9 252h5M485.4 249.5v5M483.6 250.3l3.5 3.5M483.6 253.8l3.5 -3.5M441.3 253.5h5M443.8 251v5M442.1 251.8l3.5 3.5M442.1 255.3l3.5 -3.5M447.5 252.8h5M450 250.3v5M448.3 251.1l3.5 3.5M448.3 254.6l3.5 -3.5M456.5 253.3h5M459 250.8v5M457.3 251.5l3.5 3.5M457.3 255l3.5 -3.5M470.4 252.7h5M472.9 250.2v5M471.1 251l3.5 3.5M471.1 254.5l3.5 -3.5M476.4 252.3h5M478.9 249.8v5M477.1 250.6l3.5 3.5M477.1 254.1l3.5 -3.5M477.6 252.9h5M480.1 250.4v5M478.4 251.1l3.5 3.5M478.4 254.6l3.5 -3.5M478.8 253.9h5M481.3 251.4v5M479.6 252.1l3.5 3.5M479.6 255.6l3.5 -3.5M480.6 252.5h5M483.1 250v5M481.3 250.7l3.5 3.5M481.3 254.2l3.5 -3.5M428.4 255.5h5M430.9 253v5M429.1 253.7l3.5 3.5M429.1 257.2l3.5 -3.5M451 255h5M453.5 252.5v5M451.8 253.3l3.5 3.5M451.8 256.8l3.5 -3.5M452.9 254.9h5M455.4 252.4v5M453.7 253.1l3.5 3.5M453.7 256.6l3.5 -3.5M459 255.5h5M461.5 253v5M459.7 253.8l3.5 3.5M459.7 257.3l3.5 -3.5M461.2 255.3h5M463.7 252.8v5M462 253.5l3.5 3.5M462 257l3.5 -3.5M463 254.9h5M465.5 252.4v5M463.8 253.1l3.5 3.5M463.8 256.6l3.5 -3.5M470 254.1h5M472.5 251.6v5M470.7 252.4l3.5 3.5M470.7 255.9l3.5 -3.5M427.3 255.5h5M429.8 253v5M428 253.8l3.5 3.5M428 257.3l3.5 -3.5M428 257.1h5M430.5 254.6v5M428.7 255.3l3.5 3.5M428.7 258.8l3.5 -3.5M456.3 256.1h5M458.8 253.6v5M457 254.3l3.5 3.5M457 257.8l3.5 -3.5M459.7 255.5h5M462.2 253v5M460.4 253.8l3.5 3.5M460.4 257.3l3.5 -3.5M462.7 256.1h5M465.2 253.6v5M463.5 254.4l3.5 3.5M463.5 257.9l3.5 -3.5M428.8 258.2h5M431.3 255.7v5M429.5 256.4l3.5 3.5M429.5 259.9l3.5 -3.5M428.9 257.6h5M431.4 255.1v5M429.7 255.8l3.5 3.5M429.7 259.3l3.5 -3.5M449.3 258.5h5M451.8 256v5M450.1 256.7l3.5 3.5M450.1 260.2l3.5 -3.5M450.7 258.1h5M453.2 255.6v5M451.5 256.4l3.5 3.5M451.5 259.9l3.5 -3.5M452.9 257.4h5M455.4 254.9v5M453.7 255.6l3.5 3.5M453.7 259.1l3.5 -3.5M454 258.5h5M456.5 256v5M454.7 256.7l3.5 3.5M454.7 260.2l3.5 -3.5M427.7 260.2h5M430.2 257.7v5M428.5 258.4l3.5 3.5M428.5 261.9l3.5 -3.5M434.1 259.2h5M436.6 256.7v5M434.9 257.4l3.5 3.5M434.9 260.9l3.5 -3.5M448.4 260.5h5M450.9 258v5M449.2 258.7l3.5 3.5M449.2 262.2l3.5 -3.5M449.7 259h5M452.2 256.5v5M450.5 257.2l3.5 3.5M450.5 260.7l3.5 -3.5M428.4 260.6h5M430.9 258.1v5M429.2 258.9l3.5 3.5M429.2 262.4l3.5 -3.5M428.9 261.8h5M431.4 259.3v5M429.7 260l3.5 3.5M429.7 263.5l3.5 -3.5M432.1 260.5h5M434.6 258v5M432.9 258.8l3.5 3.5M432.9 262.3l3.5 -3.5M445 261.5h5M447.5 259v5M445.8 259.8l3.5 3.5M445.8 263.3l3.5 -3.5M447.2 261.2h5M449.7 258.7v5M448 259.5l3.5 3.5M448 263l3.5 -3.5M447.9 261.4h5M450.4 258.9v5M448.6 259.6l3.5 3.5M448.6 263.1l3.5 -3.5M427.5 263.5h5M430 261v5M428.3 261.7l3.5 3.5M428.3 265.2l3.5 -3.5M427.9 262.4h5M430.4 259.9v5M428.7 260.7l3.5 3.5M428.7 264.2l3.5 -3.5M442.6 262.9h5M445.1 260.4v5M443.4 261.1l3.5 3.5M443.4 264.6l3.5 -3.5M447.9 262h5M450.4 259.5v5M448.7 260.3l3.5 3.5M448.7 263.8l3.5 -3.5M428.7 264.5h5M431.2 262v5M429.5 262.7l3.5 3.5M429.5 266.2l3.5 -3.5M430.8 264.4h5M433.3 261.9v5M431.6 262.6l3.5 3.5M431.6 266.1l3.5 -3.5M440.8 265.2h5M443.3 262.7v5M441.5 263.5l3.5 3.5M441.5 267l3.5 -3.5M442.7 264.9h5M445.2 262.4v5M443.4 263.2l3.5 3.5M443.4 266.7l3.5 -3.5M444.1 264h5M446.6 261.5v5M444.9 262.3l3.5 3.5M444.9 265.8l3.5 -3.5M427.5 267h5M430 264.5v5M428.2 265.2l3.5 3.5M428.2 268.7l3.5 -3.5M428 266.7h5M430.5 264.2v5M428.7 264.9l3.5 3.5M428.7 268.4l3.5 -3.5M431.3 267h5M433.8 264.5v5M432.1 265.3l3.5 3.5M432.1 268.8l3.5 -3.5M436 266h5M438.5 263.5v5M436.7 264.3l3.5 3.5M436.7 267.8l3.5 -3.5M438.5 265.7h5M441 263.2v5M439.2 264l3.5 3.5M439.2 267.5l3.5 -3.5M440.2 266h5M442.7 263.5v5M440.9 264.2l3.5 3.5M440.9 267.7l3.5 -3.5M427.1 267.9h5M429.6 265.4v5M427.9 266.1l3.5 3.5M427.9 269.6l3.5 -3.5M434 268.1h5M436.5 265.6v5M434.7 266.4l3.5 3.5M434.7 269.9l3.5 -3.5M436.1 267.9h5M438.6 265.4v5M436.8 266.1l3.5 3.5M436.8 269.6l3.5 -3.5M436.9 266.9h5M439.4 264.4v5M437.6 265.2l3.5 3.5M437.6 268.7l3.5 -3.5M427.7 269.2h5M430.2 266.7v5M428.5 267.4l3.5 3.5M428.5 270.9l3.5 -3.5M428.6 269.4h5M431.1 266.9v5M429.3 267.7l3.5 3.5M429.3 271.2l3.5 -3.5M433 269.7h5M435.5 267.2v5M433.8 268l3.5 3.5M433.8 271.5l3.5 -3.5M434.5 270.3h5M437 267.8v5M435.2 268.5l3.5 3.5M435.2 272l3.5 -3.5M428.4 270.6h5M430.9 268.1v5M429.1 268.9l3.5 3.5M429.1 272.4l3.5 -3.5M431.7 271.3h5M434.2 268.8v5M432.4 269.5l3.5 3.5M432.4 273l3.5 -3.5M434.2 270.5h5M436.7 268v5M434.9 268.7l3.5 3.5M434.9 272.2l3.5 -3.5M427.7 273.2h5M430.2 270.7v5M428.4 271.4l3.5 3.5M428.4 274.9l3.5 -3.5M429 272.4h5M431.5 269.9v5M429.7 270.6l3.5 3.5M429.7 274.1l3.5 -3.5M431.7 272h5M434.2 269.5v5M432.4 270.2l3.5 3.5M432.4 273.7l3.5 -3.5M432 272.4h5M434.5 269.9v5M432.7 270.6l3.5 3.5M432.7 274.1l3.5 -3.5M428.5 274.9h5M431 272.4v5M429.2 273.2l3.5 3.5M429.2 276.7l3.5 -3.5M429 274.4h5M431.5 271.9v5M429.7 272.6l3.5 3.5M429.7 276.1l3.5 -3.5M428.3 275.6h5M430.8 273.1v5M429.1 273.9l3.5 3.5M429.1 277.4l3.5 -3.5M427.7 277.2h5M430.2 274.7v5M428.4 275.5l3.5 3.5M428.4 279l3.5 -3.5M429 277.7h5M431.5 275.2v5M429.7 276l3.5 3.5M429.7 279.5l3.5 -3.5M471.6 192.9h5M474.1 190.4v5M472.3 191.1l3.5 3.5M472.3 194.6l3.5 -3.5M471.6 196.9h5M474.1 194.4v5M472.3 195.1l3.5 3.5M472.3 198.6l3.5 -3.5M471.6 200.3h5M474.1 197.8v5M472.3 198.6l3.5 3.5M472.3 202.1l3.5 -3.5M468.1 204.4h5M470.6 201.9v5M468.9 202.6l3.5 3.5M468.9 206.1l3.5 -3.5M471.6 208h5M474.1 205.5v5M472.3 206.2l3.5 3.5M472.3 209.7l3.5 -3.5M481.9 196.9h5M484.4 194.4v5M482.7 195.1l3.5 3.5M482.7 198.6l3.5 -3.5M481.9 200.9h5M484.4 198.4v5M482.7 199.2l3.5 3.5M482.7 202.7l3.5 -3.5M517.2 168.6h5M519.7 166.1v5M518 166.8l3.5 3.5M518 170.3l3.5 -3.5M525.3 163.6h5M527.8 161.1v5M526.1 161.8l3.5 3.5M526.1 165.3l3.5 -3.5M676 36.4h5M678.5 33.9v5M676.8 34.6l3.5 3.5M676.8 38.1l3.5 -3.5M679 33.9h5M681.5 31.4v5M679.7 32.2l3.5 3.5M679.7 35.7l3.5 -3.5M678 37.9h5M680.5 35.4v5M678.7 36.1l3.5 3.5M678.7 39.6l3.5 -3.5M406 233.5h5M408.5 231v5M406.8 231.7l3.5 3.5M406.8 235.2l3.5 -3.5M406 236.1h5M408.5 233.6v5M406.7 234.3l3.5 3.5M406.7 237.8l3.5 -3.5M406.2 236.4h5M408.7 233.9v5M406.9 234.6l3.5 3.5M406.9 238.1l3.5 -3.5M405.5 240h5M408 237.5v5M406.3 238.3l3.5 3.5M406.3 241.8l3.5 -3.5M406.1 241.5h5M408.6 239v5M406.8 239.8l3.5 3.5M406.8 243.3l3.5 -3.5M405.8 245.4h5M408.3 242.9v5M406.5 243.7l3.5 3.5M406.5 247.2l3.5 -3.5M406.2 246.7h5M408.7 244.2v5M406.9 244.9l3.5 3.5M406.9 248.4l3.5 -3.5M406 247.1h5M408.5 244.6v5M406.7 245.4l3.5 3.5M406.7 248.9l3.5 -3.5M406 251.1h5M408.5 248.6v5M406.7 249.3l3.5 3.5M406.7 252.8l3.5 -3.5M406.1 251.7h5M408.6 249.2v5M406.8 249.9l3.5 3.5M406.8 253.4l3.5 -3.5M406.3 253.5h5M408.8 251v5M407.1 251.8l3.5 3.5M407.1 255.3l3.5 -3.5M406 255.1h5M408.5 252.6v5M406.7 253.3l3.5 3.5M406.7 256.8l3.5 -3.5M406.1 256.3h5M408.6 253.8v5M406.9 254.5l3.5 3.5M406.9 258l3.5 -3.5M405.8 258.3h5M408.3 255.8v5M406.6 256.6l3.5 3.5M406.6 260.1l3.5 -3.5M405.7 261.3h5M408.2 258.8v5M406.5 259.6l3.5 3.5M406.5 263.1l3.5 -3.5M405.9 262.8h5M408.4 260.3v5M406.6 261.1l3.5 3.5M406.6 264.6l3.5 -3.5M405.7 267.2h5M408.2 264.7v5M406.4 265.5l3.5 3.5M406.4 269l3.5 -3.5M406.2 269.5h5M408.7 267v5M406.9 267.8l3.5 3.5M406.9 271.3l3.5 -3.5M405.4 271.6h5M407.9 269.1v5M406.2 269.8l3.5 3.5M406.2 273.3l3.5 -3.5M406.6 275.7h5M409.1 273.2v5M407.4 273.9l3.5 3.5M407.4 277.4l3.5 -3.5M405.7 275.7h5M408.2 273.2v5M406.5 274l3.5 3.5M406.5 277.5l3.5 -3.5M406.2 278.4h5M408.7 275.9v5M407 276.7l3.5 3.5M407 280.2l3.5 -3.5M405.9 279.7h5M408.4 277.2v5M406.7 277.9l3.5 3.5M406.7 281.4l3.5 -3.5M406 281.2h5M408.5 278.7v5M406.7 279.4l3.5 3.5M406.7 282.9l3.5 -3.5M405.9 282.7h5M408.4 280.2v5M406.6 280.9l3.5 3.5M406.6 284.4l3.5 -3.5M406.2 282.7h5M408.7 280.2v5M406.9 281l3.5 3.5M406.9 284.5l3.5 -3.5M406 284.6h5M408.5 282.1v5M406.8 282.8l3.5 3.5M406.8 286.3l3.5 -3.5M405.7 286.2h5M408.2 283.7v5M406.4 284.5l3.5 3.5M406.4 288l3.5 -3.5M406.1 287.1h5M408.6 284.6v5M406.9 285.3l3.5 3.5M406.9 288.8l3.5 -3.5M406.6 288.7h5M409.1 286.2v5M407.3 286.9l3.5 3.5M407.3 290.4l3.5 -3.5M405.5 291.7h5M408 289.2v5M406.2 290l3.5 3.5M406.2 293.5l3.5 -3.5M405.8 292.5h5M408.3 290v5M406.5 290.8l3.5 3.5M406.5 294.3l3.5 -3.5M405.5 294.8h5M408 292.3v5M406.2 293l3.5 3.5M406.2 296.5l3.5 -3.5M414 276.5h5M416.5 274v5M414.8 274.7l3.5 3.5M414.8 278.2l3.5 -3.5M413.5 276.9h5M416 274.4v5M414.2 275.1l3.5 3.5M414.2 278.6l3.5 -3.5M414.9 276.8h5M417.4 274.3v5M415.6 275.1l3.5 3.5M415.6 278.6l3.5 -3.5M413 278.6h5M415.5 276.1v5M413.8 276.8l3.5 3.5M413.8 280.3l3.5 -3.5M412.3 280.7h5M414.8 278.2v5M413.1 279l3.5 3.5M413.1 282.5l3.5 -3.5M413.6 280.2h5M416.1 277.7v5M414.3 278.5l3.5 3.5M414.3 282l3.5 -3.5M414.1 280.7h5M416.6 278.2v5M414.8 279l3.5 3.5M414.8 282.5l3.5 -3.5M411.1 283.2h5M413.6 280.7v5M411.8 281.4l3.5 3.5M411.8 284.9l3.5 -3.5M412.3 282.2h5M414.8 279.7v5M413 280.4l3.5 3.5M413 283.9l3.5 -3.5M414 283.3h5M416.5 280.8v5M414.7 281.6l3.5 3.5M414.7 285.1l3.5 -3.5M410.6 284.2h5M413.1 281.7v5M411.3 282.4l3.5 3.5M411.3 285.9l3.5 -3.5M412 284.6h5M414.5 282.1v5M412.7 282.8l3.5 3.5M412.7 286.3l3.5 -3.5M413.6 284.8h5M416.1 282.3v5M414.4 283.1l3.5 3.5M414.4 286.6l3.5 -3.5M412.7 285.9h5M415.2 283.4v5M413.4 284.2l3.5 3.5M413.4 287.7l3.5 -3.5M413.6 285.6h5M416.1 283.1v5M414.3 283.9l3.5 3.5M414.3 287.4l3.5 -3.5M609.7 80.2h5M612.2 77.7v5M610.5 78.5l3.5 3.5M610.5 82l3.5 -3.5M606 82.1h5M608.5 79.6v5M606.7 80.4l3.5 3.5M606.7 83.9l3.5 -3.5M608.6 81.3h5M611.1 78.8v5M609.3 79.6l3.5 3.5M609.3 83.1l3.5 -3.5M610.8 81.1h5M613.3 78.6v5M611.6 79.4l3.5 3.5M611.6 82.9l3.5 -3.5M605.8 82.1h5M608.3 79.6v5M606.6 80.3l3.5 3.5M606.6 83.8l3.5 -3.5M607.4 82.5h5M609.9 80v5M608.2 80.8l3.5 3.5M608.2 84.3l3.5 -3.5M608.8 82.9h5M611.3 80.4v5M609.6 81.1l3.5 3.5M609.6 84.6l3.5 -3.5M610.9 82.1h5M613.4 79.6v5M611.6 80.3l3.5 3.5M611.6 83.8l3.5 -3.5M600.6 84.5h5M603.1 82v5M601.4 82.8l3.5 3.5M601.4 86.3l3.5 -3.5M601.8 84h5M604.3 81.5v5M602.5 82.2l3.5 3.5M602.5 85.7l3.5 -3.5M604.3 83.8h5M606.8 81.3v5M605.1 82.1l3.5 3.5M605.1 85.6l3.5 -3.5M605.7 83.9h5M608.2 81.4v5M606.5 82.2l3.5 3.5M606.5 85.7l3.5 -3.5M608.7 83.5h5M611.2 81v5M609.4 81.8l3.5 3.5M609.4 85.3l3.5 -3.5M599.6 85.4h5M602.1 82.9v5M600.3 83.7l3.5 3.5M600.3 87.2l3.5 -3.5M602 85.8h5M604.5 83.3v5M602.8 84l3.5 3.5M602.8 87.5l3.5 -3.5M603.2 84.9h5M605.7 82.4v5M603.9 83.2l3.5 3.5M603.9 86.7l3.5 -3.5M605.5 85.5h5M608 83v5M606.2 83.8l3.5 3.5M606.2 87.3l3.5 -3.5M599.1 86.2h5M601.6 83.7v5M599.8 84.5l3.5 3.5M599.8 88l3.5 -3.5M601.3 87h5M603.8 84.5v5M602.1 85.3l3.5 3.5M602.1 88.8l3.5 -3.5M602.8 86.5h5M605.3 84v5M603.6 84.8l3.5 3.5M603.6 88.3l3.5 -3.5M614.8 75.7h5M617.3 73.2v5M615.6 73.9l3.5 3.5M615.6 77.4l3.5 -3.5M612.7 76.2h5M615.2 73.7v5M613.5 74.5l3.5 3.5M613.5 78l3.5 -3.5M614.2 76.1h5M616.7 73.6v5M615 74.4l3.5 3.5M615 77.9l3.5 -3.5M609.3 78.4h5M611.8 75.9v5M610.1 76.6l3.5 3.5M610.1 80.1l3.5 -3.5M609.6 78.4h5M612.1 75.9v5M610.4 76.6l3.5 3.5M610.4 80.1l3.5 -3.5M611.8 77.1h5M614.3 74.6v5M612.5 75.3l3.5 3.5M612.5 78.8l3.5 -3.5M613.1 77.9h5M615.6 75.4v5M613.8 76.1l3.5 3.5M613.8 79.6l3.5 -3.5M608.3 79.7h5M610.8 77.2v5M609.1 77.9l3.5 3.5M609.1 81.4l3.5 -3.5M610 79.3h5M612.5 76.8v5M610.8 77.5l3.5 3.5M610.8 81l3.5 -3.5M611.4 79.6h5M613.9 77.1v5M612.2 77.8l3.5 3.5M612.2 81.3l3.5 -3.5M613.4 78.8h5M615.9 76.3v5M614.1 77l3.5 3.5M614.1 80.5l3.5 -3.5M607.2 80.5h5M609.7 78v5M607.9 78.8l3.5 3.5M607.9 82.3l3.5 -3.5M608.6 80.8h5M611.1 78.3v5M609.3 79.1l3.5 3.5M609.3 82.6l3.5 -3.5M609.5 80.8h5M612 78.3v5M610.2 79.1l3.5 3.5M610.2 82.6l3.5 -3.5M605.8 81.5h5M608.3 79v5M606.5 79.8l3.5 3.5M606.5 83.3l3.5 -3.5M622.5 68.1h5M625 65.6v5M623.3 66.4l3.5 3.5M623.3 69.9l3.5 -3.5M624.3 68.1h5M626.8 65.6v5M625.1 66.4l3.5 3.5M625.1 69.9l3.5 -3.5M621.2 69.3h5M623.7 66.8v5M621.9 67.5l3.5 3.5M621.9 71l3.5 -3.5M622.5 69.1h5M625 66.6v5M623.3 67.3l3.5 3.5M623.3 70.8l3.5 -3.5M623.9 69.3h5M626.4 66.8v5M624.7 67.6l3.5 3.5M624.7 71.1l3.5 -3.5M617.2 71.6h5M619.7 69.1v5M618 69.9l3.5 3.5M618 73.4l3.5 -3.5M617.7 71.3h5M620.2 68.8v5M618.4 69.6l3.5 3.5M618.4 73.1l3.5 -3.5M618.8 71.8h5M621.3 69.3v5M619.6 70l3.5 3.5M619.6 73.5l3.5 -3.5M620.9 71.9h5M623.4 69.4v5M621.7 70.1l3.5 3.5M621.7 73.6l3.5 -3.5M622.1 71.4h5M624.6 68.9v5M622.9 69.6l3.5 3.5M622.9 73.1l3.5 -3.5M616.2 73.2h5M618.7 70.7v5M617 71.5l3.5 3.5M617 75l3.5 -3.5M616.6 72.4h5M619.1 69.9v5M617.4 70.6l3.5 3.5M617.4 74.1l3.5 -3.5M618.2 72.3h5M620.7 69.8v5M619 70.5l3.5 3.5M619 74l3.5 -3.5M621.4 72.1h5M623.9 69.6v5M622.1 70.3l3.5 3.5M622.1 73.8l3.5 -3.5M614.1 73.6h5M616.6 71.1v5M614.9 71.8l3.5 3.5M614.9 75.3l3.5 -3.5M617.1 74.1h5M619.6 71.6v5M617.9 72.3l3.5 3.5M617.9 75.8l3.5 -3.5M617.4 74.4h5M619.9 71.9v5M618.2 72.7l3.5 3.5M618.2 76.2l3.5 -3.5M619.8 73.2h5M622.3 70.7v5M620.5 71.4l3.5 3.5M620.5 74.9l3.5 -3.5M614.6 74.9h5M617.1 72.4v5M615.3 73.1l3.5 3.5M615.3 76.6l3.5 -3.5M615.2 75h5M617.7 72.5v5M615.9 73.2l3.5 3.5M615.9 76.7l3.5 -3.5M636.3 58.7h5M638.8 56.2v5M637 57l3.5 3.5M637 60.5l3.5 -3.5M637.2 58.8h5M639.7 56.3v5M637.9 57.1l3.5 3.5M637.9 60.6l3.5 -3.5M639.6 58.4h5M642.1 55.9v5M640.4 56.6l3.5 3.5M640.4 60.1l3.5 -3.5M640.1 57.3h5M642.6 54.8v5M640.8 55.6l3.5 3.5M640.8 59.1l3.5 -3.5M634.7 60h5M637.2 57.5v5M635.4 58.2l3.5 3.5M635.4 61.7l3.5 -3.5M637.2 59.9h5M639.7 57.4v5M637.9 58.1l3.5 3.5M637.9 61.6l3.5 -3.5M638.6 59.3h5M641.1 56.8v5M639.4 57.6l3.5 3.5M639.4 61.1l3.5 -3.5M639 60h5M641.5 57.5v5M639.7 58.3l3.5 3.5M639.7 61.8l3.5 -3.5M633.3 61.5h5M635.8 59v5M634 59.7l3.5 3.5M634 63.2l3.5 -3.5M634.3 60.7h5M636.8 58.2v5M635.1 59l3.5 3.5M635.1 62.5l3.5 -3.5M635.9 60.4h5M638.4 57.9v5M636.6 58.7l3.5 3.5M636.6 62.2l3.5 -3.5M637.6 60.9h5M640.1 58.4v5M638.3 59.2l3.5 3.5M638.3 62.7l3.5 -3.5M629.2 62.7h5M631.7 60.2v5M630 60.9l3.5 3.5M630 64.4l3.5 -3.5M630.5 62.1h5M633 59.6v5M631.3 60.4l3.5 3.5M631.3 63.9l3.5 -3.5M631.5 62.1h5M634 59.6v5M632.3 60.3l3.5 3.5M632.3 63.8l3.5 -3.5M633.8 61.9h5M636.3 59.4v5M634.5 60.1l3.5 3.5M634.5 63.6l3.5 -3.5M634.3 62.3h5M636.8 59.8v5M635 60.5l3.5 3.5M635 64l3.5 -3.5M636.7 61.6h5M639.2 59.1v5M637.4 59.9l3.5 3.5M637.4 63.4l3.5 -3.5M625.9 64h5M628.4 61.5v5M626.7 62.2l3.5 3.5M626.7 65.7l3.5 -3.5M627.8 63.5h5M630.3 61v5M628.6 61.7l3.5 3.5M628.6 65.2l3.5 -3.5M628.9 63.8h5M631.4 61.3v5M629.7 62l3.5 3.5M629.7 65.5l3.5 -3.5M631.3 63.6h5M633.8 61.1v5M632 61.9l3.5 3.5M632 65.4l3.5 -3.5M625.2 64.7h5M627.7 62.2v5M625.9 63l3.5 3.5M625.9 66.5l3.5 -3.5M626.9 65.7h5M629.4 63.2v5M627.7 63.9l3.5 3.5M627.7 67.4l3.5 -3.5M629.2 64.4h5M631.7 61.9v5M630 62.6l3.5 3.5M630 66.1l3.5 -3.5M630.7 64.4h5M633.2 61.9v5M631.5 62.7l3.5 3.5M631.5 66.2l3.5 -3.5M625.1 66.4h5M627.6 63.9v5M625.9 64.6l3.5 3.5M625.9 68.1l3.5 -3.5M649.2 48.7h5M651.7 46.2v5M650 46.9l3.5 3.5M650 50.4l3.5 -3.5M650.9 48.6h5M653.4 46.1v5M651.6 46.8l3.5 3.5M651.6 50.3l3.5 -3.5M653.1 47.4h5M655.6 44.9v5M653.9 45.7l3.5 3.5M653.9 49.2l3.5 -3.5M654.4 48.4h5M656.9 45.9v5M655.2 46.7l3.5 3.5M655.2 50.2l3.5 -3.5M648.1 49.8h5M650.6 47.3v5M648.9 48l3.5 3.5M648.9 51.5l3.5 -3.5M649.9 48.9h5M652.4 46.4v5M650.7 47.2l3.5 3.5M650.7 50.7l3.5 -3.5M651.1 49.3h5M653.6 46.8v5M651.8 47.5l3.5 3.5M651.8 51l3.5 -3.5M653.1 48.8h5M655.6 46.3v5M653.8 47l3.5 3.5M653.8 50.5l3.5 -3.5M653.2 49.7h5M655.7 47.2v5M654 47.9l3.5 3.5M654 51.4l3.5 -3.5M644.8 50.7h5M647.3 48.2v5M645.6 48.9l3.5 3.5M645.6 52.4l3.5 -3.5M646.1 51.3h5M648.6 48.8v5M646.9 49.6l3.5 3.5M646.9 53.1l3.5 -3.5M648.9 50h5M651.4 47.5v5M649.7 48.3l3.5 3.5M649.7 51.8l3.5 -3.5M650.5 51h5M653 48.5v5M651.3 49.3l3.5 3.5M651.3 52.8l3.5 -3.5M653.2 50h5M655.7 47.5v5M654 48.2l3.5 3.5M654 51.7l3.5 -3.5M644 51.7h5M646.5 49.2v5M644.8 49.9l3.5 3.5M644.8 53.4l3.5 -3.5M646.3 51.8h5M648.8 49.3v5M647.1 50l3.5 3.5M647.1 53.5l3.5 -3.5M648.1 52.5h5M650.6 50v5M648.8 50.8l3.5 3.5M648.8 54.3l3.5 -3.5M643.4 53.1h5M645.9 50.6v5M644.1 51.3l3.5 3.5M644.1 54.8l3.5 -3.5M644.6 53.2h5M647.1 50.7v5M645.4 51.4l3.5 3.5M645.4 54.9l3.5 -3.5M674.9 33.4h5M677.4 30.9v5M675.6 31.6l3.5 3.5M675.6 35.1l3.5 -3.5M676.7 33h5M679.2 30.5v5M677.4 31.2l3.5 3.5M677.4 34.7l3.5 -3.5M678.7 32.3h5M681.2 29.8v5M679.5 30.6l3.5 3.5M679.5 34.1l3.5 -3.5M673.2 34.3h5M675.7 31.8v5M674 32.6l3.5 3.5M674 36.1l3.5 -3.5M674.7 34.4h5M677.2 31.9v5M675.4 32.7l3.5 3.5M675.4 36.2l3.5 -3.5M676.6 33.4h5M679.1 30.9v5M677.4 31.7l3.5 3.5M677.4 35.2l3.5 -3.5M669.6 35.6h5M672.1 33.1v5M670.4 33.9l3.5 3.5M670.4 37.4l3.5 -3.5M670 35.4h5M672.5 32.9v5M670.8 33.7l3.5 3.5M670.8 37.2l3.5 -3.5M672.3 35.4h5M674.8 32.9v5M673 33.7l3.5 3.5M673 37.2l3.5 -3.5M674.1 35.6h5M676.6 33.1v5M674.9 33.9l3.5 3.5M674.9 37.4l3.5 -3.5M675.5 35h5M678 32.5v5M676.2 33.3l3.5 3.5M676.2 36.8l3.5 -3.5M668.9 36.6h5M671.4 34.1v5M669.6 34.9l3.5 3.5M669.6 38.4l3.5 -3.5M670.1 36.7h5M672.6 34.2v5M670.9 35l3.5 3.5M670.9 38.5l3.5 -3.5M670.8 36.2h5M673.3 33.7v5M671.6 34.5l3.5 3.5M671.6 38l3.5 -3.5M666.1 37.5h5M668.6 35v5M666.9 35.8l3.5 3.5M666.9 39.3l3.5 -3.5M667.9 37.9h5M670.4 35.4v5M668.7 36.1l3.5 3.5M668.7 39.6l3.5 -3.5M668.3 37.7h5M670.8 35.2v5M669.1 36l3.5 3.5M669.1 39.5l3.5 -3.5M661.3 40.1h5M663.8 37.6v5M662 38.3l3.5 3.5M662 41.8l3.5 -3.5M663.1 40.1h5M665.6 37.6v5M663.8 38.3l3.5 3.5M663.8 41.8l3.5 -3.5M665.2 39h5M667.7 36.5v5M666 37.3l3.5 3.5M666 40.8l3.5 -3.5M668.2 38.9h5M670.7 36.4v5M669 37.1l3.5 3.5M669 40.6l3.5 -3.5M659.7 41.2h5M662.2 38.7v5M660.4 39.5l3.5 3.5M660.4 43l3.5 -3.5M660.8 41.1h5M663.3 38.6v5M661.6 39.3l3.5 3.5M661.6 42.8l3.5 -3.5M662.6 41h5M665.1 38.5v5M663.4 39.3l3.5 3.5M663.4 42.8l3.5 -3.5M659.4 42.5h5M661.9 40v5M660.2 40.8l3.5 3.5M660.2 44.3l3.5 -3.5M660.1 42.1h5M662.6 39.6v5M660.9 40.3l3.5 3.5M660.9 43.8l3.5 -3.5M657.6 43.7h5M660.1 41.2v5M658.4 41.9l3.5 3.5M658.4 45.4l3.5 -3.5M643.1 67.6h5M645.6 65.1v5M643.9 65.8l3.5 3.5M643.9 69.3l3.5 -3.5M645.2 67.1h5M647.7 64.6v5M646 65.4l3.5 3.5M646 68.9l3.5 -3.5M647.3 67.3h5M649.8 64.8v5M648.1 65.5l3.5 3.5M648.1 69l3.5 -3.5M638.9 68.4h5M641.4 65.9v5M639.6 66.6l3.5 3.5M639.6 70.1l3.5 -3.5M640.8 69h5M643.3 66.5v5M641.5 67.3l3.5 3.5M641.5 70.8l3.5 -3.5M642.6 68.6h5M645.1 66.1v5M643.4 66.8l3.5 3.5M643.4 70.3l3.5 -3.5M643.5 68.3h5M646 65.8v5M644.3 66.6l3.5 3.5M644.3 70.1l3.5 -3.5M636.4 69.2h5M638.9 66.7v5M637.2 67.5l3.5 3.5M637.2 71l3.5 -3.5M637.4 70h5M639.9 67.5v5M638.2 68.2l3.5 3.5M638.2 71.7l3.5 -3.5M639.6 69.5h5M642.1 67v5M640.3 67.7l3.5 3.5M640.3 71.2l3.5 -3.5M640.3 69.3h5M642.8 66.8v5M641.1 67.5l3.5 3.5M641.1 71l3.5 -3.5M634.5 70.6h5M637 68.1v5M635.2 68.8l3.5 3.5M635.2 72.3l3.5 -3.5M627.1 74.6h5M629.6 72.1v5M627.9 72.9l3.5 3.5M627.9 76.4l3.5 -3.5M628.5 73.8h5M631 71.3v5M629.2 72l3.5 3.5M629.2 75.5l3.5 -3.5M626.3 76h5M628.8 73.5v5M627.1 74.3l3.5 3.5M627.1 77.8l3.5 -3.5M624.2 77.7h5M626.7 75.2v5M625 76l3.5 3.5M625 79.5l3.5 -3.5M625.9 76.4h5M628.4 73.9v5M626.6 74.6l3.5 3.5M626.6 78.1l3.5 -3.5M622.5 78.6h5M625 76.1v5M623.2 76.8l3.5 3.5M623.2 80.3l3.5 -3.5M620.5 79.6h5M623 77.1v5M621.3 77.8l3.5 3.5M621.3 81.3l3.5 -3.5M618.6 81.5h5M621.1 79v5M619.3 79.7l3.5 3.5M619.3 83.2l3.5 -3.5M616.4 81.4h5M618.9 78.9v5M617.2 79.7l3.5 3.5M617.2 83.2l3.5 -3.5M617.5 82.4h5M620 79.9v5M618.3 80.7l3.5 3.5M618.3 84.2l3.5 -3.5M615.6 82.5h5M618.1 80v5M616.4 80.7l3.5 3.5M616.4 84.2l3.5 -3.5M616.2 83.5h5M618.7 81v5M616.9 81.8l3.5 3.5M616.9 85.3l3.5 -3.5M611.8 84.7h5M614.3 82.2v5M612.5 82.9l3.5 3.5M612.5 86.4l3.5 -3.5M613.4 83.9h5M615.9 81.4v5M614.1 82.2l3.5 3.5M614.1 85.7l3.5 -3.5M615.8 84.1h5M618.3 81.6v5M616.6 82.4l3.5 3.5M616.6 85.9l3.5 -3.5M611.7 86.4h5M614.2 83.9v5M612.5 84.6l3.5 3.5M612.5 88.1l3.5 -3.5M612.6 86.3h5M615.1 83.8v5M613.3 84.5l3.5 3.5M613.3 88l3.5 -3.5M609.1 87.6h5M611.6 85.1v5M609.9 85.8l3.5 3.5M609.9 89.3l3.5 -3.5M610.6 87.9h5M613.1 85.4v5M611.3 86.2l3.5 3.5M611.3 89.7l3.5 -3.5M611.8 86.9h5M614.3 84.4v5M612.6 85.1l3.5 3.5M612.6 88.6l3.5 -3.5M606.8 89.3h5M609.3 86.8v5M607.5 87.5l3.5 3.5M607.5 91l3.5 -3.5M609.3 89h5M611.8 86.5v5M610.1 87.3l3.5 3.5M610.1 90.8l3.5 -3.5M610.8 88.3h5M613.3 85.8v5M611.6 86.6l3.5 3.5M611.6 90.1l3.5 -3.5M607.4 90.3h5M609.9 87.8v5M608.1 88.6l3.5 3.5M608.1 92.1l3.5 -3.5M609.7 89.4h5M612.2 86.9v5M610.5 87.6l3.5 3.5M610.5 91.1l3.5 -3.5M605.7 90.8h5M608.2 88.3v5M606.4 89.1l3.5 3.5M606.4 92.6l3.5 -3.5M607.6 90.9h5M610.1 88.4v5M608.3 89.2l3.5 3.5M608.3 92.7l3.5 -3.5M603.9 92.4h5M606.4 89.9v5M604.7 90.6l3.5 3.5M604.7 94.1l3.5 -3.5M662 60.9h5M664.5 58.4v5M662.7 59.1l3.5 3.5M662.7 62.6l3.5 -3.5M663.3 60.9h5M665.8 58.4v5M664 59.2l3.5 3.5M664 62.7l3.5 -3.5M656.1 62.6h5M658.6 60.1v5M656.9 60.9l3.5 3.5M656.9 64.4l3.5 -3.5M547.7 142.9h5M550.2 140.4v5M548.5 141.2l3.5 3.5M548.5 144.7l3.5 -3.5M516 191.4h5M518.5 188.9v5M516.7 189.6l3.5 3.5M516.7 193.1l3.5 -3.5M518.1 188.7h5M520.6 186.2v5M518.9 187l3.5 3.5M518.9 190.5l3.5 -3.5M514.3 182.2h5M516.8 179.7v5M515.1 180.4l3.5 3.5M515.1 183.9l3.5 -3.5M513.4 183.3h5M515.9 180.8v5M514.1 181.6l3.5 3.5M514.1 185.1l3.5 -3.5M538 163.1h5M540.5 160.6v5M538.7 161.4l3.5 3.5M538.7 164.9l3.5 -3.5M514 183.5h5M516.5 181v5M514.7 181.7l3.5 3.5M514.7 185.2l3.5 -3.5M529.9 162.9h5M532.4 160.4v5M530.6 161.1l3.5 3.5M530.6 164.6l3.5 -3.5M531.8 169.8h5M534.3 167.3v5M532.5 168.1l3.5 3.5M532.5 171.6l3.5 -3.5M551.8 139.2h5M554.3 136.7v5M552.5 137.4l3.5 3.5M552.5 140.9l3.5 -3.5M541.4 160.2h5M543.9 157.7v5M542.1 158.5l3.5 3.5M542.1 162l3.5 -3.5M549.2 144.9h5M551.7 142.4v5M549.9 143.1l3.5 3.5M549.9 146.6l3.5 -3.5M535.6 159h5M538.1 156.5v5M536.4 157.3l3.5 3.5M536.4 160.8l3.5 -3.5M543.4 153.7h5M545.9 151.2v5M544.1 152l3.5 3.5M544.1 155.5l3.5 -3.5M502 188.6h5M504.5 186.1v5M502.8 186.9l3.5 3.5M502.8 190.4l3.5 -3.5M529.7 162.2h5M532.2 159.7v5M530.5 160.5l3.5 3.5M530.5 164l3.5 -3.5M518.5 176.1h5M521 173.6v5M519.3 174.3l3.5 3.5M519.3 177.8l3.5 -3.5M524.2 168.2h5M526.7 165.7v5M525 166.5l3.5 3.5M525 170l3.5 -3.5M512 186.4h5M514.5 183.9v5M512.7 184.7l3.5 3.5M512.7 188.2l3.5 -3.5M521.3 171.5h5M523.8 169v5M522.1 169.8l3.5 3.5M522.1 173.3l3.5 -3.5M533.4 165.3h5M535.9 162.8v5M534.2 163.5l3.5 3.5M534.2 167l3.5 -3.5M502.7 207.4h5M505.2 204.9v5M503.5 205.7l3.5 3.5M503.5 209.2l3.5 -3.5M498.2 202.6h5M500.7 200.1v5M499 200.8l3.5 3.5M499 204.3l3.5 -3.5M522.7 167.5h5M525.2 165v5M523.5 165.8l3.5 3.5M523.5 169.3l3.5 -3.5M499.6 211.8h5M502.1 209.3v5M500.4 210l3.5 3.5M500.4 213.5l3.5 -3.5M521.5 170.8h5M524 168.3v5M522.2 169.1l3.5 3.5M522.2 172.6l3.5 -3.5M514.3 193.7h5M516.8 191.2v5M515 191.9l3.5 3.5M515 195.4l3.5 -3.5M507.6 195.6h5M510.1 193.1v5M508.4 193.9l3.5 3.5M508.4 197.4l3.5 -3.5M528.5 168.5h5M531 166v5M529.2 166.7l3.5 3.5M529.2 170.2l3.5 -3.5M506.5 204.1h5M509 201.6v5M507.2 202.4l3.5 3.5M507.2 205.9l3.5 -3.5M530 166.5h5M532.5 164v5M530.8 164.7l3.5 3.5M530.8 168.2l3.5 -3.5M499.3 202.6h5M501.8 200.1v5M500 200.9l3.5 3.5M500 204.4l3.5 -3.5M551.2 145h5M553.7 142.5v5M552 143.3l3.5 3.5M552 146.8l3.5 -3.5M524.3 172h5M526.8 169.5v5M525 170.3l3.5 3.5M525 173.8l3.5 -3.5M516.6 183h5M519.1 180.5v5M517.3 181.2l3.5 3.5M517.3 184.7l3.5 -3.5M501.1 185.4h5M503.6 182.9v5M501.8 183.7l3.5 3.5M501.8 187.2l3.5 -3.5M545.7 152.6h5M548.2 150.1v5M546.5 150.8l3.5 3.5M546.5 154.3l3.5 -3.5M538.7 155.6h5M541.2 153.1v5M539.4 153.9l3.5 3.5M539.4 157.4l3.5 -3.5M496.3 192.1h5M498.8 189.6v5M497.1 190.3l3.5 3.5M497.1 193.8l3.5 -3.5M545.8 160.8h5M548.3 158.3v5M546.5 159l3.5 3.5M546.5 162.5l3.5 -3.5M499.3 198.2h5M501.8 195.7v5M500.1 196.5l3.5 3.5M500.1 200l3.5 -3.5M498.1 198h5M500.6 195.5v5M498.9 196.3l3.5 3.5M498.9 199.8l3.5 -3.5M540.6 161.3h5M543.1 158.8v5M541.3 159.6l3.5 3.5M541.3 163.1l3.5 -3.5M546.6 153.1h5M549.1 150.6v5M547.3 151.4l3.5 3.5M547.3 154.9l3.5 -3.5M502.4 200.2h5M504.9 197.7v5M503.2 198.4l3.5 3.5M503.2 201.9l3.5 -3.5M496.4 212.8h5M498.9 210.3v5M497.2 211l3.5 3.5M497.2 214.5l3.5 -3.5M537.3 164.6h5M539.8 162.1v5M538 162.8l3.5 3.5M538 166.3l3.5 -3.5M529.5 162.8h5M532 160.3v5M530.3 161l3.5 3.5M530.3 164.5l3.5 -3.5M539.9 160.1h5M542.4 157.6v5M540.6 158.4l3.5 3.5M540.6 161.9l3.5 -3.5M537.8 158.4h5M540.3 155.9v5M538.6 156.7l3.5 3.5M538.6 160.2l3.5 -3.5M524.3 174h5M526.8 171.5v5M525 172.3l3.5 3.5M525 175.8l3.5 -3.5M514.7 184.5h5M517.2 182v5M515.5 182.7l3.5 3.5M515.5 186.2l3.5 -3.5M512.2 190.1h5M514.7 187.6v5M513 188.4l3.5 3.5M513 191.9l3.5 -3.5M520.5 173.8h5M523 171.3v5M521.2 172.1l3.5 3.5M521.2 175.6l3.5 -3.5M512.5 187.3h5M515 184.8v5M513.2 185.6l3.5 3.5M513.2 189.1l3.5 -3.5M517.5 189.4h5M520 186.9v5M518.3 187.7l3.5 3.5M518.3 191.2l3.5 -3.5M542.7 160.9h5M545.2 158.4v5M543.4 159.1l3.5 3.5M543.4 162.6l3.5 -3.5M547.7 151.6h5M550.2 149.1v5M548.4 149.9l3.5 3.5M548.4 153.4l3.5 -3.5M526.7 178.2h5M529.2 175.7v5M527.5 176.4l3.5 3.5M527.5 179.9l3.5 -3.5M549.4 150h5M551.9 147.5v5M550.2 148.2l3.5 3.5M550.2 151.7l3.5 -3.5M549.6 149.1h5M552.1 146.6v5M550.4 147.4l3.5 3.5M550.4 150.9l3.5 -3.5M494.4 215.7h5M496.9 213.2v5M495.1 214l3.5 3.5M495.1 217.5l3.5 -3.5M547.2 148.7h5M549.7 146.2v5M547.9 147l3.5 3.5M547.9 150.5l3.5 -3.5M545.7 150.7h5M548.2 148.2v5M546.4 149l3.5 3.5M546.4 152.5l3.5 -3.5M497.1 210.9h5M499.6 208.4v5M497.9 209.2l3.5 3.5M497.9 212.7l3.5 -3.5M495.1 194h5M497.6 191.5v5M495.8 192.3l3.5 3.5M495.8 195.8l3.5 -3.5M519.6 182.8h5M522.1 180.3v5M520.3 181.1l3.5 3.5M520.3 184.6l3.5 -3.5M530 170h5M532.5 167.5v5M530.8 168.2l3.5 3.5M530.8 171.7l3.5 -3.5M498.1 200.8h5M500.6 198.3v5M498.9 199l3.5 3.5M498.9 202.5l3.5 -3.5M527 167.5h5M529.5 165v5M527.7 165.8l3.5 3.5M527.7 169.3l3.5 -3.5M531.1 165.8h5M533.6 163.3v5M531.8 164.1l3.5 3.5M531.8 167.6l3.5 -3.5M536.6 155.2h5M539.1 152.7v5M537.3 153.5l3.5 3.5M537.3 157l3.5 -3.5M545.6 155.8h5M548.1 153.3v5M546.4 154l3.5 3.5M546.4 157.5l3.5 -3.5M530.9 163.1h5M533.4 160.6v5M531.7 161.4l3.5 3.5M531.7 164.9l3.5 -3.5M540.8 150.2h5M543.3 147.7v5M541.6 148.4l3.5 3.5M541.6 151.9l3.5 -3.5M525.6 177.9h5M528.1 175.4v5M526.4 176.2l3.5 3.5M526.4 179.7l3.5 -3.5M497.9 206.9h5M500.4 204.4v5M498.6 205.2l3.5 3.5M498.6 208.7l3.5 -3.5M502.9 200.8h5M505.4 198.3v5M503.7 199l3.5 3.5M503.7 202.5l3.5 -3.5M501.9 202.7h5M504.4 200.2v5M502.7 200.9l3.5 3.5M502.7 204.4l3.5 -3.5M539.2 163.9h5M541.7 161.4v5M540 162.2l3.5 3.5M540 165.7l3.5 -3.5M497.2 195.3h5M499.7 192.8v5M497.9 193.6l3.5 3.5M497.9 197.1l3.5 -3.5M534.7 172.1h5M537.2 169.6v5M535.5 170.4l3.5 3.5M535.5 173.9l3.5 -3.5M521.9 168.5h5M524.4 166v5M522.7 166.8l3.5 3.5M522.7 170.3l3.5 -3.5M537.5 163.4h5M540 160.9v5M538.2 161.7l3.5 3.5M538.2 165.2l3.5 -3.5M515.2 194.1h5M517.7 191.6v5M515.9 192.3l3.5 3.5M515.9 195.8l3.5 -3.5M513.7 186.3h5M516.2 183.8v5M514.4 184.5l3.5 3.5M514.4 188l3.5 -3.5M541.9 157.3h5M544.4 154.8v5M542.7 155.6l3.5 3.5M542.7 159.1l3.5 -3.5M536.9 156h5M539.4 153.5v5M537.6 154.2l3.5 3.5M537.6 157.7l3.5 -3.5M535.9 164.9h5M538.4 162.4v5M536.6 163.2l3.5 3.5M536.6 166.7l3.5 -3.5M514.5 189h5M517 186.5v5M515.3 187.3l3.5 3.5M515.3 190.8l3.5 -3.5M497.2 194.5h5M499.7 192v5M497.9 192.8l3.5 3.5M497.9 196.3l3.5 -3.5M506 204.2h5M508.5 201.7v5M506.7 202.5l3.5 3.5M506.7 206l3.5 -3.5M527 166.4h5M529.5 163.9v5M527.7 164.7l3.5 3.5M527.7 168.2l3.5 -3.5M534.9 166.3h5M537.4 163.8v5M535.7 164.5l3.5 3.5M535.7 168l3.5 -3.5M536.3 156.5h5M538.8 154v5M537 154.7l3.5 3.5M537 158.2l3.5 -3.5M518 178.8h5M520.5 176.3v5M518.8 177l3.5 3.5M518.8 180.5l3.5 -3.5M513.2 184.9h5M515.7 182.4v5M513.9 183.2l3.5 3.5M513.9 186.7l3.5 -3.5M497.3 209.3h5M499.8 206.8v5M498 207.5l3.5 3.5M498 211l3.5 -3.5M503 207.9h5M505.5 205.4v5M503.8 206.2l3.5 3.5M503.8 209.7l3.5 -3.5M510.2 189.8h5M512.7 187.3v5M511 188.1l3.5 3.5M511 191.6l3.5 -3.5M498 196.7h5M500.5 194.2v5M498.8 195l3.5 3.5M498.8 198.5l3.5 -3.5M543.9 155.9h5M546.4 153.4v5M544.6 154.2l3.5 3.5M544.6 157.7l3.5 -3.5M507.1 182.1h5M509.6 179.6v5M507.8 180.4l3.5 3.5M507.8 183.9l3.5 -3.5M534 166.2h5M536.5 163.7v5M534.8 164.4l3.5 3.5M534.8 167.9l3.5 -3.5M543.3 158.3h5M545.8 155.8v5M544.1 156.6l3.5 3.5M544.1 160.1l3.5 -3.5M499.5 187.4h5M502 184.9v5M500.2 185.7l3.5 3.5M500.2 189.2l3.5 -3.5M545.7 151.5h5M548.2 149v5M546.4 149.8l3.5 3.5M546.4 153.3l3.5 -3.5M548.7 156.5h5M551.2 154v5M549.4 154.7l3.5 3.5M549.4 158.2l3.5 -3.5M545.4 159.6h5M547.9 157.1v5M546.2 157.8l3.5 3.5M546.2 161.3l3.5 -3.5M518.5 175.3h5M521 172.8v5M519.2 173.5l3.5 3.5M519.2 177l3.5 -3.5M508 202.1h5M510.5 199.6v5M508.7 200.3l3.5 3.5M508.7 203.8l3.5 -3.5M504.9 197.6h5M507.4 195.1v5M505.6 195.9l3.5 3.5M505.6 199.4l3.5 -3.5M514.4 184.3h5M516.9 181.8v5M515.1 182.5l3.5 3.5M515.1 186l3.5 -3.5M518.1 176.6h5M520.6 174.1v5M518.8 174.9l3.5 3.5M518.8 178.4l3.5 -3.5M545.7 155h5M548.2 152.5v5M546.4 153.2l3.5 3.5M546.4 156.7l3.5 -3.5M526.5 168.4h5M529 165.9v5M527.2 166.7l3.5 3.5M527.2 170.2l3.5 -3.5M529.9 167.5h5M532.4 165v5M530.6 165.7l3.5 3.5M530.6 169.2l3.5 -3.5M538.9 151.8h5M541.4 149.3v5M539.7 150l3.5 3.5M539.7 153.5l3.5 -3.5M520.8 180.8h5M523.3 178.3v5M521.6 179l3.5 3.5M521.6 182.5l3.5 -3.5M545.5 155.7h5M548 153.2v5M546.3 153.9l3.5 3.5M546.3 157.4l3.5 -3.5M519.7 182.3h5M522.2 179.8v5M520.4 180.6l3.5 3.5M520.4 184.1l3.5 -3.5M528.8 168.6h5M531.3 166.1v5M529.5 166.9l3.5 3.5M529.5 170.4l3.5 -3.5M512.8 193.7h5M515.3 191.2v5M513.6 191.9l3.5 3.5M513.6 195.4l3.5 -3.5M539 156.5h5M541.5 154v5M539.8 154.7l3.5 3.5M539.8 158.2l3.5 -3.5M515.1 180.7h5M517.6 178.2v5M515.8 179l3.5 3.5M515.8 182.5l3.5 -3.5M532.8 164h5M535.3 161.5v5M533.5 162.3l3.5 3.5M533.5 165.8l3.5 -3.5M544.8 156.8h5M547.3 154.3v5M545.6 155.1l3.5 3.5M545.6 158.6l3.5 -3.5M532 173.6h5M534.5 171.1v5M532.8 171.8l3.5 3.5M532.8 175.3l3.5 -3.5M498.8 191.7h5M501.3 189.2v5M499.5 189.9l3.5 3.5M499.5 193.4l3.5 -3.5M527.2 170.6h5M529.7 168.1v5M527.9 168.8l3.5 3.5M527.9 172.3l3.5 -3.5M532.1 169h5M534.6 166.5v5M532.9 167.3l3.5 3.5M532.9 170.8l3.5 -3.5M520.2 179.1h5M522.7 176.6v5M520.9 177.4l3.5 3.5M520.9 180.9l3.5 -3.5M532.1 174.3h5M534.6 171.8v5M532.8 172.6l3.5 3.5M532.8 176.1l3.5 -3.5M499.1 198.5h5M501.6 196v5M499.8 196.8l3.5 3.5M499.8 200.3l3.5 -3.5M538.2 153.8h5M540.7 151.3v5M539 152.1l3.5 3.5M539 155.6l3.5 -3.5M546.5 159.4h5M549 156.9v5M547.3 157.7l3.5 3.5M547.3 161.2l3.5 -3.5M521.7 179.6h5M524.2 177.1v5M522.4 177.8l3.5 3.5M522.4 181.3l3.5 -3.5M495.7 195.7h5M498.2 193.2v5M496.5 194l3.5 3.5M496.5 197.5l3.5 -3.5M510.9 192.7h5M513.4 190.2v5M511.6 191l3.5 3.5M511.6 194.5l3.5 -3.5M518 179.9h5M520.5 177.4v5M518.8 178.1l3.5 3.5M518.8 181.6l3.5 -3.5M535.3 160.1h5M537.8 157.6v5M536 158.4l3.5 3.5M536 161.9l3.5 -3.5M504.6 205.6h5M507.1 203.1v5M505.3 203.9l3.5 3.5M505.3 207.4l3.5 -3.5M528.1 167.6h5M530.6 165.1v5M528.8 165.8l3.5 3.5M528.8 169.3l3.5 -3.5M532.3 165.6h5M534.8 163.1v5M533.1 163.9l3.5 3.5M533.1 167.4l3.5 -3.5M497.8 203.1h5M500.3 200.6v5M498.5 201.3l3.5 3.5M498.5 204.8l3.5 -3.5M531.8 173.9h5M534.3 171.4v5M532.6 172.1l3.5 3.5M532.6 175.6l3.5 -3.5M513.9 183.6h5M516.4 181.1v5M514.7 181.8l3.5 3.5M514.7 185.3l3.5 -3.5M527.4 172.2h5M529.9 169.7v5M528.1 170.4l3.5 3.5M528.1 173.9l3.5 -3.5M499.7 201.8h5M502.2 199.3v5M500.5 200.1l3.5 3.5M500.5 203.6l3.5 -3.5M543.6 149.7h5M546.1 147.2v5M544.4 147.9l3.5 3.5M544.4 151.4l3.5 -3.5M516.2 187h5M518.7 184.5v5M516.9 185.2l3.5 3.5M516.9 188.7l3.5 -3.5M515.2 183.7h5M517.7 181.2v5M515.9 181.9l3.5 3.5M515.9 185.4l3.5 -3.5M531.8 169.3h5M534.3 166.8v5M532.5 167.5l3.5 3.5M532.5 171l3.5 -3.5M550.4 140.7h5M552.9 138.2v5M551.2 138.9l3.5 3.5M551.2 142.4l3.5 -3.5M535.4 161.6h5M537.9 159.1v5M536.2 159.9l3.5 3.5M536.2 163.4l3.5 -3.5M530.9 172.6h5M533.4 170.1v5M531.7 170.8l3.5 3.5M531.7 174.3l3.5 -3.5M534.8 165.8h5M537.3 163.3v5M535.6 164l3.5 3.5M535.6 167.5l3.5 -3.5M506.1 203.5h5M508.6 201v5M506.9 201.7l3.5 3.5M506.9 205.2l3.5 -3.5M503 199.5h5M505.5 197v5M503.7 197.7l3.5 3.5M503.7 201.2l3.5 -3.5M547.8 147.8h5M550.3 145.3v5M548.5 146.1l3.5 3.5M548.5 149.6l3.5 -3.5M494.4 214.7h5M496.9 212.2v5M495.1 212.9l3.5 3.5M495.1 216.4l3.5 -3.5M513.6 185.1h5M516.1 182.6v5M514.4 183.3l3.5 3.5M514.4 186.8l3.5 -3.5M552 142h5M554.5 139.5v5M552.8 140.2l3.5 3.5M552.8 143.7l3.5 -3.5M547.1 152.8h5M549.6 150.3v5M547.8 151.1l3.5 3.5M547.8 154.6l3.5 -3.5M507.6 197.1h5M510.1 194.6v5M508.4 195.4l3.5 3.5M508.4 198.9l3.5 -3.5M519.9 183.1h5M522.4 180.6v5M520.6 181.4l3.5 3.5M520.6 184.9l3.5 -3.5M549.3 147.8h5M551.8 145.3v5M550 146l3.5 3.5M550 149.5l3.5 -3.5M509.6 199.9h5M512.1 197.4v5M510.3 198.2l3.5 3.5M510.3 201.7l3.5 -3.5M512 191.1h5M514.5 188.6v5M512.8 189.3l3.5 3.5M512.8 192.8l3.5 -3.5M510.2 183.4h5M512.7 180.9v5M510.9 181.6l3.5 3.5M510.9 185.1l3.5 -3.5M502.5 184.4h5M505 181.9v5M503.3 182.6l3.5 3.5M503.3 186.1l3.5 -3.5M545.7 160.6h5M548.2 158.1v5M546.4 158.8l3.5 3.5M546.4 162.3l3.5 -3.5M513.1 189.5h5M515.6 187v5M513.9 187.8l3.5 3.5M513.9 191.3l3.5 -3.5M528.5 170.9h5M531 168.4v5M529.2 169.2l3.5 3.5M529.2 172.7l3.5 -3.5M519.6 182.9h5M522.1 180.4v5M520.4 181.2l3.5 3.5M520.4 184.7l3.5 -3.5M536.6 161.3h5M539.1 158.8v5M537.3 159.5l3.5 3.5M537.3 163l3.5 -3.5M516.4 182.6h5M518.9 180.1v5M517.2 180.9l3.5 3.5M517.2 184.4l3.5 -3.5M547 154.2h5M549.5 151.7v5M547.8 152.5l3.5 3.5M547.8 156l3.5 -3.5M497.5 203.2h5M500 200.7v5M498.3 201.5l3.5 3.5M498.3 205l3.5 -3.5M507.8 200.7h5M510.3 198.2v5M508.5 198.9l3.5 3.5M508.5 202.4l3.5 -3.5M540.4 160h5M542.9 157.5v5M541.2 158.3l3.5 3.5M541.2 161.8l3.5 -3.5M529.6 171.7h5M532.1 169.2v5M530.3 170l3.5 3.5M530.3 173.5l3.5 -3.5M516.9 175.4h5M519.4 172.9v5M517.7 173.6l3.5 3.5M517.7 177.1l3.5 -3.5M513.4 194h5M515.9 191.5v5M514.1 192.2l3.5 3.5M514.1 195.7l3.5 -3.5M494.3 207h5M496.8 204.5v5M495.1 205.2l3.5 3.5M495.1 208.7l3.5 -3.5M515.7 183.4h5M518.2 180.9v5M516.5 181.7l3.5 3.5M516.5 185.2l3.5 -3.5M537.4 168.4h5M539.9 165.9v5M538.1 166.6l3.5 3.5M538.1 170.1l3.5 -3.5M496.9 208.3h5M499.4 205.8v5M497.7 206.5l3.5 3.5M497.7 210l3.5 -3.5M503.6 198.2h5M506.1 195.7v5M504.3 196.4l3.5 3.5M504.3 199.9l3.5 -3.5M521 182.2h5M523.5 179.7v5M521.7 180.4l3.5 3.5M521.7 183.9l3.5 -3.5M543.5 157h5M546 154.5v5M544.3 155.2l3.5 3.5M544.3 158.7l3.5 -3.5M542.6 160.3h5M545.1 157.8v5M543.4 158.5l3.5 3.5M543.4 162l3.5 -3.5M548.6 150.1h5M551.1 147.6v5M549.3 148.3l3.5 3.5M549.3 151.8l3.5 -3.5M529.3 169.7h5M531.8 167.2v5M530 168l3.5 3.5M530 171.5l3.5 -3.5M518.8 175.1h5M521.3 172.6v5M519.5 173.4l3.5 3.5M519.5 176.9l3.5 -3.5M510.6 196.6h5M513.1 194.1v5M511.3 194.9l3.5 3.5M511.3 198.4l3.5 -3.5M535.9 171.2h5M538.4 168.7v5M536.6 169.5l3.5 3.5M536.6 173l3.5 -3.5M517.8 185h5M520.3 182.5v5M518.6 183.3l3.5 3.5M518.6 186.8l3.5 -3.5M511.1 184.1h5M513.6 181.6v5M511.9 182.4l3.5 3.5M511.9 185.9l3.5 -3.5M506.9 200.7h5M509.4 198.2v5M507.7 199l3.5 3.5M507.7 202.5l3.5 -3.5M511.5 195.8h5M514 193.3v5M512.2 194l3.5 3.5M512.2 197.5l3.5 -3.5M500 204.8h5M502.5 202.3v5M500.8 203l3.5 3.5M500.8 206.5l3.5 -3.5M521.8 183.2h5M524.3 180.7v5M522.6 181.5l3.5 3.5M522.6 185l3.5 -3.5M536.5 159.9h5M539 157.4v5M537.3 158.2l3.5 3.5M537.3 161.7l3.5 -3.5M545.4 157.8h5M547.9 155.3v5M546.1 156.1l3.5 3.5M546.1 159.6l3.5 -3.5M520 173.8h5M522.5 171.3v5M520.7 172l3.5 3.5M520.7 175.5l3.5 -3.5M551 141.4h5M553.5 138.9v5M551.7 139.7l3.5 3.5M551.7 143.2l3.5 -3.5M517.4 184.6h5M519.9 182.1v5M518.1 182.9l3.5 3.5M518.1 186.4l3.5 -3.5M502.7 200.2h5M505.2 197.7v5M503.4 198.5l3.5 3.5M503.4 202l3.5 -3.5M512.3 192.9h5M514.8 190.4v5M513.1 191.2l3.5 3.5M513.1 194.7l3.5 -3.5M548.9 143.5h5M551.4 141v5M549.7 141.7l3.5 3.5M549.7 145.2l3.5 -3.5M550.6 150.2h5M553.1 147.7v5M551.4 148.5l3.5 3.5M551.4 152l3.5 -3.5M500.4 187.2h5M502.9 184.7v5M501.2 185.5l3.5 3.5M501.2 189l3.5 -3.5M509.8 184.7h5M512.3 182.2v5M510.6 183l3.5 3.5M510.6 186.5l3.5 -3.5M510.2 185.6h5M512.7 183.1v5M511 183.8l3.5 3.5M511 187.3l3.5 -3.5M516.3 187.4h5M518.8 184.9v5M517.1 185.7l3.5 3.5M517.1 189.2l3.5 -3.5M500 206.5h5M502.5 204v5M500.7 204.7l3.5 3.5M500.7 208.2l3.5 -3.5M530.7 171.3h5M533.2 168.8v5M531.5 169.6l3.5 3.5M531.5 173.1l3.5 -3.5M545.1 151.9h5M547.6 149.4v5M545.9 150.2l3.5 3.5M545.9 153.7l3.5 -3.5M509.5 195.8h5M512 193.3v5M510.2 194.1l3.5 3.5M510.2 197.6l3.5 -3.5M547.8 158.3h5M550.3 155.8v5M548.5 156.6l3.5 3.5M548.5 160.1l3.5 -3.5M496.5 197.7h5M499 195.2v5M497.2 195.9l3.5 3.5M497.2 199.4l3.5 -3.5M497 197.3h5M499.5 194.8v5M497.8 195.6l3.5 3.5M497.8 199.1l3.5 -3.5M526.4 173.3h5M528.9 170.8v5M527.1 171.5l3.5 3.5M527.1 175l3.5 -3.5M542.3 163.7h5M544.8 161.2v5M543.1 161.9l3.5 3.5M543.1 165.4l3.5 -3.5M542.5 155.7h5M545 153.2v5M543.2 153.9l3.5 3.5M543.2 157.4l3.5 -3.5M530.1 173.8h5M532.6 171.3v5M530.8 172.1l3.5 3.5M530.8 175.6l3.5 -3.5M506.3 201.8h5M508.8 199.3v5M507.1 200.1l3.5 3.5M507.1 203.6l3.5 -3.5M511.4 187.6h5M513.9 185.1v5M512.1 185.8l3.5 3.5M512.1 189.3l3.5 -3.5M505.4 200.7h5M507.9 198.2v5M506.2 198.9l3.5 3.5M506.2 202.4l3.5 -3.5M527.4 172.4h5M529.9 169.9v5M528.1 170.7l3.5 3.5M528.1 174.2l3.5 -3.5M530.6 172.1h5M533.1 169.6v5M531.3 170.4l3.5 3.5M531.3 173.9l3.5 -3.5M550 153.1h5M552.5 150.6v5M550.7 151.3l3.5 3.5M550.7 154.8l3.5 -3.5M550.6 152.2h5M553.1 149.7v5M551.3 150.5l3.5 3.5M551.3 154l3.5 -3.5M508.4 198.1h5M510.9 195.6v5M509.2 196.4l3.5 3.5M509.2 199.9l3.5 -3.5M497.7 190.7h5M500.2 188.2v5M498.5 189l3.5 3.5M498.5 192.5l3.5 -3.5M512 191.6h5M514.5 189.1v5M512.7 189.8l3.5 3.5M512.7 193.3l3.5 -3.5M527.4 167.9h5M529.9 165.4v5M528.1 166.1l3.5 3.5M528.1 169.6l3.5 -3.5M530.3 167.9h5M532.8 165.4v5M531 166.2l3.5 3.5M531 169.7l3.5 -3.5M501.8 206.7h5M504.3 204.2v5M502.6 204.9l3.5 3.5M502.6 208.4l3.5 -3.5M549.3 150.4h5M551.8 147.9v5M550.1 148.7l3.5 3.5M550.1 152.2l3.5 -3.5M501.3 189h5M503.8 186.5v5M502 187.2l3.5 3.5M502 190.7l3.5 -3.5M521.7 175.8h5M524.2 173.3v5M522.4 174.1l3.5 3.5M522.4 177.6l3.5 -3.5M508.7 193.2h5M511.2 190.7v5M509.5 191.5l3.5 3.5M509.5 195l3.5 -3.5M551.5 143.1h5M554 140.6v5M552.3 141.3l3.5 3.5M552.3 144.8l3.5 -3.5M511.8 190.7h5M514.3 188.2v5M512.6 189l3.5 3.5M512.6 192.5l3.5 -3.5M551 150.1h5M553.5 147.6v5M551.7 148.3l3.5 3.5M551.7 151.8l3.5 -3.5M518.2 175.7h5M520.7 173.2v5M519 174l3.5 3.5M519 177.5l3.5 -3.5M548.3 157.1h5M550.8 154.6v5M549.1 155.3l3.5 3.5M549.1 158.8l3.5 -3.5M515.8 188.1h5M518.3 185.6v5M516.5 186.3l3.5 3.5M516.5 189.8l3.5 -3.5M523.3 175.7h5M525.8 173.2v5M524 173.9l3.5 3.5M524 177.4l3.5 -3.5M496.3 194.4h5M498.8 191.9v5M497 192.7l3.5 3.5M497 196.2l3.5 -3.5M544.6 146.4h5M547.1 143.9v5M545.4 144.7l3.5 3.5M545.4 148.2l3.5 -3.5M537.6 160.8h5M540.1 158.3v5M538.3 159l3.5 3.5M538.3 162.5l3.5 -3.5M498.3 211.8h5M500.8 209.3v5M499.1 210.1l3.5 3.5M499.1 213.6l3.5 -3.5M495.7 205.9h5M498.2 203.4v5M496.5 204.1l3.5 3.5M496.5 207.6l3.5 -3.5M533 162.1h5M535.5 159.6v5M533.8 160.4l3.5 3.5M533.8 163.9l3.5 -3.5M498.8 210.5h5M501.3 208v5M499.5 208.7l3.5 3.5M499.5 212.2l3.5 -3.5M541.1 153.5h5M543.6 151v5M541.9 151.8l3.5 3.5M541.9 155.3l3.5 -3.5M499.5 199h5M502 196.5v5M500.2 197.2l3.5 3.5M500.2 200.7l3.5 -3.5M507.3 203h5M509.8 200.5v5M508.1 201.2l3.5 3.5M508.1 204.7l3.5 -3.5M527.4 171.6h5M529.9 169.1v5M528.1 169.9l3.5 3.5M528.1 173.4l3.5 -3.5M523.2 168.3h5M525.7 165.8v5M524 166.5l3.5 3.5M524 170l3.5 -3.5M503 206.6h5M505.5 204.1v5M503.8 204.9l3.5 3.5M503.8 208.4l3.5 -3.5M532.8 162.4h5M535.3 159.9v5M533.5 160.7l3.5 3.5M533.5 164.2l3.5 -3.5M520.6 179.6h5M523.1 177.1v5M521.3 177.8l3.5 3.5M521.3 181.3l3.5 -3.5M501.9 209.4h5M504.4 206.9v5M502.6 207.6l3.5 3.5M502.6 211.1l3.5 -3.5M523.1 172.5h5M525.6 170v5M523.8 170.8l3.5 3.5M523.8 174.3l3.5 -3.5M514.3 181.7h5M516.8 179.2v5M515 180l3.5 3.5M515 183.5l3.5 -3.5M516.9 182h5M519.4 179.5v5M517.7 180.3l3.5 3.5M517.7 183.8l3.5 -3.5M518.6 178.4h5M521.1 175.9v5M519.4 176.6l3.5 3.5M519.4 180.1l3.5 -3.5M547.6 147.2h5M550.1 144.7v5M548.4 145.4l3.5 3.5M548.4 148.9l3.5 -3.5M495.9 195h5M498.4 192.5v5M496.6 193.3l3.5 3.5M496.6 196.8l3.5 -3.5M527 166.7h5M529.5 164.2v5M527.7 165l3.5 3.5M527.7 168.5l3.5 -3.5M548.5 150.5h5M551 148v5M549.2 148.7l3.5 3.5M549.2 152.2l3.5 -3.5M514.6 186.8h5M517.1 184.3v5M515.4 185.1l3.5 3.5M515.4 188.6l3.5 -3.5M510.5 192.4h5M513 189.9v5M511.2 190.7l3.5 3.5M511.2 194.2l3.5 -3.5M550.3 146.6h5M552.8 144.1v5M551.1 144.9l3.5 3.5M551.1 148.4l3.5 -3.5M541 153.3h5M543.5 150.8v5M541.7 151.6l3.5 3.5M541.7 155.1l3.5 -3.5M546.5 150.3h5M549 147.8v5M547.3 148.5l3.5 3.5M547.3 152l3.5 -3.5M501.6 203h5M504.1 200.5v5M502.4 201.3l3.5 3.5M502.4 204.8l3.5 -3.5M497.6 203.9h5M500.1 201.4v5M498.4 202.2l3.5 3.5M498.4 205.7l3.5 -3.5M502.4 208.1h5M504.9 205.6v5M503.2 206.4l3.5 3.5M503.2 209.9l3.5 -3.5M494.3 213.4h5M496.8 210.9v5M495.1 211.7l3.5 3.5M495.1 215.2l3.5 -3.5M497 211.9h5M499.5 209.4v5M497.7 210.1l3.5 3.5M497.7 213.6l3.5 -3.5M517.3 184.8h5M519.8 182.3v5M518 183l3.5 3.5M518 186.5l3.5 -3.5M522.7 173.9h5M525.2 171.4v5M523.4 172.1l3.5 3.5M523.4 175.6l3.5 -3.5M523.5 181.6h5M526 179.1v5M524.2 179.8l3.5 3.5M524.2 183.3l3.5 -3.5M545.6 145.3h5M548.1 142.8v5M546.4 143.6l3.5 3.5M546.4 147.1l3.5 -3.5M535.4 164h5M537.9 161.5v5M536.2 162.2l3.5 3.5M536.2 165.7l3.5 -3.5M495.5 205.2h5M498 202.7v5M496.2 203.4l3.5 3.5M496.2 206.9l3.5 -3.5M544.7 146.2h5M547.2 143.7v5M545.5 144.5l3.5 3.5M545.5 148l3.5 -3.5M535.2 157.2h5M537.7 154.7v5M536 155.4l3.5 3.5M536 158.9l3.5 -3.5M513.8 192.7h5M516.3 190.2v5M514.6 191l3.5 3.5M514.6 194.5l3.5 -3.5M522.3 171.5h5M524.8 169v5M523.1 169.8l3.5 3.5M523.1 173.3l3.5 -3.5M524.6 169.6h5M527.1 167.1v5M525.4 167.8l3.5 3.5M525.4 171.3l3.5 -3.5M496.5 210.7h5M499 208.2v5M497.3 209l3.5 3.5M497.3 212.5l3.5 -3.5M510.9 189.2h5M513.4 186.7v5M511.7 187.4l3.5 3.5M511.7 190.9l3.5 -3.5M516.5 188.7h5M519 186.2v5M517.3 186.9l3.5 3.5M517.3 190.4l3.5 -3.5M522.4 178.3h5M524.9 175.8v5M523.2 176.5l3.5 3.5M523.2 180l3.5 -3.5M536.3 158.5h5M538.8 156v5M537.1 156.7l3.5 3.5M537.1 160.2l3.5 -3.5M545.1 158h5M547.6 155.5v5M545.8 156.2l3.5 3.5M545.8 159.7l3.5 -3.5M535.3 156.1h5M537.8 153.6v5M536 154.4l3.5 3.5M536 157.9l3.5 -3.5M541.5 159.7h5M544 157.2v5M542.2 158l3.5 3.5M542.2 161.5l3.5 -3.5M530.8 164.3h5M533.3 161.8v5M531.5 162.6l3.5 3.5M531.5 166.1l3.5 -3.5M503.8 198.4h5M506.3 195.9v5M504.5 196.6l3.5 3.5M504.5 200.1l3.5 -3.5M495.6 212.3h5M498.1 209.8v5M496.3 210.6l3.5 3.5M496.3 214.1l3.5 -3.5M521.3 182.4h5M523.8 179.9v5M522 180.6l3.5 3.5M522 184.1l3.5 -3.5M539.8 155.6h5M542.3 153.1v5M540.6 153.8l3.5 3.5M540.6 157.3l3.5 -3.5M527.1 166.3h5M529.6 163.8v5M527.8 164.5l3.5 3.5M527.8 168l3.5 -3.5M498.4 201h5M500.9 198.5v5M499.2 199.2l3.5 3.5M499.2 202.7l3.5 -3.5M540.6 160.6h5M543.1 158.1v5M541.4 158.9l3.5 3.5M541.4 162.4l3.5 -3.5M549.4 145.3h5M551.9 142.8v5M550.2 143.6l3.5 3.5M550.2 147.1l3.5 -3.5M522.5 172.5h5M525 170v5M523.2 170.8l3.5 3.5M523.2 174.3l3.5 -3.5M524.4 174.9h5M526.9 172.4v5M525.2 173.1l3.5 3.5M525.2 176.6l3.5 -3.5M518.8 178.3h5M521.3 175.8v5M519.5 176.6l3.5 3.5M519.5 180.1l3.5 -3.5M496.2 195.2h5M498.7 192.7v5M496.9 193.5l3.5 3.5M496.9 197l3.5 -3.5M522.6 176.1h5M525.1 173.6v5M523.4 174.4l3.5 3.5M523.4 177.9l3.5 -3.5M515.3 186.7h5M517.8 184.2v5M516 184.9l3.5 3.5M516 188.4l3.5 -3.5M535.1 163.6h5M537.6 161.1v5M535.8 161.8l3.5 3.5M535.8 165.3l3.5 -3.5M515.3 189.1h5M517.8 186.6v5M516 187.4l3.5 3.5M516 190.9l3.5 -3.5M510.8 194.1h5M513.3 191.6v5M511.6 192.4l3.5 3.5M511.6 195.9l3.5 -3.5M544.8 161.8h5M547.3 159.3v5M545.6 160.1l3.5 3.5M545.6 163.6l3.5 -3.5M595 100h5M597.5 97.5v5M595.8 98.2l3.5 3.5M595.8 101.7l3.5 -3.5M553.8 141.8h5M556.3 139.3v5M554.6 140.1l3.5 3.5M554.6 143.6l3.5 -3.5M596.7 96.3h5M599.2 93.8v5M597.4 94.5l3.5 3.5M597.4 98l3.5 -3.5M574.2 117.7h5M576.7 115.2v5M575 115.9l3.5 3.5M575 119.4l3.5 -3.5M578.9 112.8h5M581.4 110.3v5M579.7 111l3.5 3.5M579.7 114.5l3.5 -3.5M598.3 95.6h5M600.8 93.1v5M599 93.9l3.5 3.5M599 97.4l3.5 -3.5M582.9 110.4h5M585.4 107.9v5M583.7 108.7l3.5 3.5M583.7 112.2l3.5 -3.5M572.8 120.7h5M575.3 118.2v5M573.5 119l3.5 3.5M573.5 122.5l3.5 -3.5M590.4 106.3h5M592.9 103.8v5M591.2 104.5l3.5 3.5M591.2 108l3.5 -3.5M600.9 92.5h5M603.4 90v5M601.6 90.8l3.5 3.5M601.6 94.3l3.5 -3.5M563.6 126.7h5M566.1 124.2v5M564.3 124.9l3.5 3.5M564.3 128.4l3.5 -3.5M563.9 134h5M566.4 131.5v5M564.7 132.2l3.5 3.5M564.7 135.7l3.5 -3.5M578.1 111.8h5M580.6 109.3v5M578.8 110.1l3.5 3.5M578.8 113.6l3.5 -3.5M593.1 98.4h5M595.6 95.9v5M593.9 96.7l3.5 3.5M593.9 100.2l3.5 -3.5M556.4 138.2h5M558.9 135.7v5M557.1 136.4l3.5 3.5M557.1 139.9l3.5 -3.5M594.4 103h5M596.9 100.5v5M595.2 101.3l3.5 3.5M595.2 104.8l3.5 -3.5M569.3 121.6h5M571.8 119.1v5M570 119.9l3.5 3.5M570 123.4l3.5 -3.5M574.8 120.1h5M577.3 117.6v5M575.5 118.3l3.5 3.5M575.5 121.8l3.5 -3.5M565.6 133.3h5M568.1 130.8v5M566.4 131.5l3.5 3.5M566.4 135l3.5 -3.5M586.1 109.3h5M588.6 106.8v5M586.8 107.6l3.5 3.5M586.8 111.1l3.5 -3.5M592 102.3h5M594.5 99.8v5M592.8 100.6l3.5 3.5M592.8 104.1l3.5 -3.5M562.7 135.7h5M565.2 133.2v5M563.5 133.9l3.5 3.5M563.5 137.4l3.5 -3.5M574.3 119.4h5M576.8 116.9v5M575.1 117.6l3.5 3.5M575.1 121.1l3.5 -3.5M595.4 95h5M597.9 92.5v5M596.1 93.2l3.5 3.5M596.1 96.7l3.5 -3.5M583.2 111.6h5M585.7 109.1v5M583.9 109.8l3.5 3.5M583.9 113.3l3.5 -3.5M591.8 107.3h5M594.3 104.8v5M592.6 105.6l3.5 3.5M592.6 109.1l3.5 -3.5M599.6 97.8h5M602.1 95.3v5M600.4 96l3.5 3.5M600.4 99.5l3.5 -3.5M593 102h5M595.5 99.5v5M593.8 100.3l3.5 3.5M593.8 103.8l3.5 -3.5M577.9 113.3h5M580.4 110.8v5M578.6 111.6l3.5 3.5M578.6 115.1l3.5 -3.5M562.4 137.8h5M564.9 135.3v5M563.1 136.1l3.5 3.5M563.1 139.6l3.5 -3.5M563.8 131.4h5M566.3 128.9v5M564.6 129.6l3.5 3.5M564.6 133.1l3.5 -3.5M557.7 134.6h5M560.2 132.1v5M558.5 132.8l3.5 3.5M558.5 136.3l3.5 -3.5M554.7 136.5h5M557.2 134v5M555.4 134.8l3.5 3.5M555.4 138.3l3.5 -3.5M596.6 101.5h5M599.1 99v5M597.3 99.8l3.5 3.5M597.3 103.3l3.5 -3.5M594.1 97.7h5M596.6 95.2v5M594.8 95.9l3.5 3.5M594.8 99.4l3.5 -3.5M554.8 147.2h5M557.3 144.7v5M555.5 145.5l3.5 3.5M555.5 149l3.5 -3.5M561.5 129.8h5M564 127.3v5M562.2 128l3.5 3.5M562.2 131.5l3.5 -3.5M565.9 122.3h5M568.4 119.8v5M566.7 120.6l3.5 3.5M566.7 124.1l3.5 -3.5M590.5 101.5h5M593 99v5M591.3 99.7l3.5 3.5M591.3 103.2l3.5 -3.5M593 100h5M595.5 97.5v5M593.8 98.3l3.5 3.5M593.8 101.8l3.5 -3.5M595.2 97.3h5M597.7 94.8v5M595.9 95.5l3.5 3.5M595.9 99l3.5 -3.5M559.8 137.5h5M562.3 135v5M560.5 135.7l3.5 3.5M560.5 139.2l3.5 -3.5M555.5 147.9h5M558 145.4v5M556.3 146.2l3.5 3.5M556.3 149.7l3.5 -3.5M560.2 136.1h5M562.7 133.6v5M561 134.4l3.5 3.5M561 137.9l3.5 -3.5M591.8 102.3h5M594.3 99.8v5M592.6 100.5l3.5 3.5M592.6 104l3.5 -3.5M579.3 115.8h5M581.8 113.3v5M580.1 114l3.5 3.5M580.1 117.5l3.5 -3.5M564.1 126.4h5M566.6 123.9v5M564.8 124.7l3.5 3.5M564.8 128.2l3.5 -3.5M566.9 121.7h5M569.4 119.2v5M567.7 119.9l3.5 3.5M567.7 123.4l3.5 -3.5M599.3 92h5M601.8 89.5v5M600 90.2l3.5 3.5M600 93.7l3.5 -3.5M565.5 131.1h5M568 128.6v5M566.3 129.4l3.5 3.5M566.3 132.9l3.5 -3.5M582.8 111.8h5M585.3 109.3v5M583.6 110l3.5 3.5M583.6 113.5l3.5 -3.5M561.9 134.6h5M564.4 132.1v5M562.7 132.9l3.5 3.5M562.7 136.4l3.5 -3.5M556.4 143.9h5M558.9 141.4v5M557.1 142.1l3.5 3.5M557.1 145.6l3.5 -3.5M566 129h5M568.5 126.5v5M566.7 127.2l3.5 3.5M566.7 130.7l3.5 -3.5M578.5 113.4h5M581 110.9v5M579.3 111.7l3.5 3.5M579.3 115.2l3.5 -3.5M589.7 107.3h5M592.2 104.8v5M590.5 105.5l3.5 3.5M590.5 109l3.5 -3.5M577.6 121.7h5M580.1 119.2v5M578.3 120l3.5 3.5M578.3 123.5l3.5 -3.5M586.2 108.2h5M588.7 105.7v5M586.9 106.5l3.5 3.5M586.9 110l3.5 -3.5M558.1 143.3h5M560.6 140.8v5M558.8 141.6l3.5 3.5M558.8 145.1l3.5 -3.5M560.5 133.5h5M563 131v5M561.3 131.8l3.5 3.5M561.3 135.3l3.5 -3.5M566.1 127.2h5M568.6 124.7v5M566.8 125.5l3.5 3.5M566.8 129l3.5 -3.5M584.5 105.6h5M587 103.1v5M585.3 103.9l3.5 3.5M585.3 107.4l3.5 -3.5M557.7 143.9h5M560.2 141.4v5M558.5 142.2l3.5 3.5M558.5 145.7l3.5 -3.5M586.1 104.9h5M588.6 102.4v5M586.9 103.1l3.5 3.5M586.9 106.6l3.5 -3.5M557.8 144.7h5M560.3 142.2v5M558.6 142.9l3.5 3.5M558.6 146.4l3.5 -3.5M553.7 137.6h5M556.2 135.1v5M554.4 135.9l3.5 3.5M554.4 139.4l3.5 -3.5M562.7 128.6h5M565.2 126.1v5M563.4 126.8l3.5 3.5M563.4 130.3l3.5 -3.5M595.3 100.7h5M597.8 98.2v5M596 99l3.5 3.5M596 102.5l3.5 -3.5M559.7 132.6h5M562.2 130.1v5M560.4 130.9l3.5 3.5M560.4 134.4l3.5 -3.5M555.2 142.3h5M557.7 139.8v5M555.9 140.6l3.5 3.5M555.9 144.1l3.5 -3.5M601.5 95.7h5M604 93.2v5M602.2 94l3.5 3.5M602.2 97.5l3.5 -3.5M563.5 137h5M566 134.5v5M564.3 135.3l3.5 3.5M564.3 138.8l3.5 -3.5M554.5 137.4h5M557 134.9v5M555.2 135.7l3.5 3.5M555.2 139.2l3.5 -3.5M590.6 105.1h5M593.1 102.6v5M591.4 103.3l3.5 3.5M591.4 106.8l3.5 -3.5M578.6 119.6h5M581.1 117.1v5M579.4 117.8l3.5 3.5M579.4 121.3l3.5 -3.5M558.6 132.2h5M561.1 129.7v5M559.3 130.5l3.5 3.5M559.3 134l3.5 -3.5M596.5 100h5M599 97.5v5M597.3 98.3l3.5 3.5M597.3 101.8l3.5 -3.5M581.3 109.1h5M583.8 106.6v5M582.1 107.4l3.5 3.5M582.1 110.9l3.5 -3.5M581.2 112.4h5M583.7 109.9v5M582 110.6l3.5 3.5M582 114.1l3.5 -3.5M576.5 116.9h5M579 114.4v5M577.2 115.1l3.5 3.5M577.2 118.6l3.5 -3.5M584.8 109.2h5M587.3 106.7v5M585.6 107.5l3.5 3.5M585.6 111l3.5 -3.5M558.3 139.4h5M560.8 136.9v5M559 137.6l3.5 3.5M559 141.1l3.5 -3.5M556.3 141.9h5M558.8 139.4v5M557.1 140.2l3.5 3.5M557.1 143.7l3.5 -3.5M578.1 120.8h5M580.6 118.3v5M578.9 119.1l3.5 3.5M578.9 122.6l3.5 -3.5M588.4 108.1h5M590.9 105.6v5M589.2 106.3l3.5 3.5M589.2 109.8l3.5 -3.5M561.4 129.7h5M563.9 127.2v5M562.1 127.9l3.5 3.5M562.1 131.4l3.5 -3.5M562.2 129.7h5M564.7 127.2v5M562.9 128l3.5 3.5M562.9 131.5l3.5 -3.5M594.7 103h5M597.2 100.5v5M595.4 101.3l3.5 3.5M595.4 104.8l3.5 -3.5M558.5 140.9h5M561 138.4v5M559.3 139.2l3.5 3.5M559.3 142.7l3.5 -3.5M577.1 117.8h5M579.6 115.3v5M577.9 116l3.5 3.5M577.9 119.5l3.5 -3.5M561.4 126.9h5M563.9 124.4v5M562.2 125.2l3.5 3.5M562.2 128.7l3.5 -3.5M571.2 122.2h5M573.7 119.7v5M571.9 120.4l3.5 3.5M571.9 123.9l3.5 -3.5M595 99.5h5M597.5 97v5M595.7 97.7l3.5 3.5M595.7 101.2l3.5 -3.5M553.7 146h5M556.2 143.5v5M554.4 144.3l3.5 3.5M554.4 147.8l3.5 -3.5M571.6 120.9h5M574.1 118.4v5M572.3 119.1l3.5 3.5M572.3 122.6l3.5 -3.5M580.6 108.2h5M583.1 105.7v5M581.3 106.4l3.5 3.5M581.3 109.9l3.5 -3.5M576.9 113.3h5M579.4 110.8v5M577.7 111.5l3.5 3.5M577.7 115l3.5 -3.5M568.8 119.1h5M571.3 116.6v5M569.6 117.3l3.5 3.5M569.6 120.8l3.5 -3.5M558.5 132h5M561 129.5v5M559.3 130.3l3.5 3.5M559.3 133.8l3.5 -3.5M586.4 103.9h5M588.9 101.4v5M587.1 102.2l3.5 3.5M587.1 105.7l3.5 -3.5M560.6 129.1h5M563.1 126.6v5M561.3 127.3l3.5 3.5M561.3 130.8l3.5 -3.5M576.3 113.6h5M578.8 111.1v5M577 111.8l3.5 3.5M577 115.3l3.5 -3.5M565.2 134.4h5M567.7 131.9v5M566 132.6l3.5 3.5M566 136.1l3.5 -3.5M576 117.1h5M578.5 114.6v5M576.7 115.3l3.5 3.5M576.7 118.8l3.5 -3.5M556.5 146.8h5M559 144.3v5M557.2 145l3.5 3.5M557.2 148.5l3.5 -3.5M558.3 132.1h5M560.8 129.6v5M559 130.3l3.5 3.5M559 133.8l3.5 -3.5M577.8 110.5h5M580.3 108v5M578.5 108.8l3.5 3.5M578.5 112.3l3.5 -3.5M601.6 95.5h5M604.1 93v5M602.3 93.7l3.5 3.5M602.3 97.2l3.5 -3.5M589.9 106.2h5M592.4 103.7v5M590.6 104.5l3.5 3.5M590.6 108l3.5 -3.5M594.5 97.9h5M597 95.4v5M595.3 96.1l3.5 3.5M595.3 99.6l3.5 -3.5M588.8 107.6h5M591.3 105.1v5M589.5 105.9l3.5 3.5M589.5 109.4l3.5 -3.5M580.3 108.4h5M582.8 105.9v5M581 106.7l3.5 3.5M581 110.2l3.5 -3.5M575.1 114.4h5M577.6 111.9v5M575.8 112.7l3.5 3.5M575.8 116.2l3.5 -3.5M563.7 127.3h5M566.2 124.8v5M564.4 125.6l3.5 3.5M564.4 129.1l3.5 -3.5M557.3 137.8h5M559.8 135.3v5M558 136.1l3.5 3.5M558 139.6l3.5 -3.5M558 144.2h5M560.5 141.7v5M558.8 142.5l3.5 3.5M558.8 146l3.5 -3.5M564.5 126.5h5M567 124v5M565.3 124.8l3.5 3.5M565.3 128.3l3.5 -3.5M563.2 127.7h5M565.7 125.2v5M564 126l3.5 3.5M564 129.5l3.5 -3.5M574.1 119.8h5M576.6 117.3v5M574.8 118.1l3.5 3.5M574.8 121.6l3.5 -3.5M596.7 97.3h5M599.2 94.8v5M597.4 95.5l3.5 3.5M597.4 99l3.5 -3.5M581.2 109.9h5M583.7 107.4v5M581.9 108.1l3.5 3.5M581.9 111.6l3.5 -3.5M564.2 135.8h5M566.7 133.3v5M564.9 134.1l3.5 3.5M564.9 137.6l3.5 -3.5M562.4 129.2h5M564.9 126.7v5M563.2 127.4l3.5 3.5M563.2 130.9l3.5 -3.5M555.2 139.6h5M557.7 137.1v5M556 137.9l3.5 3.5M556 141.4l3.5 -3.5M579.5 113.3h5M582 110.8v5M580.3 111.6l3.5 3.5M580.3 115.1l3.5 -3.5M566.1 122h5M568.6 119.5v5M566.9 120.3l3.5 3.5M566.9 123.8l3.5 -3.5M588 106.8h5M590.5 104.3v5M588.8 105.1l3.5 3.5M588.8 108.6l3.5 -3.5M592.4 100.1h5M594.9 97.6v5M593.1 98.3l3.5 3.5M593.1 101.8l3.5 -3.5M588.9 101h5M591.4 98.5v5M589.7 99.2l3.5 3.5M589.7 102.7l3.5 -3.5M597.6 97h5M600.1 94.5v5M598.4 95.3l3.5 3.5M598.4 98.8l3.5 -3.5M597.8 98.8h5M600.3 96.3v5M598.6 97.1l3.5 3.5M598.6 100.6l3.5 -3.5M594.8 95.9h5M597.3 93.4v5M595.5 94.2l3.5 3.5M595.5 97.7l3.5 -3.5M602 92.4h5M604.5 89.9v5M602.7 90.7l3.5 3.5M602.7 94.2l3.5 -3.5M574 117.9h5M576.5 115.4v5M574.8 116.1l3.5 3.5M574.8 119.6l3.5 -3.5M560.4 130h5M562.9 127.5v5M561.2 128.2l3.5 3.5M561.2 131.7l3.5 -3.5M572.7 123.1h5M575.2 120.6v5M573.5 121.4l3.5 3.5M573.5 124.9l3.5 -3.5M582.7 113.2h5M585.2 110.7v5M583.4 111.4l3.5 3.5M583.4 114.9l3.5 -3.5M554.2 143.2h5M556.7 140.7v5M555 141.5l3.5 3.5M555 145l3.5 -3.5M555.1 137.9h5M557.6 135.4v5M555.8 136.1l3.5 3.5M555.8 139.6l3.5 -3.5M582.1 113.3h5M584.6 110.8v5M582.8 111.6l3.5 3.5M582.8 115.1l3.5 -3.5M583.7 109.6h5M586.2 107.1v5M584.5 107.9l3.5 3.5M584.5 111.4l3.5 -3.5M600.4 95.6h5M602.9 93.1v5M601.1 93.8l3.5 3.5M601.1 97.3l3.5 -3.5M554.8 135.9h5M557.3 133.4v5M555.6 134.1l3.5 3.5M555.6 137.6l3.5 -3.5M559.5 139h5M562 136.5v5M560.2 137.3l3.5 3.5M560.2 140.8l3.5 -3.5M577.7 113.8h5M580.2 111.3v5M578.5 112l3.5 3.5M578.5 115.5l3.5 -3.5M601.8 91h5M604.3 88.5v5M602.6 89.3l3.5 3.5M602.6 92.8l3.5 -3.5M574.4 117.8h5M576.9 115.3v5M575.2 116l3.5 3.5M575.2 119.5l3.5 -3.5M562.2 127.9h5M564.7 125.4v5M562.9 126.2l3.5 3.5M562.9 129.7l3.5 -3.5M555.7 147h5M558.2 144.5v5M556.5 145.2l3.5 3.5M556.5 148.7l3.5 -3.5M593.7 100.2h5M596.2 97.7v5M594.4 98.5l3.5 3.5M594.4 102l3.5 -3.5M595.4 96.7h5M597.9 94.2v5M596.2 95l3.5 3.5M596.2 98.5l3.5 -3.5M560.7 128.8h5M563.2 126.3v5M561.4 127l3.5 3.5M561.4 130.5l3.5 -3.5M565.5 126.7h5M568 124.2v5M566.3 124.9l3.5 3.5M566.3 128.4l3.5 -3.5M554.6 136.7h5M557.1 134.2v5M555.3 134.9l3.5 3.5M555.3 138.4l3.5 -3.5M557.7 135.5h5M560.2 133v5M558.4 133.8l3.5 3.5M558.4 137.3l3.5 -3.5" stroke="#77AC30" stroke-width="1.0" fill="none" clip-path="url(#cR)"/>
<line x1="401.9" y1="294.9" x2="681.5" y2="28" stroke="#77AC30" stroke-width="2" clip-path="url(#cR)"/>
<path d="M504.4 198.4h5M506.9 195.9v5M505.2 196.6l3.5 3.5M505.2 200.1l3.5 -3.5M506.4 197.8h5M508.9 195.3v5M507.1 196l3.5 3.5M507.1 199.5l3.5 -3.5M498.1 211.5h5M500.6 209v5M498.9 209.8l3.5 3.5M498.9 213.3l3.5 -3.5M499.1 213.9h5M501.6 211.4v5M499.8 212.1l3.5 3.5M499.8 215.6l3.5 -3.5M514.5 195.6h5M517 193.1v5M515.2 193.9l3.5 3.5M515.2 197.4l3.5 -3.5" stroke="#0B2A8C" stroke-width="1.0" fill="none" clip-path="url(#cR)"/>
<path d="M490.8 248.7h5M493.3 246.2v5M491.6 246.9l3.5 3.5M491.6 250.4l3.5 -3.5M492 250.6h5M494.5 248.1v5M492.7 248.9l3.5 3.5M492.7 252.4l3.5 -3.5M481.7 257.5h5M484.2 255v5M482.5 255.8l3.5 3.5M482.5 259.3l3.5 -3.5M486.2 258.5h5M488.7 256v5M486.9 256.8l3.5 3.5M486.9 260.3l3.5 -3.5M487.2 257h5M489.7 254.5v5M487.9 255.3l3.5 3.5M487.9 258.8l3.5 -3.5" stroke="#FF00FF" stroke-width="1.0" fill="none" clip-path="url(#cR)"/>
<path d="M479.3 239.5h2.8M480.7 238.1v2.8M479.7 238.5l2 2M479.7 240.5l2 -2" stroke="#FF00FF" stroke-width="0.9" fill="none"/>
<text class="t" transform="translate(408.8 329) scale(0.955 1)" text-anchor="middle">0</text>
<text class="t" transform="translate(466 329) scale(0.955 1)" text-anchor="middle">0.1</text>
<text class="t" transform="translate(523.2 329) scale(0.955 1)" text-anchor="middle">0.2</text>
<text class="t" transform="translate(580.4 329) scale(0.955 1)" text-anchor="middle">0.3</text>
<text class="t" transform="translate(637.6 329) scale(0.955 1)" text-anchor="middle">0.4</text>
<text class="t" transform="translate(381.9 295.1) scale(0.955 1)" text-anchor="end">0</text>
<text class="t" transform="translate(381.9 266.5) scale(0.955 1)" text-anchor="end">0.05</text>
<text class="t" transform="translate(381.9 237.9) scale(0.955 1)" text-anchor="end">0.1</text>
<text class="t" transform="translate(381.9 209.3) scale(0.955 1)" text-anchor="end">0.15</text>
<text class="t" transform="translate(381.9 180.7) scale(0.955 1)" text-anchor="end">0.2</text>
<text class="t" transform="translate(381.9 152.1) scale(0.955 1)" text-anchor="end">0.25</text>
<text class="t" transform="translate(381.9 123.5) scale(0.955 1)" text-anchor="end">0.3</text>
<text class="t" transform="translate(381.9 94.9) scale(0.955 1)" text-anchor="end">0.35</text>
<text class="t" transform="translate(381.9 66.3) scale(0.955 1)" text-anchor="end">0.4</text>
<text class="t" transform="translate(381.9 37.7) scale(0.955 1)" text-anchor="end">0.45</text>
<text class="s" x="532.1" y="11" text-anchor="middle">Testing</text>
<text class="s2" x="533.8" y="344.1" text-anchor="middle">Target</text>
<rect x="391.4" y="22.3" width="154.6" height="114.8" fill="#fff" stroke="#262626" stroke-width="0.8"/>
<path d="M404.5 29.8h5M407 27.3v5M405.3 28.1l3.5 3.5M405.3 31.6l3.5 -3.5" stroke="#D95319" stroke-width="0.8" fill="none"/>
<text class="l" transform="translate(422.1 33.2) scale(0.900 1)">inertia weight=0.85, R=0.978</text>
<line x1="394.6" y1="42.4" x2="419.4" y2="42.4" stroke="#D95319" stroke-width="2"/>
<text class="l" transform="translate(422.1 45.8) scale(0.900 1)">Fit</text>
<line x1="394.6" y1="54.9" x2="419.4" y2="54.9" stroke="#777" stroke-width="0.6" stroke-dasharray="0.8 1.6"/>
<text class="l" transform="translate(422.1 58.3) scale(0.900 1)">Y = T</text>
<path d="M404.5 67.5h5M407 65v5M405.3 65.7l3.5 3.5M405.3 69.2l3.5 -3.5" stroke="#FF00FF" stroke-width="0.8" fill="none"/>
<text class="l" transform="translate(422.1 70.9) scale(0.900 1)">inertia weight=0.9, R=0.977</text>
<line x1="394.6" y1="80" x2="419.4" y2="80" stroke="#FF00FF" stroke-width="2"/>
<text class="l" transform="translate(422.1 83.4) scale(0.900 1)">Fit</text>
<path d="M404.5 92.6h5M407 90.1v5M405.3 90.9l3.5 3.5M405.3 94.4l3.5 -3.5" stroke="#0B2A8C" stroke-width="0.8" fill="none"/>
<text class="l" transform="translate(422.1 96) scale(0.900 1)">inertia weight=0.95, R=0.976</text>
<line x1="394.6" y1="105.2" x2="419.4" y2="105.2" stroke="#0B2A8C" stroke-width="2"/>
<text class="l" transform="translate(422.1 108.6) scale(0.900 1)">Fit</text>
<path d="M404.5 117.7h5M407 115.2v5M405.3 116l3.5 3.5M405.3 119.5l3.5 -3.5" stroke="#77AC30" stroke-width="0.8" fill="none"/>
<text class="l" transform="translate(422.1 121.1) scale(0.900 1)">inertia weight=1, R=0.981</text>
<line x1="394.6" y1="130.3" x2="419.4" y2="130.3" stroke="#77AC30" stroke-width="2"/>
<text class="l" transform="translate(422.1 133.7) scale(0.900 1)">Fit</text>
</svg>
</body></html>
